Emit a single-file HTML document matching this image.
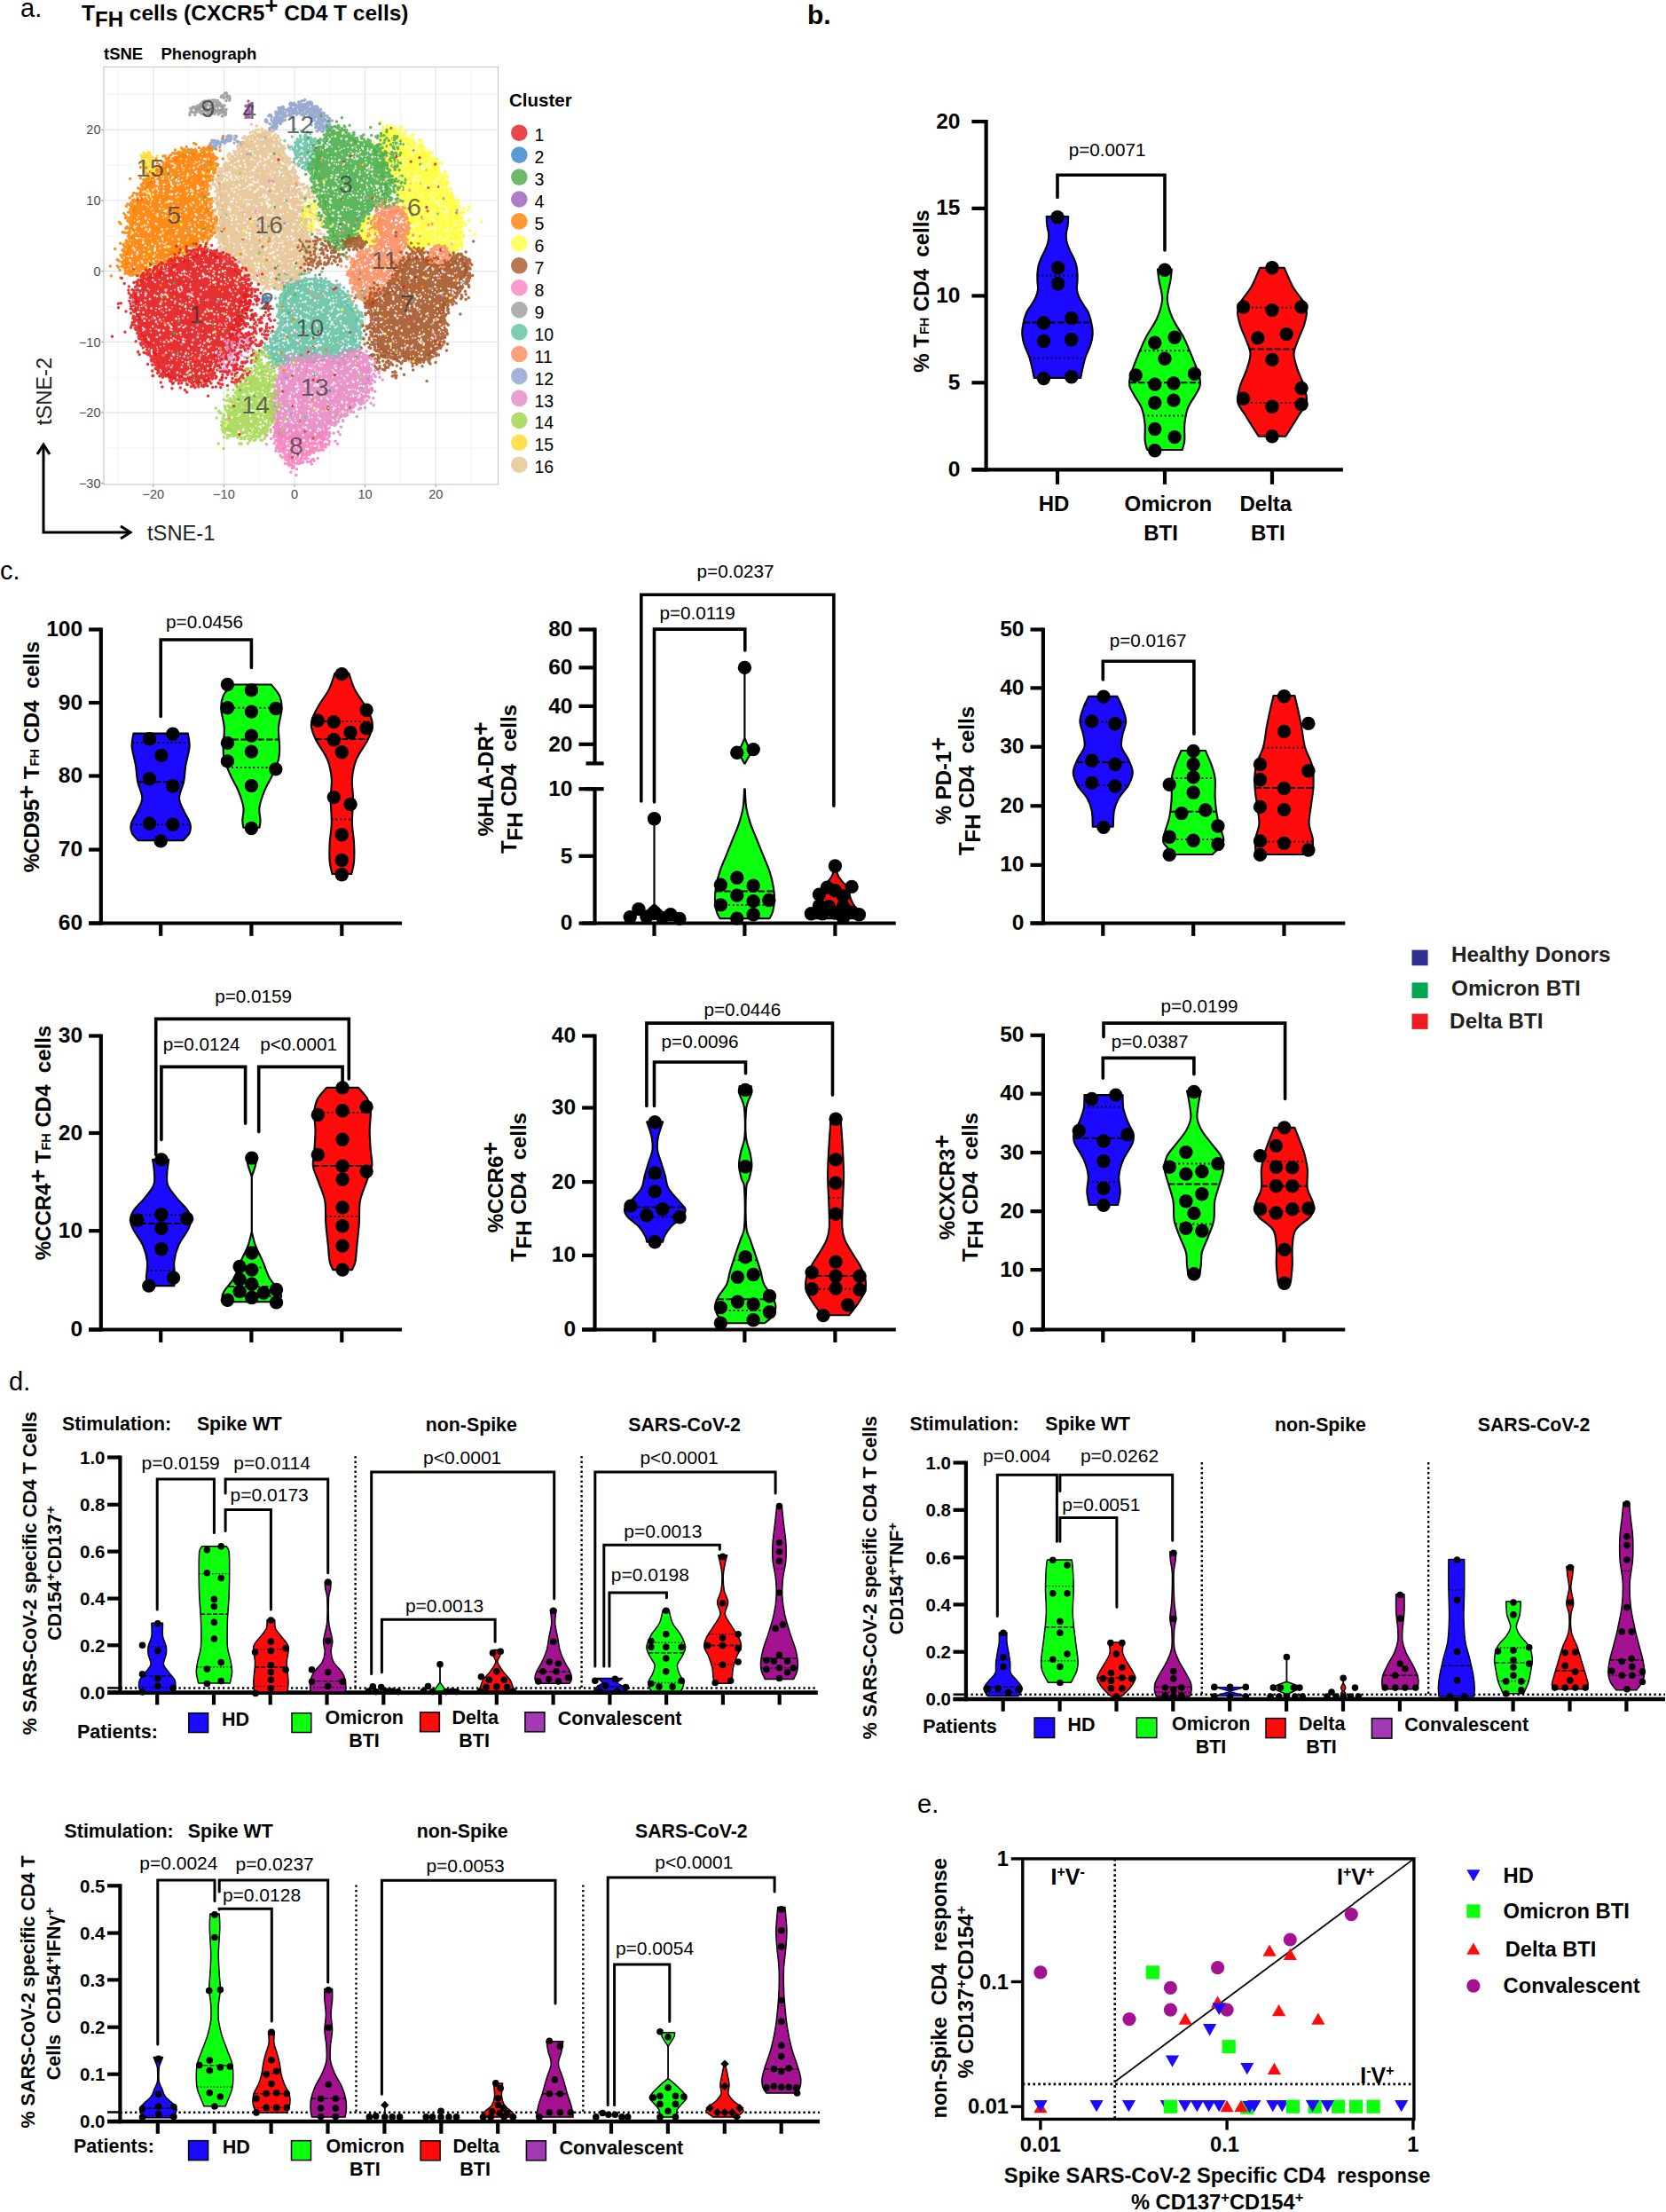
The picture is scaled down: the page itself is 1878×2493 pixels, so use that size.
<!DOCTYPE html>
<html lang="en"><head><meta charset="utf-8"><title>Figure</title>
<style>html,body{margin:0;padding:0;background:#fff}svg{display:block}text{font-family:"Liberation Sans",sans-serif}</style></head>
<body>
<svg width="1878" height="2493" viewBox="0 0 1878 2493">
<rect width="1878" height="2493" fill="#fff"/>
<g id="panel-b">
<text x="910" y="27" font-size="30" font-weight="bold" text-anchor="start" fill="#000">b.</text>
<line x1="1111.6" y1="134.9" x2="1111.6" y2="531.4" stroke="#000" stroke-width="4.2"/>
<line x1="1095.4" y1="529.3" x2="1513.9" y2="529.3" stroke="#000" stroke-width="4.2"/>
<line x1="1095.4" y1="137" x2="1111.6" y2="137" stroke="#000" stroke-width="4.2"/>
<text x="1082.4" y="144.5" font-size="24.5" font-weight="bold" text-anchor="end" fill="#000">20</text>
<line x1="1095.4" y1="234.9" x2="1111.6" y2="234.9" stroke="#000" stroke-width="4.2"/>
<text x="1082.4" y="242.4" font-size="24.5" font-weight="bold" text-anchor="end" fill="#000">15</text>
<line x1="1095.4" y1="333.4" x2="1111.6" y2="333.4" stroke="#000" stroke-width="4.2"/>
<text x="1082.4" y="340.9" font-size="24.5" font-weight="bold" text-anchor="end" fill="#000">10</text>
<line x1="1095.4" y1="431.3" x2="1111.6" y2="431.3" stroke="#000" stroke-width="4.2"/>
<text x="1082.4" y="438.8" font-size="24.5" font-weight="bold" text-anchor="end" fill="#000">5</text>
<line x1="1095.4" y1="529.3" x2="1111.6" y2="529.3" stroke="#000" stroke-width="4.2"/>
<text x="1082.4" y="536.8" font-size="24.5" font-weight="bold" text-anchor="end" fill="#000">0</text>
<line x1="1192" y1="529.3" x2="1192" y2="545.9" stroke="#000" stroke-width="4.2"/>
<line x1="1313" y1="529.3" x2="1313" y2="545.9" stroke="#000" stroke-width="4.2"/>
<line x1="1434" y1="529.3" x2="1434" y2="545.9" stroke="#000" stroke-width="4.2"/>
<text x="1046.5" y="328" font-size="24" font-weight="bold" text-anchor="middle" fill="#000" transform="rotate(-90 1046.5 328)">% T<tspan font-size="14.5">FH</tspan> CD4&#160; cells</text>
<path d="M1192 222.4V197.2H1313V281.9" fill="none" stroke="#000" stroke-width="3.6" stroke-linecap="round" stroke-linejoin="miter"/>
<text x="1248.1" y="175.6" font-size="20.7" font-weight="normal" text-anchor="middle" fill="#000">p=0.0071</text>
<text x="1188" y="575.7" font-size="24" font-weight="bold" text-anchor="middle" fill="#000">HD</text>
<text x="1316.9" y="575.7" font-size="24" font-weight="bold" text-anchor="middle" fill="#000">Omicron</text>
<text x="1308.6" y="608.9" font-size="24" font-weight="bold" text-anchor="middle" fill="#000">BTI</text>
<text x="1426.8" y="575.7" font-size="24" font-weight="bold" text-anchor="middle" fill="#000">Delta</text>
<text x="1429.3" y="608.9" font-size="24" font-weight="bold" text-anchor="middle" fill="#000">BTI</text>
<path d="M1204.2 244.1C1204.1 245.7 1204 251 1203.7 254.1C1203.3 257.3 1202.1 260.1 1201.9 263.1C1201.6 266.1 1201.8 269.1 1202.4 272.1C1203 275.1 1204.2 278.1 1205.5 281.2C1206.7 284.2 1208.7 287.2 1210 290.2C1211.3 293.1 1212.5 295.8 1213.2 298.8C1214 301.8 1214.3 305.2 1214.5 308.2C1214.7 311.2 1214.6 313.8 1214.5 316.8C1214.4 319.8 1213.6 323.2 1213.9 326.2C1214.2 329.2 1215 331.8 1216.3 334.8C1217.6 337.8 1219.9 341.2 1221.7 344.2C1223.5 347.2 1225.5 349.1 1227.1 352.8C1228.6 356.5 1230.1 362.4 1230.8 366.5C1231.6 370.6 1231.8 373.7 1231.6 377.3C1231.3 380.9 1230.7 383.9 1229.4 388.1C1228.1 392.3 1225.2 397.7 1223.6 402.5C1222.1 407.3 1220.9 413 1220 416.9C1219.1 420.8 1218.5 424.4 1218.2 425.9L1165.7 425.9C1165.4 424.4 1164.8 420.8 1163.9 416.9C1163 413 1161.8 407.3 1160.3 402.5C1158.7 397.7 1155.8 392.3 1154.5 388.1C1153.2 383.9 1152.6 380.9 1152.3 377.3C1152.1 373.7 1152.3 370.6 1153.1 366.5C1153.8 362.4 1155.3 356.5 1156.8 352.8C1158.4 349.1 1160.4 347.2 1162.2 344.2C1164 341.2 1166.4 337.8 1167.6 334.8C1168.9 331.8 1169.7 329.2 1170 326.2C1170.3 323.2 1169.5 319.8 1169.4 316.8C1169.4 313.8 1169.2 311.2 1169.4 308.2C1169.7 305.2 1170 301.8 1170.7 298.8C1171.5 295.8 1172.7 293.1 1173.9 290.2C1175.2 287.2 1177.2 284.2 1178.4 281.2C1179.7 278.1 1180.9 275.1 1181.5 272.1C1182.1 269.1 1182.3 266.1 1182.1 263.1C1181.8 260.1 1180.6 257.3 1180.3 254.1C1179.9 251 1179.8 245.7 1179.7 244.1Z" fill="#1b0aff" stroke="#000" stroke-width="2.1" stroke-linejoin="round"/>
<line x1="1153.9" y1="363.6" x2="1230.1" y2="363.6" stroke="#000" stroke-width="2" stroke-dasharray="7.2 2.4"/>
<line x1="1169.4" y1="310.7" x2="1214.5" y2="310.7" stroke="#000" stroke-width="2" stroke-dasharray="1.9 2.9"/>
<line x1="1160.5" y1="403.6" x2="1223.4" y2="403.6" stroke="#000" stroke-width="2" stroke-dasharray="1.9 2.9"/>
<circle cx="1192" cy="244.8" r="7.7"/>
<circle cx="1192.7" cy="301.7" r="7.7"/>
<circle cx="1192.7" cy="319.7" r="7.7"/>
<circle cx="1176.5" cy="364" r="7.7"/>
<circle cx="1207.8" cy="358.6" r="7.7"/>
<circle cx="1176.5" cy="384.5" r="7.7"/>
<circle cx="1207.8" cy="382.7" r="7.7"/>
<circle cx="1176.5" cy="426.6" r="7.7"/>
<circle cx="1207.8" cy="424.8" r="7.7"/>
<path d="M1320.9 303.5C1320.6 305.6 1320.3 310.4 1319.4 316.1C1318.6 321.8 1315.4 330.5 1315.8 337.7C1316.3 344.9 1318.8 352.1 1322 359.3C1325.1 366.5 1330.7 373.1 1334.6 380.9C1338.5 388.7 1342.5 398.9 1345.4 406.1C1348.3 413.3 1350.7 419.3 1351.9 424.1C1353.1 428.9 1353.4 431.3 1352.6 434.9C1351.8 438.5 1349.5 441.5 1347.2 445.7C1344.9 449.9 1340.9 454.7 1338.9 460.1C1336.9 465.5 1335.9 472.1 1335.3 478.1C1334.7 484.1 1335.7 491.4 1335.3 496.2C1334.9 501 1333.2 505.2 1332.8 507L1293.2 507C1292.7 505.2 1291.1 501 1290.6 496.2C1290.2 491.4 1291.2 484.1 1290.6 478.1C1290 472.1 1289 465.5 1287 460.1C1285.1 454.7 1281 449.9 1278.7 445.7C1276.5 441.5 1274.1 438.5 1273.3 434.9C1272.6 431.3 1272.9 428.9 1274.1 424.1C1275.3 419.3 1277.7 413.3 1280.5 406.1C1283.4 398.9 1287.5 388.7 1291.4 380.9C1295.3 373.1 1300.8 366.5 1304 359.3C1307.1 352.1 1309.7 344.9 1310.1 337.7C1310.5 330.5 1307.3 321.8 1306.5 316.1C1305.6 310.4 1305.3 305.6 1305 303.5Z" fill="#0cff0c" stroke="#000" stroke-width="2.1" stroke-linejoin="round"/>
<line x1="1273.6" y1="431.3" x2="1352.3" y2="431.3" stroke="#000" stroke-width="2" stroke-dasharray="7.2 2.4"/>
<line x1="1285.2" y1="395.3" x2="1340.7" y2="395.3" stroke="#000" stroke-width="2" stroke-dasharray="1.9 2.9"/>
<line x1="1288.7" y1="468.4" x2="1337.2" y2="468.4" stroke="#000" stroke-width="2" stroke-dasharray="1.9 2.9"/>
<circle cx="1313" cy="304.2" r="7.7"/>
<circle cx="1324.1" cy="380.2" r="7.7"/>
<circle cx="1301.8" cy="386.3" r="7.7"/>
<circle cx="1313" cy="404.3" r="7.7"/>
<circle cx="1280.2" cy="423" r="7.7"/>
<circle cx="1346.5" cy="421.2" r="7.7"/>
<circle cx="1301.8" cy="433.1" r="7.7"/>
<circle cx="1323" cy="432" r="7.7"/>
<circle cx="1301.8" cy="454" r="7.7"/>
<circle cx="1323" cy="451.1" r="7.7"/>
<circle cx="1301.8" cy="483.5" r="7.7"/>
<circle cx="1324.1" cy="492.6" r="7.7"/>
<circle cx="1301.8" cy="507.7" r="7.7"/>
<path d="M1447.7 301.7C1449.3 305.3 1453.7 316.7 1457.4 323.3C1461.1 329.9 1467.4 336.5 1470 341.3C1472.6 346.1 1472.9 347.9 1472.9 352.1C1472.9 356.3 1471.7 361.1 1470 366.5C1468.3 371.9 1464.7 379.1 1462.8 384.5C1460.9 389.9 1458.5 393.5 1458.5 398.9C1458.5 404.3 1460.9 410.9 1462.8 416.9C1464.7 422.9 1468.3 428.9 1470 434.9C1471.7 440.9 1473.8 447.5 1472.9 452.9C1472 458.3 1467.5 462.5 1464.6 467.3C1461.7 472.1 1458.2 477.7 1455.6 481.7C1453 485.8 1450.2 490.2 1449.1 491.8L1418.8 491.8C1417.8 490.2 1414.9 485.8 1412.4 481.7C1409.8 477.7 1406.2 472.1 1403.4 467.3C1400.5 462.5 1396 458.3 1395.1 452.9C1394.2 447.5 1396.3 440.9 1398 434.9C1399.6 428.9 1403.2 422.9 1405.2 416.9C1407.1 410.9 1409.5 404.3 1409.5 398.9C1409.5 393.5 1407.1 389.9 1405.2 384.5C1403.2 379.1 1399.6 371.9 1398 366.5C1396.3 361.1 1395.1 356.3 1395.1 352.1C1395.1 347.9 1395.4 346.1 1398 341.3C1400.5 336.5 1406.8 329.9 1410.6 323.3C1414.3 316.7 1418.7 305.3 1420.3 301.7Z" fill="#ff0b0b" stroke="#000" stroke-width="2.1" stroke-linejoin="round"/>
<line x1="1407.9" y1="393.5" x2="1460.1" y2="393.5" stroke="#000" stroke-width="2" stroke-dasharray="7.2 2.4"/>
<line x1="1396.5" y1="346.7" x2="1471.4" y2="346.7" stroke="#000" stroke-width="2" stroke-dasharray="1.9 2.9"/>
<line x1="1395.7" y1="454" x2="1472.2" y2="454" stroke="#000" stroke-width="2" stroke-dasharray="1.9 2.9"/>
<circle cx="1434" cy="301.7" r="7.7"/>
<circle cx="1401.6" cy="346" r="7.7"/>
<circle cx="1434" cy="349.6" r="7.7"/>
<circle cx="1467.1" cy="346" r="7.7"/>
<circle cx="1417.8" cy="380.9" r="7.7"/>
<circle cx="1450.2" cy="376.6" r="7.7"/>
<circle cx="1434" cy="405.4" r="7.7"/>
<circle cx="1467.1" cy="437.5" r="7.7"/>
<circle cx="1401.6" cy="449.3" r="7.7"/>
<circle cx="1434" cy="458.3" r="7.7"/>
<circle cx="1467.1" cy="455.8" r="7.7"/>
<circle cx="1434" cy="491.8" r="7.7"/>
</g>
<g id="panel-c">
<text x="0" y="652.5" font-size="29" font-weight="normal" text-anchor="start" fill="#000">c.</text>
<line x1="113.8" y1="707.4" x2="113.8" y2="1042.6" stroke="#000" stroke-width="4.2"/>
<line x1="100.1" y1="1040.5" x2="453.1" y2="1040.5" stroke="#000" stroke-width="4.2"/>
<line x1="100.1" y1="709.5" x2="113.8" y2="709.5" stroke="#000" stroke-width="4.2"/>
<text x="93.1" y="717" font-size="24.5" font-weight="bold" text-anchor="end" fill="#000">100</text>
<line x1="100.1" y1="792" x2="113.8" y2="792" stroke="#000" stroke-width="4.2"/>
<text x="93.1" y="799.5" font-size="24.5" font-weight="bold" text-anchor="end" fill="#000">90</text>
<line x1="100.1" y1="874.5" x2="113.8" y2="874.5" stroke="#000" stroke-width="4.2"/>
<text x="93.1" y="881.9" font-size="24.5" font-weight="bold" text-anchor="end" fill="#000">80</text>
<line x1="100.1" y1="957.6" x2="113.8" y2="957.6" stroke="#000" stroke-width="4.2"/>
<text x="93.1" y="965.1" font-size="24.5" font-weight="bold" text-anchor="end" fill="#000">70</text>
<line x1="100.1" y1="1040.5" x2="113.8" y2="1040.5" stroke="#000" stroke-width="4.2"/>
<text x="93.1" y="1048" font-size="24.5" font-weight="bold" text-anchor="end" fill="#000">60</text>
<line x1="181.2" y1="1040.5" x2="181.2" y2="1054.9" stroke="#000" stroke-width="4.2"/>
<line x1="283.4" y1="1040.5" x2="283.4" y2="1054.9" stroke="#000" stroke-width="4.2"/>
<line x1="385.3" y1="1040.5" x2="385.3" y2="1054.9" stroke="#000" stroke-width="4.2"/>
<text x="43.5" y="853" font-size="24" font-weight="bold" text-anchor="middle" fill="#000" transform="rotate(-90 43.5 853)">%CD95<tspan dy="-5" font-size="27">+</tspan><tspan dy="5" font-size="1">&#8203;</tspan> T<tspan font-size="14.5">FH</tspan> CD4&#160; cells</text>
<path d="M181.2 807.5V721H283.4V752.4" fill="none" stroke="#000" stroke-width="3.6" stroke-linecap="round" stroke-linejoin="miter"/>
<text x="230.5" y="708.4" font-size="20.7" font-weight="normal" text-anchor="middle" fill="#000">p=0.0456</text>
<path d="M211.8 826.6C212.1 829.1 214 835.6 213.6 841.7C213.1 847.8 210.3 856.7 209.2 863.3C208.2 869.9 208.3 875.3 207.1 881.3C205.9 887.3 202 893.9 202 899.3C202 904.7 205 908.9 207.1 913.7C209.1 918.5 213.2 923.9 214.3 928.1C215.4 932.3 214.9 935.7 213.6 938.9C212.2 942.1 207.6 945.8 206.4 947.2L155.9 947.2C154.7 945.8 150.1 942.1 148.7 938.9C147.4 935.7 146.9 932.3 148 928.1C149.1 923.9 153.2 918.5 155.2 913.7C157.3 908.9 160.3 904.7 160.3 899.3C160.3 893.9 156.4 887.3 155.2 881.3C154 875.3 154.1 869.9 153.1 863.3C152 856.7 149.2 847.8 148.7 841.7C148.3 835.6 150.2 829.1 150.5 826.6Z" fill="#1b0aff" stroke="#000" stroke-width="2.1" stroke-linejoin="round"/>
<line x1="155.2" y1="881.3" x2="207.1" y2="881.3" stroke="#000" stroke-width="2" stroke-dasharray="7.2 2.4"/>
<line x1="149.3" y1="837" x2="213" y2="837" stroke="#000" stroke-width="2" stroke-dasharray="1.9 2.9"/>
<line x1="148.1" y1="929.2" x2="214.2" y2="929.2" stroke="#000" stroke-width="2" stroke-dasharray="1.9 2.9"/>
<circle cx="168.5" cy="832.7" r="7.7"/>
<circle cx="194.8" cy="827.3" r="7.7"/>
<circle cx="181.9" cy="851.4" r="7.7"/>
<circle cx="168.5" cy="877.7" r="7.7"/>
<circle cx="194.8" cy="886" r="7.7"/>
<circle cx="168.5" cy="928.1" r="7.7"/>
<circle cx="194.8" cy="929.2" r="7.7"/>
<circle cx="181.2" cy="947.9" r="7.7"/>
<path d="M305.8 771.5C307.3 773.6 313.1 779.6 315.1 784.1C317.1 788.6 317.8 792.5 317.6 798.5C317.5 804.5 314.5 812.9 314 820.1C313.6 827.3 315.1 835.7 315.1 841.7C315.1 847.7 315.4 850.7 314 856.1C312.7 861.5 309.5 868.1 306.8 874.1C304.1 880.1 300.2 886.1 297.8 892.1C295.4 898.1 293.2 904.7 292.4 910.1C291.7 915.5 293.5 920.7 293.5 924.5C293.5 928.3 292.6 931.4 292.4 932.8L274.4 932.8C274.2 931.4 273.3 928.3 273.3 924.5C273.3 920.7 275.1 915.5 274.4 910.1C273.7 904.7 271.4 898.1 269 892.1C266.6 886.1 262.7 880.1 260 874.1C257.3 868.1 254.2 861.5 252.8 856.1C251.4 850.7 251.7 847.7 251.7 841.7C251.7 835.7 253.2 827.3 252.8 820.1C252.4 812.9 249.4 804.5 249.2 798.5C249 792.5 249.8 788.6 251.7 784.1C253.7 779.6 259.5 773.6 261.1 771.5Z" fill="#0cff0c" stroke="#000" stroke-width="2.1" stroke-linejoin="round"/>
<line x1="252.2" y1="833.4" x2="314.7" y2="833.4" stroke="#000" stroke-width="2" stroke-dasharray="7.2 2.4"/>
<line x1="249.3" y1="797.7" x2="317.5" y2="797.7" stroke="#000" stroke-width="2" stroke-dasharray="1.9 2.9"/>
<line x1="256.4" y1="865.1" x2="310.4" y2="865.1" stroke="#000" stroke-width="2" stroke-dasharray="1.9 2.9"/>
<circle cx="256.4" cy="771.5" r="7.7"/>
<circle cx="283.4" cy="777.9" r="7.7"/>
<circle cx="256.4" cy="797.7" r="7.7"/>
<circle cx="283.4" cy="802.1" r="7.7"/>
<circle cx="310.8" cy="798.5" r="7.7"/>
<circle cx="283.4" cy="829.1" r="7.7"/>
<circle cx="256.4" cy="837.4" r="7.7"/>
<circle cx="283.4" cy="847.1" r="7.7"/>
<circle cx="256.4" cy="857.9" r="7.7"/>
<circle cx="310.8" cy="866.9" r="7.7"/>
<circle cx="283.4" cy="885.6" r="7.7"/>
<circle cx="283.4" cy="933.5" r="7.7"/>
<path d="M393.3 758.8C394.4 761.8 396.8 770.9 399.8 776.9C402.8 782.9 408.2 789.5 411.3 794.9C414.4 800.3 417.1 805.1 418.5 809.3C419.9 813.5 420.3 815.9 419.6 820.1C418.8 824.3 417.2 828.5 414.2 834.5C411.2 840.5 404.4 848.9 401.6 856.1C398.7 863.3 397.5 870.5 396.9 877.7C396.3 884.9 398 890.9 398 899.3C398 907.7 396.7 919.7 396.9 928.1C397.1 936.5 398.7 942.5 399 949.7C399.4 956.9 399.5 965.4 399 971.3C398.6 977.2 396.6 982.7 396.2 985L374.5 985C374.1 982.7 372.1 977.2 371.7 971.3C371.2 965.4 371.3 956.9 371.7 949.7C372 942.5 373.6 936.5 373.8 928.1C374 919.7 372.7 907.7 372.7 899.3C372.7 890.9 374.4 884.9 373.8 877.7C373.2 870.5 372 863.3 369.1 856.1C366.3 848.9 359.5 840.5 356.5 834.5C353.5 828.5 351.9 824.3 351.1 820.1C350.4 815.9 350.8 813.5 352.2 809.3C353.6 805.1 356.3 800.3 359.4 794.9C362.5 789.5 367.9 782.9 370.9 776.9C373.9 770.9 376.3 761.8 377.4 758.8Z" fill="#ff0b0b" stroke="#000" stroke-width="2.1" stroke-linejoin="round"/>
<line x1="356" y1="833" x2="414.7" y2="833" stroke="#000" stroke-width="2" stroke-dasharray="7.2 2.4"/>
<line x1="351.9" y1="812.9" x2="418.8" y2="812.9" stroke="#000" stroke-width="2" stroke-dasharray="1.9 2.9"/>
<line x1="373.6" y1="923.4" x2="397" y2="923.4" stroke="#000" stroke-width="2" stroke-dasharray="1.9 2.9"/>
<circle cx="385.3" cy="759.6" r="7.7"/>
<circle cx="413.1" cy="800.3" r="7.7"/>
<circle cx="358.3" cy="812.1" r="7.7"/>
<circle cx="376.3" cy="813.6" r="7.7"/>
<circle cx="395.1" cy="825.5" r="7.7"/>
<circle cx="413.1" cy="820.8" r="7.7"/>
<circle cx="376.3" cy="833.8" r="7.7"/>
<circle cx="385.3" cy="847.8" r="7.7"/>
<circle cx="376.3" cy="898.6" r="7.7"/>
<circle cx="395.1" cy="906.5" r="7.7"/>
<circle cx="385.3" cy="940.7" r="7.7"/>
<circle cx="385.3" cy="969.5" r="7.7"/>
<circle cx="385.3" cy="985.7" r="7.7"/>
<line x1="670.5" y1="707.4" x2="670.5" y2="860.4" stroke="#000" stroke-width="4.2"/>
<line x1="670.5" y1="889.2" x2="670.5" y2="1042.6" stroke="#000" stroke-width="4.2"/>
<line x1="660.5" y1="860.4" x2="680.6" y2="860.4" stroke="#000" stroke-width="4.2"/>
<line x1="660.5" y1="889.2" x2="680.6" y2="889.2" stroke="#000" stroke-width="4.2"/>
<line x1="656.1" y1="1040.5" x2="1009.8" y2="1040.5" stroke="#000" stroke-width="4.2"/>
<line x1="652.5" y1="709.5" x2="670.5" y2="709.5" stroke="#000" stroke-width="4.2"/>
<text x="645.5" y="717.4" font-size="24.5" font-weight="bold" text-anchor="end" fill="#000">80</text>
<line x1="652.5" y1="752.4" x2="670.5" y2="752.4" stroke="#000" stroke-width="4.2"/>
<text x="645.5" y="760.3" font-size="24.5" font-weight="bold" text-anchor="end" fill="#000">60</text>
<line x1="652.5" y1="795.9" x2="670.5" y2="795.9" stroke="#000" stroke-width="4.2"/>
<text x="645.5" y="803.8" font-size="24.5" font-weight="bold" text-anchor="end" fill="#000">40</text>
<line x1="652.5" y1="838.8" x2="670.5" y2="838.8" stroke="#000" stroke-width="4.2"/>
<text x="645.5" y="846.7" font-size="24.5" font-weight="bold" text-anchor="end" fill="#000">20</text>
<line x1="652.5" y1="889.2" x2="670.5" y2="889.2" stroke="#000" stroke-width="4.2"/>
<text x="645.5" y="897.1" font-size="24.5" font-weight="bold" text-anchor="end" fill="#000">10</text>
<line x1="652.5" y1="964.8" x2="670.5" y2="964.8" stroke="#000" stroke-width="4.2"/>
<text x="645.5" y="972.7" font-size="24.5" font-weight="bold" text-anchor="end" fill="#000">5</text>
<line x1="652.5" y1="1040.5" x2="670.5" y2="1040.5" stroke="#000" stroke-width="4.2"/>
<text x="645.5" y="1048.4" font-size="24.5" font-weight="bold" text-anchor="end" fill="#000">0</text>
<line x1="737.5" y1="1040.5" x2="737.5" y2="1054.9" stroke="#000" stroke-width="4.2"/>
<line x1="839.4" y1="1040.5" x2="839.4" y2="1054.9" stroke="#000" stroke-width="4.2"/>
<line x1="941.4" y1="1040.5" x2="941.4" y2="1054.9" stroke="#000" stroke-width="4.2"/>
<text x="556" y="878" font-size="24" font-weight="bold" text-anchor="middle" fill="#000" transform="rotate(-90 556 878)">%HLA-DR<tspan dy="-5" font-size="27">+</tspan><tspan dy="5" font-size="1">&#8203;</tspan></text>
<text x="582" y="878" font-size="24" font-weight="bold" text-anchor="middle" fill="#000" transform="rotate(-90 582 878)">T<tspan dy="6.5" font-size="24">FH</tspan><tspan dy="-6.5" font-size="1">&#8203;</tspan> CD4&#160; cells</text>
<path d="M722.8 902.9V670.3H939.9V908.3" fill="none" stroke="#000" stroke-width="3.6" stroke-linecap="round" stroke-linejoin="miter"/>
<text x="829" y="650.8" font-size="20.7" font-weight="normal" text-anchor="middle" fill="#000">p=0.0237</text>
<path d="M737.5 904V709.1H839.8V732.9" fill="none" stroke="#000" stroke-width="3.6" stroke-linecap="round" stroke-linejoin="miter"/>
<text x="786.1" y="698.3" font-size="20.7" font-weight="normal" text-anchor="middle" fill="#000">p=0.0119</text>
<line x1="737.5" y1="922.7" x2="737.5" y2="1022.5" stroke="#000" stroke-width="2.2"/>
<path d="M738.2 1019.9C739.2 1020.8 742.4 1023.7 744 1025.3C745.6 1027 747.5 1028.4 747.6 1029.7C747.7 1031 746.3 1032.2 744.7 1033.3C743.2 1034.4 739.3 1035.7 738.2 1036.2L736.8 1036.2C735.7 1035.7 731.9 1034.4 730.3 1033.3C728.8 1032.2 727.3 1031 727.4 1029.7C727.6 1028.4 729.5 1027 731 1025.3C732.6 1023.7 735.8 1020.8 736.8 1019.9Z" fill="#1b0aff" stroke="#000" stroke-width="2.1" stroke-linejoin="round"/>
<circle cx="737.5" cy="922.7" r="7.7"/>
<circle cx="710.2" cy="1033.6" r="7.7"/>
<circle cx="719.9" cy="1024.6" r="7.7"/>
<circle cx="728.9" cy="1033.3" r="7.7"/>
<circle cx="737.5" cy="1028.2" r="7.7"/>
<circle cx="746.9" cy="1034.4" r="7.7"/>
<circle cx="755.9" cy="1030.8" r="7.7"/>
<circle cx="766" cy="1035.4" r="7.7"/>
<line x1="839.4" y1="752.4" x2="839.4" y2="836.3" stroke="#000" stroke-width="2.2"/>
<path d="M839.8 832.7C840.5 834.2 842.5 839.3 843.8 841.7C845 844.1 847.4 845.2 847.4 847.1C847.4 849 845 851 843.8 853.2C842.5 855.4 840.5 859.2 839.8 860.4L839.1 860.4C838.4 859.2 836.4 855.4 835.1 853.2C833.9 851 831.5 849 831.5 847.1C831.5 845.2 833.9 844.1 835.1 841.7C836.4 839.3 838.4 834.2 839.1 832.7Z" fill="#0cff0c" stroke="#000" stroke-width="2.1" stroke-linejoin="round"/>
<circle cx="839.4" cy="752.4" r="7.7"/>
<circle cx="830.8" cy="848.2" r="7.7"/>
<circle cx="849.2" cy="844.6" r="7.7"/>
<path d="M839.8 889.2C840 892.7 840.2 903.6 841.2 910.1C842.3 916.6 843.9 922.1 845.9 928.1C847.9 934.1 850.7 940.1 853.1 946.1C855.5 952.1 857.9 958.1 860.3 964.1C862.7 970.1 865.6 976.1 867.5 982.1C869.5 988.1 871 994.7 871.9 1000.1C872.8 1005.5 873.1 1010 872.9 1014.5C872.8 1019 872 1023.7 871.1 1027.2C870.2 1030.6 868.1 1033.8 867.5 1035.1L811.4 1035.1C810.8 1033.8 808.7 1030.6 807.8 1027.2C806.9 1023.7 806.1 1019 806 1014.5C805.8 1010 806.1 1005.5 807 1000.1C807.9 994.7 809.4 988.1 811.4 982.1C813.3 976.1 816.2 970.1 818.6 964.1C821 958.1 823.4 952.1 825.8 946.1C828.2 940.1 831 934.1 833 928.1C834.9 922.1 836.6 916.6 837.6 910.1C838.7 903.6 838.8 892.7 839.1 889.2Z" fill="#0cff0c" stroke="#000" stroke-width="2.1" stroke-linejoin="round"/>
<line x1="806.7" y1="1004.5" x2="872.2" y2="1004.5" stroke="#000" stroke-width="2" stroke-dasharray="7.2 2.4"/>
<line x1="806.7" y1="1019.9" x2="872.2" y2="1019.9" stroke="#000" stroke-width="2" stroke-dasharray="1.9 2.9"/>
<circle cx="812.4" cy="997.3" r="7.7"/>
<circle cx="830.8" cy="989.3" r="7.7"/>
<circle cx="849.2" cy="998.3" r="7.7"/>
<circle cx="830.8" cy="1009.1" r="7.7"/>
<circle cx="866.8" cy="1014.5" r="7.7"/>
<circle cx="812.4" cy="1019.9" r="7.7"/>
<circle cx="849.2" cy="1015.6" r="7.7"/>
<circle cx="849.2" cy="1030.8" r="7.7"/>
<circle cx="830.8" cy="1035.1" r="7.7"/>
<path d="M942.4 974.9C942.7 976.7 942.9 982.4 944.2 985.7C945.6 989 948.3 992.3 950.4 994.7C952.4 997.1 955.2 997.4 956.5 1000.1C957.8 1002.8 957.1 1007.3 958.3 1010.9C959.5 1014.5 961.2 1018.4 963.7 1021.7C966.2 1025 972.6 1028.5 973.1 1030.8C973.5 1033 967.7 1034.4 966.6 1035.1L916.2 1035.1C915.1 1034.4 909.2 1033 909.7 1030.8C910.2 1028.5 916.6 1025 919 1021.7C921.5 1018.4 923.2 1014.5 924.4 1010.9C925.6 1007.3 924.9 1002.8 926.2 1000.1C927.6 997.4 930.3 997.1 932.4 994.7C934.4 992.3 937.2 989 938.5 985.7C939.8 982.4 940 976.7 940.3 974.9Z" fill="#ff0b0b" stroke="#000" stroke-width="2.1" stroke-linejoin="round"/>
<line x1="916" y1="1024.6" x2="966.7" y2="1024.6" stroke="#000" stroke-width="2" stroke-dasharray="7.2 2.4"/>
<circle cx="941.4" cy="976" r="7.7"/>
<circle cx="960.1" cy="999.4" r="7.7"/>
<circle cx="932.4" cy="1000.1" r="7.7"/>
<circle cx="923.4" cy="1008.1" r="7.7"/>
<circle cx="941.4" cy="1003.7" r="7.7"/>
<circle cx="950.4" cy="1009.9" r="7.7"/>
<circle cx="923.4" cy="1021" r="7.7"/>
<circle cx="934.2" cy="1021.7" r="7.7"/>
<circle cx="950.4" cy="1021.7" r="7.7"/>
<circle cx="914.4" cy="1029.7" r="7.7"/>
<circle cx="927" cy="1029.7" r="7.7"/>
<circle cx="941.4" cy="1029" r="7.7"/>
<circle cx="959.4" cy="1028.2" r="7.7"/>
<circle cx="968.4" cy="1030.8" r="7.7"/>
<circle cx="950.4" cy="1034.4" r="7.7"/>
<line x1="1175.9" y1="707.4" x2="1175.9" y2="1042.6" stroke="#000" stroke-width="4.2"/>
<line x1="1161.5" y1="1040.5" x2="1516.3" y2="1040.5" stroke="#000" stroke-width="4.2"/>
<line x1="1161.5" y1="709.5" x2="1175.9" y2="709.5" stroke="#000" stroke-width="4.2"/>
<text x="1154.5" y="717" font-size="24.5" font-weight="bold" text-anchor="end" fill="#000">50</text>
<line x1="1161.5" y1="775.4" x2="1175.9" y2="775.4" stroke="#000" stroke-width="4.2"/>
<text x="1154.5" y="782.9" font-size="24.5" font-weight="bold" text-anchor="end" fill="#000">40</text>
<line x1="1161.5" y1="841.7" x2="1175.9" y2="841.7" stroke="#000" stroke-width="4.2"/>
<text x="1154.5" y="849.2" font-size="24.5" font-weight="bold" text-anchor="end" fill="#000">30</text>
<line x1="1161.5" y1="908.3" x2="1175.9" y2="908.3" stroke="#000" stroke-width="4.2"/>
<text x="1154.5" y="915.8" font-size="24.5" font-weight="bold" text-anchor="end" fill="#000">20</text>
<line x1="1161.5" y1="974.9" x2="1175.9" y2="974.9" stroke="#000" stroke-width="4.2"/>
<text x="1154.5" y="982.4" font-size="24.5" font-weight="bold" text-anchor="end" fill="#000">10</text>
<line x1="1161.5" y1="1040.5" x2="1175.9" y2="1040.5" stroke="#000" stroke-width="4.2"/>
<text x="1154.5" y="1048" font-size="24.5" font-weight="bold" text-anchor="end" fill="#000">0</text>
<line x1="1243.3" y1="1040.5" x2="1243.3" y2="1054.9" stroke="#000" stroke-width="4.2"/>
<line x1="1345.2" y1="1040.5" x2="1345.2" y2="1054.9" stroke="#000" stroke-width="4.2"/>
<line x1="1447.5" y1="1040.5" x2="1447.5" y2="1054.9" stroke="#000" stroke-width="4.2"/>
<text x="1072" y="880" font-size="24" font-weight="bold" text-anchor="middle" fill="#000" transform="rotate(-90 1072 880)">% PD-1<tspan dy="-5" font-size="27">+</tspan><tspan dy="5" font-size="1">&#8203;</tspan></text>
<text x="1098" y="880" font-size="24" font-weight="bold" text-anchor="middle" fill="#000" transform="rotate(-90 1098 880)">T<tspan dy="6.5" font-size="24">FH</tspan><tspan dy="-6.5" font-size="1">&#8203;</tspan> CD4&#160; cells</text>
<path d="M1243.3 766V745.2H1345.9V827.3" fill="none" stroke="#000" stroke-width="3.6" stroke-linecap="round" stroke-linejoin="miter"/>
<text x="1294.1" y="729.3" font-size="20.7" font-weight="normal" text-anchor="middle" fill="#000">p=0.0167</text>
<path d="M1259.5 784.8C1260.5 787.1 1264 793.8 1265.6 798.5C1267.2 803.1 1269.2 808.1 1269.2 812.9C1269.2 817.7 1266.5 822.5 1265.6 827.3C1264.8 832.1 1263.1 836.9 1264.2 841.7C1265.3 846.5 1270 851.3 1272.1 856.1C1274.2 860.9 1276.8 865.7 1276.8 870.5C1276.8 875.3 1274.7 880.1 1272.1 884.9C1269.5 889.7 1264 894.5 1261.3 899.3C1258.6 904.1 1257 908.3 1255.9 913.7C1254.8 919.1 1255 928.7 1254.8 931.7L1231.8 931.7C1231.6 928.7 1231.8 919.1 1230.7 913.7C1229.6 908.3 1228 904.1 1225.3 899.3C1222.6 894.5 1217.1 889.7 1214.5 884.9C1211.9 880.1 1209.8 875.3 1209.8 870.5C1209.8 865.7 1212.4 860.9 1214.5 856.1C1216.6 851.3 1221.3 846.5 1222.4 841.7C1223.5 836.9 1221.8 832.1 1221 827.3C1220.1 822.5 1217.4 817.7 1217.4 812.9C1217.4 808.1 1219.3 803.1 1221 798.5C1222.6 793.8 1226.1 787.1 1227.1 784.8Z" fill="#1b0aff" stroke="#000" stroke-width="2.1" stroke-linejoin="round"/>
<line x1="1213.5" y1="859" x2="1273" y2="859" stroke="#000" stroke-width="2" stroke-dasharray="7.2 2.4"/>
<line x1="1217.5" y1="813.6" x2="1269" y2="813.6" stroke="#000" stroke-width="2" stroke-dasharray="1.9 2.9"/>
<line x1="1214.5" y1="884.9" x2="1272.1" y2="884.9" stroke="#000" stroke-width="2" stroke-dasharray="1.9 2.9"/>
<circle cx="1244" cy="785.1" r="7.7"/>
<circle cx="1230.7" cy="812.9" r="7.7"/>
<circle cx="1257" cy="815.7" r="7.7"/>
<circle cx="1230.7" cy="857.2" r="7.7"/>
<circle cx="1257" cy="861.5" r="7.7"/>
<circle cx="1230.7" cy="882.4" r="7.7"/>
<circle cx="1257" cy="886" r="7.7"/>
<circle cx="1244" cy="932.4" r="7.7"/>
<path d="M1358.9 846C1360.1 848.9 1364.3 858 1366.1 863.3C1367.9 868.6 1369.1 871.7 1369.7 877.7C1370.3 883.7 1369.3 892.1 1369.7 899.3C1370.1 906.5 1370.9 914.3 1372.2 920.9C1373.5 927.5 1376.5 934.1 1377.6 938.9C1378.7 943.7 1380.5 945.7 1378.7 949.7C1376.9 953.7 1368.8 960.8 1366.8 963L1323.6 963C1321.6 960.8 1313.5 953.7 1311.7 949.7C1309.9 945.7 1311.7 943.7 1312.8 938.9C1313.9 934.1 1316.9 927.5 1318.2 920.9C1319.5 914.3 1320.3 906.5 1320.7 899.3C1321.1 892.1 1320.1 883.7 1320.7 877.7C1321.3 871.7 1322.5 868.6 1324.3 863.3C1326.1 858 1330.3 848.9 1331.5 846Z" fill="#0cff0c" stroke="#000" stroke-width="2.1" stroke-linejoin="round"/>
<line x1="1318.9" y1="914.8" x2="1371.5" y2="914.8" stroke="#000" stroke-width="2" stroke-dasharray="7.2 2.4"/>
<line x1="1320.9" y1="877" x2="1369.5" y2="877" stroke="#000" stroke-width="2" stroke-dasharray="1.9 2.9"/>
<line x1="1312.1" y1="946.1" x2="1378.3" y2="946.1" stroke="#000" stroke-width="2" stroke-dasharray="1.9 2.9"/>
<circle cx="1345.2" cy="846.4" r="7.7"/>
<circle cx="1345.2" cy="861.5" r="7.7"/>
<circle cx="1345.2" cy="875.9" r="7.7"/>
<circle cx="1318.2" cy="884.2" r="7.7"/>
<circle cx="1345.2" cy="893.2" r="7.7"/>
<circle cx="1331.9" cy="916.6" r="7.7"/>
<circle cx="1358.9" cy="913" r="7.7"/>
<circle cx="1372.9" cy="931" r="7.7"/>
<circle cx="1318.2" cy="943.2" r="7.7"/>
<circle cx="1345.2" cy="947.2" r="7.7"/>
<circle cx="1372.9" cy="951.5" r="7.7"/>
<circle cx="1318.2" cy="963.4" r="7.7"/>
<path d="M1459.4 784.1C1460.1 787.1 1462.4 796.1 1463.7 802.1C1465 808.1 1466.1 813.5 1467.3 820.1C1468.5 826.7 1468.9 834.5 1470.9 841.7C1472.9 848.9 1477.6 856.1 1479.2 863.3C1480.8 870.5 1480.8 877.7 1480.6 884.9C1480.4 892.1 1478.9 899.3 1478.1 906.5C1477.3 913.7 1475.3 921.5 1475.6 928.1C1475.9 934.7 1479.3 940.3 1479.9 946.1C1480.5 951.9 1479.3 960.2 1479.2 963L1415.8 963C1415.7 960.2 1414.5 951.9 1415.1 946.1C1415.7 940.3 1419.1 934.7 1419.4 928.1C1419.7 921.5 1417.7 913.7 1416.9 906.5C1416 899.3 1414.5 892.1 1414.4 884.9C1414.2 877.7 1414.2 870.5 1415.8 863.3C1417.4 856.1 1422.1 848.9 1424.1 841.7C1426.1 834.5 1426.5 826.7 1427.7 820.1C1428.9 813.5 1430 808.1 1431.3 802.1C1432.6 796.1 1434.9 787.1 1435.6 784.1Z" fill="#ff0b0b" stroke="#000" stroke-width="2.1" stroke-linejoin="round"/>
<line x1="1414.7" y1="888.1" x2="1480.2" y2="888.1" stroke="#000" stroke-width="2" stroke-dasharray="7.2 2.4"/>
<line x1="1423.7" y1="842.8" x2="1471.3" y2="842.8" stroke="#000" stroke-width="2" stroke-dasharray="1.9 2.9"/>
<line x1="1415.2" y1="948.6" x2="1479.8" y2="948.6" stroke="#000" stroke-width="2" stroke-dasharray="1.9 2.9"/>
<circle cx="1447.5" cy="784.8" r="7.7"/>
<circle cx="1474.9" cy="815.4" r="7.7"/>
<circle cx="1447.5" cy="824.4" r="7.7"/>
<circle cx="1420.5" cy="861.5" r="7.7"/>
<circle cx="1474.9" cy="868.7" r="7.7"/>
<circle cx="1420.5" cy="878.8" r="7.7"/>
<circle cx="1447.5" cy="888.5" r="7.7"/>
<circle cx="1420.5" cy="909.4" r="7.7"/>
<circle cx="1447.5" cy="912.6" r="7.7"/>
<circle cx="1420.5" cy="947.9" r="7.7"/>
<circle cx="1447.5" cy="950.4" r="7.7"/>
<circle cx="1474.9" cy="958" r="7.7"/>
<circle cx="1420.5" cy="963.4" r="7.7"/>
<line x1="113.8" y1="1165.4" x2="113.8" y2="1500.6" stroke="#000" stroke-width="4.2"/>
<line x1="100.1" y1="1498.5" x2="453.1" y2="1498.5" stroke="#000" stroke-width="4.2"/>
<line x1="100.1" y1="1167.5" x2="113.8" y2="1167.5" stroke="#000" stroke-width="4.2"/>
<text x="93.1" y="1175" font-size="24.5" font-weight="bold" text-anchor="end" fill="#000">30</text>
<line x1="100.1" y1="1277" x2="113.8" y2="1277" stroke="#000" stroke-width="4.2"/>
<text x="93.1" y="1284.5" font-size="24.5" font-weight="bold" text-anchor="end" fill="#000">20</text>
<line x1="100.1" y1="1387.2" x2="113.8" y2="1387.2" stroke="#000" stroke-width="4.2"/>
<text x="93.1" y="1394.7" font-size="24.5" font-weight="bold" text-anchor="end" fill="#000">10</text>
<line x1="100.1" y1="1498.5" x2="113.8" y2="1498.5" stroke="#000" stroke-width="4.2"/>
<text x="93.1" y="1506" font-size="24.5" font-weight="bold" text-anchor="end" fill="#000">0</text>
<line x1="181.2" y1="1498.5" x2="181.2" y2="1512.9" stroke="#000" stroke-width="4.2"/>
<line x1="283.4" y1="1498.5" x2="283.4" y2="1512.9" stroke="#000" stroke-width="4.2"/>
<line x1="385.3" y1="1498.5" x2="385.3" y2="1512.9" stroke="#000" stroke-width="4.2"/>
<text x="57" y="1288" font-size="24" font-weight="bold" text-anchor="middle" fill="#000" transform="rotate(-90 57 1288)">%CCR4<tspan dy="-5" font-size="27">+</tspan><tspan dy="5" font-size="1">&#8203;</tspan> T<tspan font-size="14.5">FH</tspan> CD4&#160; cells</text>
<path d="M175.7 1301.5V1148.4H393.3V1216.1" fill="none" stroke="#000" stroke-width="3.6" stroke-linecap="round" stroke-linejoin="miter"/>
<text x="285.6" y="1130.4" font-size="20.7" font-weight="normal" text-anchor="middle" fill="#000">p=0.0159</text>
<path d="M181.9 1284.6V1202.4H276.6V1266.2" fill="none" stroke="#000" stroke-width="3.6" stroke-linecap="round" stroke-linejoin="miter"/>
<text x="227.2" y="1183.7" font-size="20.7" font-weight="normal" text-anchor="middle" fill="#000">p=0.0124</text>
<path d="M291.7 1275.6V1202.4H386.1V1220.5" fill="none" stroke="#000" stroke-width="3.6" stroke-linecap="round" stroke-linejoin="miter"/>
<text x="336.7" y="1184.4" font-size="20.7" font-weight="normal" text-anchor="middle" fill="#000">p&lt;0.0001</text>
<path d="M190.2 1306.9C189.9 1309.3 188.5 1316.5 188.4 1321.3C188.2 1326.1 187.3 1330.9 189.1 1335.7C190.9 1340.5 195.4 1345.3 199.2 1350.1C202.9 1354.9 209.1 1360.3 211.8 1364.5C214.5 1368.7 215.4 1371.7 215.4 1375.3C215.4 1378.9 214.2 1381.3 211.8 1386.1C209.4 1390.9 203.5 1398.1 201 1404.1C198.4 1410.1 196.9 1416.1 196.3 1422.1C195.7 1428.1 197.4 1435.6 197.4 1440.1C197.4 1444.6 196.5 1447.6 196.3 1449.1L166 1449.1C165.8 1447.6 164.9 1444.6 164.9 1440.1C164.9 1435.6 166.6 1428.1 166 1422.1C165.4 1416.1 163.9 1410.1 161.3 1404.1C158.8 1398.1 152.9 1390.9 150.5 1386.1C148.1 1381.3 146.9 1378.9 146.9 1375.3C146.9 1371.7 147.8 1368.7 150.5 1364.5C153.2 1360.3 159.4 1354.9 163.1 1350.1C166.9 1345.3 171.4 1340.5 173.2 1335.7C175 1330.9 174.1 1326.1 173.9 1321.3C173.8 1316.5 172.4 1309.3 172.1 1306.9Z" fill="#1b0aff" stroke="#000" stroke-width="2.1" stroke-linejoin="round"/>
<line x1="148.1" y1="1378.9" x2="214.2" y2="1378.9" stroke="#000" stroke-width="2" stroke-dasharray="7.2 2.4"/>
<line x1="149" y1="1369.2" x2="213.3" y2="1369.2" stroke="#000" stroke-width="2" stroke-dasharray="1.9 2.9"/>
<line x1="165.4" y1="1431.9" x2="196.9" y2="1431.9" stroke="#000" stroke-width="2" stroke-dasharray="1.9 2.9"/>
<circle cx="181.9" cy="1306.9" r="7.7"/>
<circle cx="154.9" cy="1375.3" r="7.7"/>
<circle cx="181.9" cy="1368.8" r="7.7"/>
<circle cx="210.7" cy="1373.5" r="7.7"/>
<circle cx="181.9" cy="1384.3" r="7.7"/>
<circle cx="181.9" cy="1407.7" r="7.7"/>
<circle cx="195.6" cy="1440.1" r="7.7"/>
<circle cx="167.8" cy="1449.1" r="7.7"/>
<line x1="283.8" y1="1305.1" x2="283.8" y2="1396.9" stroke="#000" stroke-width="2.2"/>
<path d="M288.8 1308.7C288.7 1309.6 288.5 1311.4 287.8 1314.1C287 1316.8 284.8 1323.1 284.2 1324.9L283.4 1324.9C282.8 1323.1 280.6 1316.8 279.8 1314.1C279 1311.4 278.9 1309.6 278.7 1308.7Z" fill="#0cff0c" stroke="#000" stroke-width="2.1" stroke-linejoin="round"/>
<circle cx="283.8" cy="1305.1" r="7.7"/>
<path d="M284.2 1389.7C284.8 1392.1 286.1 1398.7 288.1 1404.1C290.2 1409.5 293.8 1416.1 296.4 1422.1C299 1428.1 300.6 1434.7 303.6 1440.1C306.6 1445.5 312.2 1450.9 314.4 1454.5C316.6 1458.1 317.8 1459.6 316.9 1461.7C316 1463.8 310.3 1466.3 309 1467.2L258.6 1467.2C257.3 1466.3 251.6 1463.8 250.7 1461.7C249.8 1459.6 251 1458.1 253.2 1454.5C255.4 1450.9 261 1445.5 264 1440.1C267 1434.7 268.6 1428.1 271.2 1422.1C273.8 1416.1 277.4 1409.5 279.5 1404.1C281.5 1398.7 282.8 1392.1 283.4 1389.7Z" fill="#0cff0c" stroke="#000" stroke-width="2.1" stroke-linejoin="round"/>
<line x1="256.7" y1="1449.9" x2="310.9" y2="1449.9" stroke="#000" stroke-width="2" stroke-dasharray="7.2 2.4"/>
<line x1="268.6" y1="1428.6" x2="299" y2="1428.6" stroke="#000" stroke-width="2" stroke-dasharray="1.9 2.9"/>
<line x1="251" y1="1460.7" x2="316.5" y2="1460.7" stroke="#000" stroke-width="2" stroke-dasharray="1.9 2.9"/>
<circle cx="283.8" cy="1412" r="7.7"/>
<circle cx="270.1" cy="1427.5" r="7.7"/>
<circle cx="283.8" cy="1431.1" r="7.7"/>
<circle cx="270.1" cy="1441.9" r="7.7"/>
<circle cx="283.8" cy="1447.3" r="7.7"/>
<circle cx="311.5" cy="1453.5" r="7.7"/>
<circle cx="270.1" cy="1455.6" r="7.7"/>
<circle cx="297.1" cy="1457.1" r="7.7"/>
<circle cx="256.4" cy="1465.3" r="7.7"/>
<circle cx="283.8" cy="1462.5" r="7.7"/>
<circle cx="311.5" cy="1467.9" r="7.7"/>
<path d="M404.1 1225.9C405.8 1228 411.9 1234 414.2 1238.5C416.4 1243 417.3 1246.9 417.8 1252.9C418.2 1258.9 416.7 1267.3 416.7 1274.5C416.7 1281.7 417.3 1289.5 417.8 1296.1C418.2 1302.7 420 1308.1 419.2 1314.1C418.4 1320.1 415.3 1325.5 413.1 1332.1C410.9 1338.7 407.3 1345.9 405.9 1353.7C404.5 1361.5 405.4 1370.5 404.8 1378.9C404.2 1387.3 403 1396.9 402.3 1404.1C401.6 1411.3 401.4 1417.6 400.5 1422.1C399.6 1426.6 397.5 1429.6 396.9 1431.1L375.3 1431.1C374.7 1429.6 372.6 1426.6 371.7 1422.1C370.8 1417.6 370.6 1411.3 369.9 1404.1C369.1 1396.9 367.9 1387.3 367.3 1378.9C366.7 1370.5 367.6 1361.5 366.3 1353.7C364.9 1345.9 361.3 1338.7 359.1 1332.1C356.8 1325.5 353.7 1320.1 352.9 1314.1C352.2 1308.1 354 1302.7 354.4 1296.1C354.8 1289.5 355.5 1281.7 355.5 1274.5C355.5 1267.3 354 1258.9 354.4 1252.9C354.8 1246.9 355.7 1243 358 1238.5C360.3 1234 366.4 1228 368.1 1225.9Z" fill="#ff0b0b" stroke="#000" stroke-width="2.1" stroke-linejoin="round"/>
<line x1="352.9" y1="1314.1" x2="419.2" y2="1314.1" stroke="#000" stroke-width="2" stroke-dasharray="7.2 2.4"/>
<line x1="354.4" y1="1253.9" x2="417.7" y2="1253.9" stroke="#000" stroke-width="2" stroke-dasharray="1.9 2.9"/>
<line x1="367" y1="1371" x2="405.1" y2="1371" stroke="#000" stroke-width="2" stroke-dasharray="1.9 2.9"/>
<circle cx="386.1" cy="1225.9" r="7.7"/>
<circle cx="413.1" cy="1247.5" r="7.7"/>
<circle cx="386.1" cy="1251.8" r="7.7"/>
<circle cx="358.3" cy="1256.5" r="7.7"/>
<circle cx="386.1" cy="1284.2" r="7.7"/>
<circle cx="358.3" cy="1301.5" r="7.7"/>
<circle cx="386.1" cy="1314.1" r="7.7"/>
<circle cx="413.1" cy="1320.2" r="7.7"/>
<circle cx="386.1" cy="1329.2" r="7.7"/>
<circle cx="386.1" cy="1360.9" r="7.7"/>
<circle cx="386.1" cy="1381.8" r="7.7"/>
<circle cx="386.1" cy="1404.1" r="7.7"/>
<circle cx="386.1" cy="1431.1" r="7.7"/>
<line x1="670.5" y1="1165.4" x2="670.5" y2="1500.6" stroke="#000" stroke-width="4.2"/>
<line x1="656.1" y1="1498.5" x2="1009.8" y2="1498.5" stroke="#000" stroke-width="4.2"/>
<line x1="656.1" y1="1167.5" x2="670.5" y2="1167.5" stroke="#000" stroke-width="4.2"/>
<text x="649.1" y="1175" font-size="24.5" font-weight="bold" text-anchor="end" fill="#000">40</text>
<line x1="656.1" y1="1248.5" x2="670.5" y2="1248.5" stroke="#000" stroke-width="4.2"/>
<text x="649.1" y="1256" font-size="24.5" font-weight="bold" text-anchor="end" fill="#000">30</text>
<line x1="656.1" y1="1332.1" x2="670.5" y2="1332.1" stroke="#000" stroke-width="4.2"/>
<text x="649.1" y="1339.6" font-size="24.5" font-weight="bold" text-anchor="end" fill="#000">20</text>
<line x1="656.1" y1="1414.9" x2="670.5" y2="1414.9" stroke="#000" stroke-width="4.2"/>
<text x="649.1" y="1422.4" font-size="24.5" font-weight="bold" text-anchor="end" fill="#000">10</text>
<line x1="656.1" y1="1498.5" x2="670.5" y2="1498.5" stroke="#000" stroke-width="4.2"/>
<text x="649.1" y="1506" font-size="24.5" font-weight="bold" text-anchor="end" fill="#000">0</text>
<line x1="737.5" y1="1498.5" x2="737.5" y2="1512.9" stroke="#000" stroke-width="4.2"/>
<line x1="839.4" y1="1498.5" x2="839.4" y2="1512.9" stroke="#000" stroke-width="4.2"/>
<line x1="941.4" y1="1498.5" x2="941.4" y2="1512.9" stroke="#000" stroke-width="4.2"/>
<text x="566.5" y="1338" font-size="24" font-weight="bold" text-anchor="middle" fill="#000" transform="rotate(-90 566.5 1338)">%CCR6<tspan dy="-5" font-size="27">+</tspan><tspan dy="5" font-size="1">&#8203;</tspan></text>
<text x="592.5" y="1338" font-size="24" font-weight="bold" text-anchor="middle" fill="#000" transform="rotate(-90 592.5 1338)">T<tspan dy="6.5" font-size="24">FH</tspan><tspan dy="-6.5" font-size="1">&#8203;</tspan> CD4&#160; cells</text>
<path d="M728.9 1246.4V1153.1H938.5V1234.1" fill="none" stroke="#000" stroke-width="3.6" stroke-linecap="round" stroke-linejoin="miter"/>
<text x="836.9" y="1144.8" font-size="20.7" font-weight="normal" text-anchor="middle" fill="#000">p=0.0446</text>
<path d="M737.5 1246.4V1197H840.5V1209.7" fill="none" stroke="#000" stroke-width="3.6" stroke-linecap="round" stroke-linejoin="miter"/>
<text x="789" y="1180.8" font-size="20.7" font-weight="normal" text-anchor="middle" fill="#000">p=0.0096</text>
<path d="M747.2 1264.4C746.3 1267.3 742.9 1276.4 741.8 1281.7C740.8 1287 740.5 1291.3 741.1 1296.1C741.7 1300.9 744 1305.7 745.4 1310.5C746.9 1315.3 748.4 1320.1 749.8 1324.9C751.1 1329.7 750.8 1334.5 753.4 1339.3C756 1344.1 762.1 1349.8 765.3 1353.7C768.4 1357.6 771.9 1359.7 772.5 1362.7C773.1 1365.7 771.6 1368.4 768.9 1371.7C766.2 1375 759.6 1378.9 756.3 1382.5C753 1386.1 750.5 1390.4 749 1393.3C747.5 1396.2 747.5 1398.7 747.2 1399.8L729.2 1399.8C728.9 1398.7 728.9 1396.2 727.4 1393.3C725.9 1390.4 723.5 1386.1 720.2 1382.5C716.9 1378.9 710.3 1375 707.6 1371.7C704.9 1368.4 703.4 1365.7 704 1362.7C704.6 1359.7 708.1 1357.6 711.2 1353.7C714.4 1349.8 720.5 1344.1 723.1 1339.3C725.7 1334.5 725.4 1329.7 726.7 1324.9C728 1320.1 729.6 1315.3 731 1310.5C732.5 1305.7 734.8 1300.9 735.4 1296.1C736 1291.3 735.7 1287 734.6 1281.7C733.6 1276.4 730.1 1267.3 729.2 1264.4Z" fill="#1b0aff" stroke="#000" stroke-width="2.1" stroke-linejoin="round"/>
<line x1="705.8" y1="1360.5" x2="770.7" y2="1360.5" stroke="#000" stroke-width="2" stroke-dasharray="7.2 2.4"/>
<line x1="726" y1="1327.8" x2="750.5" y2="1327.8" stroke="#000" stroke-width="2" stroke-dasharray="1.9 2.9"/>
<line x1="707.6" y1="1371.7" x2="768.9" y2="1371.7" stroke="#000" stroke-width="2" stroke-dasharray="1.9 2.9"/>
<circle cx="738.2" cy="1264.8" r="7.7"/>
<circle cx="738.2" cy="1322" r="7.7"/>
<circle cx="738.2" cy="1342.9" r="7.7"/>
<circle cx="710.9" cy="1359.1" r="7.7"/>
<circle cx="746.9" cy="1362.7" r="7.7"/>
<circle cx="728.9" cy="1369.9" r="7.7"/>
<circle cx="766" cy="1371.7" r="7.7"/>
<circle cx="738.2" cy="1399.8" r="7.7"/>
<path d="M846.6 1224.1C846.8 1225.3 848 1228.3 847.4 1231.3C846.8 1234.3 844.1 1238.5 843 1242.1C842 1245.7 841.2 1246.3 840.9 1252.9C840.5 1259.5 840.1 1273.9 840.9 1281.7C841.7 1289.5 844.5 1294.3 845.6 1299.7C846.6 1305.1 847.5 1309.3 847.4 1314.1C847.2 1318.9 845.5 1324.3 844.5 1328.5C843.5 1332.7 841.8 1330.3 841.2 1339.3C840.7 1348.3 840.5 1372.9 841.2 1382.5C842 1392.1 843.8 1391.5 845.6 1396.9C847.3 1402.3 849.7 1408.9 851.7 1414.9C853.7 1420.9 855.9 1427.5 857.5 1432.9C859 1438.3 858.8 1442.5 861.1 1447.3C863.3 1452.1 868.6 1457.5 870.8 1461.7C873 1466 874.4 1469 874.4 1472.6C874.4 1476.2 872.9 1480.2 870.8 1483.4C868.7 1486.5 863.3 1490 861.8 1491.3L818.6 1491.3C817.1 1490 811.7 1486.5 809.6 1483.4C807.5 1480.2 806 1476.2 806 1472.6C806 1469 807.3 1466 809.6 1461.7C811.8 1457.5 817.1 1452.1 819.3 1447.3C821.5 1442.5 821.3 1438.3 822.9 1432.9C824.4 1427.5 826.7 1420.9 828.6 1414.9C830.6 1408.9 833 1402.3 834.8 1396.9C836.5 1391.5 838.4 1392.1 839.1 1382.5C839.8 1372.9 839.6 1348.3 839.1 1339.3C838.5 1330.3 836.9 1332.7 835.8 1328.5C834.8 1324.3 833.1 1318.9 833 1314.1C832.8 1309.3 833.7 1305.1 834.8 1299.7C835.8 1294.3 838.7 1289.5 839.4 1281.7C840.2 1273.9 839.8 1259.5 839.4 1252.9C839.1 1246.3 838.4 1245.7 837.3 1242.1C836.2 1238.5 833.6 1234.3 833 1231.3C832.4 1228.3 833.6 1225.3 833.7 1224.1Z" fill="#0cff0c" stroke="#000" stroke-width="2.1" stroke-linejoin="round"/>
<line x1="808.7" y1="1464.3" x2="871.6" y2="1464.3" stroke="#000" stroke-width="2" stroke-dasharray="7.2 2.4"/>
<line x1="826.9" y1="1420.3" x2="853.4" y2="1420.3" stroke="#000" stroke-width="2" stroke-dasharray="1.9 2.9"/>
<line x1="807.4" y1="1476.9" x2="872.9" y2="1476.9" stroke="#000" stroke-width="2" stroke-dasharray="1.9 2.9"/>
<circle cx="840.2" cy="1228.4" r="7.7"/>
<circle cx="840.2" cy="1314.8" r="7.7"/>
<circle cx="840.2" cy="1416.7" r="7.7"/>
<circle cx="831.5" cy="1439.4" r="7.7"/>
<circle cx="849.2" cy="1436.5" r="7.7"/>
<circle cx="867.5" cy="1460.7" r="7.7"/>
<circle cx="831.5" cy="1467.2" r="7.7"/>
<circle cx="849.2" cy="1470" r="7.7"/>
<circle cx="812.4" cy="1473.6" r="7.7"/>
<circle cx="867.5" cy="1478.7" r="7.7"/>
<circle cx="849.2" cy="1487.7" r="7.7"/>
<circle cx="812.4" cy="1491.3" r="7.7"/>
<path d="M947.5 1258.3C947.7 1261 948.1 1268.2 948.6 1274.5C949 1280.8 949.6 1287.7 950 1296.1C950.4 1304.5 951.1 1315.3 951.1 1324.9C951.1 1334.5 950.3 1344.1 950 1353.7C949.7 1363.3 948.9 1375.3 949.3 1382.5C949.6 1389.7 950.4 1392.1 952.2 1396.9C954 1401.7 957.3 1406.5 960.1 1411.3C962.9 1416.1 966.6 1420.9 969.1 1425.7C971.6 1430.5 974.2 1435.3 975.2 1440.1C976.2 1444.9 976.5 1449.7 975.2 1454.5C973.9 1459.3 970.3 1464.3 967.3 1469C964.3 1473.6 958.9 1480.1 957.2 1482.3L927 1482.3C925.3 1480.1 919.9 1473.6 916.9 1469C913.9 1464.3 910.3 1459.3 909 1454.5C907.6 1449.7 907.9 1444.9 909 1440.1C910 1435.3 912.6 1430.5 915.1 1425.7C917.6 1420.9 921.3 1416.1 924.1 1411.3C926.9 1406.5 930.2 1401.7 932 1396.9C933.8 1392.1 934.5 1389.7 934.9 1382.5C935.2 1375.3 934.5 1363.3 934.2 1353.7C933.9 1344.1 933.1 1334.5 933.1 1324.9C933.1 1315.3 933.7 1304.5 934.2 1296.1C934.6 1287.7 935.2 1280.8 935.6 1274.5C936 1268.2 936.5 1261 936.7 1258.3Z" fill="#ff0b0b" stroke="#000" stroke-width="2.1" stroke-linejoin="round"/>
<line x1="909.9" y1="1438" x2="974.3" y2="1438" stroke="#000" stroke-width="2" stroke-dasharray="7.2 2.4"/>
<line x1="934" y1="1350.1" x2="950.1" y2="1350.1" stroke="#000" stroke-width="2" stroke-dasharray="1.9 2.9"/>
<line x1="909" y1="1452.7" x2="975.2" y2="1452.7" stroke="#000" stroke-width="2" stroke-dasharray="1.9 2.9"/>
<circle cx="942.1" cy="1261.2" r="7.7"/>
<circle cx="942.1" cy="1306.9" r="7.7"/>
<circle cx="942.1" cy="1333.2" r="7.7"/>
<circle cx="942.1" cy="1368.1" r="7.7"/>
<circle cx="942.1" cy="1422.1" r="7.7"/>
<circle cx="915.1" cy="1434" r="7.7"/>
<circle cx="942.1" cy="1438.3" r="7.7"/>
<circle cx="969.1" cy="1438.3" r="7.7"/>
<circle cx="915.1" cy="1452.7" r="7.7"/>
<circle cx="942.1" cy="1452" r="7.7"/>
<circle cx="969.1" cy="1453.5" r="7.7"/>
<circle cx="955.8" cy="1470.8" r="7.7"/>
<circle cx="928" cy="1482.6" r="7.7"/>
<line x1="1175.9" y1="1164.7" x2="1175.9" y2="1500.6" stroke="#000" stroke-width="4.2"/>
<line x1="1161.5" y1="1498.5" x2="1516.3" y2="1498.5" stroke="#000" stroke-width="4.2"/>
<line x1="1161.5" y1="1166.8" x2="1175.9" y2="1166.8" stroke="#000" stroke-width="4.2"/>
<text x="1154.5" y="1174.3" font-size="24.5" font-weight="bold" text-anchor="end" fill="#000">50</text>
<line x1="1161.5" y1="1232.7" x2="1175.9" y2="1232.7" stroke="#000" stroke-width="4.2"/>
<text x="1154.5" y="1240.2" font-size="24.5" font-weight="bold" text-anchor="end" fill="#000">40</text>
<line x1="1161.5" y1="1299" x2="1175.9" y2="1299" stroke="#000" stroke-width="4.2"/>
<text x="1154.5" y="1306.5" font-size="24.5" font-weight="bold" text-anchor="end" fill="#000">30</text>
<line x1="1161.5" y1="1365.2" x2="1175.9" y2="1365.2" stroke="#000" stroke-width="4.2"/>
<text x="1154.5" y="1372.7" font-size="24.5" font-weight="bold" text-anchor="end" fill="#000">20</text>
<line x1="1161.5" y1="1431.1" x2="1175.9" y2="1431.1" stroke="#000" stroke-width="4.2"/>
<text x="1154.5" y="1438.6" font-size="24.5" font-weight="bold" text-anchor="end" fill="#000">10</text>
<line x1="1161.5" y1="1498.5" x2="1175.9" y2="1498.5" stroke="#000" stroke-width="4.2"/>
<text x="1154.5" y="1506" font-size="24.5" font-weight="bold" text-anchor="end" fill="#000">0</text>
<line x1="1243.3" y1="1498.5" x2="1243.3" y2="1512.9" stroke="#000" stroke-width="4.2"/>
<line x1="1345.2" y1="1498.5" x2="1345.2" y2="1512.9" stroke="#000" stroke-width="4.2"/>
<line x1="1447.5" y1="1498.5" x2="1447.5" y2="1512.9" stroke="#000" stroke-width="4.2"/>
<text x="1075.5" y="1338" font-size="24" font-weight="bold" text-anchor="middle" fill="#000" transform="rotate(-90 1075.5 1338)">%CXCR3<tspan dy="-5" font-size="27">+</tspan><tspan dy="5" font-size="1">&#8203;</tspan></text>
<text x="1101.5" y="1338" font-size="24" font-weight="bold" text-anchor="middle" fill="#000" transform="rotate(-90 1101.5 1338)">T<tspan dy="6.5" font-size="24">FH</tspan><tspan dy="-6.5" font-size="1">&#8203;</tspan> CD4&#160; cells</text>
<path d="M1244 1168.6V1153.1H1448.6V1238.5" fill="none" stroke="#000" stroke-width="3.6" stroke-linecap="round" stroke-linejoin="miter"/>
<text x="1352" y="1141.2" font-size="20.7" font-weight="normal" text-anchor="middle" fill="#000">p=0.0199</text>
<path d="M1243.3 1215.1V1192.4H1345.9V1210.7" fill="none" stroke="#000" stroke-width="3.6" stroke-linecap="round" stroke-linejoin="miter"/>
<text x="1296.2" y="1180.8" font-size="20.7" font-weight="normal" text-anchor="middle" fill="#000">p=0.0387</text>
<path d="M1265.6 1234.1C1265.7 1236.7 1265.4 1244.3 1266.3 1249.3C1267.2 1254.2 1269.2 1258.9 1271 1263.7C1272.9 1268.5 1276.6 1273.9 1277.5 1278.1C1278.4 1282.3 1278.3 1284.1 1276.4 1288.9C1274.6 1293.7 1268.9 1300.9 1266.3 1306.9C1263.8 1312.9 1261.9 1318.9 1261.3 1324.9C1260.7 1330.9 1262.9 1337.4 1262.7 1342.9C1262.6 1348.4 1260.6 1355.5 1260.2 1358L1227.8 1358C1227.4 1355.5 1225.5 1348.4 1225.3 1342.9C1225.1 1337.4 1227.3 1330.9 1226.7 1324.9C1226.1 1318.9 1224.2 1312.9 1221.7 1306.9C1219.2 1300.9 1213.5 1293.7 1211.6 1288.9C1209.7 1284.1 1209.6 1282.3 1210.5 1278.1C1211.4 1273.9 1215.1 1268.5 1217 1263.7C1218.9 1258.9 1220.8 1254.2 1221.7 1249.3C1222.6 1244.3 1222.3 1236.7 1222.4 1234.1Z" fill="#1b0aff" stroke="#000" stroke-width="2.1" stroke-linejoin="round"/>
<line x1="1211" y1="1282.8" x2="1277" y2="1282.8" stroke="#000" stroke-width="2" stroke-dasharray="7.2 2.4"/>
<line x1="1221.8" y1="1247.5" x2="1266.3" y2="1247.5" stroke="#000" stroke-width="2" stroke-dasharray="1.9 2.9"/>
<line x1="1226.1" y1="1332.1" x2="1261.9" y2="1332.1" stroke="#000" stroke-width="2" stroke-dasharray="1.9 2.9"/>
<circle cx="1230.7" cy="1238.5" r="7.7"/>
<circle cx="1257.7" cy="1234.1" r="7.7"/>
<circle cx="1216.3" cy="1274.5" r="7.7"/>
<circle cx="1271" cy="1278.8" r="7.7"/>
<circle cx="1244" cy="1286" r="7.7"/>
<circle cx="1244" cy="1308.7" r="7.7"/>
<circle cx="1244" cy="1339.3" r="7.7"/>
<circle cx="1244" cy="1358.4" r="7.7"/>
<path d="M1353.8 1229.5C1353.4 1231.6 1352 1237 1351.3 1242.1C1350.6 1247.2 1348.9 1254.7 1349.5 1260.1C1350.1 1265.5 1352.2 1269.7 1354.9 1274.5C1357.6 1279.3 1362.1 1284.1 1365.7 1288.9C1369.3 1293.7 1374.3 1298.5 1376.5 1303.3C1378.8 1308.1 1379.2 1312.9 1379.1 1317.7C1378.9 1322.5 1377.1 1326.1 1375.5 1332.1C1373.8 1338.1 1370.5 1346.5 1369.3 1353.7C1368.1 1360.9 1369.5 1368.7 1368.3 1375.3C1367.1 1381.9 1364.4 1387.3 1362.1 1393.3C1359.9 1399.3 1356.3 1405.9 1354.9 1411.3C1353.5 1416.7 1354.3 1421.5 1353.8 1425.7C1353.4 1429.9 1352.6 1434.7 1352.4 1436.5L1339.4 1436.5C1339.2 1434.7 1338.4 1429.9 1338 1425.7C1337.6 1421.5 1338.3 1416.7 1336.9 1411.3C1335.5 1405.9 1331.9 1399.3 1329.7 1393.3C1327.5 1387.3 1324.8 1381.9 1323.6 1375.3C1322.4 1368.7 1323.7 1360.9 1322.5 1353.7C1321.3 1346.5 1318 1338.1 1316.4 1332.1C1314.8 1326.1 1313 1322.5 1312.8 1317.7C1312.6 1312.9 1313.1 1308.1 1315.3 1303.3C1317.5 1298.5 1322.5 1293.7 1326.1 1288.9C1329.7 1284.1 1334.2 1279.3 1336.9 1274.5C1339.6 1269.7 1341.7 1265.5 1342.3 1260.1C1342.9 1254.7 1341.2 1247.2 1340.5 1242.1C1339.8 1237 1338.4 1231.6 1338 1229.5Z" fill="#0cff0c" stroke="#000" stroke-width="2.1" stroke-linejoin="round"/>
<line x1="1317.1" y1="1334.6" x2="1374.7" y2="1334.6" stroke="#000" stroke-width="2" stroke-dasharray="7.2 2.4"/>
<line x1="1313.9" y1="1311.6" x2="1378" y2="1311.6" stroke="#000" stroke-width="2" stroke-dasharray="1.9 2.9"/>
<line x1="1325.1" y1="1379.6" x2="1366.8" y2="1379.6" stroke="#000" stroke-width="2" stroke-dasharray="1.9 2.9"/>
<circle cx="1345.9" cy="1230.5" r="7.7"/>
<circle cx="1336.9" cy="1298.6" r="7.7"/>
<circle cx="1318.2" cy="1315.2" r="7.7"/>
<circle cx="1372.9" cy="1311.6" r="7.7"/>
<circle cx="1336.9" cy="1323.1" r="7.7"/>
<circle cx="1354.9" cy="1320.2" r="7.7"/>
<circle cx="1354.9" cy="1345.8" r="7.7"/>
<circle cx="1336.9" cy="1353.7" r="7.7"/>
<circle cx="1345.9" cy="1367.4" r="7.7"/>
<circle cx="1336.9" cy="1384.3" r="7.7"/>
<circle cx="1354.9" cy="1387.2" r="7.7"/>
<circle cx="1345.9" cy="1435.8" r="7.7"/>
<path d="M1459.4 1270.9C1460.3 1273.3 1463.3 1280.5 1465.1 1285.3C1466.9 1290.1 1468.7 1294.3 1470.2 1299.7C1471.6 1305.1 1473.2 1311.1 1473.8 1317.7C1474.4 1324.3 1472.8 1333.3 1473.8 1339.3C1474.7 1345.3 1478.3 1349.8 1479.5 1353.7C1480.8 1357.6 1481.8 1359.7 1481.3 1362.7C1480.9 1365.7 1480.1 1367.8 1476.7 1371.7C1473.2 1375.6 1463.8 1380.7 1460.5 1386.1C1457.1 1391.5 1457.5 1397.5 1456.8 1404.1C1456.2 1410.7 1457.1 1419 1456.8 1425.7C1456.5 1432.5 1455.3 1441.6 1455 1444.8L1440.6 1444.8C1440.3 1441.6 1439.1 1432.5 1438.8 1425.7C1438.5 1419 1439.4 1410.7 1438.8 1404.1C1438.2 1397.5 1438.5 1391.5 1435.2 1386.1C1431.9 1380.7 1422.5 1375.6 1419 1371.7C1415.6 1367.8 1414.8 1365.7 1414.4 1362.7C1413.9 1359.7 1414.9 1357.6 1416.2 1353.7C1417.4 1349.8 1421 1345.3 1421.9 1339.3C1422.9 1333.3 1421.3 1324.3 1421.9 1317.7C1422.5 1311.1 1424.1 1305.1 1425.5 1299.7C1427 1294.3 1428.8 1290.1 1430.6 1285.3C1432.4 1280.5 1435.4 1273.3 1436.3 1270.9Z" fill="#ff0b0b" stroke="#000" stroke-width="2.1" stroke-linejoin="round"/>
<line x1="1421.9" y1="1336.8" x2="1473.8" y2="1336.8" stroke="#000" stroke-width="2" stroke-dasharray="7.2 2.4"/>
<line x1="1423.7" y1="1308.7" x2="1472" y2="1308.7" stroke="#000" stroke-width="2" stroke-dasharray="1.9 2.9"/>
<line x1="1415.7" y1="1365.2" x2="1480" y2="1365.2" stroke="#000" stroke-width="2" stroke-dasharray="1.9 2.9"/>
<circle cx="1447.8" cy="1270.9" r="7.7"/>
<circle cx="1438.5" cy="1291.4" r="7.7"/>
<circle cx="1420.5" cy="1302.6" r="7.7"/>
<circle cx="1438.5" cy="1315.2" r="7.7"/>
<circle cx="1456.8" cy="1315.9" r="7.7"/>
<circle cx="1438.5" cy="1336.8" r="7.7"/>
<circle cx="1456.8" cy="1336.8" r="7.7"/>
<circle cx="1420.5" cy="1362.7" r="7.7"/>
<circle cx="1438.5" cy="1367" r="7.7"/>
<circle cx="1456.8" cy="1362.7" r="7.7"/>
<circle cx="1474.9" cy="1362" r="7.7"/>
<circle cx="1447.8" cy="1408.4" r="7.7"/>
<circle cx="1447.8" cy="1446.3" r="7.7"/>
<rect x="1591.5" y="1070.6" width="18.1" height="17.6" fill="#2e3192"/>
<text x="1636" y="1083.6" font-size="24.3" font-weight="bold" text-anchor="start" fill="#231f20">Healthy Donors</text>
<rect x="1591.5" y="1107.4" width="18.1" height="17.6" fill="#00a651"/>
<text x="1636" y="1122.1" font-size="24.3" font-weight="bold" text-anchor="start" fill="#231f20">Omicron BTI</text>
<rect x="1591.5" y="1142.5" width="18.1" height="17.4" fill="#ed1c24"/>
<text x="1634.1" y="1159" font-size="24.3" font-weight="bold" text-anchor="start" fill="#231f20">Delta BTI</text>
</g>
<g id="panel-d">
<text x="10" y="1567" font-size="29" font-weight="normal" text-anchor="start" fill="#000">d.</text>
<text x="70" y="1612.3" font-size="21.3" font-weight="bold" text-anchor="start" fill="#000">Stimulation:</text>
<text x="221.9" y="1612.3" font-size="21.3" font-weight="bold" text-anchor="start" fill="#000">Spike WT</text>
<text x="531.3" y="1612.5" font-size="21.3" font-weight="bold" text-anchor="middle" fill="#000">non-Spike</text>
<text x="771.6" y="1612.5" font-size="21.3" font-weight="bold" text-anchor="middle" fill="#000">SARS-CoV-2</text>
<text x="41" y="1773" font-size="21.5" font-weight="bold" text-anchor="middle" fill="#000" transform="rotate(-90 41 1773)">% SARS-CoV-2 specific CD4 T Cells</text>
<text x="69" y="1773" font-size="21.5" font-weight="bold" text-anchor="middle" fill="#000" transform="rotate(-90 69 1773)">CD154<tspan dy="-7" font-size="15">+</tspan><tspan dy="7" font-size="1">&#8203;</tspan>CD137<tspan dy="-7" font-size="15">+</tspan><tspan dy="7" font-size="1">&#8203;</tspan></text>
<line x1="135.4" y1="1640.5" x2="135.4" y2="1909.8" stroke="#000" stroke-width="4.2"/>
<line x1="121" y1="1907.6" x2="921.8" y2="1907.6" stroke="#000" stroke-width="4.6"/>
<line x1="121" y1="1642.5" x2="135.4" y2="1642.5" stroke="#000" stroke-width="4.2"/>
<text x="118.5" y="1649.9" font-size="20.5" font-weight="bold" text-anchor="end" fill="#000">1.0</text>
<line x1="121" y1="1695.8" x2="135.4" y2="1695.8" stroke="#000" stroke-width="4.2"/>
<text x="118.5" y="1703.2" font-size="20.5" font-weight="bold" text-anchor="end" fill="#000">0.8</text>
<line x1="121" y1="1748.6" x2="135.4" y2="1748.6" stroke="#000" stroke-width="4.2"/>
<text x="118.5" y="1756" font-size="20.5" font-weight="bold" text-anchor="end" fill="#000">0.6</text>
<line x1="121" y1="1801.6" x2="135.4" y2="1801.6" stroke="#000" stroke-width="4.2"/>
<text x="118.5" y="1809" font-size="20.5" font-weight="bold" text-anchor="end" fill="#000">0.4</text>
<line x1="121" y1="1854.3" x2="135.4" y2="1854.3" stroke="#000" stroke-width="4.2"/>
<text x="118.5" y="1861.7" font-size="20.5" font-weight="bold" text-anchor="end" fill="#000">0.2</text>
<line x1="121" y1="1907.6" x2="135.4" y2="1907.6" stroke="#000" stroke-width="4.2"/>
<text x="118.5" y="1915" font-size="20.5" font-weight="bold" text-anchor="end" fill="#000">0.0</text>
<line x1="121" y1="1902.4" x2="135.4" y2="1902.4" stroke="#000" stroke-width="2.5"/>
<line x1="177.2" y1="1907.6" x2="177.2" y2="1921.4" stroke="#000" stroke-width="4.2"/>
<line x1="241" y1="1907.6" x2="241" y2="1921.4" stroke="#000" stroke-width="4.2"/>
<line x1="304.7" y1="1907.6" x2="304.7" y2="1921.4" stroke="#000" stroke-width="4.2"/>
<line x1="368.5" y1="1907.6" x2="368.5" y2="1921.4" stroke="#000" stroke-width="4.2"/>
<line x1="432.3" y1="1907.6" x2="432.3" y2="1921.4" stroke="#000" stroke-width="4.2"/>
<line x1="496.1" y1="1907.6" x2="496.1" y2="1921.4" stroke="#000" stroke-width="4.2"/>
<line x1="559.8" y1="1907.6" x2="559.8" y2="1921.4" stroke="#000" stroke-width="4.2"/>
<line x1="623.6" y1="1907.6" x2="623.6" y2="1921.4" stroke="#000" stroke-width="4.2"/>
<line x1="687.4" y1="1907.6" x2="687.4" y2="1921.4" stroke="#000" stroke-width="4.2"/>
<line x1="751.1" y1="1907.6" x2="751.1" y2="1921.4" stroke="#000" stroke-width="4.2"/>
<line x1="814.9" y1="1907.6" x2="814.9" y2="1921.4" stroke="#000" stroke-width="4.2"/>
<line x1="878.7" y1="1907.6" x2="878.7" y2="1921.4" stroke="#000" stroke-width="4.2"/>
<line x1="135.4" y1="1902.5" x2="921.8" y2="1902.5" stroke="#000" stroke-width="2.4" stroke-dasharray="2.4 3.1"/>
<line x1="400.6" y1="1641" x2="400.6" y2="1902" stroke="#000" stroke-width="2.4" stroke-dasharray="2.4 3.1"/>
<line x1="655.6" y1="1641" x2="655.6" y2="1902" stroke="#000" stroke-width="2.4" stroke-dasharray="2.4 3.1"/>
<path d="M177.2 1814V1667H241.4V1727.5" fill="none" stroke="#000" stroke-width="3" stroke-linecap="round" stroke-linejoin="miter"/>
<text x="203.7" y="1655.5" font-size="21" font-weight="normal" text-anchor="middle" fill="#000">p=0.0159</text>
<path d="M254.1 1682.9V1667H369.7V1772.8" fill="none" stroke="#000" stroke-width="3" stroke-linecap="round" stroke-linejoin="miter"/>
<text x="306.6" y="1655.5" font-size="21" font-weight="normal" text-anchor="middle" fill="#000">p=0.0114</text>
<path d="M254.1 1725.5V1701.6H305.4V1814" fill="none" stroke="#000" stroke-width="3" stroke-linecap="round" stroke-linejoin="miter"/>
<text x="303.7" y="1691.5" font-size="21" font-weight="normal" text-anchor="middle" fill="#000">p=0.0173</text>
<path d="M418.7 1886.5V1658.9H624.7V1801.8" fill="none" stroke="#000" stroke-width="3" stroke-linecap="round" stroke-linejoin="miter"/>
<text x="521.2" y="1649.5" font-size="21" font-weight="normal" text-anchor="middle" fill="#000">p&lt;0.0001</text>
<path d="M430.4 1884.8V1825.3H558.1V1850.2" fill="none" stroke="#000" stroke-width="3" stroke-linecap="round" stroke-linejoin="miter"/>
<text x="501" y="1816.6" font-size="21" font-weight="normal" text-anchor="middle" fill="#000">p=0.0013</text>
<path d="M670.8 1878.1V1658.9H874.1V1683.1" fill="none" stroke="#000" stroke-width="3" stroke-linecap="round" stroke-linejoin="miter"/>
<text x="765.5" y="1649.5" font-size="21" font-weight="normal" text-anchor="middle" fill="#000">p&lt;0.0001</text>
<path d="M680.8 1878.1V1741.3H811.3V1746.3" fill="none" stroke="#000" stroke-width="3" stroke-linecap="round" stroke-linejoin="miter"/>
<text x="747.4" y="1732.5" font-size="21" font-weight="normal" text-anchor="middle" fill="#000">p=0.0013</text>
<path d="M686.9 1878.1V1795H751.4V1800.8" fill="none" stroke="#000" stroke-width="3" stroke-linecap="round" stroke-linejoin="miter"/>
<text x="732.9" y="1782.3" font-size="21" font-weight="normal" text-anchor="middle" fill="#000">p=0.0198</text>
<path d="M183.5 1829.2C183.5 1831.7 182.9 1839.8 183.5 1844.2C184.2 1848.6 186.7 1852.4 187.3 1855.7C187.9 1859.1 187.8 1861 187.3 1864.4C186.8 1867.7 183.9 1872.6 184.4 1875.9C184.9 1879.3 188.1 1881.7 190.2 1884.6C192.2 1887.4 195.5 1890.6 196.8 1893.2C198.1 1895.8 198.1 1898.1 197.9 1900.4C197.8 1902.7 196.3 1905.9 195.9 1907L158.5 1907C158.1 1905.9 156.6 1902.7 156.4 1900.4C156.3 1898.1 156.3 1895.8 157.6 1893.2C158.9 1890.6 162.2 1887.4 164.2 1884.6C166.3 1881.7 169.5 1879.3 170 1875.9C170.5 1872.6 167.6 1867.7 167.1 1864.4C166.6 1861 166.5 1859.1 167.1 1855.7C167.7 1852.4 170.2 1848.6 170.9 1844.2C171.5 1839.8 170.9 1831.7 170.9 1829.2Z" fill="#1b0aff" stroke="#000" stroke-width="1.5" stroke-linejoin="round"/>
<line x1="160.9" y1="1888.9" x2="193.5" y2="1888.9" stroke="#000" stroke-width="1.4" stroke-dasharray="5.2 1.8"/>
<line x1="167.1" y1="1855.7" x2="187.3" y2="1855.7" stroke="#000" stroke-width="1.4" stroke-dasharray="1.5 2.2"/>
<line x1="156.9" y1="1901.8" x2="197.5" y2="1901.8" stroke="#000" stroke-width="1.4" stroke-dasharray="1.5 2.2"/>
<circle cx="177.8" cy="1829.8" r="3.8"/>
<circle cx="160.5" cy="1854.3" r="3.8"/>
<circle cx="177.8" cy="1860.6" r="3.8"/>
<circle cx="160.5" cy="1886.9" r="3.8"/>
<circle cx="177.8" cy="1891.8" r="3.8"/>
<circle cx="177.8" cy="1900.4" r="3.8"/>
<circle cx="195.1" cy="1902.4" r="3.8"/>
<circle cx="160.5" cy="1907" r="3.8"/>
<path d="M255.3 1742.8C255.8 1743.9 257.6 1744.7 258.2 1749.1C258.7 1753.6 258.7 1761.1 258.7 1769.3C258.7 1777.5 258.5 1788.5 258.2 1798.1C257.8 1807.7 256.7 1817.3 256.4 1826.9C256.1 1836.5 255.8 1848.1 256.4 1855.7C257.1 1863.4 259.3 1868.2 260.2 1873C261 1877.8 261.8 1880.6 261.6 1884.6C261.5 1888.5 259.7 1894.9 259.3 1896.9L223.6 1896.9C223.2 1894.9 221.4 1888.5 221.3 1884.6C221.1 1880.6 221.9 1877.8 222.7 1873C223.6 1868.2 225.8 1863.4 226.5 1855.7C227.1 1848.1 226.8 1836.5 226.5 1826.9C226.2 1817.3 225.1 1807.7 224.7 1798.1C224.3 1788.5 224.2 1777.5 224.2 1769.3C224.2 1761.1 224.2 1753.6 224.7 1749.1C225.3 1744.7 227.1 1743.9 227.6 1742.8Z" fill="#0cff0c" stroke="#000" stroke-width="1.5" stroke-linejoin="round"/>
<line x1="226" y1="1819.2" x2="256.9" y2="1819.2" stroke="#000" stroke-width="1.4" stroke-dasharray="5.2 1.8"/>
<line x1="224.2" y1="1773.6" x2="258.6" y2="1773.6" stroke="#000" stroke-width="1.4" stroke-dasharray="1.5 2.2"/>
<line x1="222" y1="1878.8" x2="260.9" y2="1878.8" stroke="#000" stroke-width="1.4" stroke-dasharray="1.5 2.2"/>
<circle cx="249.2" cy="1742.8" r="3.8"/>
<circle cx="233.4" cy="1746.8" r="3.8"/>
<circle cx="233.4" cy="1772.8" r="3.8"/>
<circle cx="249.2" cy="1778.5" r="3.8"/>
<circle cx="241.4" cy="1802.4" r="3.8"/>
<circle cx="241.4" cy="1810.5" r="3.8"/>
<circle cx="241.4" cy="1828.4" r="3.8"/>
<circle cx="241.4" cy="1847.1" r="3.8"/>
<circle cx="249.2" cy="1873.6" r="3.8"/>
<circle cx="233.4" cy="1881.1" r="3.8"/>
<circle cx="249.2" cy="1894.6" r="3.8"/>
<circle cx="233.4" cy="1897.5" r="3.8"/>
<path d="M309.7 1825.5C309.9 1827.2 309.4 1832.5 310.6 1835.6C311.8 1838.7 314.5 1840.9 316.9 1844.2C319.3 1847.6 323.9 1850.9 325 1855.7C326.1 1860.5 323.4 1868.2 323.3 1873C323.1 1877.8 323.8 1880.7 324.1 1884.6C324.4 1888.4 325 1892.3 325 1896.1C325 1899.8 324.3 1905.2 324.1 1907L286.7 1907C286.5 1905.2 285.8 1899.8 285.8 1896.1C285.8 1892.3 286.4 1888.4 286.7 1884.6C287 1880.7 287.7 1877.8 287.5 1873C287.4 1868.2 284.8 1860.5 285.8 1855.7C286.9 1850.9 291.5 1847.6 293.9 1844.2C296.3 1840.9 299 1838.7 300.2 1835.6C301.4 1832.5 300.9 1827.2 301.1 1825.5Z" fill="#ff0b0b" stroke="#000" stroke-width="1.5" stroke-linejoin="round"/>
<line x1="287.1" y1="1878.8" x2="323.7" y2="1878.8" stroke="#000" stroke-width="1.4" stroke-dasharray="5.2 1.8"/>
<line x1="286.1" y1="1858.6" x2="324.7" y2="1858.6" stroke="#000" stroke-width="1.4" stroke-dasharray="1.5 2.2"/>
<line x1="286.2" y1="1900.4" x2="324.7" y2="1900.4" stroke="#000" stroke-width="1.4" stroke-dasharray="1.5 2.2"/>
<circle cx="305.4" cy="1826.1" r="3.8"/>
<circle cx="305.4" cy="1850" r="3.8"/>
<circle cx="322.1" cy="1857.8" r="3.8"/>
<circle cx="287.5" cy="1862.1" r="3.8"/>
<circle cx="305.4" cy="1860.6" r="3.8"/>
<circle cx="305.4" cy="1876.5" r="3.8"/>
<circle cx="322.1" cy="1881.7" r="3.8"/>
<circle cx="305.4" cy="1884.6" r="3.8"/>
<circle cx="305.4" cy="1893.2" r="3.8"/>
<circle cx="305.4" cy="1902.7" r="3.8"/>
<circle cx="288.1" cy="1908.5" r="3.8"/>
<path d="M373.1 1782.8C373 1784.2 373 1787.9 372.5 1790.9C372.1 1793.9 370.9 1795 370.5 1801C370.2 1807 370.2 1820.7 370.5 1826.9C370.9 1833.2 371.8 1834.6 372.5 1838.5C373.3 1842.3 374.7 1846.1 374.8 1850C374.9 1853.8 372.9 1857.7 373.1 1861.5C373.3 1865.3 373.9 1869.2 376 1873C378.1 1876.9 383.3 1881.2 385.5 1884.6C387.7 1887.9 388.5 1890.3 389.3 1893.2C390 1896.1 389.8 1899.5 389.8 1901.8C389.8 1904.1 389.3 1906.2 389.3 1907L350.1 1907C350 1906.2 349.5 1904.1 349.5 1901.8C349.5 1899.5 349.3 1896.1 350.1 1893.2C350.8 1890.3 351.6 1887.9 353.8 1884.6C356 1881.2 361.3 1876.9 363.3 1873C365.4 1869.2 366 1865.3 366.2 1861.5C366.4 1857.7 364.4 1853.8 364.5 1850C364.6 1846.1 366.1 1842.3 366.8 1838.5C367.5 1834.6 368.5 1833.2 368.8 1826.9C369.1 1820.7 369.1 1807 368.8 1801C368.5 1795 367.2 1793.9 366.8 1790.9C366.3 1787.9 366.3 1784.2 366.2 1782.8Z" fill="#a41292" stroke="#000" stroke-width="1.5" stroke-linejoin="round"/>
<line x1="350" y1="1894.6" x2="389.3" y2="1894.6" stroke="#000" stroke-width="1.4" stroke-dasharray="5.2 1.8"/>
<line x1="349.5" y1="1901.8" x2="389.8" y2="1901.8" stroke="#000" stroke-width="1.4" stroke-dasharray="1.5 2.2"/>
<circle cx="369.7" cy="1783.1" r="3.8"/>
<circle cx="369.7" cy="1849.4" r="3.8"/>
<circle cx="351.5" cy="1881.7" r="3.8"/>
<circle cx="369.7" cy="1884.6" r="3.8"/>
<circle cx="351.5" cy="1895.2" r="3.8"/>
<circle cx="386.1" cy="1895.2" r="3.8"/>
<circle cx="369.7" cy="1900.4" r="3.8"/>
<circle cx="420.3" cy="1900.9" r="3.8"/>
<circle cx="429.7" cy="1901.6" r="3.8"/>
<circle cx="415.3" cy="1906" r="3.8"/>
<circle cx="423.7" cy="1906.6" r="3.8"/>
<circle cx="435.5" cy="1906" r="3.8"/>
<circle cx="442.2" cy="1906" r="3.8"/>
<circle cx="448.9" cy="1906.6" r="3.8"/>
<line x1="496" y1="1875.7" x2="496" y2="1897.2" stroke="#000" stroke-width="1.8"/>
<path d="M496.3 1896.5C496.9 1897.4 498.8 1900 500 1901.6C501.2 1903.2 502.8 1905.2 503.4 1906L488.6 1906C489.1 1905.2 490.8 1903.2 491.9 1901.6C493.1 1900 495 1897.4 495.6 1896.5Z" fill="#0cff0c" stroke="#000" stroke-width="1.5" stroke-linejoin="round"/>
<circle cx="496" cy="1875.7" r="3.8"/>
<circle cx="482.5" cy="1900.6" r="3.8"/>
<circle cx="477.5" cy="1906" r="3.8"/>
<circle cx="487.6" cy="1906.6" r="3.8"/>
<circle cx="502.7" cy="1906.6" r="3.8"/>
<circle cx="509.4" cy="1906" r="3.8"/>
<circle cx="514.5" cy="1906.6" r="3.8"/>
<path d="M563.2 1859.6C563.3 1860.6 564.3 1863.4 563.9 1865.6C563.5 1867.9 560.4 1870.1 560.8 1873C561.3 1875.9 564.2 1879.7 566.6 1883.1C568.9 1886.5 573 1890.1 575 1893.2C576.9 1896.3 577.5 1899.5 578.3 1901.6C579.2 1903.7 579.7 1905.2 580 1906L539.7 1906C539.9 1905.2 540.5 1903.7 541.3 1901.6C542.2 1899.5 542.7 1896.3 544.7 1893.2C546.7 1890.1 550.8 1886.5 553.1 1883.1C555.5 1879.7 558.4 1875.9 558.8 1873C559.3 1870.1 556.2 1867.9 555.8 1865.6C555.4 1863.4 556.4 1860.6 556.5 1859.6Z" fill="#ff0b0b" stroke="#000" stroke-width="1.5" stroke-linejoin="round"/>
<circle cx="555.5" cy="1862.9" r="3.8"/>
<circle cx="564.2" cy="1861.3" r="3.8"/>
<circle cx="542.4" cy="1889.8" r="3.8"/>
<circle cx="559.8" cy="1883.8" r="3.8"/>
<circle cx="551.4" cy="1893.2" r="3.8"/>
<circle cx="568.2" cy="1893.2" r="3.8"/>
<circle cx="559.8" cy="1900.9" r="3.8"/>
<circle cx="548.1" cy="1901.6" r="3.8"/>
<circle cx="571.6" cy="1901.6" r="3.8"/>
<circle cx="541.3" cy="1906" r="3.8"/>
<circle cx="578.3" cy="1906" r="3.8"/>
<path d="M627.1 1814.2C626.8 1816.7 625.4 1824 625.7 1829.3C626 1834.6 627.8 1841.1 628.7 1846.1C629.6 1851.2 629.8 1855.1 631.1 1859.6C632.4 1864.1 634.6 1869.1 636.5 1873C638.3 1876.9 640.8 1880 642.2 1883.1C643.5 1886.2 644.5 1889.2 644.5 1891.5C644.5 1893.9 642.6 1896.3 642.2 1897.2L605.2 1897.2C604.8 1896.3 602.9 1893.9 602.9 1891.5C602.9 1889.2 603.9 1886.2 605.2 1883.1C606.6 1880 609.1 1876.9 610.9 1873C612.8 1869.1 615 1864.1 616.3 1859.6C617.6 1855.1 617.8 1851.2 618.7 1846.1C619.5 1841.1 621.4 1834.6 621.7 1829.3C622 1824 620.6 1816.7 620.3 1814.2Z" fill="#a41292" stroke="#000" stroke-width="1.5" stroke-linejoin="round"/>
<line x1="604.9" y1="1884.1" x2="642.5" y2="1884.1" stroke="#000" stroke-width="1.4" stroke-dasharray="5.2 1.8"/>
<circle cx="623.7" cy="1815.2" r="3.8"/>
<circle cx="623.7" cy="1850.2" r="3.8"/>
<circle cx="619.3" cy="1873" r="3.8"/>
<circle cx="629.4" cy="1874.7" r="3.8"/>
<circle cx="611.9" cy="1883.8" r="3.8"/>
<circle cx="627.1" cy="1883.8" r="3.8"/>
<circle cx="640.5" cy="1890.8" r="3.8"/>
<circle cx="618.7" cy="1892.5" r="3.8"/>
<circle cx="629.4" cy="1894.9" r="3.8"/>
<circle cx="606.9" cy="1894.9" r="3.8"/>
<path d="M701.7 1891.5C700.7 1892.3 696.1 1895.1 696 1896.5C695.9 1898 699.3 1898.3 701 1899.9C702.7 1901.5 705.2 1905 706 1906L669.1 1906C669.9 1905 672.4 1901.5 674.1 1899.9C675.8 1898.3 679.3 1898 679.2 1896.5C679 1895.1 674.4 1892.3 673.4 1891.5Z" fill="#1b0aff" stroke="#000" stroke-width="1.5" stroke-linejoin="round"/>
<line x1="673.3" y1="1900.9" x2="701.8" y2="1900.9" stroke="#000" stroke-width="1.4" stroke-dasharray="5.2 1.8"/>
<circle cx="670.8" cy="1894.2" r="3.8"/>
<circle cx="693.3" cy="1892.2" r="3.8"/>
<circle cx="682.5" cy="1899.9" r="3.8"/>
<circle cx="705.4" cy="1901.6" r="3.8"/>
<circle cx="675.8" cy="1906" r="3.8"/>
<circle cx="696" cy="1906" r="3.8"/>
<path d="M754.1 1814.2C754.8 1816.7 755.9 1824.6 758.1 1829.3C760.4 1834.1 765.1 1838.3 767.6 1842.8C770 1847.3 772.3 1852.3 772.6 1856.2C772.9 1860.1 770.8 1862.9 769.2 1866.3C767.7 1869.7 764.1 1873 763.5 1876.4C763 1879.7 764.6 1883.1 765.9 1886.5C767.1 1889.8 770.6 1893.3 770.9 1896.5C771.2 1899.8 768.1 1904.4 767.6 1906L733.9 1906C733.4 1904.4 730.3 1899.8 730.6 1896.5C730.9 1893.3 734.4 1889.8 735.6 1886.5C736.9 1883.1 738.5 1879.7 738 1876.4C737.4 1873 733.8 1869.7 732.3 1866.3C730.8 1862.9 728.6 1860.1 728.9 1856.2C729.2 1852.3 731.5 1847.3 733.9 1842.8C736.4 1838.3 741.1 1834.1 743.4 1829.3C745.6 1824.6 746.7 1816.7 747.4 1814.2Z" fill="#0cff0c" stroke="#000" stroke-width="1.5" stroke-linejoin="round"/>
<line x1="731.1" y1="1862.9" x2="770.4" y2="1862.9" stroke="#000" stroke-width="1.4" stroke-dasharray="5.2 1.8"/>
<line x1="730.8" y1="1851.2" x2="770.7" y2="1851.2" stroke="#000" stroke-width="1.4" stroke-dasharray="1.5 2.2"/>
<line x1="730.6" y1="1896.5" x2="770.9" y2="1896.5" stroke="#000" stroke-width="1.4" stroke-dasharray="1.5 2.2"/>
<circle cx="750.8" cy="1815.2" r="3.8"/>
<circle cx="750.8" cy="1841.8" r="3.8"/>
<circle cx="733.9" cy="1849.5" r="3.8"/>
<circle cx="733.9" cy="1856.2" r="3.8"/>
<circle cx="750.8" cy="1856.2" r="3.8"/>
<circle cx="768.2" cy="1856.2" r="3.8"/>
<circle cx="750.8" cy="1869" r="3.8"/>
<circle cx="750.8" cy="1883.8" r="3.8"/>
<circle cx="768.2" cy="1894.2" r="3.8"/>
<circle cx="733.9" cy="1897.6" r="3.8"/>
<circle cx="743" cy="1900.9" r="3.8"/>
<circle cx="758.1" cy="1900.9" r="3.8"/>
<path d="M819.7 1752.7C819.3 1754.3 818 1758.3 817.3 1762.1C816.6 1765.9 815.5 1770.5 815.3 1775.5C815.1 1780.6 815.4 1787.3 816.3 1792.3C817.2 1797.4 820.5 1801.3 820.7 1805.8C820.8 1810.3 816.6 1814.8 817.3 1819.2C818 1823.7 822.1 1828.2 824.7 1832.7C827.3 1837.2 831.3 1842.2 833.1 1846.1C834.9 1850.1 835.8 1852.9 835.5 1856.2C835.1 1859.6 832.3 1862.4 830.8 1866.3C829.2 1870.2 827.3 1875.8 826.4 1879.7C825.5 1883.7 825.8 1886.9 825.4 1889.8C825 1892.7 824.3 1896 824 1897.2L805.2 1897.2C805 1896 804.3 1892.7 803.9 1889.8C803.5 1886.9 803.7 1883.7 802.9 1879.7C802 1875.8 800 1870.2 798.5 1866.3C797 1862.4 794.2 1859.6 793.8 1856.2C793.4 1852.9 794.3 1850.1 796.1 1846.1C797.9 1842.2 801.9 1837.2 804.5 1832.7C807.2 1828.2 811.3 1823.7 811.9 1819.2C812.6 1814.8 808.4 1810.3 808.6 1805.8C808.7 1801.3 812 1797.4 812.9 1792.3C813.8 1787.3 814.1 1780.6 813.9 1775.5C813.8 1770.5 812.7 1765.9 811.9 1762.1C811.2 1758.3 810 1754.3 809.6 1752.7Z" fill="#ff0b0b" stroke="#000" stroke-width="1.5" stroke-linejoin="round"/>
<line x1="794.2" y1="1854.5" x2="835.1" y2="1854.5" stroke="#000" stroke-width="1.4" stroke-dasharray="5.2 1.8"/>
<line x1="798.9" y1="1841.8" x2="830.4" y2="1841.8" stroke="#000" stroke-width="1.4" stroke-dasharray="1.5 2.2"/>
<line x1="801.5" y1="1875.7" x2="827.7" y2="1875.7" stroke="#000" stroke-width="1.4" stroke-dasharray="1.5 2.2"/>
<circle cx="814.6" cy="1754.4" r="3.8"/>
<circle cx="814.6" cy="1806.8" r="3.8"/>
<circle cx="832.1" cy="1841.8" r="3.8"/>
<circle cx="814.6" cy="1846.1" r="3.8"/>
<circle cx="797.8" cy="1854.5" r="3.8"/>
<circle cx="814.6" cy="1854.5" r="3.8"/>
<circle cx="832.1" cy="1857.9" r="3.8"/>
<circle cx="832.1" cy="1873" r="3.8"/>
<circle cx="814.6" cy="1876.4" r="3.8"/>
<circle cx="823.7" cy="1894.2" r="3.8"/>
<circle cx="806.2" cy="1896.5" r="3.8"/>
<path d="M881.2 1696.6C881.6 1700.2 882.7 1711.4 883.5 1718.4C884.3 1725.4 885.5 1731.8 885.9 1738.6C886.3 1745.3 886.4 1752 885.9 1758.7C885.3 1765.5 883.2 1772.2 882.5 1778.9C881.8 1785.6 881.5 1792.3 881.8 1799.1C882.2 1805.8 883.1 1812.5 884.5 1819.2C885.9 1826 888.2 1832.7 890.2 1839.4C892.3 1846.1 895.5 1854 897 1859.6C898.5 1865.2 899 1869.1 899.3 1873C899.6 1876.9 899.4 1879.9 898.6 1883.1C897.9 1886.4 895.3 1890.9 894.6 1892.5L862.3 1892.5C861.7 1890.9 859.1 1886.4 858.3 1883.1C857.5 1879.9 857.4 1876.9 857.6 1873C857.9 1869.1 858.5 1865.2 860 1859.6C861.5 1854 864.6 1846.1 866.7 1839.4C868.8 1832.7 871 1826 872.4 1819.2C873.8 1812.5 874.8 1805.8 875.1 1799.1C875.5 1792.3 875.1 1785.6 874.4 1778.9C873.8 1772.2 871.6 1765.5 871.1 1758.7C870.5 1752 870.7 1745.3 871.1 1738.6C871.5 1731.8 872.7 1725.4 873.4 1718.4C874.2 1711.4 875.4 1700.2 875.8 1696.6Z" fill="#a41292" stroke="#000" stroke-width="1.5" stroke-linejoin="round"/>
<line x1="858.3" y1="1869" x2="898.6" y2="1869" stroke="#000" stroke-width="1.4" stroke-dasharray="5.2 1.8"/>
<line x1="872.7" y1="1768.1" x2="884.3" y2="1768.1" stroke="#000" stroke-width="1.4" stroke-dasharray="1.5 2.2"/>
<line x1="858.1" y1="1879.7" x2="898.9" y2="1879.7" stroke="#000" stroke-width="1.4" stroke-dasharray="1.5 2.2"/>
<circle cx="878.5" cy="1697.6" r="3.8"/>
<circle cx="878.5" cy="1738.6" r="3.8"/>
<circle cx="878.5" cy="1748.7" r="3.8"/>
<circle cx="878.5" cy="1759.4" r="3.8"/>
<circle cx="878.5" cy="1795" r="3.8"/>
<circle cx="882.5" cy="1831" r="3.8"/>
<circle cx="874.1" cy="1835.4" r="3.8"/>
<circle cx="878.5" cy="1865.3" r="3.8"/>
<circle cx="864" cy="1871.3" r="3.8"/>
<circle cx="872.4" cy="1872.3" r="3.8"/>
<circle cx="887.6" cy="1872.3" r="3.8"/>
<circle cx="878.5" cy="1879.7" r="3.8"/>
<circle cx="894.3" cy="1879.7" r="3.8"/>
<circle cx="864" cy="1881.4" r="3.8"/>
<circle cx="887.6" cy="1884.8" r="3.8"/>
<circle cx="878.5" cy="1891.5" r="3.8"/>
<text x="87" y="1958.6" font-size="21.5" font-weight="bold" text-anchor="start" fill="#000">Patients:</text>
<rect x="212.8" y="1930.7" width="21.8" height="21.8" fill="#1b0aff" stroke="#000" stroke-width="1.5"/>
<text x="250" y="1944.5" font-size="21.5" font-weight="bold" text-anchor="start" fill="#000">HD</text>
<rect x="329" y="1930.7" width="21.8" height="21.8" fill="#0cff0c" stroke="#000" stroke-width="1.5"/>
<text x="366.5" y="1943" font-size="21.5" font-weight="bold" text-anchor="start" fill="#000">Omicron</text>
<text x="410.5" y="1969" font-size="21.5" font-weight="bold" text-anchor="middle" fill="#000">BTI</text>
<rect x="473.6" y="1929.9" width="21.8" height="21.8" fill="#ff0b0b" stroke="#000" stroke-width="1.5"/>
<text x="509.4" y="1942.6" font-size="21.5" font-weight="bold" text-anchor="start" fill="#000">Delta</text>
<text x="534.6" y="1968.8" font-size="21.5" font-weight="bold" text-anchor="middle" fill="#000">BTI</text>
<rect x="591.9" y="1929.8" width="22" height="22" fill="#a339b5" stroke="#000" stroke-width="1.5"/>
<text x="628.7" y="1944.3" font-size="21.5" font-weight="bold" text-anchor="start" fill="#000">Convalescent</text>
<text x="1025.5" y="1612.4" font-size="21.3" font-weight="bold" text-anchor="start" fill="#000">Stimulation:</text>
<text x="1178.2" y="1612.4" font-size="21.3" font-weight="bold" text-anchor="start" fill="#000">Spike WT</text>
<text x="1488.5" y="1612.6" font-size="21.3" font-weight="bold" text-anchor="middle" fill="#000">non-Spike</text>
<text x="1729" y="1612.6" font-size="21.3" font-weight="bold" text-anchor="middle" fill="#000">SARS-CoV-2</text>
<text x="988" y="1778" font-size="21.5" font-weight="bold" text-anchor="middle" fill="#000" transform="rotate(-90 988 1778)">% SARS-CoV-2 specific CD4 T Cells</text>
<text x="1018" y="1779" font-size="21.5" font-weight="bold" text-anchor="middle" fill="#000" transform="rotate(-90 1018 1779)">CD154<tspan dy="-7" font-size="15">+</tspan><tspan dy="7" font-size="1">&#8203;</tspan>TNF<tspan dy="-7" font-size="15">+</tspan><tspan dy="7" font-size="1">&#8203;</tspan></text>
<line x1="1088.9" y1="1646.5" x2="1088.9" y2="1917.2" stroke="#000" stroke-width="4.2"/>
<line x1="1074.5" y1="1915" x2="1877" y2="1915" stroke="#000" stroke-width="4.6"/>
<line x1="1074.5" y1="1648.5" x2="1088.9" y2="1648.5" stroke="#000" stroke-width="4.2"/>
<text x="1072" y="1655.9" font-size="20.5" font-weight="bold" text-anchor="end" fill="#000">1.0</text>
<line x1="1074.5" y1="1701.8" x2="1088.9" y2="1701.8" stroke="#000" stroke-width="4.2"/>
<text x="1072" y="1709.2" font-size="20.5" font-weight="bold" text-anchor="end" fill="#000">0.8</text>
<line x1="1074.5" y1="1755.3" x2="1088.9" y2="1755.3" stroke="#000" stroke-width="4.2"/>
<text x="1072" y="1762.7" font-size="20.5" font-weight="bold" text-anchor="end" fill="#000">0.6</text>
<line x1="1074.5" y1="1808.4" x2="1088.9" y2="1808.4" stroke="#000" stroke-width="4.2"/>
<text x="1072" y="1815.8" font-size="20.5" font-weight="bold" text-anchor="end" fill="#000">0.4</text>
<line x1="1074.5" y1="1861.7" x2="1088.9" y2="1861.7" stroke="#000" stroke-width="4.2"/>
<text x="1072" y="1869.1" font-size="20.5" font-weight="bold" text-anchor="end" fill="#000">0.2</text>
<line x1="1074.5" y1="1915" x2="1088.9" y2="1915" stroke="#000" stroke-width="4.2"/>
<text x="1072" y="1922.4" font-size="20.5" font-weight="bold" text-anchor="end" fill="#000">0.0</text>
<line x1="1074.5" y1="1909.7" x2="1088.9" y2="1909.7" stroke="#000" stroke-width="2.5"/>
<line x1="1130.7" y1="1915" x2="1130.7" y2="1928.8" stroke="#000" stroke-width="4.2"/>
<line x1="1194.6" y1="1915" x2="1194.6" y2="1928.8" stroke="#000" stroke-width="4.2"/>
<line x1="1258.5" y1="1915" x2="1258.5" y2="1928.8" stroke="#000" stroke-width="4.2"/>
<line x1="1322.3" y1="1915" x2="1322.3" y2="1928.8" stroke="#000" stroke-width="4.2"/>
<line x1="1386.2" y1="1915" x2="1386.2" y2="1928.8" stroke="#000" stroke-width="4.2"/>
<line x1="1450.1" y1="1915" x2="1450.1" y2="1928.8" stroke="#000" stroke-width="4.2"/>
<line x1="1514" y1="1915" x2="1514" y2="1928.8" stroke="#000" stroke-width="4.2"/>
<line x1="1577.9" y1="1915" x2="1577.9" y2="1928.8" stroke="#000" stroke-width="4.2"/>
<line x1="1641.7" y1="1915" x2="1641.7" y2="1928.8" stroke="#000" stroke-width="4.2"/>
<line x1="1705.6" y1="1915" x2="1705.6" y2="1928.8" stroke="#000" stroke-width="4.2"/>
<line x1="1769.5" y1="1915" x2="1769.5" y2="1928.8" stroke="#000" stroke-width="4.2"/>
<line x1="1833.4" y1="1915" x2="1833.4" y2="1928.8" stroke="#000" stroke-width="4.2"/>
<line x1="1088.9" y1="1909.8" x2="1877" y2="1909.8" stroke="#000" stroke-width="2.4" stroke-dasharray="2.4 3.1"/>
<line x1="1354.8" y1="1648" x2="1354.8" y2="1909" stroke="#000" stroke-width="2.4" stroke-dasharray="2.4 3.1"/>
<line x1="1610.2" y1="1648" x2="1610.2" y2="1909" stroke="#000" stroke-width="2.4" stroke-dasharray="2.4 3.1"/>
<path d="M1124.3 1821.6V1662.3H1191.4V1737.2" fill="none" stroke="#000" stroke-width="3" stroke-linecap="round" stroke-linejoin="miter"/>
<text x="1146.2" y="1647.9" font-size="21" font-weight="normal" text-anchor="middle" fill="#000">p=0.004</text>
<path d="M1194.9 1680.4V1662.3H1321.7V1736.3" fill="none" stroke="#000" stroke-width="3" stroke-linecap="round" stroke-linejoin="miter"/>
<text x="1262" y="1647.9" font-size="21" font-weight="normal" text-anchor="middle" fill="#000">p=0.0262</text>
<path d="M1194.9 1737.2V1710.4H1258.9V1811.2" fill="none" stroke="#000" stroke-width="3" stroke-linecap="round" stroke-linejoin="miter"/>
<text x="1241.3" y="1703.2" font-size="21" font-weight="normal" text-anchor="middle" fill="#000">p=0.0051</text>
<path d="M1135 1840.1C1135 1841.9 1134.6 1847.3 1135 1851C1135.3 1854.7 1136.4 1858.7 1137 1862.5C1137.6 1866.4 1138.3 1870.2 1138.7 1874.1C1139.1 1877.9 1138 1882.2 1139.3 1885.6C1140.6 1888.9 1144.3 1891.3 1146.5 1894.2C1148.7 1897.1 1152 1900 1152.3 1902.9C1152.5 1905.7 1148.7 1910.1 1147.9 1911.5L1113.4 1911.5C1112.6 1910.1 1108.8 1905.7 1109 1902.9C1109.3 1900 1112.6 1897.1 1114.8 1894.2C1117 1891.3 1120.7 1888.9 1122 1885.6C1123.3 1882.2 1122.2 1877.9 1122.6 1874.1C1123 1870.2 1123.7 1866.4 1124.3 1862.5C1124.9 1858.7 1126 1854.7 1126.3 1851C1126.7 1847.3 1126.3 1841.9 1126.3 1840.1Z" fill="#1b0aff" stroke="#000" stroke-width="1.5" stroke-linejoin="round"/>
<line x1="1110" y1="1901.4" x2="1151.3" y2="1901.4" stroke="#000" stroke-width="1.4" stroke-dasharray="5.2 1.8"/>
<line x1="1123.1" y1="1870.6" x2="1138.2" y2="1870.6" stroke="#000" stroke-width="1.4" stroke-dasharray="1.5 2.2"/>
<line x1="1111.2" y1="1907.2" x2="1150.1" y2="1907.2" stroke="#000" stroke-width="1.4" stroke-dasharray="1.5 2.2"/>
<circle cx="1130.9" cy="1840.3" r="3.8"/>
<circle cx="1130.9" cy="1867.7" r="3.8"/>
<circle cx="1130.9" cy="1878.4" r="3.8"/>
<circle cx="1113.4" cy="1903.4" r="3.8"/>
<circle cx="1125.2" cy="1902.9" r="3.8"/>
<circle cx="1148.2" cy="1903.4" r="3.8"/>
<circle cx="1136.7" cy="1907.2" r="3.8"/>
<path d="M1208.2 1757.9C1208.3 1759.5 1209 1762 1209.3 1767.4C1209.6 1772.9 1210.2 1781.9 1210.2 1790.5C1210.2 1799.1 1209 1809.7 1209.3 1819.3C1209.6 1828.9 1211.2 1839.5 1212.2 1848.1C1213.1 1856.8 1214.8 1865.4 1215.1 1871.2C1215.4 1876.9 1215.2 1878.5 1213.9 1882.7C1212.6 1886.9 1208.4 1894 1207.3 1896.2L1181.4 1896.2C1180.3 1894 1176 1886.9 1174.7 1882.7C1173.4 1878.5 1173.3 1876.9 1173.6 1871.2C1173.9 1865.4 1175.5 1856.8 1176.5 1848.1C1177.4 1839.5 1179 1828.9 1179.3 1819.3C1179.7 1809.7 1178.5 1799.1 1178.5 1790.5C1178.5 1781.9 1179 1772.9 1179.3 1767.4C1179.7 1762 1180.3 1759.5 1180.5 1757.9Z" fill="#0cff0c" stroke="#000" stroke-width="1.5" stroke-linejoin="round"/>
<line x1="1177.9" y1="1833.7" x2="1210.7" y2="1833.7" stroke="#000" stroke-width="1.4" stroke-dasharray="5.2 1.8"/>
<line x1="1178.6" y1="1787.6" x2="1210.1" y2="1787.6" stroke="#000" stroke-width="1.4" stroke-dasharray="1.5 2.2"/>
<line x1="1173.6" y1="1871.7" x2="1215" y2="1871.7" stroke="#000" stroke-width="1.4" stroke-dasharray="1.5 2.2"/>
<circle cx="1186.8" cy="1758.2" r="3.8"/>
<circle cx="1203" cy="1764" r="3.8"/>
<circle cx="1186.8" cy="1795.7" r="3.8"/>
<circle cx="1203" cy="1795.7" r="3.8"/>
<circle cx="1194.9" cy="1827.4" r="3.8"/>
<circle cx="1194.9" cy="1840.3" r="3.8"/>
<circle cx="1203" cy="1864" r="3.8"/>
<circle cx="1186.8" cy="1870.3" r="3.8"/>
<circle cx="1194.9" cy="1878.4" r="3.8"/>
<circle cx="1194.9" cy="1896.5" r="3.8"/>
<path d="M1266.4 1851C1266.2 1852.9 1265 1859.2 1265.5 1862.5C1266 1865.9 1267.5 1867.8 1269.2 1871.2C1271 1874.5 1274.4 1879.3 1276.2 1882.7C1277.9 1886.1 1280 1888.5 1279.9 1891.3C1279.8 1894.2 1277.4 1897.3 1275.6 1900C1273.8 1902.6 1271.3 1905.2 1269.2 1907.2C1267.2 1909.2 1264.4 1911.3 1263.5 1912.1L1253.1 1912.1C1252.1 1911.3 1249.4 1909.2 1247.3 1907.2C1245.3 1905.2 1242.8 1902.6 1241 1900C1239.2 1897.3 1236.8 1894.2 1236.7 1891.3C1236.6 1888.5 1238.6 1886.1 1240.4 1882.7C1242.2 1879.3 1245.6 1874.5 1247.3 1871.2C1249.1 1867.8 1250.6 1865.9 1251.1 1862.5C1251.6 1859.2 1250.4 1852.9 1250.2 1851Z" fill="#ff0b0b" stroke="#000" stroke-width="1.5" stroke-linejoin="round"/>
<line x1="1236.7" y1="1891.3" x2="1279.9" y2="1891.3" stroke="#000" stroke-width="1.4" stroke-dasharray="5.2 1.8"/>
<circle cx="1251.9" cy="1851.6" r="3.8"/>
<circle cx="1264.9" cy="1851.6" r="3.8"/>
<circle cx="1258.3" cy="1864" r="3.8"/>
<circle cx="1264.9" cy="1879.2" r="3.8"/>
<circle cx="1252.5" cy="1885.6" r="3.8"/>
<circle cx="1243.3" cy="1891.9" r="3.8"/>
<circle cx="1264.9" cy="1890.8" r="3.8"/>
<circle cx="1275.6" cy="1891.9" r="3.8"/>
<circle cx="1252.5" cy="1894.2" r="3.8"/>
<circle cx="1252.5" cy="1902.9" r="3.8"/>
<circle cx="1264.9" cy="1902.9" r="3.8"/>
<circle cx="1258.3" cy="1912.1" r="3.8"/>
<path d="M1325.7 1748.7C1325.6 1750.4 1325.6 1754.7 1325.1 1758.8C1324.7 1762.9 1323.4 1765.5 1323.1 1773.2C1322.9 1780.9 1323.3 1796.5 1323.7 1804.9C1324.1 1813.3 1325.7 1818.3 1325.7 1823.6C1325.7 1828.9 1324 1831.1 1323.7 1836.6C1323.4 1842.1 1322.9 1851 1323.7 1856.8C1324.5 1862.5 1326.4 1866.4 1328.6 1871.2C1330.8 1876 1334.4 1881.3 1336.7 1885.6C1339 1889.9 1341.4 1893.7 1342.4 1897.1C1343.5 1900.5 1343.2 1903.2 1343 1905.7C1342.8 1908.2 1341.3 1911 1341 1912.1L1303.5 1912.1C1303.2 1911 1301.7 1908.2 1301.5 1905.7C1301.3 1903.2 1301 1900.5 1302.1 1897.1C1303.1 1893.7 1305.5 1889.9 1307.8 1885.6C1310.2 1881.3 1313.8 1876 1315.9 1871.2C1318.1 1866.4 1320 1862.5 1320.8 1856.8C1321.6 1851 1321.1 1842.1 1320.8 1836.6C1320.5 1831.1 1318.8 1828.9 1318.8 1823.6C1318.8 1818.3 1320.4 1813.3 1320.8 1804.9C1321.2 1796.5 1321.6 1780.9 1321.4 1773.2C1321.1 1765.5 1319.8 1762.9 1319.4 1758.8C1318.9 1754.7 1318.9 1750.4 1318.8 1748.7Z" fill="#a41292" stroke="#000" stroke-width="1.5" stroke-linejoin="round"/>
<line x1="1301.8" y1="1901.4" x2="1342.7" y2="1901.4" stroke="#000" stroke-width="1.4" stroke-dasharray="5.2 1.8"/>
<line x1="1302" y1="1907.2" x2="1342.5" y2="1907.2" stroke="#000" stroke-width="1.4" stroke-dasharray="1.5 2.2"/>
<circle cx="1322.8" cy="1750.2" r="3.8"/>
<circle cx="1322.8" cy="1824.5" r="3.8"/>
<circle cx="1322.8" cy="1883.6" r="3.8"/>
<circle cx="1322.8" cy="1891.9" r="3.8"/>
<circle cx="1313.6" cy="1902" r="3.8"/>
<circle cx="1331.8" cy="1902" r="3.8"/>
<circle cx="1322.8" cy="1904.3" r="3.8"/>
<circle cx="1313.6" cy="1910.9" r="3.8"/>
<circle cx="1331.8" cy="1910.9" r="3.8"/>
<circle cx="1322.8" cy="1911.5" r="3.8"/>
<path d="M1368.8 1901.4L1404.3 1911.3L1368.8 1911.3L1404.3 1901.4Z" fill="#1b0aff" stroke="#000" stroke-width="1"/>
<circle cx="1368.8" cy="1901.4" r="3.8"/>
<circle cx="1386.6" cy="1901.4" r="3.8"/>
<circle cx="1404.3" cy="1901.4" r="3.8"/>
<circle cx="1368.8" cy="1912" r="3.8"/>
<circle cx="1386.6" cy="1912" r="3.8"/>
<circle cx="1404.3" cy="1912" r="3.8"/>
<line x1="1450.4" y1="1867.5" x2="1450.4" y2="1897.2" stroke="#000" stroke-width="1.8"/>
<path d="M1451 1895.5C1453.4 1896.6 1465.2 1899.8 1465.2 1902.1C1465.2 1904.4 1453.4 1908.1 1451 1909.3L1449.7 1909.3C1447.4 1908.1 1435.6 1904.4 1435.6 1902.1C1435.6 1899.8 1447.4 1896.6 1449.7 1895.5Z" fill="#0cff0c" stroke="#000" stroke-width="1.5" stroke-linejoin="round"/>
<circle cx="1450.4" cy="1867.5" r="3.8"/>
<circle cx="1435.3" cy="1902.1" r="3.8"/>
<circle cx="1443.5" cy="1902.1" r="3.8"/>
<circle cx="1458.3" cy="1902.1" r="3.8"/>
<circle cx="1464.9" cy="1902.1" r="3.8"/>
<circle cx="1432" cy="1912" r="3.8"/>
<circle cx="1441.8" cy="1912" r="3.8"/>
<circle cx="1450.4" cy="1912" r="3.8"/>
<circle cx="1459.9" cy="1912" r="3.8"/>
<circle cx="1468.2" cy="1912" r="3.8"/>
<line x1="1514.2" y1="1891.2" x2="1514.2" y2="1908.7" stroke="#000" stroke-width="1.8"/>
<path d="M1514.5 1897.2C1514.9 1898 1516.7 1900.6 1516.8 1902.1C1516.9 1903.6 1515.2 1904.9 1515.2 1906C1515.2 1907.1 1516.9 1907.7 1516.8 1908.7C1516.7 1909.7 1514.9 1911.4 1514.5 1912L1513.9 1912C1513.5 1911.4 1511.7 1909.7 1511.6 1908.7C1511.5 1907.7 1513.2 1907.1 1513.2 1906C1513.2 1904.9 1511.5 1903.6 1511.6 1902.1C1511.7 1900.6 1513.5 1898 1513.9 1897.2Z" fill="#ff0b0b" stroke="#000" stroke-width="1.5" stroke-linejoin="round"/>
<circle cx="1514.2" cy="1891.2" r="3.8"/>
<circle cx="1501" cy="1907" r="3.8"/>
<circle cx="1527.4" cy="1902.1" r="3.8"/>
<circle cx="1496.1" cy="1912" r="3.8"/>
<circle cx="1506" cy="1912" r="3.8"/>
<circle cx="1514.2" cy="1912" r="3.8"/>
<circle cx="1522.4" cy="1912" r="3.8"/>
<circle cx="1531.3" cy="1912" r="3.8"/>
<path d="M1582.9 1796.8C1582.9 1800.1 1583.3 1810 1582.9 1816.6C1582.6 1823.1 1581.3 1830.8 1581 1836.3C1580.6 1841.8 1580.3 1845.1 1581 1849.5C1581.6 1853.8 1583.1 1858.2 1584.9 1862.6C1586.8 1867 1590 1871.4 1592.2 1875.8C1594.4 1880.2 1597 1885.1 1598.1 1888.9C1599.2 1892.8 1599 1896.3 1598.7 1898.8C1598.5 1901.3 1596.8 1902.9 1596.4 1903.7L1560.3 1903.7C1559.9 1902.9 1558.2 1901.3 1557.9 1898.8C1557.7 1896.3 1557.5 1892.8 1558.6 1888.9C1559.7 1885.1 1562.3 1880.2 1564.5 1875.8C1566.7 1871.4 1569.9 1867 1571.8 1862.6C1573.6 1858.2 1575.1 1853.8 1575.7 1849.5C1576.4 1845.1 1576 1841.8 1575.7 1836.3C1575.4 1830.8 1574.1 1823.1 1573.7 1816.6C1573.4 1810 1573.7 1800.1 1573.7 1796.8Z" fill="#a41292" stroke="#000" stroke-width="1.5" stroke-linejoin="round"/>
<line x1="1558.9" y1="1888.3" x2="1597.8" y2="1888.3" stroke="#000" stroke-width="1.4" stroke-dasharray="5.2 1.8"/>
<circle cx="1578.3" cy="1797.5" r="3.8"/>
<circle cx="1578.3" cy="1824.1" r="3.8"/>
<circle cx="1578.3" cy="1875.1" r="3.8"/>
<circle cx="1583.9" cy="1880.7" r="3.8"/>
<circle cx="1572.8" cy="1888.3" r="3.8"/>
<circle cx="1561.2" cy="1902.1" r="3.8"/>
<circle cx="1572.8" cy="1902.1" r="3.8"/>
<circle cx="1583.9" cy="1902.1" r="3.8"/>
<circle cx="1595.8" cy="1902.1" r="3.8"/>
<path d="M1650.7 1757.4C1650.7 1762.8 1650.8 1779.3 1650.7 1790.3C1650.6 1801.2 1649.9 1813.3 1650 1823.1C1650.2 1833 1650.6 1841.8 1651.7 1849.5C1652.8 1857.1 1655.1 1862.6 1656.6 1869.2C1658.2 1875.8 1660 1883.4 1660.9 1888.9C1661.8 1894.4 1662.1 1898.2 1662.2 1902.1C1662.3 1905.9 1661.7 1910.3 1661.6 1912L1622.1 1912C1622 1910.3 1621.3 1905.9 1621.4 1902.1C1621.5 1898.2 1621.8 1894.4 1622.7 1888.9C1623.7 1883.4 1625.5 1875.8 1627 1869.2C1628.6 1862.6 1630.9 1857.1 1632 1849.5C1633.1 1841.8 1633.4 1833 1633.6 1823.1C1633.8 1813.3 1633.1 1801.2 1632.9 1790.3C1632.8 1779.3 1632.9 1762.8 1632.9 1757.4Z" fill="#1b0aff" stroke="#000" stroke-width="1.5" stroke-linejoin="round"/>
<line x1="1625.2" y1="1877.4" x2="1658.4" y2="1877.4" stroke="#000" stroke-width="1.4" stroke-dasharray="5.2 1.8"/>
<line x1="1633" y1="1791.9" x2="1650.7" y2="1791.9" stroke="#000" stroke-width="1.4" stroke-dasharray="1.5 2.2"/>
<circle cx="1642.5" cy="1758" r="3.8"/>
<circle cx="1642.5" cy="1803.4" r="3.8"/>
<circle cx="1642.5" cy="1861.6" r="3.8"/>
<circle cx="1642.5" cy="1893.9" r="3.8"/>
<circle cx="1634.3" cy="1912" r="3.8"/>
<circle cx="1650.7" cy="1912" r="3.8"/>
<path d="M1714.2 1805.1C1714 1807.5 1714 1815.2 1713.2 1819.9C1712.4 1824.5 1709.3 1829.2 1709.3 1833C1709.3 1836.8 1710.7 1839 1713.2 1842.9C1715.7 1846.7 1721.7 1851.7 1724.1 1856C1726.4 1860.4 1727.1 1864.8 1727.3 1869.2C1727.6 1873.6 1726.4 1878 1725.7 1882.4C1725 1886.7 1724.4 1891.1 1723.1 1895.5C1721.7 1899.9 1718.4 1906.5 1717.5 1908.7L1694.5 1908.7C1693.5 1906.5 1690.2 1899.9 1688.9 1895.5C1687.5 1891.1 1686.9 1886.7 1686.2 1882.4C1685.5 1878 1684.3 1873.6 1684.6 1869.2C1684.9 1864.8 1685.5 1860.4 1687.9 1856C1690.2 1851.7 1696.3 1846.7 1698.7 1842.9C1701.2 1839 1702.7 1836.8 1702.7 1833C1702.7 1829.2 1699.6 1824.5 1698.7 1819.9C1697.9 1815.2 1697.9 1807.5 1697.7 1805.1Z" fill="#0cff0c" stroke="#000" stroke-width="1.5" stroke-linejoin="round"/>
<line x1="1685.2" y1="1874.1" x2="1726.7" y2="1874.1" stroke="#000" stroke-width="1.4" stroke-dasharray="5.2 1.8"/>
<line x1="1687.6" y1="1857" x2="1724.3" y2="1857" stroke="#000" stroke-width="1.4" stroke-dasharray="1.5 2.2"/>
<line x1="1688.7" y1="1894.5" x2="1723.3" y2="1894.5" stroke="#000" stroke-width="1.4" stroke-dasharray="1.5 2.2"/>
<circle cx="1706" cy="1806" r="3.8"/>
<circle cx="1706" cy="1819.9" r="3.8"/>
<circle cx="1723.7" cy="1856.7" r="3.8"/>
<circle cx="1688.5" cy="1861" r="3.8"/>
<circle cx="1706" cy="1860" r="3.8"/>
<circle cx="1706" cy="1870.8" r="3.8"/>
<circle cx="1723.7" cy="1875.1" r="3.8"/>
<circle cx="1706" cy="1879.1" r="3.8"/>
<circle cx="1706" cy="1888.3" r="3.8"/>
<circle cx="1697.7" cy="1894.9" r="3.8"/>
<circle cx="1714.8" cy="1894.9" r="3.8"/>
<circle cx="1714.8" cy="1904.7" r="3.8"/>
<circle cx="1697.7" cy="1908.7" r="3.8"/>
<path d="M1773.7 1765.6C1773.5 1767.5 1772.9 1773 1772.4 1777.1C1771.9 1781.2 1770.5 1785.3 1770.8 1790.3C1771 1795.2 1773.7 1801.8 1773.7 1806.7C1773.7 1811.6 1771.1 1814.4 1770.8 1819.9C1770.4 1825.3 1770.2 1833.6 1771.4 1839.6C1772.6 1845.6 1776.1 1850.6 1778 1856C1779.9 1861.5 1781.3 1867 1782.9 1872.5C1784.6 1878 1786.7 1884.5 1787.9 1888.9C1789.1 1893.3 1790.2 1896.3 1790.2 1898.8C1790.2 1901.3 1788.3 1902.9 1787.9 1903.7L1751.7 1903.7C1751.3 1902.9 1749.4 1901.3 1749.4 1898.8C1749.4 1896.3 1750.5 1893.3 1751.7 1888.9C1752.9 1884.5 1755 1878 1756.6 1872.5C1758.3 1867 1759.6 1861.5 1761.6 1856C1763.5 1850.6 1766.9 1845.6 1768.1 1839.6C1769.3 1833.6 1769.2 1825.3 1768.8 1819.9C1768.4 1814.4 1765.8 1811.6 1765.8 1806.7C1765.8 1801.8 1768.6 1795.2 1768.8 1790.3C1769 1785.3 1767.6 1781.2 1767.1 1777.1C1766.7 1773 1766.1 1767.5 1765.8 1765.6Z" fill="#ff0b0b" stroke="#000" stroke-width="1.5" stroke-linejoin="round"/>
<line x1="1753.5" y1="1883" x2="1786.1" y2="1883" stroke="#000" stroke-width="1.4" stroke-dasharray="5.2 1.8"/>
<circle cx="1770.1" cy="1766.6" r="3.8"/>
<circle cx="1770.1" cy="1806" r="3.8"/>
<circle cx="1764.2" cy="1862.6" r="3.8"/>
<circle cx="1775.7" cy="1862" r="3.8"/>
<circle cx="1764.2" cy="1877.4" r="3.8"/>
<circle cx="1775.7" cy="1884" r="3.8"/>
<circle cx="1769.8" cy="1893.9" r="3.8"/>
<circle cx="1752.7" cy="1902.1" r="3.8"/>
<circle cx="1764.2" cy="1902.1" r="3.8"/>
<circle cx="1775.7" cy="1902.1" r="3.8"/>
<circle cx="1787.2" cy="1902.1" r="3.8"/>
<path d="M1836.6 1693.2C1836.8 1696.2 1837.5 1705 1838.2 1711.3C1838.9 1717.6 1840.1 1723.4 1840.5 1731C1840.9 1738.7 1841 1748.6 1840.5 1757.4C1840 1766.1 1837.6 1774.9 1837.2 1783.7C1836.8 1792.4 1837.2 1801.2 1838.2 1810C1839.2 1818.8 1841.5 1828.6 1843.1 1836.3C1844.8 1844 1846.5 1850 1848.1 1856C1849.6 1862.1 1851.4 1867.5 1852.3 1872.5C1853.3 1877.4 1853.8 1881.8 1853.7 1885.6C1853.5 1889.5 1852.8 1892.3 1851.4 1895.5C1849.9 1898.7 1845.9 1903.2 1844.8 1904.7L1821.8 1904.7C1820.7 1903.2 1816.7 1898.7 1815.2 1895.5C1813.7 1892.3 1813 1889.5 1812.9 1885.6C1812.7 1881.8 1813.3 1877.4 1814.2 1872.5C1815.1 1867.5 1816.9 1862.1 1818.5 1856C1820 1850 1821.8 1844 1823.4 1836.3C1825 1828.6 1827.3 1818.8 1828.3 1810C1829.3 1801.2 1829.7 1792.4 1829.3 1783.7C1828.9 1774.9 1826.6 1766.1 1826 1757.4C1825.5 1748.6 1825.6 1738.7 1826 1731C1826.4 1723.4 1827.7 1717.6 1828.3 1711.3C1829 1705 1829.7 1696.2 1830 1693.2Z" fill="#a41292" stroke="#000" stroke-width="1.5" stroke-linejoin="round"/>
<line x1="1814.6" y1="1870.8" x2="1851.9" y2="1870.8" stroke="#000" stroke-width="1.4" stroke-dasharray="5.2 1.8"/>
<line x1="1827.7" y1="1770.5" x2="1838.9" y2="1770.5" stroke="#000" stroke-width="1.4" stroke-dasharray="1.5 2.2"/>
<line x1="1813.5" y1="1888.3" x2="1853" y2="1888.3" stroke="#000" stroke-width="1.4" stroke-dasharray="1.5 2.2"/>
<circle cx="1833.9" cy="1694.9" r="3.8"/>
<circle cx="1833.9" cy="1731.7" r="3.8"/>
<circle cx="1833.9" cy="1741.6" r="3.8"/>
<circle cx="1833.9" cy="1758" r="3.8"/>
<circle cx="1833.9" cy="1811.6" r="3.8"/>
<circle cx="1828.3" cy="1838.9" r="3.8"/>
<circle cx="1839.2" cy="1838.9" r="3.8"/>
<circle cx="1839.2" cy="1869.2" r="3.8"/>
<circle cx="1828.3" cy="1872.5" r="3.8"/>
<circle cx="1816.8" cy="1883.3" r="3.8"/>
<circle cx="1828.3" cy="1888.3" r="3.8"/>
<circle cx="1839.8" cy="1878.4" r="3.8"/>
<circle cx="1839.8" cy="1888.3" r="3.8"/>
<circle cx="1851.4" cy="1884" r="3.8"/>
<circle cx="1851.4" cy="1895.5" r="3.8"/>
<circle cx="1833.9" cy="1903.7" r="3.8"/>
<text x="1040.2" y="1953.3" font-size="21.5" font-weight="bold" text-anchor="start" fill="#000">Patients</text>
<rect x="1166.1" y="1936" width="22.5" height="22.5" fill="#1b0aff" stroke="#000" stroke-width="1.5"/>
<text x="1203.5" y="1951.3" font-size="21.5" font-weight="bold" text-anchor="start" fill="#000">HD</text>
<rect x="1281.3" y="1936" width="22.5" height="22.5" fill="#0cff0c" stroke="#000" stroke-width="1.5"/>
<text x="1321.1" y="1949.5" font-size="21.5" font-weight="bold" text-anchor="start" fill="#000">Omicron</text>
<text x="1365" y="1975.8" font-size="21.5" font-weight="bold" text-anchor="middle" fill="#000">BTI</text>
<rect x="1427" y="1936.6" width="22" height="22" fill="#ff0b0b" stroke="#000" stroke-width="1.5"/>
<text x="1463.9" y="1949.8" font-size="21.5" font-weight="bold" text-anchor="start" fill="#000">Delta</text>
<text x="1489.5" y="1976.1" font-size="21.5" font-weight="bold" text-anchor="middle" fill="#000">BTI</text>
<rect x="1546.4" y="1936.6" width="22.5" height="22.5" fill="#a339b5" stroke="#000" stroke-width="1.5"/>
<text x="1583.3" y="1951.4" font-size="21.5" font-weight="bold" text-anchor="start" fill="#000">Convalescent</text>
<text x="72.6" y="2070.6" font-size="21.3" font-weight="bold" text-anchor="start" fill="#000">Stimulation:</text>
<text x="211.8" y="2070.6" font-size="21.3" font-weight="bold" text-anchor="start" fill="#000">Spike WT</text>
<text x="521.2" y="2071.3" font-size="21.3" font-weight="bold" text-anchor="middle" fill="#000">non-Spike</text>
<text x="779.3" y="2071.3" font-size="21.3" font-weight="bold" text-anchor="middle" fill="#000">SARS-CoV-2</text>
<text x="38.5" y="2245" font-size="21.5" font-weight="bold" text-anchor="middle" fill="#000" transform="rotate(-90 38.5 2245)">% SARS-CoV-2 specific CD4 T</text>
<text x="68" y="2247" font-size="21.5" font-weight="bold" text-anchor="middle" fill="#000" transform="rotate(-90 68 2247)">Cells&#160; CD154<tspan dy="-7" font-size="15">+</tspan><tspan dy="7" font-size="1">&#8203;</tspan>IFN&#947;<tspan dy="-7" font-size="15">+</tspan><tspan dy="7" font-size="1">&#8203;</tspan></text>
<line x1="135.4" y1="2123.3" x2="135.4" y2="2393.2" stroke="#000" stroke-width="4.2"/>
<line x1="121" y1="2391" x2="923.9" y2="2391" stroke="#000" stroke-width="4.6"/>
<line x1="121" y1="2125.3" x2="135.4" y2="2125.3" stroke="#000" stroke-width="4.2"/>
<text x="118.5" y="2132.7" font-size="20.5" font-weight="bold" text-anchor="end" fill="#000">0.5</text>
<line x1="121" y1="2178.6" x2="135.4" y2="2178.6" stroke="#000" stroke-width="4.2"/>
<text x="118.5" y="2186" font-size="20.5" font-weight="bold" text-anchor="end" fill="#000">0.4</text>
<line x1="121" y1="2231.4" x2="135.4" y2="2231.4" stroke="#000" stroke-width="4.2"/>
<text x="118.5" y="2238.8" font-size="20.5" font-weight="bold" text-anchor="end" fill="#000">0.3</text>
<line x1="121" y1="2284.7" x2="135.4" y2="2284.7" stroke="#000" stroke-width="4.2"/>
<text x="118.5" y="2292.1" font-size="20.5" font-weight="bold" text-anchor="end" fill="#000">0.2</text>
<line x1="121" y1="2337.7" x2="135.4" y2="2337.7" stroke="#000" stroke-width="4.2"/>
<text x="118.5" y="2345.1" font-size="20.5" font-weight="bold" text-anchor="end" fill="#000">0.1</text>
<line x1="121" y1="2391" x2="135.4" y2="2391" stroke="#000" stroke-width="4.2"/>
<text x="118.5" y="2398.4" font-size="20.5" font-weight="bold" text-anchor="end" fill="#000">0.0</text>
<line x1="121" y1="2380.5" x2="135.4" y2="2380.5" stroke="#000" stroke-width="2.5"/>
<line x1="177.8" y1="2391" x2="177.8" y2="2404.8" stroke="#000" stroke-width="4.2"/>
<line x1="241.7" y1="2391" x2="241.7" y2="2404.8" stroke="#000" stroke-width="4.2"/>
<line x1="305.6" y1="2391" x2="305.6" y2="2404.8" stroke="#000" stroke-width="4.2"/>
<line x1="369.5" y1="2391" x2="369.5" y2="2404.8" stroke="#000" stroke-width="4.2"/>
<line x1="433.4" y1="2391" x2="433.4" y2="2404.8" stroke="#000" stroke-width="4.2"/>
<line x1="497.3" y1="2391" x2="497.3" y2="2404.8" stroke="#000" stroke-width="4.2"/>
<line x1="561.2" y1="2391" x2="561.2" y2="2404.8" stroke="#000" stroke-width="4.2"/>
<line x1="625.1" y1="2391" x2="625.1" y2="2404.8" stroke="#000" stroke-width="4.2"/>
<line x1="689" y1="2391" x2="689" y2="2404.8" stroke="#000" stroke-width="4.2"/>
<line x1="752.9" y1="2391" x2="752.9" y2="2404.8" stroke="#000" stroke-width="4.2"/>
<line x1="816.8" y1="2391" x2="816.8" y2="2404.8" stroke="#000" stroke-width="4.2"/>
<line x1="880.7" y1="2391" x2="880.7" y2="2404.8" stroke="#000" stroke-width="4.2"/>
<line x1="135.4" y1="2380.8" x2="923.9" y2="2380.8" stroke="#000" stroke-width="2.4" stroke-dasharray="2.4 3.1"/>
<line x1="401.5" y1="2124.4" x2="401.5" y2="2380" stroke="#000" stroke-width="2.4" stroke-dasharray="2.4 3.1"/>
<line x1="657.3" y1="2124.4" x2="657.3" y2="2380" stroke="#000" stroke-width="2.4" stroke-dasharray="2.4 3.1"/>
<path d="M177.8 2304V2119H242V2142.6" fill="none" stroke="#000" stroke-width="3" stroke-linecap="round" stroke-linejoin="miter"/>
<text x="201.4" y="2107.2" font-size="21" font-weight="normal" text-anchor="middle" fill="#000">p=0.0024</text>
<path d="M247.2 2132V2119H369.7V2234" fill="none" stroke="#000" stroke-width="3" stroke-linecap="round" stroke-linejoin="miter"/>
<text x="309.7" y="2108" font-size="21" font-weight="normal" text-anchor="middle" fill="#000">p=0.0237</text>
<path d="M247.2 2152.1V2151.3H306.3V2278" fill="none" stroke="#000" stroke-width="3" stroke-linecap="round" stroke-linejoin="miter"/>
<text x="295" y="2142.6" font-size="21" font-weight="normal" text-anchor="middle" fill="#000">p=0.0128</text>
<path d="M430.4 2360.3V2119.3H626V2258.1" fill="none" stroke="#000" stroke-width="3" stroke-linecap="round" stroke-linejoin="miter"/>
<text x="524.5" y="2110.3" font-size="21" font-weight="normal" text-anchor="middle" fill="#000">p=0.0053</text>
<path d="M685.2 2372.4V2116H873.1V2132.1" fill="none" stroke="#000" stroke-width="3" stroke-linecap="round" stroke-linejoin="miter"/>
<text x="782.3" y="2105.9" font-size="21" font-weight="normal" text-anchor="middle" fill="#000">p&lt;0.0001</text>
<path d="M692.6 2372.4V2214.1H754.8V2278.3" fill="none" stroke="#000" stroke-width="3" stroke-linecap="round" stroke-linejoin="miter"/>
<text x="738" y="2202.7" font-size="21" font-weight="normal" text-anchor="middle" fill="#000">p=0.0054</text>
<path d="M183.5 2318.4C183.1 2319.6 181.4 2323.4 180.7 2325.6C179.9 2327.7 179.5 2328 179.2 2331.3C179 2334.7 178.6 2341.9 179.2 2345.7C179.8 2349.6 181.5 2351.5 182.7 2354.4C183.9 2357.3 184.3 2360.2 186.4 2363C188.6 2365.9 193.5 2369.3 195.6 2371.7C197.7 2374.1 199.1 2374.9 199.1 2377.4C199.1 2379.9 196.2 2385.1 195.6 2386.7L161.1 2386.7C160.5 2385.1 157.6 2379.9 157.6 2377.4C157.6 2374.9 158.9 2374.1 161.1 2371.7C163.2 2369.3 168.1 2365.9 170.3 2363C172.4 2360.2 172.8 2357.3 174 2354.4C175.2 2351.5 176.9 2349.6 177.5 2345.7C178.1 2341.9 177.7 2334.7 177.5 2331.3C177.2 2328 176.8 2327.7 176 2325.6C175.3 2323.4 173.6 2319.6 173.2 2318.4Z" fill="#1b0aff" stroke="#000" stroke-width="1.5" stroke-linejoin="round"/>
<line x1="158.5" y1="2376" x2="198.2" y2="2376" stroke="#000" stroke-width="1.4" stroke-dasharray="5.2 1.8"/>
<line x1="160.3" y1="2384.6" x2="196.4" y2="2384.6" stroke="#000" stroke-width="1.4" stroke-dasharray="1.5 2.2"/>
<circle cx="178.6" cy="2320.4" r="3.8"/>
<circle cx="178.6" cy="2360.2" r="3.8"/>
<circle cx="160.5" cy="2376.9" r="3.8"/>
<circle cx="178.6" cy="2374" r="3.8"/>
<circle cx="195.9" cy="2374.6" r="3.8"/>
<circle cx="178.6" cy="2382.6" r="3.8"/>
<circle cx="195.9" cy="2385.5" r="3.8"/>
<circle cx="160.5" cy="2386.1" r="3.8"/>
<path d="M247.2 2157C247.3 2159.7 247.9 2165.4 247.8 2172.9C247.6 2180.3 246.4 2193 246.3 2201.7C246.2 2210.3 246.9 2218 247.2 2224.7C247.5 2231.5 248.5 2236.3 248.4 2242C248.2 2247.8 246.7 2253.5 246.3 2259.3C246 2265.1 245.7 2270.8 246.3 2276.6C247 2282.4 248.4 2288.1 250.1 2293.9C251.8 2299.6 254.5 2305.9 256.4 2311.2C258.3 2316.5 260.6 2320.8 261.6 2325.6C262.7 2330.4 262.8 2335.2 262.8 2340C262.8 2344.8 263.1 2348.8 261.6 2354.4C260.2 2360 255.4 2370.5 254.1 2373.7L229.9 2373.7C228.7 2370.5 223.9 2360 222.4 2354.4C221 2348.8 221.3 2344.8 221.3 2340C221.3 2335.2 221.4 2330.4 222.4 2325.6C223.5 2320.8 225.7 2316.5 227.6 2311.2C229.5 2305.9 232.3 2299.6 234 2293.9C235.6 2288.1 237.1 2282.4 237.7 2276.6C238.3 2270.8 238 2265.1 237.7 2259.3C237.4 2253.5 235.8 2247.8 235.7 2242C235.5 2236.3 236.5 2231.5 236.8 2224.7C237.2 2218 237.8 2210.3 237.7 2201.7C237.6 2193 236.4 2180.3 236.3 2172.9C236.1 2165.4 236.7 2159.7 236.8 2157Z" fill="#0cff0c" stroke="#000" stroke-width="1.5" stroke-linejoin="round"/>
<line x1="222.2" y1="2327.9" x2="261.8" y2="2327.9" stroke="#000" stroke-width="1.4" stroke-dasharray="5.2 1.8"/>
<line x1="222.2" y1="2352.1" x2="261.8" y2="2352.1" stroke="#000" stroke-width="1.4" stroke-dasharray="1.5 2.2"/>
<circle cx="242" cy="2157.9" r="3.8"/>
<circle cx="242" cy="2183.5" r="3.8"/>
<circle cx="235.7" cy="2243.5" r="3.8"/>
<circle cx="248.4" cy="2242.6" r="3.8"/>
<circle cx="224.7" cy="2327.6" r="3.8"/>
<circle cx="236.3" cy="2322.1" r="3.8"/>
<circle cx="236.3" cy="2333.6" r="3.8"/>
<circle cx="248.4" cy="2329.9" r="3.8"/>
<circle cx="259.3" cy="2329" r="3.8"/>
<circle cx="236.3" cy="2358.7" r="3.8"/>
<circle cx="248.4" cy="2363" r="3.8"/>
<circle cx="242" cy="2374" r="3.8"/>
<path d="M309.4 2289.6C309.3 2291.7 308.4 2298.4 308.9 2302.5C309.3 2306.6 311.3 2310.2 312.3 2314.1C313.4 2317.9 314.4 2321.7 315.2 2325.6C316 2329.4 316.1 2333.3 316.9 2337.1C317.8 2340.9 318.9 2344.8 320.4 2348.6C321.9 2352.5 325.1 2356.3 326.2 2360.2C327.2 2364 327.2 2368.2 326.7 2371.7C326.2 2375.1 323.8 2379.4 323.3 2380.9L288.7 2380.9C288.1 2379.4 285.7 2375.1 285.2 2371.7C284.8 2368.2 284.8 2364 285.8 2360.2C286.9 2356.3 290 2352.5 291.6 2348.6C293.1 2344.8 294.2 2340.9 295 2337.1C295.9 2333.3 296 2329.4 296.8 2325.6C297.5 2321.7 298.6 2317.9 299.6 2314.1C300.7 2310.2 302.6 2306.6 303.1 2302.5C303.6 2298.4 302.6 2291.7 302.5 2289.6Z" fill="#ff0b0b" stroke="#000" stroke-width="1.5" stroke-linejoin="round"/>
<line x1="286.1" y1="2359.6" x2="325.9" y2="2359.6" stroke="#000" stroke-width="1.4" stroke-dasharray="5.2 1.8"/>
<line x1="295.1" y1="2336.5" x2="316.8" y2="2336.5" stroke="#000" stroke-width="1.4" stroke-dasharray="1.5 2.2"/>
<line x1="286.6" y1="2375.4" x2="325.3" y2="2375.4" stroke="#000" stroke-width="1.4" stroke-dasharray="1.5 2.2"/>
<circle cx="306" cy="2290.4" r="3.8"/>
<circle cx="306" cy="2321.8" r="3.8"/>
<circle cx="300.2" cy="2337.7" r="3.8"/>
<circle cx="311.7" cy="2334.2" r="3.8"/>
<circle cx="306" cy="2348.6" r="3.8"/>
<circle cx="289" cy="2365.3" r="3.8"/>
<circle cx="300.2" cy="2359.6" r="3.8"/>
<circle cx="311.7" cy="2358.7" r="3.8"/>
<circle cx="323.3" cy="2359.6" r="3.8"/>
<circle cx="300.2" cy="2375.4" r="3.8"/>
<circle cx="311.7" cy="2375.4" r="3.8"/>
<circle cx="323.3" cy="2375.4" r="3.8"/>
<circle cx="289" cy="2380.9" r="3.8"/>
<path d="M374.6 2241.4C374.6 2243.5 374.8 2248.6 374.6 2253.5C374.3 2258.4 373.1 2265.1 373.1 2270.8C373.1 2276.6 374.7 2282.4 374.6 2288.1C374.5 2293.9 372.9 2299.6 372.5 2305.4C372.2 2311.2 371.7 2317.4 372.5 2322.7C373.4 2328 375.3 2332.3 377.4 2337.1C379.6 2341.9 383.2 2346.7 385.2 2351.5C387.3 2356.3 389 2361.6 389.8 2365.9C390.7 2370.2 390.5 2374.1 390.4 2377.4C390.3 2380.8 389.2 2384.6 389 2386.1L351.5 2386.1C351.3 2384.6 350.2 2380.8 350.1 2377.4C349.9 2374.1 349.8 2370.2 350.6 2365.9C351.5 2361.6 353.2 2356.3 355.3 2351.5C357.3 2346.7 360.9 2341.9 363 2337.1C365.1 2332.3 367.1 2328 367.9 2322.7C368.7 2317.4 368.3 2311.2 367.9 2305.4C367.6 2299.6 366 2293.9 365.9 2288.1C365.8 2282.4 367.4 2276.6 367.4 2270.8C367.4 2265.1 366.2 2258.4 365.9 2253.5C365.7 2248.6 365.9 2243.5 365.9 2241.4Z" fill="#a41292" stroke="#000" stroke-width="1.5" stroke-linejoin="round"/>
<line x1="350.8" y1="2365.3" x2="389.6" y2="2365.3" stroke="#000" stroke-width="1.4" stroke-dasharray="5.2 1.8"/>
<circle cx="370.2" cy="2242.9" r="3.8"/>
<circle cx="370.2" cy="2285.2" r="3.8"/>
<circle cx="370.2" cy="2349.2" r="3.8"/>
<circle cx="361.6" cy="2365.3" r="3.8"/>
<circle cx="378.3" cy="2365.3" r="3.8"/>
<circle cx="361.6" cy="2376" r="3.8"/>
<circle cx="378.3" cy="2376" r="3.8"/>
<circle cx="361.6" cy="2385.5" r="3.8"/>
<circle cx="378.3" cy="2385.5" r="3.8"/>
<line x1="433.8" y1="2372.4" x2="433.8" y2="2384.9" stroke="#000" stroke-width="1.8"/>
<path d="M433.8 2367.7L438.5 2372.4L433.8 2377.1L429.1 2372.4Z"/>
<circle cx="416.3" cy="2385.9" r="3.8"/>
<circle cx="423.7" cy="2384.9" r="3.8"/>
<circle cx="433.8" cy="2385.9" r="3.8"/>
<circle cx="442.2" cy="2385.9" r="3.8"/>
<circle cx="450.6" cy="2385.9" r="3.8"/>
<circle cx="497" cy="2379.2" r="3.8"/>
<circle cx="480.2" cy="2385.9" r="3.8"/>
<circle cx="487.6" cy="2385.9" r="3.8"/>
<circle cx="497" cy="2385.9" r="3.8"/>
<circle cx="506" cy="2385.9" r="3.8"/>
<circle cx="514.5" cy="2385.9" r="3.8"/>
<path d="M566.6 2347.9C566.4 2350.4 565.2 2358.8 565.5 2363C565.9 2367.2 567.1 2370.3 568.9 2373.1C570.8 2375.9 574.5 2377.7 576.6 2379.8C578.8 2382 580.8 2384.9 581.7 2385.9L541.3 2385.9C542.2 2384.9 544.3 2382 546.4 2379.8C548.5 2377.7 552.3 2375.9 554.1 2373.1C556 2370.3 557.1 2367.2 557.5 2363C557.9 2358.8 556.6 2350.4 556.5 2347.9Z" fill="#ff0b0b" stroke="#000" stroke-width="1.5" stroke-linejoin="round"/>
<circle cx="558.8" cy="2347.9" r="3.8"/>
<circle cx="564.2" cy="2353.6" r="3.8"/>
<circle cx="561.5" cy="2364.7" r="3.8"/>
<circle cx="561.5" cy="2372.4" r="3.8"/>
<circle cx="567.6" cy="2375.8" r="3.8"/>
<circle cx="554.8" cy="2379.8" r="3.8"/>
<circle cx="563.2" cy="2381.5" r="3.8"/>
<circle cx="571.6" cy="2381.5" r="3.8"/>
<circle cx="544.7" cy="2385.9" r="3.8"/>
<circle cx="553.1" cy="2385.9" r="3.8"/>
<circle cx="568.2" cy="2385.9" r="3.8"/>
<circle cx="578.3" cy="2385.9" r="3.8"/>
<path d="M634.8 2300.8C634.5 2302.8 633.7 2308.4 632.8 2312.6C631.9 2316.8 629.1 2321 629.4 2326C629.7 2331.1 633.1 2337.3 634.8 2342.9C636.5 2348.5 638 2354.6 639.5 2359.7C641 2364.7 642.7 2368.7 643.9 2373.1C645 2377.5 645.8 2383.7 646.2 2385.9L604.5 2385.9C604.9 2383.7 605.8 2377.5 606.9 2373.1C608 2368.7 609.7 2364.7 611.3 2359.7C612.8 2354.6 614.3 2348.5 616 2342.9C617.6 2337.3 621 2331.1 621.3 2326C621.7 2321 618.9 2316.8 618 2312.6C617.1 2308.4 616.3 2302.8 616 2300.8Z" fill="#a41292" stroke="#000" stroke-width="1.5" stroke-linejoin="round"/>
<line x1="611.3" y1="2359.7" x2="639.5" y2="2359.7" stroke="#000" stroke-width="1.4" stroke-dasharray="5.2 1.8"/>
<circle cx="619.3" cy="2300.2" r="3.8"/>
<circle cx="631.4" cy="2305.9" r="3.8"/>
<circle cx="625.4" cy="2343.9" r="3.8"/>
<circle cx="619.3" cy="2359.7" r="3.8"/>
<circle cx="631.4" cy="2359.7" r="3.8"/>
<circle cx="619.3" cy="2380.8" r="3.8"/>
<circle cx="631.4" cy="2380.8" r="3.8"/>
<circle cx="643.2" cy="2380.8" r="3.8"/>
<circle cx="607.9" cy="2385.9" r="3.8"/>
<circle cx="671.8" cy="2385.9" r="3.8"/>
<circle cx="679.2" cy="2381.5" r="3.8"/>
<circle cx="685.9" cy="2383.2" r="3.8"/>
<circle cx="693.3" cy="2383.2" r="3.8"/>
<circle cx="701" cy="2385.9" r="3.8"/>
<circle cx="707.7" cy="2385.9" r="3.8"/>
<line x1="753.1" y1="2302.5" x2="753.1" y2="2346.2" stroke="#000" stroke-width="1.8"/>
<path d="M760.5 2290.8C760.4 2291.6 761 2293.3 759.8 2295.8C758.7 2298.3 754.5 2304.2 753.4 2305.9L752.8 2305.9C751.7 2304.2 747.6 2298.3 746.4 2295.8C745.2 2293.3 745.8 2291.6 745.7 2290.8Z" fill="#0cff0c" stroke="#000" stroke-width="1.5" stroke-linejoin="round"/>
<circle cx="744" cy="2289.7" r="3.8"/>
<circle cx="753.1" cy="2295.8" r="3.8"/>
<path d="M753.4 2342.9C754.8 2344 758.5 2346.8 761.5 2349.6C764.5 2352.4 769.5 2357.1 771.6 2359.7C773.7 2362.2 774.2 2363 773.9 2364.7C773.7 2366.4 771.7 2367.5 769.9 2369.7C768.1 2372 764.4 2375.5 763.2 2378.1C762 2380.8 762.6 2384.6 762.5 2385.9L743.7 2385.9C743.6 2384.6 744.3 2380.8 743 2378.1C741.8 2375.5 738.1 2372 736.3 2369.7C734.5 2367.5 732.5 2366.4 732.3 2364.7C732 2363 732.5 2362.2 734.6 2359.7C736.7 2357.1 741.7 2352.4 744.7 2349.6C747.7 2346.8 751.4 2344 752.8 2342.9Z" fill="#0cff0c" stroke="#000" stroke-width="1.5" stroke-linejoin="round"/>
<circle cx="753.1" cy="2352.9" r="3.8"/>
<circle cx="744" cy="2362.3" r="3.8"/>
<circle cx="761.5" cy="2362.3" r="3.8"/>
<circle cx="736.3" cy="2364" r="3.8"/>
<circle cx="770.9" cy="2363" r="3.8"/>
<circle cx="744" cy="2371.4" r="3.8"/>
<circle cx="761.5" cy="2371.4" r="3.8"/>
<circle cx="753.1" cy="2379.2" r="3.8"/>
<circle cx="744" cy="2385.9" r="3.8"/>
<circle cx="761.5" cy="2385.9" r="3.8"/>
<path d="M817.3 2325.4C817.7 2327.2 818.9 2332.1 819.7 2336.1C820.4 2340.2 821.8 2345.7 822 2349.6C822.2 2353.5 820.2 2356.6 821 2359.7C821.8 2362.7 824.6 2365.5 827.1 2368.1C829.5 2370.6 833.7 2372.8 835.5 2374.8C837.2 2376.7 838.6 2378 837.8 2379.8C837 2381.7 831.6 2384.9 830.4 2385.9L803.5 2385.9C802.3 2384.9 797 2381.7 796.1 2379.8C795.3 2378 796.7 2376.7 798.5 2374.8C800.3 2372.8 804.5 2370.6 806.9 2368.1C809.3 2365.5 812.1 2362.7 812.9 2359.7C813.8 2356.6 811.7 2353.5 811.9 2349.6C812.2 2345.7 813.5 2340.2 814.3 2336.1C815.1 2332.1 816.2 2327.2 816.6 2325.4Z" fill="#ff0b0b" stroke="#000" stroke-width="1.5" stroke-linejoin="round"/>
<path d="M817 2321.4L821.7 2326L817 2330.7L812.3 2326Z"/>
<path d="M817 2346.6L821.7 2351.3L817 2355.9L812.3 2351.3Z"/>
<path d="M800.2 2371.1L804.8 2375.8L800.2 2380.5L795.5 2375.8Z"/>
<path d="M833.8 2371.1L838.5 2375.8L833.8 2380.5L829.1 2375.8Z"/>
<path d="M808.6 2376.1L813.3 2380.8L808.6 2385.5L803.9 2380.8Z"/>
<path d="M817 2376.1L821.7 2380.8L817 2385.5L812.3 2380.8Z"/>
<path d="M825.4 2376.1L830.1 2380.8L825.4 2385.5L820.7 2380.8Z"/>
<path d="M830.4 2381.2L835.1 2385.9L830.4 2390.6L825.7 2385.9Z"/>
<path d="M884.9 2149.6C885.2 2153.8 886.7 2167.2 886.9 2174.8C887.1 2182.4 886.4 2187.7 885.9 2195C885.3 2202.2 883.9 2210.6 883.5 2218.5C883.1 2226.3 883.3 2234.7 883.5 2242C883.7 2249.3 884.2 2254.9 884.9 2262.2C885.5 2269.5 886.3 2277.9 887.6 2285.7C888.8 2293.6 890.6 2302 892.6 2309.2C894.6 2316.5 897.6 2323.8 899.3 2329.4C901 2335 902.3 2338.9 902.7 2342.9C903.1 2346.8 902.5 2350.2 901.7 2352.9C900.8 2355.6 898.3 2358 897.6 2359L864 2359C863.4 2358 860.8 2355.6 860 2352.9C859.2 2350.2 858.6 2346.8 859 2342.9C859.4 2338.9 860.7 2335 862.3 2329.4C864 2323.8 867.1 2316.5 869.1 2309.2C871 2302 872.8 2293.6 874.1 2285.7C875.4 2277.9 876.1 2269.5 876.8 2262.2C877.5 2254.9 877.9 2249.3 878.1 2242C878.4 2234.7 878.5 2226.3 878.1 2218.5C877.8 2210.6 876.4 2202.2 875.8 2195C875.2 2187.7 874.6 2182.4 874.8 2174.8C875 2167.2 876.5 2153.8 876.8 2149.6Z" fill="#a41292" stroke="#000" stroke-width="1.5" stroke-linejoin="round"/>
<line x1="861.8" y1="2331.8" x2="899.9" y2="2331.8" stroke="#000" stroke-width="1.4" stroke-dasharray="5.2 1.8"/>
<line x1="876.9" y1="2260.5" x2="884.8" y2="2260.5" stroke="#000" stroke-width="1.4" stroke-dasharray="1.5 2.2"/>
<circle cx="880.8" cy="2151.9" r="3.8"/>
<circle cx="880.8" cy="2175.8" r="3.8"/>
<circle cx="880.8" cy="2193.9" r="3.8"/>
<circle cx="880.8" cy="2254.5" r="3.8"/>
<circle cx="880.8" cy="2278.3" r="3.8"/>
<circle cx="880.8" cy="2305.2" r="3.8"/>
<circle cx="880.8" cy="2317.6" r="3.8"/>
<circle cx="872.4" cy="2331.8" r="3.8"/>
<circle cx="880.8" cy="2334.4" r="3.8"/>
<circle cx="889.2" cy="2331.1" r="3.8"/>
<circle cx="864" cy="2352.9" r="3.8"/>
<circle cx="872.4" cy="2351.3" r="3.8"/>
<circle cx="880.8" cy="2352.3" r="3.8"/>
<circle cx="889.2" cy="2352.3" r="3.8"/>
<circle cx="897.6" cy="2352.9" r="3.8"/>
<circle cx="898.6" cy="2359" r="3.8"/>
<text x="83" y="2426.4" font-size="21.5" font-weight="bold" text-anchor="start" fill="#000">Patients:</text>
<rect x="212.6" y="2412.6" width="22" height="22" fill="#1b0aff" stroke="#000" stroke-width="1.5"/>
<text x="250.7" y="2427.3" font-size="21.5" font-weight="bold" text-anchor="start" fill="#000">HD</text>
<rect x="328.5" y="2412.6" width="22" height="22" fill="#0cff0c" stroke="#000" stroke-width="1.5"/>
<text x="367.4" y="2425.6" font-size="21.5" font-weight="bold" text-anchor="start" fill="#000">Omicron</text>
<text x="411.4" y="2451.5" font-size="21.5" font-weight="bold" text-anchor="middle" fill="#000">BTI</text>
<rect x="474.1" y="2412.8" width="22" height="22" fill="#ff0b0b" stroke="#000" stroke-width="1.5"/>
<text x="510.4" y="2426.2" font-size="21.5" font-weight="bold" text-anchor="start" fill="#000">Delta</text>
<text x="535.6" y="2452.1" font-size="21.5" font-weight="bold" text-anchor="middle" fill="#000">BTI</text>
<rect x="593.4" y="2412.8" width="22" height="22" fill="#a339b5" stroke="#000" stroke-width="1.5"/>
<text x="630.4" y="2427.6" font-size="21.5" font-weight="bold" text-anchor="start" fill="#000">Convalescent</text>
</g>
<g id="panel-e">
<text x="1034" y="2043.2" font-size="29" font-weight="normal" text-anchor="start" fill="#000">e.</text>
<line x1="1256.7" y1="2094.9" x2="1256.7" y2="2388.4" stroke="#000" stroke-width="2.6" stroke-dasharray="2.6 3.2"/>
<line x1="1152.8" y1="2348.9" x2="1593.9" y2="2348.9" stroke="#000" stroke-width="2.6" stroke-dasharray="2.6 3.2"/>
<line x1="1256.7" y1="2346.2" x2="1593.9" y2="2094.9" stroke="#000" stroke-width="1.8"/>
<rect x="1152.8" y="2094.9" width="441.1" height="293.5" fill="none" stroke="#000" stroke-width="3.4"/>
<line x1="1139.7" y1="2094.9" x2="1152.8" y2="2094.9" stroke="#000" stroke-width="3.4"/>
<text x="1137" y="2103.1" font-size="23.7" font-weight="bold" text-anchor="end" fill="#000">1</text>
<line x1="1139.7" y1="2233.5" x2="1152.8" y2="2233.5" stroke="#000" stroke-width="3.4"/>
<text x="1137" y="2241.7" font-size="23.7" font-weight="bold" text-anchor="end" fill="#000">0.1</text>
<line x1="1139.7" y1="2374.2" x2="1152.8" y2="2374.2" stroke="#000" stroke-width="3.4"/>
<text x="1137" y="2382.4" font-size="23.7" font-weight="bold" text-anchor="end" fill="#000">0.01</text>
<line x1="1172.9" y1="2388.4" x2="1172.9" y2="2400.5" stroke="#000" stroke-width="3.4"/>
<text x="1172.9" y="2424.8" font-size="23.7" font-weight="bold" text-anchor="middle" fill="#000">0.01</text>
<line x1="1383.1" y1="2388.4" x2="1383.1" y2="2400.5" stroke="#000" stroke-width="3.4"/>
<text x="1380.5" y="2424.8" font-size="23.7" font-weight="bold" text-anchor="middle" fill="#000">0.1</text>
<line x1="1592.9" y1="2388.4" x2="1592.9" y2="2400.5" stroke="#000" stroke-width="3.4"/>
<text x="1592.9" y="2424.8" font-size="23.7" font-weight="bold" text-anchor="middle" fill="#000">1</text>
<text x="1184.5" y="2123.8" font-size="25" font-weight="bold" text-anchor="start" fill="#000">I<tspan dy="-8.5" font-size="16">+</tspan><tspan dy="8.5" font-size="1">&#8203;</tspan>V<tspan dy="-8.5" font-size="16">-</tspan><tspan dy="8.5" font-size="1">&#8203;</tspan></text>
<text x="1507" y="2123.8" font-size="25" font-weight="bold" text-anchor="start" fill="#000">I<tspan dy="-8.5" font-size="16">+</tspan><tspan dy="8.5" font-size="1">&#8203;</tspan>V<tspan dy="-8.5" font-size="16">+</tspan><tspan dy="8.5" font-size="1">&#8203;</tspan></text>
<text x="1533.3" y="2347.8" font-size="25" font-weight="bold" text-anchor="start" fill="#000">I<tspan dy="-8.5" font-size="16">-</tspan><tspan dy="8.5" font-size="1">&#8203;</tspan>V<tspan dy="-8.5" font-size="16">+</tspan><tspan dy="8.5" font-size="1">&#8203;</tspan></text>
<text x="1067.5" y="2240.8" font-size="23.7" font-weight="bold" text-anchor="middle" fill="#000" transform="rotate(-90 1067.5 2240.8)">non-Spike&#160; CD4&#160; response</text>
<text x="1097.5" y="2245.1" font-size="23.7" font-weight="bold" text-anchor="middle" fill="#000" transform="rotate(-90 1097.5 2245.1)">% CD137<tspan dy="-8" font-size="16.5">+</tspan><tspan dy="8" font-size="1">&#8203;</tspan>CD154<tspan dy="-8" font-size="16.5">+</tspan><tspan dy="8" font-size="1">&#8203;</tspan></text>
<text x="1372.1" y="2460.1" font-size="23.7" font-weight="bold" text-anchor="middle" fill="#000">Spike SARS-CoV-2 Specific CD4&#160; response</text>
<text x="1372.1" y="2490.1" font-size="23.7" font-weight="bold" text-anchor="middle" fill="#000">% CD137<tspan dy="-8" font-size="16.5">+</tspan><tspan dy="8" font-size="1">&#8203;</tspan>CD154<tspan dy="-8" font-size="16.5">+</tspan><tspan dy="8" font-size="1">&#8203;</tspan></text>
<clipPath id="ce"><rect x="1150.8" y="2092.9" width="445.1" height="297.5"/></clipPath>
<path d="M1165.3 2367L1180.5 2367L1172.9 2380.3Z" fill="#1b0aff"/>
<path d="M1228.5 2367L1243.7 2367L1236.1 2380.3Z" fill="#1b0aff"/>
<path d="M1264.9 2367L1280.1 2367L1272.5 2380.3Z" fill="#1b0aff"/>
<path d="M1307.6 2367L1322.8 2367L1315.2 2380.3Z" fill="#1b0aff"/>
<path d="M1328.1 2367L1343.3 2367L1335.7 2380.3Z" fill="#1b0aff"/>
<path d="M1341.8 2367L1357 2367L1349.4 2380.3Z" fill="#1b0aff"/>
<path d="M1355 2367L1370.2 2367L1362.6 2380.3Z" fill="#1b0aff"/>
<path d="M1366.6 2367L1381.8 2367L1374.2 2380.3Z" fill="#1b0aff"/>
<path d="M1400.8 2368.1L1416 2368.1L1408.4 2381.4Z" fill="#1b0aff"/>
<path d="M1406.1 2367L1421.3 2367L1413.7 2380.3Z" fill="#1b0aff"/>
<path d="M1427.2 2367L1442.4 2367L1434.8 2380.3Z" fill="#1b0aff"/>
<path d="M1437.7 2367L1452.9 2367L1445.3 2380.3Z" fill="#1b0aff"/>
<path d="M1472 2367L1487.2 2367L1479.6 2380.3Z" fill="#1b0aff"/>
<path d="M1488.8 2367L1504 2367L1496.4 2380.3Z" fill="#1b0aff"/>
<path d="M1572.1 2367L1587.3 2367L1579.7 2380.3Z" fill="#1b0aff"/>
<path d="M1313.9 2316.5L1329.1 2316.5L1321.5 2329.8Z" fill="#1b0aff"/>
<path d="M1356 2281.1L1371.2 2281.1L1363.6 2294.4Z" fill="#1b0aff"/>
<path d="M1366.6 2257.4L1381.8 2257.4L1374.2 2270.7Z" fill="#1b0aff"/>
<path d="M1398.2 2324.9L1413.4 2324.9L1405.8 2338.2Z" fill="#1b0aff"/>
<rect x="1291.7" y="2215.3" width="15.2" height="15.2" fill="#0cff0c"/>
<rect x="1377.6" y="2299.1" width="15.2" height="15.2" fill="#0cff0c"/>
<rect x="1311.8" y="2366.6" width="15.2" height="15.2" fill="#0cff0c"/>
<rect x="1398.2" y="2367.6" width="15.2" height="15.2" fill="#0cff0c"/>
<rect x="1449.8" y="2366.6" width="15.2" height="15.2" fill="#0cff0c"/>
<rect x="1474.6" y="2366.6" width="15.2" height="15.2" fill="#0cff0c"/>
<rect x="1501" y="2366.6" width="15.2" height="15.2" fill="#0cff0c"/>
<rect x="1521" y="2366.6" width="15.2" height="15.2" fill="#0cff0c"/>
<rect x="1540.5" y="2366.6" width="15.2" height="15.2" fill="#0cff0c"/>
<path d="M1165.3 2381.3L1180.5 2381.3L1172.9 2368Z" fill="#ff0b0b"/>
<path d="M1328.6 2281.7L1343.8 2281.7L1336.2 2268.4Z" fill="#ff0b0b"/>
<path d="M1365 2262.7L1380.2 2262.7L1372.6 2249.4Z" fill="#ff0b0b"/>
<path d="M1423.5 2204.8L1438.7 2204.8L1431.1 2191.5Z" fill="#ff0b0b"/>
<path d="M1446.7 2209L1461.9 2209L1454.3 2195.7Z" fill="#ff0b0b"/>
<path d="M1434 2272.2L1449.2 2272.2L1441.6 2258.9Z" fill="#ff0b0b"/>
<path d="M1478.3 2281.7L1493.5 2281.7L1485.9 2268.4Z" fill="#ff0b0b"/>
<path d="M1428.8 2338.1L1444 2338.1L1436.4 2324.8Z" fill="#ff0b0b"/>
<path d="M1375.5 2380.3L1390.7 2380.3L1383.1 2367Z" fill="#ff0b0b"/>
<path d="M1391.3 2380.3L1406.5 2380.3L1398.9 2367Z" fill="#ff0b0b"/>
<circle cx="1172.9" cy="2222.9" r="7.6" fill="#a41292"/>
<circle cx="1273" cy="2275.6" r="7.6" fill="#a41292"/>
<circle cx="1319.4" cy="2240.3" r="7.6" fill="#a41292"/>
<circle cx="1319.4" cy="2265.1" r="7.6" fill="#a41292"/>
<circle cx="1372.6" cy="2217.7" r="7.6" fill="#a41292"/>
<circle cx="1383.1" cy="2265.1" r="7.6" fill="#a41292"/>
<circle cx="1454.3" cy="2186" r="7.6" fill="#a41292"/>
<circle cx="1523.3" cy="2157.6" r="7.6" fill="#a41292"/>
<path d="M1165.3 2367L1180.5 2367L1172.9 2380.3Z" fill="#1b0aff"/>
<path d="M1366.6 2257.4L1381.8 2257.4L1374.2 2270.7Z" fill="#1b0aff"/>
<path d="M1400.8 2368.1L1416 2368.1L1408.4 2381.4Z" fill="#1b0aff"/>
<path d="M1406.1 2367L1421.3 2367L1413.7 2380.3Z" fill="#1b0aff"/>
<path d="M1472 2367L1487.2 2367L1479.6 2380.3Z" fill="#1b0aff"/>
<path d="M1488.8 2367L1504 2367L1496.4 2380.3Z" fill="#1b0aff"/>
<path d="M1653.3 2107.2L1668.5 2107.2L1660.9 2120.5Z" fill="#1b0aff"/>
<rect x="1653.3" y="2146.3" width="15.2" height="15.2" fill="#0cff0c"/>
<path d="M1653.3 2202.7L1668.5 2202.7L1660.9 2189.4Z" fill="#ff0b0b"/>
<circle cx="1660.9" cy="2238.2" r="7.6" fill="#a41292"/>
<text x="1694.6" y="2122.3" font-size="23.7" font-weight="bold" text-anchor="start" fill="#000">HD</text>
<text x="1694.6" y="2162.3" font-size="23.7" font-weight="bold" text-anchor="start" fill="#000">Omicron BTI</text>
<text x="1696.7" y="2204.5" font-size="23.7" font-weight="bold" text-anchor="start" fill="#000">Delta BTI</text>
<text x="1694.6" y="2246.1" font-size="23.7" font-weight="bold" text-anchor="start" fill="#000">Convalescent</text>
</g>
<g id="panel-a">
<text x="23" y="19" font-size="29" font-weight="normal" text-anchor="start" fill="#000">a.</text>
<text x="92" y="23" font-size="24.5" font-weight="bold" text-anchor="start" fill="#000">T<tspan dy="7" font-size="24">FH</tspan><tspan dy="-7" font-size="1">&#8203;</tspan> cells (CXCR5<tspan dy="-8" font-size="26">+</tspan><tspan dy="8" font-size="1">&#8203;</tspan> CD4 T cells)</text>
<text x="117" y="66.5" font-size="18.5" font-weight="bold" text-anchor="start" fill="#000">tSNE</text>
<text x="181.5" y="66.5" font-size="18.5" font-weight="bold" text-anchor="start" fill="#000">Phenograph</text>
<rect x="117" y="75.5" width="444.5" height="470.5" fill="#fff" stroke="#c8c8c8" stroke-width="1.2"/>
<path d="M133 75.5V546M117 504.9H561.5M212.6 75.5V546M117 425.2H561.5M292.2 75.5V546M117 345.6H561.5M371.8 75.5V546M117 265.8H561.5M451.4 75.5V546M117 186.1H561.5M531 75.5V546M117 106.4H561.5" stroke="#f0f0f0" stroke-width="0.8" fill="none"/>
<path d="M172.8 75.5V546M117 465.1H561.5M252.4 75.5V546M117 385.4H561.5M332 75.5V546M117 305.7H561.5M411.6 75.5V546M117 226H561.5M491.2 75.5V546M117 146.3H561.5" stroke="#e4e4e4" stroke-width="1.2" fill="none"/>
<text x="172.8" y="562" font-size="14.5" font-weight="normal" text-anchor="middle" fill="#4d4d4d">&#8722;20</text>
<line x1="172.8" y1="546" x2="172.8" y2="549" stroke="#999" stroke-width="1"/>
<text x="252.4" y="562" font-size="14.5" font-weight="normal" text-anchor="middle" fill="#4d4d4d">&#8722;10</text>
<line x1="252.4" y1="546" x2="252.4" y2="549" stroke="#999" stroke-width="1"/>
<text x="332" y="562" font-size="14.5" font-weight="normal" text-anchor="middle" fill="#4d4d4d">0</text>
<line x1="332" y1="546" x2="332" y2="549" stroke="#999" stroke-width="1"/>
<text x="411.6" y="562" font-size="14.5" font-weight="normal" text-anchor="middle" fill="#4d4d4d">10</text>
<line x1="411.6" y1="546" x2="411.6" y2="549" stroke="#999" stroke-width="1"/>
<text x="491.2" y="562" font-size="14.5" font-weight="normal" text-anchor="middle" fill="#4d4d4d">20</text>
<line x1="491.2" y1="546" x2="491.2" y2="549" stroke="#999" stroke-width="1"/>
<text x="113.5" y="151.4" font-size="14.5" font-weight="normal" text-anchor="end" fill="#4d4d4d">20</text>
<line x1="114" y1="146.3" x2="117" y2="146.3" stroke="#999" stroke-width="1"/>
<text x="113.5" y="231.1" font-size="14.5" font-weight="normal" text-anchor="end" fill="#4d4d4d">10</text>
<line x1="114" y1="226" x2="117" y2="226" stroke="#999" stroke-width="1"/>
<text x="113.5" y="310.8" font-size="14.5" font-weight="normal" text-anchor="end" fill="#4d4d4d">0</text>
<line x1="114" y1="305.7" x2="117" y2="305.7" stroke="#999" stroke-width="1"/>
<text x="113.5" y="390.5" font-size="14.5" font-weight="normal" text-anchor="end" fill="#4d4d4d">&#8722;10</text>
<line x1="114" y1="385.4" x2="117" y2="385.4" stroke="#999" stroke-width="1"/>
<text x="113.5" y="470.2" font-size="14.5" font-weight="normal" text-anchor="end" fill="#4d4d4d">&#8722;20</text>
<line x1="114" y1="465.1" x2="117" y2="465.1" stroke="#999" stroke-width="1"/>
<text x="113.5" y="549.9" font-size="14.5" font-weight="normal" text-anchor="end" fill="#4d4d4d">&#8722;30</text>
<line x1="114" y1="544.8" x2="117" y2="544.8" stroke="#999" stroke-width="1"/>
<clipPath id="ca"><rect x="117" y="75.5" width="444.5" height="470.5"/></clipPath>
<g clip-path="url(#ca)">
<path d="M311.9 130.2h0M306.8 141.9h0M339.6 118.1h0M339.2 124.3h0M361.7 140h0M357.6 127.2h0M371.9 143.6h0M368.9 130.7h0M305.9 135h0M372.2 141.4h0M311.2 137.9h0M318.8 123.6h0M317.2 126.5h0M316.2 122.3h0M307 136.8h0M367.2 143.7h0M364.6 135.7h0M345.4 127.2h0M346.5 123.9h0M333.8 118.4h0M340.2 122h0M299.3 136.8h0M305.5 130h0M357.2 147.9h0M364.2 145.8h0M362.8 133.2h0M309.5 136.5h0M353.7 126h0M308.6 140.7h0M335.1 121h0M363.8 138.5h0M316.1 126.2h0M363.9 127.3h0M311.9 129.1h0M319.4 121.1h0M314.7 127.7h0M351.4 136.9h0M361.7 123.4h0M345 128.4h0M359.3 146.4h0M337.1 121.2h0M352.7 122.5h0M349.6 130.8h0M370.2 140.7h0M366.7 141.3h0M347.7 119h0M364.8 127.6h0M336.4 115.4h0M363.9 137.7h0M315.9 135.3h0M361.8 135.4h0M363.3 148.4h0M340.6 121.4h0M346.7 115.6h0M349.6 116.8h0M370.5 148h0M311 126.5h0M336.2 127.8h0M314 121.4h0M309.4 141h0M317 121.3h0M327 128.8h0M314.1 134.8h0M363.7 134.7h0M361.8 128.4h0M342.6 120.9h0M362.8 148.1h0M322.7 130.6h0M343.6 112.5h0M313.5 128.7h0M340.3 113.7h0M345.1 127.5h0M372.5 145.7h0M355.7 139.8h0M365.4 142.1h0M356.5 128.1h0M348.2 124.7h0M341.8 128.2h0M320.2 128.9h0M327.9 121.8h0M313 132.6h0M346.9 116.4h0M326 123h0M309.2 142.7h0M304 146.4h0M356.4 130.4h0M343.5 117.6h0M336.9 120h0M332.4 123h0M361.5 132.9h0M356.9 125.3h0M357.2 137.1h0M355.8 125.9h0M368.3 144.8h0M319.7 128.8h0M342.2 118.7h0M315.7 123.6h0M360 135h0M332.1 122.3h0M334.4 129.3h0M350.8 124.5h0M319.5 121.8h0M326.7 117h0M369.4 145.9h0M358.7 126.8h0M369.1 146.7h0M325.9 128.2h0M315.2 132.1h0M363.1 136.4h0M371.6 136.4h0M308.2 138.5h0M348.6 126h0M331.7 125.9h0M362.9 135.2h0M363.9 144.4h0M358.6 129.7h0M328.4 122.3h0M308.9 135.9h0M344.6 123.8h0M312.2 142.5h0M360.2 134.5h0M339.5 123.7h0M357.4 127.7h0M350.5 123.1h0M325.3 122.3h0M321.5 135.3h0M363.7 143.4h0M351.3 118.5h0M371.5 133.8h0M359 128.7h0M311.4 144.4h0M304 129.3h0M362.9 137.2h0M350.9 122.3h0M358.2 121.1h0M320.4 127.9h0M319 120.3h0M369.6 132.6h0M314.6 126.8h0M331.7 116.6h0M355.7 143.7h0M371.4 139.8h0M362.5 137.9h0M365.6 135h0M312.6 138.9h0M347.5 122.3h0M345.7 121.2h0M362.6 137.4h0M318.5 133.5h0M341.6 117.8h0M347.5 123.1h0M316 132h0M341 120.7h0M341.8 125.9h0M351.8 119.3h0M333.1 127.2h0M350.9 140.9h0M360.6 144.8h0M354.2 133.8h0M345.2 118.6h0M339.6 129.2h0M338.5 124.6h0M309 143.2h0M318 125.6h0M365 143.4h0M346.8 117.2h0M334.1 125.4h0M361 127.1h0M316.3 139.4h0M356.3 123.7h0M351.5 116h0M333.3 119h0M353.1 122.7h0M365.6 136.3h0M368.1 139.8h0M338.3 115.8h0M355.6 125.3h0M334.9 120.3h0M354.8 132.3h0M351.6 132.3h0M356.8 119.8h0M358.4 143.6h0M316.1 134.6h0M303.8 144.8h0M359.4 124.1h0M307.4 143.8h0M313.4 135.9h0M327.6 122.2h0M328.6 125.4h0M356.6 141h0M337.3 124h0M329.3 126.1h0M346.8 119h0M365.3 133.8h0M317 128.6h0M315.4 132.4h0M327.9 116h0M310.8 126.1h0M352.4 124.8h0M356.9 139.3h0M326.9 129.6h0M337.6 117.6h0M343.5 117.6h0M340 118.4h0M330.9 127.2h0M321.9 127.1h0M299.4 135.1h0M345.4 118.7h0M319.4 121.4h0M312.6 138.2h0M326.7 131h0M351.8 133.4h0M330.6 127.9h0M302.8 130.8h0M325.7 123.8h0M365.8 136.5h0M311 128.2h0M368.1 139.5h0M330 132h0M365.4 127.7h0M309.7 133.5h0M352.4 122.9h0M327 123.2h0M372.5 144.7h0M327.5 122.7h0M317.3 124.3h0M338.7 119.5h0M309.1 139.9h0M358.8 134h0M319.4 130.6h0M352.7 122.1h0M360.8 142.3h0M362.6 143.2h0M349.7 123h0M349.8 128h0M304.2 139.4h0M328.7 122.5h0M319.2 126.4h0M351.7 132.6h0M336.1 119.3h0M341 118.9h0M316.2 132.2h0M361.6 129.1h0M354.6 121.1h0M356.3 141.5h0M362 140.9h0M352.5 123.3h0M341.6 123.7h0M327.5 123.6h0M354.8 120.1h0M351.1 121.5h0M328 129.7h0M326.1 124.9h0M316.2 127.8h0M314.7 127h0M346.3 126.9h0M361.3 136.2h0M308 141.7h0M348.4 129.9h0M337 114.8h0M354.2 120.8h0M337.7 121h0M369.9 141.2h0M364.3 141.9h0M306.1 131.9h0M359.9 140h0M328.7 118.7h0M364.7 143.8h0M317.3 134.4h0M314.5 137.7h0M324.4 124.7h0M351.9 131.3h0M368.9 136.4h0M353.9 128.7h0M308.4 137.7h0M316.9 137.7h0M351.6 129.7h0M354.5 135.5h0M327.4 125.9h0M349 123.7h0M332.6 123.7h0M308.9 146.1h0M352.7 124.3h0M300.5 136.7h0M333.5 123.8h0M359.6 131.7h0M316.7 128.7h0M310.7 135.1h0M312.2 131.1h0M371.3 145.5h0M307.9 143.5h0M309.9 134.7h0M338.2 123.7h0M331.1 118.5h0M363.7 147.7h0M311.4 140.1h0M312.6 133.1h0M307.6 147.7h0M366.5 134.2h0M329.2 123.9h0M325.9 129.7h0M305.7 144h0M340.7 129.2h0M326.5 125.7h0M357.1 131.6h0M325.8 123.8h0M319.3 122.5h0M363.1 130.9h0M360.3 128.8h0M360.9 137.6h0M300.3 134.9h0M349.8 114.7h0M342.8 113.5h0M357.8 128.3h0M307.8 141.4h0M312.8 128.3h0M309 144.6h0M330.4 124.5h0M309.1 141.9h0M315.9 128h0M360.7 126.2h0M351.5 125.5h0M345.4 124.9h0M366.1 130.5h0M301 137.8h0M327.4 119.3h0M358.6 124.3h0M345.4 117h0M365.9 144.8h0M369.5 142.3h0M353.8 124.3h0M339.5 124.7h0M309.8 132.7h0M321.4 131.5h0M362 142.6h0M352.4 130h0M360.9 125h0M315.7 132.2h0M342.4 130.7h0M349.3 117h0M343.3 118.9h0M351.4 117.7h0M374.4 135.9h0M337.7 117.4h0M338 127h0M351.6 129.1h0M372.6 143.4h0M364.7 147.4h0M359.3 138h0M356.7 142.3h0M359.6 146.5h0M327.7 127h0M338.2 124.8h0M319.2 129.8h0M319.3 135.9h0M322.1 123.8h0M360.9 134.5h0M314.1 124.8h0M331.7 124.4h0M329.5 116.9h0M326 123.2h0M329.1 116.7h0" stroke="#8da0cb" stroke-width="3.5" stroke-linecap="round" stroke-opacity="0.88" fill="none"/>
<path d="M242.9 164h0M243.6 162h0M273.3 160.5h0M239.1 160.6h0M273.6 162h0M259.9 153h0M271.1 163.7h0M267.3 159.3h0M243.2 165.1h0M242.6 165.9h0M256 155.3h0M258.5 158.8h0M250.4 156.8h0M255.5 157.2h0M260.6 154.4h0M238.9 165.6h0M258.5 158.6h0M245.7 160.7h0M237.6 160.9h0M252.6 158.1h0M256.5 159h0M268.6 160.9h0M242.3 166.5h0M243.9 159.4h0M252.4 158.3h0M242.2 159.7h0M235.9 166.6h0M244.2 163.5h0M252.5 160.4h0M252.8 160.9h0M257.2 154.8h0M241.9 164.1h0M265.3 155.3h0M239 158.2h0M238.5 164.7h0M257.8 153h0M253.7 161.1h0M249.4 160h0M255.6 159h0M264.9 153.3h0M240.9 164.3h0M256.5 158.9h0M240 159.4h0M244.4 163.5h0M266.6 153.8h0M245.3 161.5h0M244.7 161.4h0M251.5 153.5h0M268.8 160.1h0M255.9 154.1h0M246.6 160.1h0M244.2 162.8h0M252.3 158.5h0M247.5 166.1h0M247.1 160.9h0M245.6 160.9h0M241 165.2h0M237.7 165.2h0M248.5 162.1h0M250.4 159.6h0M248.5 163.1h0M268.4 160.1h0M250.8 158.7h0M264.1 161.1h0M273.3 161.3h0M271 160.9h0M241.7 158.2h0M245.1 158.7h0M243.5 159.4h0M264.7 157h0M257.6 152.9h0M238.3 166.7h0M259.1 157.6h0M260.7 156.8h0M237.1 161.9h0M240.7 160.7h0M259.6 158.6h0M240.4 167.2h0M238.9 167.1h0" stroke="#8da0cb" stroke-width="3.5" stroke-linecap="round" stroke-opacity="0.88" fill="none"/>
<path d="M215.4 125.2L215.6 125.5L216.9 124.5L218.9 123.1L221.1 121.7L223 120.5L224.5 119.6L226 118.7L227.5 117.9L229.1 117.3L230.7 116.7L232.4 116.2L234.2 115.8L236 115.5L237.8 115.4L239.5 115.4L241.2 115.6L242.7 115.9L244.3 116.4L245.7 117L246.9 117.8L248.1 118.9L249.2 120.4L250.2 121.9L251.2 123.5L252 124.9L252.8 126L253.5 127.1L254 127.9L254.1 128.1L254.7 127.6L254.1 127.4L252.6 126.8L250.7 125.9L248.5 125.1L246.2 124.7L244 124.9L241.8 125.6L239.7 126.3L237.6 126.9L235.7 127.1L233.8 126.7L231.8 126.1L229.7 125.2L227.5 124.4L225.2 123.9L222.6 123.9L219.8 124.2L217.3 124.7L215.4 124.9Z" fill="#999999" fill-opacity="0.9"/>
<path d="M214.3 126.9h0M216.7 124.2h0M216.3 124.9h0M216.3 125h0M217.1 122.9h0M214.8 122h0M217.4 121.8h0M217.5 121.5h0M217.6 120.5h0M221.8 122.3h0M220 121.6h0M220.6 120.6h0M223.5 121.6h0M220.3 121h0M223.1 122.2h0M224 118.9h0M223.5 120.2h0M222.7 119.2h0M223.1 119.8h0M224.3 120.2h0M225.7 118.6h0M225.6 118.4h0M225.4 118.7h0M226.3 117h0M229 116.6h0M228.2 117.7h0M226.7 117.9h0M228.7 114.7h0M230.7 113.9h0M228.9 118.3h0M232 114.2h0M231.5 117.8h0M231.3 114.3h0M233.7 114.9h0M234.1 113.8h0M232.1 117.3h0M233.9 115h0M235.1 113.4h0M235.3 113.3h0M235.6 113.8h0M237.9 113.6h0M236.7 114.4h0M239 113h0M238.8 116.3h0M242.2 114.4h0M240.4 115.3h0M240.8 115.7h0M241.6 115.5h0M241.7 112.8h0M240.8 115h0M244 115.2h0M244.5 113.6h0M245.4 113.5h0M246.2 115.4h0M243 117.3h0M246.3 116.5h0M246.2 117.1h0M247 116.9h0M247.7 116h0M247.2 117.9h0M249.7 118.9h0M249.6 118.3h0M249.7 120.1h0M249.7 120.4h0M249.8 120.4h0M252.9 119h0M251.1 120.5h0M251.7 121.6h0M252 124.6h0M250.8 123h0M253.1 123.6h0M252.5 123.9h0M253.7 124.1h0M255.1 123.5h0M254.2 127.2h0M253.4 128.5h0M254.2 127.1h0M254.4 129h0M254.5 126.7h0M253.1 129.2h0M252.9 128.4h0M253.9 129.6h0M253.6 126.8h0M250.3 126.7h0M250.3 131.1h0M248.6 124.9h0M248.6 127.2h0M248.7 127.3h0M246.1 129h0M246.8 125.9h0M248.1 124.4h0M244 125.3h0M246.3 125.3h0M245.8 125h0M244.1 125.9h0M241.9 125.5h0M241.4 125.8h0M241.3 127.2h0M239 126.4h0M242 128.2h0M241.4 124.6h0M240.7 127.4h0M237.9 128.5h0M238.2 127.9h0M236.6 129.2h0M236.8 129h0M236.3 130.3h0M234.6 126h0M235 128.7h0M234.6 128.6h0M232.2 129.3h0M232.2 125.1h0M232.7 125.5h0M229.5 128.6h0M227.4 128.3h0M232.5 124.5h0M229.9 125.2h0M227.7 124.5h0M227 126.4h0M226.1 123.9h0M227.8 125.2h0M225.3 126.6h0M223.1 123.9h0M222.7 123.2h0M221.6 126.1h0M223.1 121.8h0M221.2 124.4h0M221.9 126.2h0M221.5 124.9h0M219.8 126.7h0M220 124.4h0M219.9 129.5h0M220.9 124.3h0M217.6 126.4h0M215.7 124.7h0M216.7 125.6h0M215.4 125h0M213.9 129.4h0" stroke="#999999" stroke-width="3.5" stroke-linecap="round" stroke-opacity="0.88" fill="none"/>
<path d="M255.2 104.8h0M259.1 111.1h0M259 110.7h0M250.7 107.7h0M252.1 108.8h0M251.3 107.8h0M249.8 108.2h0M253.4 105.2h0M256.9 109.3h0M252.4 110.4h0M255 109.3h0M255 113.6h0M256.7 110.3h0M255.8 106.7h0M249.3 109.4h0M258.7 109.4h0M258.6 108.6h0M258.7 113.1h0" stroke="#999999" stroke-width="3.5" stroke-linecap="round" stroke-opacity="0.88" fill="none"/>
<path d="M163.9 174.8L164.5 174.1L165.6 174.1L167.2 174.8L168.9 176.1L170.1 177.6L171.1 180L172 183.3L172.7 187L172.9 190.4L172.6 192.7L171.6 194.3L169.8 195.9L167.7 196.9L166.1 197.1L165.2 196.5L164.4 193.6L163.8 188.6L163.5 182.9L163.5 177.9Z" fill="#ffd92f" fill-opacity="0.9"/>
<path d="M162.1 172h0M162.6 174.9h0M165.7 174h0M164.6 174.5h0M164.5 174.4h0M166.1 176.2h0M166.5 174.3h0M167.6 171.8h0M166.2 174.9h0M168.8 172.7h0M168.6 175.4h0M167.3 176.4h0M170.4 177.8h0M169.3 176.6h0M169.7 175.7h0M171.9 177.5h0M177.3 175.7h0M169.8 178.1h0M171.3 179.4h0M171.5 182.5h0M171 181.9h0M173.9 180.7h0M171.9 181.9h0M171.7 181.1h0M171.5 184.6h0M171.3 185.9h0M170 183.5h0M172 186.8h0M175.6 186.8h0M173.5 189.2h0M171.6 187.8h0M172.8 188.6h0M171.8 187h0M173.5 188.5h0M176 187.8h0M177.9 190.9h0M172.1 193h0M175.9 192.4h0M172.6 190.7h0M174.4 194h0M172.9 194.1h0M173.3 195.1h0M172.8 195.2h0M170.4 195.5h0M173.7 194.9h0M170.2 195.6h0M172.7 197.9h0M170 197.6h0M168.4 198.1h0M168.8 197h0M168.7 197.3h0M166.3 199.1h0M166 197.4h0M167.1 199.3h0M163.3 201.6h0M165.4 197.5h0M166.1 197.2h0M164.5 196.7h0M163.2 195.5h0M165.1 194.9h0M166.7 194.8h0M163.4 193.1h0M162.2 192.8h0M162.8 191.9h0M163.8 191.3h0M161.8 193.1h0M162.3 191.1h0M161.9 192.4h0M163.7 193.1h0M162.1 189.3h0M162.6 185h0M160.3 184.3h0M163.1 185.6h0M161.5 184.5h0M161.7 186.7h0M163.9 182.9h0M162.8 186.5h0M163.6 185.8h0M162.6 183.9h0M163.1 177.9h0M164.2 177.4h0M160.9 180.7h0M164.8 184h0M159.7 178.1h0M165.2 177.8h0M163.7 178.7h0M162 180.8h0M162.2 177.1h0M161.3 176.7h0M161.7 175.8h0M162.2 175.9h0M159.4 175.2h0" stroke="#ffd92f" stroke-width="3.5" stroke-linecap="round" stroke-opacity="0.88" fill="none"/>
<path d="M276.9 132.4h0M280.5 118h0M280.7 117.9h0M279 130.2h0M279.1 124.4h0M277.6 119.6h0M282.3 119.4h0M280.5 127.8h0M284.5 120.1h0M281.2 119.3h0M283.9 123.1h0M281.5 132h0M284.4 120.2h0M279.7 128.2h0M276.7 128.4h0M277.3 130h0M282.1 126.9h0M279.6 132.1h0M279.9 118.5h0M279 129.7h0M277.4 125.6h0M277 119.5h0M282.1 125.1h0M280.2 122.6h0M278.2 119.8h0M280 114h0" stroke="#984ea3" stroke-width="3.5" stroke-linecap="round" stroke-opacity="0.88" fill="none"/>
<path d="M204.8 173.2L208.8 172.4L213.7 172.1L218.9 172.1L223.9 172.2L228.1 172L231.4 171.1L233.7 169.7L234.8 168.8L234.1 168.7L233.7 168.6L234.8 170.1L236.3 172.9L237.7 176.4L238.8 179.9L239.5 182.8L239.6 185.1L239.3 187.4L238.7 189.7L237.9 192.1L237 194.6L235.9 197L234.5 199.5L232.9 202.2L231.4 205.1L230.3 208.1L229.7 211.1L229.5 214L229.5 216.9L229.8 219.8L230.3 222.7L231.1 225.6L232.2 228.4L233.5 231.1L234.7 233.7L235.7 236.2L236.5 238.8L237.4 241.5L238.2 244.1L238.9 246.6L239.5 249.2L240.4 251.9L241.4 254.2L242 255.9L242.1 257.1L241.3 258.7L238.9 261L235 263.8L230.3 266.8L225.4 269.8L221 272.5L217.2 274.8L213.6 277L210 279L206.4 280.9L202.6 283L198.6 285.1L194.4 287.1L190.1 289.3L185.8 291.4L181.5 293.5L177.4 295.8L173.4 298.2L169.5 300.5L165.8 302.4L162.1 303.9L158 305.2L153.8 306.3L149.8 307.1L146.5 307.2L144.5 306.7L143.3 305.6L142.2 303.2L141.4 300L140.9 296.5L140.7 293.3L140.9 290.6L141.5 287.8L142.5 284.7L143.6 281.5L144.6 278.3L145.4 275.3L146.3 272.5L147.2 269.5L148 266L148.6 262L149 256.9L149 251.2L149 245.4L149.2 240.1L149.9 236L151 233.1L152.6 230.9L154.6 228.8L156.8 226.4L158.8 223.4L160.4 220L161.7 216.6L162.8 213.3L164 210.2L165.4 207.7L167 205.6L168.7 203.7L170.7 201.9L173 199.9L175.5 197.7L178.1 195.2L180.9 192.5L183.9 189.8L186.9 187.1L189.9 184.5L192.9 181.9L195.8 179.2L198.7 176.7L201.6 174.7Z" fill="#ff7f00" fill-opacity="0.9"/>
<path d="M206.8 172.6h0M204.7 166.8h0M206.7 168.9h0M205.1 171.9h0M204 173h0M205.2 167.9h0M207.8 171h0M210 175.2h0M212 168.7h0M209.4 170.7h0M208.3 168.4h0M212.8 172.3h0M214.5 168.7h0M210.3 165.4h0M210.3 171.3h0M217.8 173.7h0M217.6 170.2h0M214.6 172.2h0M217.4 171.5h0M215.9 168.5h0M217.8 170.9h0M218.7 161.5h0M215.6 170.6h0M218.3 169.5h0M219.2 172.1h0M220.3 168.6h0M221.6 170.8h0M220.9 162.6h0M224.3 166.6h0M219.3 170.5h0M227.7 171.6h0M229.5 170.1h0M226.2 176.2h0M227 168.8h0M226.6 170h0M228.8 175.6h0M230.1 170.9h0M229.2 169.2h0M230.1 166.4h0M228.5 167.6h0M231.1 168h0M232.3 168.4h0M230.6 167.5h0M233.4 167.4h0M233.9 166.5h0M235 168.2h0M235.2 165.6h0M235.5 168.2h0M236 164.2h0M237.9 167.5h0M234.2 169.3h0M251.3 155h0M235.5 168.1h0M238.9 169.6h0M243.5 168h0M236.3 173h0M237.4 169.8h0M235.1 171.8h0M237.2 174.1h0M236.7 173.6h0M240.2 173.6h0M238.6 175.9h0M236.7 175.7h0M248 169.7h0M243 177.4h0M244.8 178.3h0M236.1 180.5h0M239.2 178.6h0M241.7 176.3h0M241.2 177.7h0M241.5 179.5h0M241.8 179h0M251.2 179.1h0M240.7 181.6h0M243.9 179.1h0M237.7 182.2h0M243.2 184.2h0M239.8 183.1h0M236.7 181.9h0M238.5 185.5h0M244.6 186.9h0M241.3 185.9h0M245.6 185.3h0M240.2 189.2h0M241.2 187.8h0M239.4 190.3h0M241.4 188.3h0M240.9 192.5h0M242.3 191.8h0M241.5 191.5h0M243.1 190.6h0M234.3 191.8h0M240.9 195.2h0M242.4 194.5h0M242.4 194.5h0M246.1 198.1h0M252.9 202.8h0M240.5 194.8h0M240.1 199h0M236.6 199.9h0M235.5 199.5h0M236.2 201.9h0M237.3 198.1h0M236.9 201h0M236.8 203h0M235 200.3h0M234.2 203.9h0M239.7 202.7h0M232.6 205.3h0M237.1 203.4h0M233.5 204.8h0M233.4 206.2h0M231.6 203.1h0M232.7 208.9h0M236.6 210h0M228.9 206.8h0M233.6 207.7h0M234.3 209.5h0M229.9 207.9h0M233.5 210.2h0M231.3 210.2h0M233.9 214.2h0M233.2 211.4h0M228.8 212.2h0M230 212.3h0M230.4 215.6h0M228.8 217.5h0M230.9 216.2h0M228.8 214.8h0M232.1 216.7h0M230.5 218.8h0M235.3 218.3h0M233.2 218.6h0M230.1 222.2h0M232.7 217.6h0M231.6 221.1h0M231.3 221.3h0M233.4 223.6h0M238.4 223.7h0M234.6 219.6h0M238.1 225.2h0M238.2 224.4h0M235.2 224.3h0M236 225.9h0M233.1 226.4h0M232.7 228.2h0M240 226.9h0M237.6 224.8h0M233.3 229h0M236.8 229.4h0M236.8 232h0M237.7 233.2h0M238.3 229.2h0M233.5 234.1h0M236.4 232.6h0M236.4 235.1h0M245.7 229.9h0M238.3 233h0M237.5 233.2h0M242 236.9h0M234.6 236.9h0M239.6 237.7h0M255.8 231.6h0M239.2 240.2h0M237.6 239.4h0M238.2 241.1h0M250.9 236.2h0M238.6 242.7h0M234.5 243.1h0M238.2 241.4h0M237.5 243.5h0M238.7 241.7h0M239.5 245.7h0M238.8 246.5h0M253.2 241h0M243.5 244.3h0M238.6 245.4h0M244.5 245.7h0M241.2 246.3h0M249.4 244.7h0M243.3 247.7h0M244.2 249h0M244.4 248.1h0M242.9 251h0M242.9 249.2h0M243.7 251.5h0M241.3 252.5h0M239.4 254.8h0M242 251.1h0M242.2 253.9h0M251.5 252.9h0M244.1 256.4h0M238.8 256.1h0M246.2 257.6h0M245.8 257.5h0M244.8 257.4h0M248.5 257.3h0M242.6 257.8h0M242.5 256.6h0M242.4 258.9h0M242.9 259h0M242.2 260.7h0M239.1 259.8h0M239.5 256.6h0M240.3 261.7h0M242.7 262.3h0M241 261.3h0M238.7 261.4h0M238.5 260.5h0M238.4 266h0M236.8 261.2h0M240 263.1h0M238.6 261.8h0M240.1 263.6h0M237.3 265.4h0M234.6 269.3h0M234.1 268.1h0M234.4 267.6h0M230.7 266.5h0M233 268h0M234.8 268.5h0M229.9 266.1h0M236.4 268.5h0M233.8 266.4h0M233.3 273.4h0M228.9 272.3h0M230.2 269h0M228.7 270.2h0M230.7 267.9h0M234.1 271.3h0M229.9 267.7h0M231.7 277.5h0M234.3 280.1h0M220.2 272.9h0M222.7 272.1h0M223.7 272.4h0M223.6 273h0M224.5 276.9h0M222.7 272.6h0M227 269.8h0M224.9 277.6h0M221.3 279.1h0M222.1 276.6h0M223.2 281.9h0M217.4 275.5h0M224 278.2h0M220.1 277.2h0M221.9 274h0M214.4 276.1h0M214.1 276.8h0M219.1 277.1h0M227.6 291.6h0M215.6 276.3h0M216.3 277.9h0M214.4 275.1h0M214.9 285.8h0M211.2 277.1h0M220.3 288.8h0M214.5 282.5h0M209.7 278.7h0M210.9 277.1h0M213.2 286.2h0M208.7 280.2h0M207.9 283.1h0M210 285.4h0M209.9 282.5h0M209.4 278.5h0M210.4 283.4h0M206.3 287.4h0M213 299.1h0M210.4 287.1h0M205.4 283.9h0M205.7 284.7h0M208.9 292.5h0M202.1 284.8h0M200.3 285.4h0M201.1 287.9h0M200.3 288.5h0M201.4 284.9h0M203 292.5h0M200.7 284h0M194.7 285.5h0M196 292.1h0M197.9 288.7h0M200.6 289.9h0M196.8 287.2h0M199.2 297.4h0M196 285.9h0M193.6 294.7h0M194.9 290.9h0M193.3 293.1h0M194.6 289.6h0M190.2 287.8h0M196.9 290.3h0M192.8 286.5h0M193.3 304.5h0M189.4 293.5h0M187.5 294.4h0M192.3 292.3h0M189 295h0M189.8 291.1h0M187.2 294.3h0M189.7 294.1h0M186.5 293.7h0M186.1 292.9h0M185.5 294.1h0M188.1 296.4h0M185.3 295.1h0M185.8 293h0M187.1 293.3h0M182 299.9h0M181.9 302h0M183 295.2h0M178.1 296.6h0M177 293.4h0M182.5 297.6h0M177.8 296.6h0M180.2 309.9h0M177.2 298.2h0M177.1 297.9h0M176.9 299.6h0M177.4 298.1h0M176.9 296.2h0M180.8 310.6h0M175.2 302.4h0M176.4 307.1h0M173.5 302.8h0M175 300.6h0M174 300.4h0M175.4 301.2h0M178.1 308.4h0M169.5 304.4h0M171.9 305.3h0M167 298.2h0M170.1 304.1h0M171.2 304.8h0M168.3 303.7h0M164 301.4h0M164.6 305h0M164.6 303.3h0M165.2 308.4h0M171 314.5h0M167.5 313h0M163.5 304.1h0M158 305.6h0M162.4 309.7h0M160 308.2h0M160.4 299.8h0M163.5 307.7h0M155.4 310.4h0M154.1 308.7h0M160.7 314.3h0M155.9 308.9h0M159.1 316.1h0M156.2 309.9h0M155.9 306.7h0M154.4 307.9h0M154.4 310.8h0M156.2 309.7h0M153.1 308h0M153.9 317.4h0M153.9 309.4h0M149.3 310.2h0M148.4 307.8h0M147.9 307.2h0M148.5 310.1h0M149.2 308.3h0M150.9 309.1h0M146.2 307.8h0M146.7 310.2h0M145.1 307.6h0M144.6 308.8h0M135.8 312.9h0M141.5 307.4h0M141.1 308.3h0M144.8 304.6h0M142.3 304.4h0M142.9 305.7h0M143.5 304.4h0M141.1 304.2h0M125.4 311.1h0M135.1 304.5h0M133.6 301.3h0M141.4 301h0M139.8 301.6h0M140.3 300.5h0M140.4 297.4h0M138.9 299.2h0M138 299.5h0M137.1 300.3h0M132.3 299.8h0M124.3 300h0M138.7 296.5h0M134.1 293.9h0M140.5 292.5h0M137.1 295.6h0M143.7 297h0M137.7 290.3h0M141 293.8h0M139.3 293.7h0M141.2 292.6h0M132.2 292.7h0M137.9 289.6h0M140.5 286.4h0M139.8 287h0M141.8 288.7h0M136.2 287.6h0M141.1 283.3h0M129.7 280.4h0M140.4 284.4h0M139.7 286.7h0M143 287.7h0M139.9 284.4h0M143.3 283.8h0M142.9 284.6h0M137.9 282.1h0M144.1 281h0M141.9 279h0M140 277.2h0M140.8 277.9h0M139.6 280.9h0M144.6 279.4h0M135.6 274.3h0M144 276.5h0M139 275.5h0M143.3 276.4h0M144.3 275.4h0M142 273.8h0M146.7 272.9h0M143.6 273.1h0M147.6 270.8h0M146.6 268.8h0M142.3 271h0M146 270.2h0M149.4 267.9h0M146.7 266.8h0M145.2 268.1h0M144.6 266.4h0M146.9 267.1h0M145.3 263.9h0M143.8 262.6h0M139.6 262h0M146.3 262.3h0M141 262.3h0M138.2 261.7h0M145.7 257.1h0M147.4 257.8h0M142 256.8h0M142 257.5h0M145.4 261.5h0M146.1 260h0M150.2 261.1h0M146.6 251.3h0M149.1 257.3h0M144.1 256.8h0M149.6 255h0M150.6 252.2h0M136.1 252.2h0M143.1 255.7h0M146.3 250.9h0M147.1 254.1h0M147.3 244.4h0M146 250.8h0M147.2 248.7h0M149.2 248.3h0M141.5 245.7h0M143.7 248.7h0M146.4 246.2h0M148.5 251.5h0M134.7 250.4h0M141.8 243.1h0M139.9 240.7h0M147.5 244.6h0M147.9 244.2h0M146.7 246.3h0M144.6 245.6h0M147.9 241.5h0M142 244.6h0M149.1 238h0M146.7 236.3h0M151.1 239.2h0M151.1 237.2h0M150.2 235.4h0M144.6 239.2h0M147 239.7h0M146.7 231.3h0M148.4 232.9h0M148.8 234h0M142.5 232.4h0M143.8 230h0M147.9 234.3h0M150.4 230.7h0M147.6 228.8h0M153.6 234.3h0M151.6 230.1h0M152 233.4h0M150.3 227.8h0M149.6 225.7h0M152.8 229h0M151.9 229.1h0M146.2 223h0M149.2 220.7h0M157.4 227.1h0M151.3 224.9h0M152.6 226.5h0M154.5 228.5h0M155 222.9h0M156.9 225.9h0M159.3 226.3h0M159.2 225.5h0M160.2 224.6h0M150.7 217.4h0M154.5 219.6h0M153.7 218.3h0M159.8 222.7h0M158.4 221h0M159.4 218.1h0M160 219.3h0M158.2 217.8h0M157 218.3h0M158.6 216.1h0M161.9 213.9h0M158 213h0M161 213.6h0M159 213.6h0M159.2 214.3h0M155.7 212.1h0M160.3 210.4h0M163.4 210.9h0M159.1 207.9h0M161.6 213.4h0M163.4 213.3h0M160.8 210.6h0M146.7 201.6h0M162.3 207h0M164.8 207.7h0M167.5 209.6h0M162.9 206.7h0M158.4 200.8h0M163.2 204.3h0M161.8 202.6h0M161.5 206h0M164.9 206.9h0M165.3 201.5h0M167.3 205.3h0M167.7 202h0M165.5 203.5h0M170.1 201.3h0M166.6 202.8h0M158.4 188.6h0M170.9 204.2h0M172.1 200.6h0M166.4 195.1h0M168 199h0M173.6 201.2h0M168.6 193.5h0M164.7 189.1h0M174.8 197.6h0M174.4 198.2h0M173.8 200h0M179.4 196.3h0M173.2 196.8h0M175.9 197.2h0M173.4 196.1h0M177.1 196.3h0M180 191.2h0M176.7 192.7h0M176.7 190.8h0M178.7 192.1h0M178 194.4h0M181.5 192h0M182.2 190.6h0M179.5 185.7h0M181.5 189.8h0M177.3 183.5h0M181.7 188.4h0M180.4 188.5h0M184.2 186.4h0M176 179.1h0M187.3 189h0M184.3 183.4h0M183 182.6h0M184.7 185.7h0M184.4 189.6h0M187.7 186.7h0M186.2 184.2h0M188.7 183.8h0M191.2 188.2h0M186.9 183.7h0M187.6 185.3h0M186.9 178.4h0M190.3 180.8h0M190.5 181.8h0M183.7 175.9h0M186.1 175.7h0M188 181h0M194.9 178.4h0M190.9 177.5h0M193 181.3h0M189.9 177.9h0M190.6 176.5h0M192.5 174.7h0M196.8 177.8h0M196.5 178.9h0M194.8 172.8h0M197.9 181.2h0M199.2 177.3h0M197.7 177.8h0M197.4 173.3h0M202.3 175h0M200.4 172h0M196.9 172.6h0M200.2 173.6h0M197.4 169h0M204.6 172.5h0M201.1 171.5h0M201.1 172.8h0M202.1 174.5h0M202.1 171.3h0M201.5 173.3h0" stroke="#ff7f00" stroke-width="3.5" stroke-linecap="round" stroke-opacity="0.88" fill="none"/>
<path d="M295.3 150.9L297 150.9L298.6 151.2L300.2 151.8L301.9 152.8L303.8 154.2L306 156.2L308.4 158.8L310.8 161.7L313.1 164.8L315.1 168L316.8 171.3L318.4 174.8L319.8 178.5L321.3 182.3L322.9 186.2L324.5 189.9L326.2 193.6L327.8 197.3L329.3 200.9L330.7 204.5L331.9 208.1L333 211.7L334 215.3L335 219L335.9 222.7L336.8 226.5L337.6 230.4L338.4 234.4L339.2 238.4L339.8 242.3L340.5 246.2L341 250.2L341.6 254.1L342 258L342.5 262L342.9 265.9L343.3 269.8L343.6 273.7L343.8 277.6L343.8 281.4L343.6 285.4L343.3 289.4L342.8 293.4L342.1 297.1L341.3 300.4L340.2 303.3L338.8 305.9L337.3 308.3L335.6 310.6L333.9 312.6L332.1 314.5L330.3 316.1L328.4 317.6L326.4 318.8L324.3 319.9L322 320.8L319.6 321.5L317.2 322.1L314.8 322.3L312.5 322.3L310.3 321.8L308 321L305.5 319.9L302.9 318.6L300.3 317.3L297.7 315.9L295.1 314.5L292.6 313L290 311.3L287.4 309.6L284.9 307.7L282.3 305.6L279.7 303.5L277 301.3L274.4 299.1L271.6 297L268.9 294.9L266.2 292.9L263.7 290.9L261.4 288.7L259 286.3L256.7 283.9L254.6 281.4L252.8 278.9L251.4 276.3L250.4 273.8L249.8 271L249.4 268.1L249.1 265L249 261.6L249.1 258.1L249.4 254.3L249.9 250.2L250.2 246L250.3 241.8L250 237.5L249.4 233.2L248.7 229L248.1 225.2L247.7 221.8L247.4 218.8L247.2 216.4L247.1 214.2L247.2 212L247.6 209.4L248.4 206.1L249.5 202.4L250.9 198.6L252.4 194.9L253.9 191.7L255.6 189L257.6 186.5L259.7 184L262 181.6L264.2 178.9L266.4 176.2L268.5 173.5L270.6 170.8L272.7 168.2L274.7 165.8L276.8 163.4L278.8 161.2L280.8 159.1L282.8 157.2L284.8 155.6L287 154.2L289.2 152.9L291.4 151.9L293.4 151.2Z" fill="#e5c494" fill-opacity="0.9"/>
<path d="M295.6 149.1h0M295.1 144.9h0M297.4 149.7h0M298.9 147.4h0M299.5 148.8h0M298.1 152.9h0M300.7 149h0M299.9 148.5h0M300.4 150.5h0M302.9 148.9h0M301.4 151h0M299.1 154.5h0M306.2 148.9h0M304.1 151.8h0M307.5 147.3h0M306.5 146.7h0M302.8 154.6h0M305.2 154.4h0M303.1 158.8h0M310.3 151.4h0M308.6 153.3h0M304.2 154h0M313.4 153h0M306.5 156.3h0M310.8 156.7h0M309.1 155.3h0M309.1 159.9h0M313.9 154.9h0M311.3 157.5h0M307.3 159.4h0M316.1 158h0M312.1 155.1h0M312.5 159.3h0M313.8 161h0M311.7 162h0M313.6 161.9h0M315.9 162h0M314.8 161.2h0M312 162.3h0M316.3 163.5h0M318.4 166.5h0M316.6 166.5h0M319.8 164.4h0M316.7 164h0M319.4 164.9h0M317.2 168.8h0M320.5 167.8h0M315.8 170h0M324.9 163.6h0M321.3 167.3h0M316.6 168.2h0M319.3 171h0M319.3 170.3h0M320.8 173.8h0M314.6 174.6h0M326.9 168.2h0M318.6 172.6h0M319.7 176.8h0M321.4 177.5h0M320.8 178.3h0M321.6 177.1h0M318.6 177.4h0M323.2 177.1h0M323.5 179.2h0M322.4 176.6h0M325.5 178.9h0M322.9 176.4h0M322.6 181.9h0M326.8 178.8h0M322.5 183.4h0M318.2 185.9h0M324.9 181.8h0M327.5 182.6h0M327.9 183.1h0M323 183.6h0M333.1 185.4h0M326.6 183.9h0M322.6 188.5h0M321.4 190.3h0M325.6 186h0M331 183.2h0M329.7 191.3h0M330 192.1h0M329.1 193.9h0M330.3 188.5h0M327 193.4h0M328.6 193.7h0M330.1 195h0M331.1 195.9h0M333.2 194.1h0M333.3 193.3h0M328.7 194.4h0M331.8 191.3h0M334.3 198.2h0M332.6 197.8h0M333.1 199.2h0M327.4 198.6h0M329.5 199.5h0M330.5 195.6h0M333.5 200.2h0M330.8 201.5h0M331 201.9h0M330.8 201.6h0M336.5 200.4h0M325.9 203.4h0M335.6 204.6h0M332.9 205.1h0M333.7 206.7h0M334.2 206.1h0M334.7 202.8h0M335.8 206.6h0M340.4 208.6h0M338.2 207.1h0M337.7 208.2h0M332.3 210.6h0M342.3 207.5h0M336.9 213h0M335.9 215.3h0M336 213.9h0M333.9 214.5h0M346.6 210.2h0M336.7 217.1h0M335.2 216.6h0M338.6 213.1h0M338 216.8h0M335.7 215.5h0M340.2 217.2h0M337.4 218.4h0M338.9 221.4h0M338.1 218.5h0M338 217.7h0M339.4 218.8h0M340.3 219h0M338.6 221.3h0M342.2 223h0M341.1 223.3h0M338.8 221.6h0M342.5 223.6h0M338.1 223.6h0M341.3 228.5h0M339.3 228.9h0M337.7 228.4h0M339.7 228.5h0M337.2 226.7h0M338.3 229h0M337.6 232.3h0M337.5 235.3h0M341.9 232.8h0M339.9 233.5h0M337.9 233.4h0M340.9 233.9h0M339.4 234.9h0M340.4 236h0M342 234.6h0M344.9 238.8h0M341 235.7h0M345.7 235.4h0M346.3 235.9h0M342 240.3h0M342.2 242h0M340.6 241h0M340.6 241.6h0M343.3 241.9h0M343.1 245.5h0M350.7 240.3h0M343.3 242.2h0M351.8 243.7h0M344.3 245.6h0M342 243.2h0M343.9 248.8h0M356.7 245.8h0M341 249.8h0M339.9 246.1h0M342.8 247.4h0M344 247.9h0M339.3 249.4h0M341.3 250.6h0M343.6 251.4h0M345.6 253.5h0M343.1 251.5h0M344.5 252.1h0M348.2 257.9h0M342.5 254.8h0M342.4 255.6h0M342.6 255.2h0M338.3 255.6h0M343.8 254.6h0M346.3 261.7h0M343.6 260.1h0M348.6 260.9h0M352.2 257.4h0M344.5 260.9h0M344.5 259.1h0M344.6 260.9h0M346.2 262.4h0M344 263.1h0M346.8 261.7h0M346.1 265h0M343 261.1h0M342.3 266.1h0M344.5 267.7h0M345 267.6h0M343 269h0M344.9 269.5h0M343.5 267.8h0M348.5 272.8h0M373.9 268.8h0M342.8 271.5h0M347.5 274.3h0M344.7 272.1h0M347.3 270.3h0M348.8 273.1h0M341.6 275.7h0M351.7 275.3h0M345.9 274.8h0M345.6 275.4h0M343.6 277.8h0M350.8 279.4h0M348.8 278.4h0M348.1 278.6h0M348.4 280.2h0M347.5 279.4h0M345.2 280.5h0M346.7 286.1h0M351.4 282.5h0M345.2 283.3h0M351.1 282.5h0M344.1 285h0M345.5 281.8h0M344.2 283.7h0M349.8 289.9h0M343.8 286.4h0M344.3 289.2h0M344.3 289.3h0M347.8 286.2h0M344.6 288.3h0M343.9 289h0M348.1 291.9h0M356.5 291.1h0M347 292.7h0M351.5 291.3h0M340.9 291.9h0M354.8 291.7h0M342.7 296.5h0M345.4 294.3h0M350.9 297.3h0M340.4 297.3h0M343.3 295.9h0M344.5 297h0M341.2 298.9h0M343.3 298.9h0M341.4 298.8h0M341.5 297.4h0M346.1 297.9h0M344.4 299h0M341.9 302.4h0M344 306.5h0M340.5 300.3h0M341.9 303.6h0M340.4 299.5h0M346.2 306.8h0M340.3 306.1h0M346.2 308.2h0M340.6 306.4h0M340.1 306.3h0M338.1 307.3h0M339.7 307.8h0M339.8 309.1h0M340.3 308.8h0M335.5 307.6h0M335.3 310.5h0M336 312.1h0M336.3 311.4h0M340.9 316.1h0M337.8 313.8h0M335.8 310.9h0M336.4 314.7h0M340.8 317.3h0M337.7 316.2h0M334.7 313.3h0M331.1 313.3h0M335.2 312.5h0M329.8 313h0M332.7 314.8h0M333.7 315h0M331.2 314.7h0M332.2 318.6h0M329 316.2h0M333.1 319.2h0M334.4 325.7h0M326 316.4h0M328.2 320.2h0M329.5 319.1h0M326.9 322.7h0M327.1 320.8h0M326.8 319.8h0M324.9 322.2h0M322.8 322.3h0M324.5 323.6h0M324.8 324h0M326.2 324.7h0M321.3 320.9h0M320.6 322.9h0M320.2 321.5h0M321.7 323.1h0M317.4 323.8h0M319.5 325.5h0M319.1 320.4h0M318.6 330.6h0M317 324.8h0M316.7 322.2h0M316.3 325.1h0M314.2 326.1h0M318.3 326.6h0M312.9 323.5h0M313.4 326.4h0M313.4 324.7h0M313.4 321.3h0M311.4 325.5h0M311.4 324.1h0M312.2 322.5h0M312.8 324.9h0M311 321.6h0M308.1 322.3h0M308.4 324.3h0M309.7 320.9h0M305.7 322.6h0M307.5 319.2h0M308 322.8h0M303.6 326h0M299.5 323.8h0M303.3 317h0M302.5 323.1h0M300.3 324.2h0M301.4 321.5h0M300.3 320.2h0M300.9 322.5h0M296.9 327.2h0M301.4 319.7h0M298 324.9h0M298.6 317.4h0M295.7 320.6h0M299.6 320.5h0M298.2 318.5h0M298.2 319h0M294.6 319.4h0M294.3 316.7h0M296.6 312.8h0M293.8 314.9h0M296.1 318.3h0M293.8 313.7h0M290.6 316.6h0M291.6 319.3h0M290.7 318.3h0M291.6 309.6h0M288.2 312.8h0M289.4 315.7h0M288 314.3h0M288.2 315.5h0M287.5 309.7h0M288.1 309.3h0M286.4 310.5h0M282.4 320.3h0M286.7 315.2h0M285.7 307.8h0M285.7 313h0M283.8 311.4h0M283.5 313.9h0M282 313.4h0M284.1 307.1h0M285 305.1h0M282.4 307.9h0M281.8 307.1h0M280.8 309.9h0M281.2 302.7h0M281.4 305.8h0M275.8 311h0M281 303.3h0M281.9 301.8h0M276.8 304.1h0M274.9 308.2h0M278.3 305.3h0M276 303.9h0M275.3 305.5h0M275.1 301.9h0M274 305h0M277.1 301.4h0M277.4 300.6h0M274.1 302h0M274.3 299.9h0M267.7 302.5h0M273.5 298.5h0M270.1 301.9h0M271.3 302.9h0M267.4 297.3h0M267.7 302.2h0M268 300.6h0M254.1 315h0M267.8 302.1h0M268.8 293.3h0M264.5 297.3h0M268.7 294h0M266.1 296h0M264.4 300.3h0M264.5 293.8h0M261.2 293.3h0M264.7 292h0M261.9 294.8h0M264.7 292.3h0M254.6 296.5h0M261.4 293.2h0M260.5 289.1h0M258.8 293.1h0M260.7 292.7h0M259.2 289.3h0M259.4 290.4h0M256.6 292.1h0M258.5 290.5h0M250.2 301.6h0M257.2 287h0M255.4 284.1h0M261.9 284.5h0M255.5 285.5h0M247.5 293.5h0M254.4 282.2h0M256.5 285.1h0M252.3 285.2h0M250.3 283.8h0M253.7 284h0M249.3 281.3h0M253.9 280.5h0M252.8 281.4h0M249.5 282.3h0M237.8 291.7h0M249 277.5h0M246.8 278.9h0M246.7 279.2h0M244.6 282.4h0M252.3 279.3h0M253.1 275.5h0M251.9 274.6h0M248.5 278.1h0M251.7 274.5h0M248 272.8h0M246.8 274h0M249.3 271h0M249.2 273.1h0M249.3 269.8h0M246.8 268.7h0M249.7 269.1h0M247.1 271.8h0M250 265.9h0M244.8 266.9h0M243.4 266.7h0M246.7 263.5h0M247.3 266.8h0M246.1 265.1h0M247.2 265.2h0M246.7 263.1h0M246.9 264.6h0M248.4 264.8h0M247.2 260.2h0M249.8 258.5h0M244.1 259.5h0M240.9 259.4h0M245.3 259.9h0M243.2 255.8h0M248.2 257.2h0M244.1 256.8h0M243 254.7h0M247.8 256.5h0M247.2 257.3h0M245.1 252.6h0M249.3 253.8h0M250.2 252.8h0M251.7 254.2h0M248.5 250.2h0M248.1 251.9h0M250.1 245.6h0M249.2 246.4h0M235.5 245.5h0M252.3 249.1h0M248 248h0M249.1 250.7h0M249.7 241.5h0M248.8 242.6h0M240.1 244.4h0M241 243.2h0M246.9 241.6h0M252.2 241.4h0M248.8 240.1h0M247.3 238.1h0M240.9 241.5h0M242.1 238.2h0M232.7 242.5h0M251.8 241.1h0M245.9 233.6h0M248.7 236.4h0M250.4 232.6h0M251.4 235h0M245.6 235.3h0M247.8 236h0M244.9 235h0M245.8 232.4h0M247.4 232.3h0M249.9 229.8h0M244.3 229.8h0M245 229.1h0M248.4 231.1h0M235.1 232.7h0M249 227.9h0M245.1 227h0M246.1 227.9h0M245.1 229.8h0M244.3 228.2h0M239.3 227.3h0M244 225.1h0M244.9 222.9h0M244.3 224.3h0M242.9 223.7h0M241.7 223h0M248.2 224.9h0M245 220h0M245.3 219.2h0M249.7 221.6h0M249 219.9h0M247.9 218.7h0M245.2 216.1h0M247 220h0M245.4 216.1h0M246.2 215.2h0M242.6 215.8h0M247.2 215.4h0M247.6 212.5h0M236.7 210.9h0M237.8 212.6h0M244.9 213.4h0M243.8 210.9h0M242.4 208.1h0M243.8 210.8h0M247.3 210.2h0M245.2 205.2h0M248 207.3h0M239.9 207.9h0M244.7 203.6h0M240.1 205.5h0M243.5 201.8h0M246.2 202h0M246.5 204h0M246.4 201.7h0M247.4 205.2h0M248.2 203.7h0M249.3 200.1h0M249.3 199.8h0M249.5 202.5h0M249.1 200h0M246.5 200.1h0M247.3 200.3h0M245.1 194h0M249.3 195.9h0M248.9 198h0M249.6 197.7h0M246.9 193.7h0M249.4 193.9h0M250.9 192.7h0M254.6 192.2h0M248 193.4h0M255.5 192.8h0M247.1 189.9h0M254 189.8h0M249.7 190h0M252.7 188.8h0M252.9 188h0M254.9 192.3h0M253 187.4h0M254.1 184.2h0M255.7 187.8h0M255.4 185.5h0M252.4 186.3h0M255.4 187.6h0M257.1 184.2h0M255 183.6h0M259.9 183.3h0M260.8 185.5h0M258.4 188h0M261.2 183.9h0M260 184.3h0M260.6 182.1h0M258 178.8h0M258.6 179.3h0M256.8 175.5h0M260.9 176.4h0M261.7 180.3h0M263.6 180h0M263.3 178.7h0M263 176.4h0M259.9 174h0M265.9 179h0M258.1 173h0M270.9 181.7h0M264.8 172.1h0M265.8 174.4h0M263.7 170.6h0M264.5 172.4h0M265.5 171.2h0M269.7 173.5h0M269.4 167.3h0M272.5 171.7h0M268.6 171.7h0M269.6 170.3h0M269.8 167.7h0M267.6 164.6h0M273.4 168.3h0M268.2 168.2h0M271.5 173.4h0M262.7 156.2h0M272.1 165.2h0M272 165.7h0M273.6 165.5h0M269.5 162.2h0M263.3 153.8h0M274.1 163.1h0M269.4 162.1h0M273.3 160.7h0M276.3 163h0M275.2 160.5h0M274.6 162.1h0M277.9 161.8h0M281.8 164.7h0M277 157h0M273.7 155.8h0M277.7 159h0M278 161.5h0M278.5 157.6h0M279.8 158.1h0M279.9 154.7h0M275.7 153.8h0M278.4 155.7h0M280.9 154h0M282.5 153.6h0M282 154.2h0M283.6 157h0M285.9 153h0M285.5 156.2h0M282.2 149.4h0M285 152.6h0M287.7 155.5h0M288.5 154.3h0M286.4 148.4h0M285.2 148.6h0M288.6 150.5h0M283.3 140.2h0M288.7 146.5h0M290.2 152.5h0M288.3 150.3h0M291.2 146.2h0M291.6 151.3h0M283.7 123.5h0M289.4 141.8h0M292.8 151h0M294.6 153.4h0M295.4 146.4h0" stroke="#e5c494" stroke-width="3.5" stroke-linecap="round" stroke-opacity="0.88" fill="none"/>
<path d="M346.8 218h0M365.1 256h0M340.1 266.2h0M359.4 249h0M351.2 255h0M347.9 214.4h0M365.2 244.4h0M354.5 281.3h0M349.2 258.8h0M351.7 275.8h0M345.8 250.2h0M350.2 247.4h0M355.8 242.7h0M362.7 251.2h0M351.7 212.3h0M365.5 235.3h0M350.8 288.5h0M345.9 219.7h0M345.6 233.1h0M344.8 281.3h0M347.4 266.4h0M352.5 263.7h0M362.9 219.9h0M349.7 237.5h0M349.4 272.7h0M361.5 253.9h0M343.5 221h0M365.2 264.8h0M366.3 247.2h0M367.6 246.7h0M359.8 243.3h0M350.7 230.1h0M354.6 226h0M346.1 235.6h0M346.7 255.8h0M366.7 235.7h0M352.4 217.7h0M359.8 259.7h0M350.3 259.1h0M350 285.6h0M348 247h0M348.1 218.7h0M355.1 212.9h0M356 226h0M354.3 213.8h0M348.9 276.5h0M352.4 241.2h0M358.8 286.3h0M345.5 247.5h0M351.6 263.8h0M348.2 215.8h0M352.2 236.3h0M350.2 222.5h0M346.2 210.1h0M361.3 243.2h0M364.6 267.6h0M348.5 219.1h0M356.4 287.7h0M362.8 224.3h0M358.8 247.8h0M350.3 278.5h0M350.1 269.4h0M342.9 213h0M357.9 239.9h0M360.5 228.9h0M348.8 217.9h0M342.5 211.6h0M349.2 235.3h0M357 259.1h0M352.4 272.2h0M355.4 247h0M354.5 275.4h0M349 241.6h0M349.1 283.1h0M362.2 270.8h0M340.8 258.8h0M357 235h0M362.2 275.1h0M352.2 281.2h0M344.1 226.4h0M348.5 267.4h0M361.7 232.2h0M344.9 211.6h0M341.7 245.8h0M360.6 223.6h0M356.8 243.3h0M340.3 238.5h0M346.8 266.1h0M361.2 214.9h0M366.4 256.9h0M349.4 232.2h0M350.7 249.8h0M368.9 237.6h0M358.6 272.8h0M341.1 222.7h0M346.9 221.5h0M344.4 257.5h0M362.7 274.8h0M348.9 222.4h0M368.9 267.5h0M349.3 232.5h0M357.1 278.6h0M367.4 225.1h0M352.7 281.3h0M361.7 262.9h0M354.7 274h0M367 241.2h0M344.5 272.8h0M364.8 269.9h0M361.3 263.6h0M347 261h0M347.9 212.8h0M348.8 239h0M340.1 221.3h0M347.1 257.2h0M353.4 222h0M368.8 228.5h0M362.8 255.1h0M367.4 248h0M349.2 253.2h0M357.8 262.9h0M350.9 260.4h0M346.3 234.5h0" stroke="#e5c494" stroke-width="3.5" stroke-linecap="round" stroke-opacity="0.88" fill="none"/>
<path d="M335.4 164.4L336.2 162.4L337.8 160.3L340 158.3L342.2 156.8L343.9 156.1L345.1 156L346.6 156.4L348.3 157.4L350 158.7L351.6 160.4L353.1 162.7L354.7 165.7L356.1 169L357.1 172.2L357.6 174.8L357.6 176.8L357.2 178.6L356.5 180.3L355.5 181.8L354.5 183.1L353.1 184.1L351.4 185.1L349.4 185.8L347.6 186.2L346.2 186.3L345 186L343.9 185.4L342.7 184.5L341.6 183.1L340.4 181.1L339 178.2L337.5 174.5L336.2 170.6L335.4 167Z" fill="#66c2a5" fill-opacity="0.9"/>
<path d="M320.9 158.7h0M335.6 163.9h0M334.4 162.3h0M332.8 160.7h0M335.4 160.5h0M336.2 161.9h0M339.9 161.3h0M334.8 159.4h0M335.6 162.3h0M335.3 156.7h0M338.3 158.3h0M329.2 154.1h0M337.8 159.1h0M337.8 158.6h0M339 156.2h0M339.5 157.1h0M332.3 145.6h0M338.3 153.2h0M343.5 156.3h0M343.4 154.3h0M339.5 147.5h0M343.5 156.3h0M343 154.1h0M344.4 151.7h0M344.1 157.6h0M349.7 150.4h0M346.9 154.2h0M344.2 155h0M348.6 156.8h0M348.6 157.5h0M348.7 155.3h0M347.2 156.1h0M350.5 158.3h0M350.3 155h0M349.3 158.6h0M352.3 157.5h0M354.1 156.9h0M351.4 161h0M350.4 158h0M355.2 156.2h0M354.8 158.9h0M351.4 162.4h0M355.2 158.9h0M357.6 159.3h0M352.3 159.7h0M355.6 160.9h0M356.4 162.3h0M353.8 163.8h0M358.5 160.5h0M355.2 162.4h0M359.6 166.4h0M356.5 166.4h0M356.7 166.8h0M353.5 168.3h0M358 166.7h0M355 168.3h0M358 171.4h0M359.8 167.5h0M368.1 168.6h0M356.4 171.3h0M372.5 164.7h0M358 167h0M360.5 173.6h0M360.4 174h0M357.4 174.8h0M358.2 173.1h0M358.1 174.2h0M359.7 177.2h0M372.7 175.4h0M359.4 178.2h0M358.6 176.7h0M363.4 179.3h0M355.2 177.9h0M358.9 178.8h0M357.5 180.5h0M362.6 181.6h0M359.9 179.6h0M357.6 179.7h0M360.2 182.7h0M361.7 183h0M362.3 185.4h0M361 188.5h0M353.4 181h0M358.3 187.9h0M354.4 182.4h0M353.1 184h0M357.3 184.7h0M355.3 187.4h0M350.9 185.1h0M358.3 192h0M355.8 189.5h0M351 189.3h0M349.6 186.5h0M349.7 184.3h0M349.1 189.5h0M348.2 186.9h0M349.2 184.6h0M346.2 190.5h0M347.7 189.7h0M347.7 189.7h0M344.8 187.1h0M344.3 191h0M346.6 186.8h0M342.5 187.6h0M346.1 183h0M344.4 186.6h0M340.4 189h0M341.7 189.3h0M341.4 188.4h0M341.2 183.1h0M336.6 187h0M340.8 183.8h0M342.6 181.7h0M337.5 185.4h0M339.7 182.5h0M340.9 182.6h0M335.8 184.6h0M339.1 180.8h0M337.6 181.6h0M339.2 181.4h0M339.3 178.6h0M334.5 177.9h0M335.2 175.4h0M333.5 175.1h0M336.1 176.9h0M331.8 179h0M331.2 182.6h0M336.8 174.2h0M337.4 172.2h0M334 175.2h0M332.9 172.9h0M334.2 171.8h0M337.5 174.1h0M336.2 174.6h0M338.5 173.8h0M332.3 171.1h0M332.5 169.6h0M337.2 166.5h0M330.3 168.3h0M332 169.6h0M335.4 169.7h0M332.4 166.5h0M325.5 166h0M333 164.5h0M332.7 165.9h0M328.3 165.5h0" stroke="#66c2a5" stroke-width="3.5" stroke-linecap="round" stroke-opacity="0.88" fill="none"/>
<path d="M433.9 149.8L434.9 148.9L436.4 147.9L438.2 147.1L440 146.8L441.6 146.9L443.4 147.6L445.7 149.1L448.3 151.1L451 153.4L453.7 155.6L456.3 157.6L458.9 159.8L461.6 162L464.3 164.2L467.1 166.3L469.9 168L472.8 169.5L475.4 170.9L477.8 172.3L480 174L482.2 176.1L484.3 178.4L486.4 180.9L488.3 183.6L490 186.4L491.4 189.3L492.6 192.5L493.7 195.9L495 199.5L496.4 203.3L498.1 207.3L500 211.4L501.9 215.7L503.9 219.7L505.8 223.5L507.9 226.7L510.1 229.5L512.1 232L513.7 234.2L515 236.5L515.9 238.8L516.6 241.2L517 243.6L517.3 246L517.4 248.4L517.1 250.7L516.5 253.2L515.7 255.8L515 258.7L514.7 261.7L515.1 264.6L515.9 267.1L516.8 269.2L517.3 270.8L517.4 272L517 273.7L516.4 275.6L515.6 277.3L514.7 278.4L514.2 278.8L513.1 278.7L511.1 278.1L508.4 277L505.4 275.8L502.5 274.8L499.7 274.1L497.1 273.4L494.3 272.7L491.4 272.3L488.4 272.1L485.5 272.3L482.6 272.8L479.8 273.5L477.2 274.2L474.6 274.8L471.7 275.5L468.8 276.4L466.1 277.1L464 277.5L462.7 277.4L461.9 277L461 276.2L460.2 275L459.7 273.7L459.6 272.4L459.9 270.9L461 268.6L462.5 265.8L464 262.7L464.8 259.4L464.8 256.1L464.3 253.1L463.5 250.3L462.8 247.7L462.1 245.2L461.7 242.7L461.2 240.1L460.8 237.4L460.2 234.6L459.5 231.8L458.5 229L457.4 226.2L456.3 223.4L455.1 220.8L454 218.2L452.9 215.9L451.9 213.8L450.8 211.8L449.8 209.8L448.8 207.7L447.7 205.3L446.7 202.7L445.6 200L444.6 197.3L443.5 194.6L442.4 191.9L441.3 189.3L440.3 186.7L439.2 184.1L438.3 181.5L437.4 178.9L436.5 176.2L435.7 173.5L435 171L434.4 168.6L434 166.4L433.6 164.4L433.4 162.5L433.2 160.6L433.2 158.6L433.1 156.4L433.1 154.2L433.1 152.2L433.4 150.7Z" fill="#ffff33" fill-opacity="0.9"/>
<path d="M431.6 146.5h0M434.2 147.9h0M434 150h0M428.7 136.9h0M436 150.3h0M434.8 146.3h0M431.8 143.2h0M436.9 146h0M435.7 145.9h0M435.8 144h0M437.4 146.4h0M439.3 146.1h0M436.3 141.4h0M435.9 143h0M441 142.3h0M440.7 145.1h0M441.9 142.6h0M443.1 143.9h0M442.8 146.1h0M443.7 142.9h0M441.7 144.7h0M446.6 149.1h0M445.2 145.5h0M444.5 147h0M446.2 147.5h0M445.4 145h0M452.3 142.4h0M450.7 146.1h0M451.1 147.9h0M451.4 147.2h0M451.5 145.6h0M450.1 150h0M454.4 150.4h0M449.2 150h0M451.7 149.6h0M450.6 148.9h0M455.9 150.7h0M457 148.5h0M454.1 151.4h0M453.9 152h0M452.6 155h0M454.6 159.4h0M453 159.2h0M454.4 155.7h0M457 157.2h0M457.7 155.3h0M457.2 160.5h0M457 158.2h0M459.4 157.8h0M464 153.1h0M457.4 154.7h0M461.1 155.9h0M460.4 162h0M460.6 159.8h0M462.6 157.9h0M465.8 152h0M462.1 159.9h0M462.9 164.6h0M466.4 160.7h0M465 162.6h0M467.3 159.7h0M465.8 158.5h0M467.2 159.8h0M467 161.6h0M466.9 165.2h0M467.5 161.1h0M466.8 164.8h0M468.1 164.4h0M469.5 166h0M472 163.9h0M472.5 158h0M474.9 158.6h0M472.1 168h0M474 163.3h0M476 162.7h0M471 169.2h0M472.5 169.3h0M471.3 168.8h0M474.4 168.1h0M474.6 164.8h0M473 170.3h0M476.5 167.4h0M475.9 171.1h0M477.4 171.2h0M477 172.2h0M477.9 165.7h0M476.9 167.7h0M480 173.4h0M481.7 171.6h0M479.4 172.6h0M480.7 171.3h0M479.5 175.5h0M481.2 176.8h0M482.8 175.4h0M483.8 170.9h0M484.8 172.1h0M483.7 177.9h0M483.4 175.5h0M484.4 178.9h0M487 172.2h0M483.7 172.8h0M488.5 178h0M486.2 178.6h0M487.2 180h0M487.7 178.3h0M488.3 177.9h0M485.7 180.7h0M488.2 180.6h0M487.4 182.6h0M488.8 182.4h0M488.8 182.7h0M492.2 179.3h0M490.5 183.1h0M493.2 179.4h0M493.7 183.6h0M488.9 186.6h0M493 184.8h0M498.2 184.3h0M491.4 187h0M493.7 188.9h0M493.4 185.4h0M492.5 188.6h0M494.4 191.1h0M491.5 192.2h0M494.2 189.8h0M494.2 188.7h0M494.8 191.8h0M493.8 189.6h0M492.4 195.2h0M493.4 195h0M494.2 191.8h0M492.8 197.4h0M494.5 192.4h0M494.5 191.9h0M502.2 193.6h0M496.8 196.7h0M500.6 196.1h0M496.9 197.5h0M496.2 196.3h0M502.7 197.9h0M495.4 201.7h0M496.4 203.5h0M499.4 200.3h0M496.6 203.1h0M497.2 198.7h0M500 204.3h0M499.6 205.1h0M498.8 202.8h0M500.4 200.4h0M504.8 199.5h0M496.9 205.5h0M503.6 203.9h0M502.8 209.3h0M501.6 206.5h0M501.1 206.8h0M499.1 207.2h0M499.3 210.6h0M505.9 206.1h0M503.7 207h0M505.5 213.5h0M501.1 215.9h0M504.8 214.2h0M499.9 211.9h0M503.3 212.7h0M499.7 214h0M503 209.3h0M500.5 219.3h0M500.3 215.2h0M504.4 218.6h0M503.4 217.6h0M508.1 212.4h0M504 215.7h0M505.2 217.7h0M507.9 219.6h0M508.9 216.9h0M505.1 220.6h0M504.8 223.8h0M508.3 221.3h0M506.5 222.6h0M509.8 226h0M510.9 220.8h0M510.6 223.4h0M508.2 224.8h0M509.6 220.4h0M509.2 229.2h0M509.8 229.3h0M515.2 224.4h0M510.7 226.3h0M508.2 228.9h0M513.3 227.1h0M513.2 228.7h0M516.9 228.6h0M509.2 233.2h0M511.8 231h0M511.6 233.8h0M513.8 233.1h0M514 231.3h0M517.1 231.9h0M512.6 232.8h0M508.3 236.7h0M517.7 232.7h0M512.3 234.2h0M513.1 233.5h0M514.9 233.8h0M523 234.9h0M515.4 236.5h0M522.3 234.4h0M528.3 232.9h0M520.4 239h0M528 236.7h0M521.7 239.2h0M516.7 239.5h0M516.4 238.9h0M523.4 239.6h0M518.5 241.3h0M516.6 243.6h0M518 243.8h0M520.4 245.6h0M516.8 244.9h0M519.2 246.5h0M517.8 244.7h0M520.8 246.9h0M515.2 245.9h0M520.7 249.3h0M528.8 248.3h0M542.6 250.1h0M520.3 248.8h0M519.7 250.7h0M516.1 250.2h0M520.5 249.4h0M524.8 254.1h0M516.4 253.4h0M521.5 251.8h0M522.5 250.9h0M518.9 254.6h0M518.5 256h0M521.2 255.7h0M518.9 255.5h0M514.6 257.4h0M517 256.3h0M529.7 259.9h0M519.6 259.4h0M520.6 262.2h0M521.1 261.4h0M513.4 260.1h0M513.4 259.5h0M518.7 261.3h0M515.7 264.6h0M517.1 261.5h0M515.7 261.6h0M517.9 262.5h0M515 265.1h0M522.3 264.9h0M518.6 266.6h0M522.8 266.9h0M517.5 269.1h0M515.5 267.4h0M517.4 267.5h0M535.7 264.1h0M519.6 269.8h0M518.9 269.3h0M519.9 272.1h0M520.5 272.5h0M515.8 271.9h0M518.8 273.3h0M518.1 272.5h0M517.4 274.6h0M520.5 277.4h0M520.8 275.6h0M518.8 275.8h0M516.4 277.5h0M518.7 275.2h0M520.8 279.1h0M516.3 277.6h0M515.2 277.7h0M516 282.1h0M514.7 279.2h0M513.6 279.6h0M514.7 282.4h0M514.8 279.5h0M513.9 282.1h0M514.8 277.5h0M513.1 279.4h0M510.6 286.4h0M510.1 283.2h0M511.5 280.7h0M508.5 277.3h0M510.3 277.6h0M509.7 278.8h0M507.9 279.6h0M509 282.1h0M507.7 277h0M507.2 277.2h0M503.8 278.3h0M505.1 278.9h0M504.3 279.9h0M501.4 280h0M503.5 278.4h0M505 274h0M503.2 278.8h0M499.3 277.2h0M500.6 274.8h0M501.8 277.5h0M499.3 275.5h0M496.6 274.7h0M498.3 278.4h0M498.1 274.2h0M498.2 273.4h0M497.6 274.8h0M490.8 283.4h0M492.7 277.9h0M494.9 269.8h0M494.6 272.5h0M492.1 275.4h0M492.1 277.7h0M492.4 271.3h0M489.6 274.1h0M490 271.1h0M491.9 269.7h0M488.5 272.1h0M486.3 272.7h0M484.7 269.6h0M486.4 286.5h0M487.6 276h0M483.3 276.8h0M485.1 273.1h0M482.1 272.7h0M482.7 275.5h0M485 270h0M479.7 275.5h0M481.1 272.7h0M481.3 277.6h0M480.4 273.1h0M478.1 278.9h0M479.1 276.3h0M479.7 275.1h0M479.5 276.5h0M475.9 275.9h0M475.9 278.3h0M473.6 275.4h0M477.5 282.9h0M476.2 278.9h0M472.2 275h0M475.9 277.6h0M474.1 278.6h0M471.6 282.3h0M472 276.7h0M472 278.8h0M469.3 272.5h0M469.5 279.1h0M466.6 277.1h0M473.4 291.4h0M469.1 281.1h0M468.5 280.7h0M464.8 280.9h0M466 281.8h0M467.9 291.1h0M463.7 279.5h0M464 279.4h0M463.5 278h0M465.3 283.4h0M453.6 294.4h0M462.2 279.4h0M463.1 276.2h0M461.8 277.4h0M461.2 276.5h0M460.3 278.9h0M461.2 275.8h0M459.9 275.5h0M461.2 277h0M458.2 275.5h0M462.3 273.8h0M451.9 277.1h0M458.2 273.1h0M456.7 275.4h0M455.3 273.1h0M455.6 271.1h0M457.3 269.7h0M455.3 272h0M457.9 270.7h0M460.1 269.1h0M461.1 268.9h0M453.5 268.2h0M456.7 263.6h0M460.8 267.9h0M458.6 266.4h0M461.3 268.3h0M456.1 263.5h0M459.3 260.4h0M461.7 263h0M460.9 265.8h0M459.7 263h0M460.7 262.2h0M461.5 262.2h0M459.3 261.1h0M462.9 263.4h0M461.1 260.7h0M462.2 258h0M465 258.3h0M461.4 257.2h0M465.4 259.8h0M461.9 252.8h0M437.8 259.3h0M460.7 253.2h0M460.9 255.4h0M460.8 251.2h0M463 251.4h0M458.9 254.7h0M460 253h0M462.4 247.1h0M457.6 249.4h0M465.2 249.1h0M459.3 250.6h0M460.4 249.6h0M463.7 248.1h0M459.7 245.8h0M459.9 246.8h0M462.1 244.9h0M461.4 244.8h0M463.1 244.8h0M459.5 243.5h0M457.3 244.7h0M456.9 240.4h0M456.9 240.3h0M455.9 244h0M465.5 240.4h0M459.9 239h0M456.2 240.1h0M457.4 239.1h0M453.4 241.3h0M459.5 237.6h0M457.2 238.1h0M454.5 234.9h0M456.2 237.6h0M460.3 237.6h0M455.6 232.8h0M456.7 233.2h0M455 232.9h0M452.4 235.6h0M448.7 235.9h0M455.7 233.9h0M454.4 230.2h0M455.3 231.3h0M457.6 232.3h0M451.6 233.7h0M455.1 229.1h0M448.6 229.4h0M456.4 228.2h0M456.4 228.9h0M455.7 225.2h0M452.1 227.2h0M448.4 227.5h0M455.5 224.9h0M452.5 224h0M433.6 230.7h0M456.6 222.1h0M452.4 222.1h0M440.2 225.9h0M449.7 220.8h0M453.4 220.4h0M448 221.8h0M455.1 218.3h0M455.2 216.9h0M450 219h0M451.5 217.4h0M448.9 216.3h0M452.9 213.8h0M447.7 216.6h0M451.6 214.9h0M446.1 215.5h0M450.5 211.9h0M448.5 209.2h0M444.7 215h0M441.3 215.5h0M437.4 217.8h0M443.9 212h0M446.2 208.9h0M450.1 210h0M445.3 208.3h0M446.7 208.6h0M449.5 204.9h0M446.2 207.6h0M448.1 203.3h0M445.6 205.7h0M442.8 204.8h0M445.1 205.1h0M444.3 204.8h0M447.2 200.2h0M432.1 207.2h0M445.4 203.8h0M439.7 203.6h0M443.6 197.5h0M442.5 198.9h0M441 198.8h0M444.9 198.3h0M440 198.8h0M446.5 195.5h0M442.2 198.9h0M441.1 198.4h0M440.3 198.2h0M431.3 197.2h0M440.9 195.2h0M440.1 195.5h0M438 197h0M437.8 191.4h0M434.3 194.7h0M437.8 190.3h0M438.9 191.3h0M432.8 190.4h0M435.2 190.3h0M439.1 189.1h0M437.1 188.8h0M439 185.6h0M435.9 186h0M434.1 185.3h0M440 186.2h0M433.7 185.1h0M438.6 183.6h0M437.8 184.2h0M434.7 184.9h0M437.3 182.8h0M433.8 179.4h0M431.2 182.2h0M434.4 180.9h0M436.8 181.1h0M431.6 180.7h0M432.5 178h0M426.2 182h0M435.1 178.4h0M433.3 177.7h0M438 174h0M432.7 176h0M434 174.7h0M436.2 174.1h0M436.3 174.1h0M430.6 173.3h0M435 172h0M431.1 173.3h0M436.9 173.5h0M433.1 169.6h0M431.3 172.3h0M427 173.8h0M436.8 169.8h0M433.9 167.1h0M432.2 169.5h0M432.6 166.8h0M428.4 167.5h0M433.6 166.4h0M430.9 167.8h0M430.8 164.3h0M429 163.1h0M433.3 162.5h0M433.6 160.2h0M429.1 161.4h0M429.9 161.7h0M422.1 160.5h0M431.8 160.7h0M431.7 160.1h0M430 157.2h0M429.1 156.1h0M429.1 157.3h0M432.4 155.4h0M431.4 154.5h0M429.1 154.5h0M436.5 151.7h0M429.4 152.9h0M429.7 154.5h0M430.9 153.2h0M429.7 151.1h0M429.9 150.1h0M430.6 150.1h0M430.8 151.4h0M433.1 149.1h0M431.3 150.5h0M432.3 150.5h0" stroke="#ffff33" stroke-width="3.5" stroke-linecap="round" stroke-opacity="0.88" fill="none"/>
<path d="M411 253.3L412.4 252.5L414.7 251.7L417.4 251.2L420 251.1L421.9 251.2L423.5 251.7L425 252.5L426.2 253.5L427.1 254.6L427.6 255.7L427.8 257.4L427.6 259.7L427 262.4L426.1 265L425.3 266.9L424.3 268.4L423 269.8L421.6 270.9L420.2 271.7L419.1 272.2L418.2 272.3L417.1 272.1L416 271.7L414.9 271.1L413.9 270.3L412.8 269L411.6 267.2L410.6 265.1L409.8 263.1L409.4 261.3L409.2 259.4L409.3 257.4L409.7 255.6L410.3 254.1Z" fill="#ffff33" fill-opacity="0.9"/>
<path d="M411 254.5h0M409.5 251h0M410.9 251.8h0M410.9 247.7h0M412.6 253h0M412.3 252.2h0M412.7 252h0M413.7 248.3h0M415.9 245.6h0M415 251.4h0M414.4 250.6h0M413.2 245.6h0M416.6 250h0M417.2 242.8h0M420.2 251.9h0M418.2 252.3h0M417.6 250h0M417.8 248.3h0M419.7 250.7h0M419.8 245h0M422.5 243.3h0M420.9 251.3h0M424.1 248.7h0M424.7 247.3h0M421.5 251.4h0M425 247h0M424 250.6h0M426 247.9h0M428 246.6h0M425.4 249.1h0M426 252.8h0M424.5 251.1h0M429.2 250.2h0M431.2 249h0M428.8 255.3h0M431.1 253h0M429 252.8h0M430.2 255.8h0M426.9 256.4h0M430.2 256.7h0M428.9 255.7h0M438.8 254.1h0M430.1 260h0M430.9 257.5h0M430.1 256.4h0M425.1 257.2h0M430.5 261.6h0M435.9 264.3h0M429.5 261.3h0M429.5 259.3h0M426.4 259.8h0M426.9 262.1h0M432.6 263.1h0M436.4 265h0M431.8 263.6h0M423.6 264.6h0M426.6 265.9h0M426 267h0M423.9 265.8h0M430.3 268.3h0M425.3 270.6h0M425.4 267.2h0M423.3 267.1h0M426.1 267.3h0M424.6 270.1h0M424.8 271.2h0M426.2 271.4h0M427.1 278.4h0M423.5 272h0M423.1 269.9h0M425 275.6h0M422.2 270.9h0M424.3 274.4h0M421 274.2h0M421 271.2h0M421.2 274.1h0M420.5 273.3h0M420.1 280.7h0M417.6 273.1h0M418.1 272.8h0M416.5 275.9h0M417.2 271h0M411.7 273.8h0M415.6 268.7h0M415.1 275.6h0M412.2 270.5h0M413.1 272.6h0M410.2 275.1h0M412 269.5h0M410.2 272.5h0M413.3 270.6h0M411.9 270.4h0M413.5 268.5h0M409.9 270.4h0M410.5 266.6h0M408.6 268.2h0M409.6 268.3h0M404.7 268h0M407.5 265h0M407.9 265.6h0M407.9 265.8h0M404.3 263.2h0M407.3 263.3h0M395.2 265.7h0M406.7 261.6h0M397.9 260.6h0M402.7 260h0M404.8 262h0M409.5 256.9h0M405.5 260.2h0M408.9 259.9h0M411.5 255.1h0M405.9 256.1h0M404.8 258.2h0M404.7 252.4h0M410.5 254.7h0M407.4 253.3h0M408.3 251.3h0M408.6 251.5h0M409.4 251.8h0" stroke="#ffff33" stroke-width="3.5" stroke-linecap="round" stroke-opacity="0.88" fill="none"/>
<path d="M355.4 233.8h0M352.1 228.7h0M341.5 239.3h0M353.5 233.5h0M353.5 253.1h0M353.2 233.7h0M343.3 244.8h0M340.9 239.3h0M349.9 251.5h0M340.1 251.1h0M355.2 232.3h0M353.5 251.4h0M362.5 235.5h0M348.5 228.2h0M346.6 236.9h0M362.7 248h0M344.3 243.4h0M351.8 236.3h0M364.1 254.4h0M353.1 251.6h0M354.9 235.3h0M352.5 256.8h0M359.5 231.2h0M348.1 258.8h0M355.7 239h0M348.7 229h0M344.3 240.5h0M356.7 248.8h0M346.5 254.9h0M343.7 236.6h0M339.9 242.9h0M355.2 245.3h0M348.8 253.6h0M348.2 241.5h0M345.8 241.8h0M341.2 238.7h0M353.3 234.6h0M359.2 242h0M360.5 253.6h0M351.1 242.1h0M347.4 236.2h0M345 235.8h0M342.1 237.4h0M351 244.2h0M348.7 259.4h0M353.1 243.9h0M362.1 247.8h0M354.9 230.2h0M342.4 230.8h0M353.5 259h0M344.7 243.7h0" stroke="#ffff33" stroke-width="3.5" stroke-linecap="round" stroke-opacity="0.88" fill="none"/>
<path d="M371 150.5L372.8 149.7L375.1 148.9L377.6 148.4L380.1 148.1L382.4 148.2L384.5 148.8L386.8 149.9L389.3 151.4L392 153L394.7 154.5L397.4 155.9L400 157.3L402.7 158.6L405.4 160L408.1 161.2L411 162.4L413.8 163.4L416.6 164.3L419 165.3L421 166.4L422.8 167.6L424.4 168.9L425.7 170.3L426.9 171.7L427.9 173.2L428.6 174.7L429.1 176.4L429.4 178.4L429.8 180.6L430.3 183L430.8 185.4L431.2 188L431.7 190.8L432.3 193.5L432.9 196.3L433.8 199.2L434.7 202L435.7 204.6L436.4 207L436.8 209.2L437 211.3L437 213.2L436.8 214.9L436.4 216.6L435.8 218.2L434.8 219.8L433.5 221.5L431.8 223.3L430.1 225L428.4 226.6L426.9 228.1L425.5 229.4L424 230.6L422.5 231.7L420.9 232.9L419.1 234L417 235.1L414.6 236.3L412.2 237.9L409.8 239.9L407.8 242.4L406 245.2L404.3 248.1L402.8 251L401.4 253.9L400.2 256.8L399.2 259.7L398.4 262.3L397.5 264.7L396.4 266.7L394.8 268.6L392.9 270.5L390.8 272.3L388.7 273.8L386.7 275.1L384.7 276.2L382.6 277.1L380.8 277.7L379.5 277.9L379 277.8L378.4 277.1L377.5 275.4L376.6 272.9L375.7 270.2L374.9 267.5L374.3 265.2L373.9 262.9L373.5 260.4L373 257.6L372.3 254.4L371.5 250.9L370.5 246.9L369.5 242.8L368.3 238.5L367 234.4L365.5 230.2L363.8 226.1L362.1 222.1L360.5 218.2L359 214.5L357.7 210.8L356.4 207.4L355.2 204.1L354.4 201L353.9 198.1L353.9 195.1L354.3 192.2L354.9 189.2L355.6 186.1L356.5 183.2L357.3 180.6L358.3 178L359.4 175.5L360.5 172.9L361.6 170.3L362.7 167.5L363.8 164.7L364.8 162L365.8 159.4L366.9 157.2L367.8 155.2L368.6 153.5L369.3 152.2L370 151.3Z" fill="#4daf4a" fill-opacity="0.9"/>
<path d="M369 142.5h0M371.3 145.2h0M362.1 130.3h0M370.2 136.6h0M373.9 148.4h0M372.2 147.2h0M374.9 147.7h0M376.1 147.1h0M374.9 149.1h0M376.9 142.7h0M376.2 147.7h0M374.2 143.7h0M377.2 142.5h0M379.5 137.1h0M380.6 144.3h0M376.9 147.7h0M382.3 143.2h0M381.5 141.5h0M379.6 143.1h0M379.8 144.1h0M385.4 132.7h0M382.8 146.6h0M384.3 147.7h0M385.5 144.7h0M388.2 142.1h0M388.6 142.7h0M387.5 146.8h0M385.7 151.1h0M389.9 147.8h0M389.2 146.3h0M390.2 148.4h0M394.1 141.3h0M389.8 148.3h0M391.6 151.9h0M393.1 150.4h0M389.7 149.3h0M390.7 146.8h0M390.7 148.8h0M394.9 152.8h0M393.9 154.9h0M394 151.8h0M394 155h0M397.6 153.6h0M398.2 150.3h0M396.3 154.9h0M398.6 151.6h0M399 149.2h0M399 151.5h0M398.3 156h0M399.8 155.8h0M398.8 155.4h0M400.4 158.6h0M402.6 155.5h0M400.9 160.4h0M400.7 159.2h0M399.9 158.2h0M403.2 158.6h0M408 154.7h0M407 153.7h0M407.7 156.3h0M405.9 160.7h0M407.5 160.7h0M410.3 157.3h0M409.8 151.9h0M410.4 160h0M412.3 159.8h0M417.7 143.4h0M410.7 160.1h0M414.2 160h0M413 162.4h0M415 157.3h0M410.3 164.9h0M415.6 161.4h0M417.3 158.7h0M413.4 164h0M418.8 152.4h0M417 159.9h0M418.2 165h0M427.9 139.5h0M416.6 163.4h0M418.1 162.6h0M419.1 163h0M419.5 164.6h0M419.6 163.5h0M429.5 150.4h0M423.2 164.5h0M422.3 166h0M424.7 164.4h0M428.7 157.9h0M421.6 168.7h0M425.3 165.2h0M424.5 169.9h0M423.8 167.2h0M429.1 162.9h0M426.1 167.1h0M424.7 170h0M424 170.5h0M428.5 168.1h0M427.2 166.9h0M426.9 168.4h0M424.4 170.7h0M426.9 171.5h0M428.7 170h0M426.9 172.6h0M423.8 173.3h0M430.4 171.9h0M430.6 173.6h0M434.7 172.4h0M431.6 173.8h0M433.5 172.7h0M433.4 174h0M432.8 176h0M430.4 178h0M430.2 175.8h0M432.7 178.4h0M431.2 179.2h0M431.4 179.6h0M431.1 182.1h0M427.6 183.1h0M433.7 183.8h0M436.5 183.9h0M431.6 185.3h0M430.3 183.4h0M434.9 183.4h0M434.4 183.5h0M431.7 186.7h0M433.8 186.8h0M429.7 187.4h0M432.2 189.1h0M435.2 187.6h0M431.3 188.9h0M435.6 189.2h0M432.5 192.6h0M437.4 190.3h0M432.9 190.2h0M438.5 192.9h0M434.1 193.9h0M433.4 193.8h0M439.8 191.9h0M433.6 195.4h0M438 194.5h0M433.2 198.9h0M435 198.8h0M430.7 197.8h0M435.2 196.1h0M440.6 198.2h0M434.4 199.2h0M437.6 198.9h0M437.3 199.4h0M437.6 203.4h0M437.9 203.9h0M442.3 198.8h0M440.9 203.1h0M441 205.2h0M438.3 206.2h0M445.4 204h0M437.6 206.2h0M443.1 206.3h0M436.6 208.4h0M452.8 205.6h0M451.4 205.2h0M440.2 208.8h0M452 210.4h0M437 210.2h0M443.7 210.6h0M436 212.6h0M438.8 212.5h0M438 212.2h0M441 216h0M440.2 214.6h0M439.9 214.2h0M438.4 215.7h0M439.6 217.2h0M439.4 217.5h0M439.4 218h0M437.4 217.1h0M438.8 216.2h0M439.7 218h0M435.5 218.5h0M437.8 221h0M432.5 217.2h0M433.3 218.7h0M435 223.1h0M435.4 223h0M432.7 223.6h0M434.6 224.3h0M438.3 225.4h0M431 220.1h0M431.8 226.7h0M447.5 239.4h0M431.1 224.4h0M433.6 229.8h0M433.3 226.6h0M431.7 227.7h0M428.1 227.3h0M430.7 230.4h0M434.8 234h0M426.8 230.5h0M427.1 231.2h0M428.7 232.8h0M435.8 241.6h0M427.6 231.3h0M428.1 231.6h0M421.4 231.9h0M424.6 232.9h0M424.5 233.5h0M425.3 236.3h0M424.5 236.3h0M424.1 233.1h0M419.1 235.8h0M419.5 233.8h0M420 232.1h0M418.5 236h0M418.5 236.3h0M418.5 236.6h0M415.7 237h0M415.1 236.4h0M417.3 237.4h0M414.9 239.6h0M414.6 241h0M415.8 241.2h0M414.1 239.3h0M413.4 237.4h0M412.4 239.1h0M409.5 240.2h0M415.5 246.2h0M411.2 240h0M408.5 241.6h0M411.2 242.8h0M409.8 243.4h0M411 243.5h0M408.3 244.7h0M407.4 245.2h0M409.8 245.5h0M408.9 244h0M417.9 252h0M409.8 249.1h0M408 248.5h0M408 248.7h0M404.8 247h0M402.4 248.2h0M404.7 250.8h0M405.4 250.6h0M404.9 248.1h0M405.8 253.7h0M402.9 253.4h0M405.2 254.1h0M403.7 250.9h0M404.9 253.6h0M404.5 257.2h0M401.7 254.9h0M400.1 254.1h0M403.1 256.3h0M400.5 255.3h0M407.9 259.9h0M399.7 258.8h0M403.5 257.7h0M400.1 259.3h0M402.3 257.9h0M399.9 260.3h0M397 259.9h0M403.1 263.3h0M403.3 263.2h0M398.3 264.5h0M398.3 265.5h0M400.6 264.1h0M399.8 264.7h0M397.1 267.6h0M401.4 268.4h0M398 264.3h0M413.6 273.2h0M397.8 267.6h0M397.6 268.1h0M400.4 269.4h0M399.1 268.2h0M398.4 268.6h0M396.9 268.4h0M393.8 269.4h0M396.3 272.5h0M397 272.1h0M395.5 269.5h0M394.2 271.9h0M394.9 273.8h0M393 272.5h0M392.6 273.4h0M390.2 269.1h0M391.7 276.6h0M390.6 276.5h0M389.7 276.1h0M390.4 276.5h0M390.4 276.3h0M389.4 275.6h0M389.7 274.1h0M391.2 277.9h0M390.8 276.6h0M386.4 276.3h0M386.8 279.8h0M390.5 284.8h0M385.2 278.8h0M388.1 287.9h0M390.6 289.9h0M386.6 281.3h0M384.4 276.4h0M384.4 286.8h0M381.7 286.4h0M382.2 280.6h0M382.6 279.5h0M381.1 281.3h0M379.8 280h0M376 282.1h0M378.3 281.6h0M376.4 280.6h0M376.2 280h0M377.8 278.6h0M379.3 276.5h0M378.6 276.7h0M374.9 277.8h0M371 275.2h0M371.8 275.5h0M376.3 273.9h0M376.6 274.1h0M362 275h0M376.2 272.7h0M370.7 272.6h0M372.8 272.6h0M374.7 271.3h0M372.6 268.3h0M373.8 267.4h0M369.5 271.3h0M373.2 268.3h0M370.3 271h0M366.7 267.9h0M373.7 267.5h0M369.9 267.7h0M376.2 265.2h0M372.7 264.7h0M372.6 265.2h0M365.1 267.8h0M372.1 261.4h0M375.3 261.3h0M373 260.9h0M371 262.1h0M351.5 264.2h0M371.8 260.2h0M373 258.7h0M369.6 261.3h0M368.5 256.2h0M370.5 255.8h0M370.8 256.9h0M370.9 256.1h0M372 255.1h0M364.5 255.5h0M366.7 255h0M367.3 251.8h0M369 252.3h0M371.8 251.7h0M369 253.2h0M365.4 249.5h0M371.4 248.3h0M369.1 250.2h0M370.2 247.9h0M368.1 246.4h0M368.8 249.7h0M369.8 243.8h0M361.3 247.8h0M367.8 246.2h0M369.3 247.3h0M373.6 246.8h0M371 245h0M362 244.4h0M367.9 241.6h0M362.6 242.8h0M368.7 240.4h0M369.2 242.2h0M367 239.8h0M359.3 243h0M367 235.7h0M359.8 239.8h0M367.1 233.8h0M364.2 236.4h0M365.2 239.4h0M368.6 234.1h0M364.4 232.8h0M360.8 232.8h0M364.8 235.6h0M364 235h0M363.8 233.4h0M366.2 231.1h0M366.2 228.6h0M365 225.5h0M363.1 227.4h0M360.8 230.6h0M359 230.3h0M364.1 230.8h0M359.3 229.7h0M347.9 232.6h0M361.9 222.1h0M360.5 225.5h0M359.6 223.4h0M354.6 227h0M360.3 224.6h0M361.2 227.3h0M362.2 220.9h0M357.5 221.6h0M362.6 221.7h0M358.9 219.3h0M360.9 221.6h0M357.9 220.7h0M359.2 219.3h0M357.5 215.3h0M356.9 216h0M357.9 216.9h0M344.2 223.4h0M354.7 216.9h0M354.1 211.5h0M354.8 215.7h0M358.5 213.5h0M356.4 213.8h0M358.8 212.9h0M352.2 215.3h0M354.9 210.1h0M351.3 211.2h0M355.4 209.8h0M353.8 209.9h0M353.9 207.2h0M356 206.8h0M354.2 205.9h0M354.4 209.5h0M356.8 207.1h0M355.1 203.9h0M359.9 200.5h0M351.3 204.6h0M354 205.5h0M351.9 201.5h0M350.2 202.3h0M353.4 201.3h0M351.5 199.5h0M353.2 200.8h0M350.8 200.8h0M353.6 199.6h0M344.7 196.5h0M353.5 197.9h0M352.4 198h0M350.3 195.6h0M351.9 196h0M352 192.6h0M355.7 195.7h0M348.2 192.7h0M351.7 192.2h0M351.8 194.9h0M347.5 189.4h0M357.1 190.4h0M352.4 189.9h0M350.5 189.9h0M349.3 191.1h0M352.3 188h0M348.5 185.2h0M352.6 187h0M354 189.1h0M348.7 185.9h0M351.6 184.1h0M355.1 185.6h0M356.8 183.2h0M353 182.4h0M360.3 182.1h0M354.3 179.9h0M356.5 179.8h0M355 182.2h0M354.3 179.6h0M356.1 177.9h0M357.2 178h0M353.1 179.3h0M350.9 177.5h0M352.8 174.2h0M347.1 171.6h0M359.2 177.8h0M358.2 175.4h0M360.5 175.3h0M358.7 173.2h0M357.6 175.1h0M356.6 173.3h0M360.4 170.1h0M357.4 171.1h0M354.6 169.4h0M358.2 172.3h0M364.1 168.5h0M359.1 167.5h0M358.7 168.2h0M361.6 171.6h0M353.4 163.9h0M361.5 165.4h0M365.2 166.3h0M359.1 165.4h0M362.5 165.8h0M360.3 161.6h0M364.8 163.5h0M364.7 163.7h0M364 164.4h0M359.7 161.7h0M366 160.2h0M358.6 158.4h0M360.6 159.9h0M347.2 155.6h0M364.1 158.2h0M346.6 148.9h0M364.8 158h0M361.1 156.8h0M366.6 155.3h0M365.4 156.7h0M369.9 158.3h0M367.8 154.2h0M368.5 153.6h0M367.2 153h0M369 152.8h0M365.3 152.1h0M368.6 151.1h0M368 150.7h0M368.9 147.4h0M368.9 149.5h0M369.8 150.2h0" stroke="#4daf4a" stroke-width="3.5" stroke-linecap="round" stroke-opacity="0.88" fill="none"/>
<path d="M444.6 188.3h0M423.6 154h0M449.1 204.3h0M443.3 165.3h0M447.8 162.2h0M431.2 166.6h0M448 165.4h0M444.9 203.8h0M435.9 155.8h0M455.7 201.5h0M433 152.8h0M435.5 171.7h0M436.1 146.5h0M426.1 153.2h0M454.5 162.3h0M441 205.5h0M443.8 157.2h0M443.4 166.5h0M431.6 173.7h0M434.7 227.5h0M450.2 191.6h0M451.5 161.9h0M451.3 199.3h0M436.4 213.2h0M447 155.6h0M448.7 183h0M447.4 188.1h0M448.3 223.8h0M448.1 186.8h0M443.9 161.3h0M452.5 206.3h0M447.9 163.6h0M443 202.6h0M446 183.1h0M432.6 186.7h0M444.8 157.3h0M446.2 224.5h0M436.6 220.1h0M443.1 174.4h0M453.9 213.5h0M425.6 163.3h0M433.6 158h0M435.2 232.5h0M446.3 160.2h0M425.8 153h0M429.5 167h0M451.5 159h0M435.4 175.4h0M436.8 186.5h0M446.4 163.1h0M454 211.2h0M441.2 173.9h0M441.2 202.5h0M435.5 164.5h0M435 210.2h0M431.5 215.1h0M436.7 194.8h0M445.3 209.6h0M451.6 172.6h0M453.1 198.2h0M450.6 175h0M445 178.7h0M432.9 180.3h0M454 226.7h0M439.7 197.7h0M429.8 153.2h0M440.7 225.5h0M440.5 204h0M432.7 177.1h0M427 162.7h0M433.2 184.5h0M446.3 172.4h0M435.3 207.4h0M447.9 153.8h0M444.1 167.6h0M440.4 223.1h0M443.3 165.5h0M423 173.6h0M440.3 198.3h0M444.9 180.3h0M448.2 219.8h0M447.1 164.2h0M453.6 211.6h0M435.8 148.7h0M435.4 175.8h0M440.7 181.6h0M445.1 186.9h0M445 155.4h0M439.7 202h0M425.4 155.5h0M449.5 212.1h0M448.3 211.2h0M438.8 231.3h0M432.1 184.8h0M438.3 158.5h0M426.1 164.5h0M443.2 229.6h0M441.5 171.5h0M447.5 181h0M448.8 213.6h0M438.9 233.3h0M451.2 226.1h0M438.7 195.9h0M439.6 222.6h0M442.6 186.9h0M433.5 208.5h0M447.4 227.7h0M438.2 232.2h0M447.5 174.8h0M442.9 156.4h0M444.8 153.6h0M445.6 209h0M439.4 232.2h0M439.1 180.1h0M443.7 171.5h0M444 213.7h0M432.8 160.9h0M445.2 191.2h0M434.1 170.4h0M448.6 204.5h0M435.5 189.6h0M441.9 223.8h0M456.9 202.7h0M443.4 177.4h0M446.4 201.5h0M444.2 168.3h0M434.2 175.3h0M444.9 229.3h0M425 186.6h0M448.7 167.4h0M444.1 216.2h0M443.5 230.9h0M424.3 172h0M445 216.4h0M434.9 174.5h0M451.6 183.7h0M447.4 181.6h0M444.1 215.4h0M440.4 163.1h0M440.5 177.8h0M429 175.3h0M456.5 206.3h0M433.2 222h0" stroke="#4daf4a" stroke-width="3.5" stroke-linecap="round" stroke-opacity="0.88" fill="none"/>
<path d="M427.4 243.4L428.6 242.1L430.2 240.8L432.1 239.7L434.3 238.7L436.5 237.9L438.9 237.2L441.5 236.7L444 236.3L446.3 236.3L448 236.6L449.4 237.3L450.8 238.3L452.1 239.6L453.2 241.3L454.2 243.1L455.1 245.1L455.7 247.4L456.2 249.9L456.5 252.6L456.6 255L456.4 257.3L456 259.8L455.4 262.3L454.7 265L454 267.7L453.5 270.4L453 273L452.5 275.7L452 278.2L451.4 280.8L450.7 283.4L450 285.9L449.1 288.6L448.3 291.2L447.5 293.9L446.7 296.6L445.8 299.5L445 302.3L444.2 304.8L443.5 307.1L443 308.8L442.7 310L442.5 310.8L442.2 311.5L441.3 312.9L439.8 314.8L437.8 317.2L435.5 319.8L433.2 322.2L431.1 324.3L429.1 326.1L427.1 327.7L425 329.2L423 330.6L420.9 331.9L418.8 333.3L416.6 334.7L414.7 335.8L413 336.6L411.8 336.8L410.8 336.6L409.7 336.2L408.6 335.4L407.4 334.3L406.3 332.8L405.3 330.8L404.3 328.1L403.3 325L402.3 321.8L401.3 318.7L400 316L398.6 313.5L397.4 311.4L396.6 309.4L396.2 307.5L396 305.3L396.1 302.8L396.5 300.4L397.3 298.2L398.3 296.3L399.9 294.5L402.2 292.7L404.9 291L407.8 289.3L410.3 288L412.8 287.2L415.5 286.7L418.5 286.2L421.6 285.3L424.4 283.4L426.3 280.6L427.2 277.5L427.7 274.3L427.9 271.1L427.9 268.1L427.6 265.1L426.8 262.3L426.1 259.6L425.5 257.2L425.2 255L425.3 252.5L425.5 249.8L425.9 247.3L426.6 245.1Z" fill="#fc8d62" fill-opacity="0.9"/>
<path d="M425.3 239.5h0M424 238.5h0M423.8 237.7h0M426.2 240.9h0M430 242h0M426 236.5h0M429 239.8h0M432.6 242.6h0M430.2 237.2h0M421.8 222.6h0M423.7 228.9h0M427.2 232.2h0M431.3 234.2h0M430.2 231h0M432 239.6h0M432.3 233.9h0M431.5 226.1h0M433.6 235.9h0M434.3 239.3h0M436.9 234.5h0M439.1 237.9h0M437.3 234.7h0M436.9 235.2h0M440.7 239.3h0M438.4 234.2h0M438.7 227.4h0M440.7 233h0M441.5 238.6h0M442.7 233.3h0M441.4 235.3h0M446 237.7h0M445.6 232.6h0M446.1 235.9h0M443.8 235.7h0M444.8 235.9h0M448.9 236.5h0M447.9 234.7h0M448.3 233h0M448.3 227.7h0M449.3 233.4h0M449.4 234.4h0M449.7 234h0M451.2 239.3h0M450 238.8h0M451.5 239.1h0M450.3 236.5h0M454.2 233.8h0M452.5 236.7h0M456.3 234.6h0M461.7 235.5h0M454.4 238.2h0M453.9 240.6h0M454.8 240.1h0M455.3 240.7h0M453.8 242.1h0M454.5 241.3h0M453.2 242.6h0M457.4 241.8h0M454.4 243.8h0M455.6 245h0M453.3 242.1h0M456.3 245.9h0M464.9 242.2h0M459.1 246.4h0M458.5 244.9h0M475.4 244.9h0M457.5 246.9h0M455.2 249.1h0M452.7 246.9h0M456.4 252.6h0M460.2 250.4h0M460.3 251.5h0M461.7 251.8h0M459.7 254.4h0M457.9 254.1h0M460.2 251.9h0M456.9 254.4h0M457.4 255.7h0M461.5 257h0M459 256.1h0M457.8 256.3h0M454.2 257.1h0M459.8 260.9h0M459.9 259.2h0M458.4 258h0M460.5 262.3h0M454.9 260.2h0M457.4 262h0M456.5 260h0M456.3 266.2h0M456.5 263.7h0M465.6 265.1h0M459.6 263.7h0M454.5 266h0M457 267.9h0M457.2 268.4h0M454.9 266.2h0M450 268.7h0M453.7 269.8h0M455.9 270.7h0M459.6 270.4h0M455 272.5h0M452.7 273.2h0M455.6 271.9h0M457.6 273.6h0M454.6 272.9h0M457.1 277.4h0M456.8 274.5h0M456.8 275.2h0M452.4 276h0M455.5 278.6h0M459.4 276.1h0M455.1 278.7h0M465 282.4h0M454.5 279.3h0M455.4 279.9h0M450.9 278.7h0M449.7 282.5h0M453.3 283.3h0M458.1 284.5h0M452.6 282.3h0M448.1 284.1h0M448.7 285.6h0M453.1 286.5h0M451.6 285.3h0M458.2 290.7h0M455.7 288.9h0M459.7 289.7h0M453.8 290.6h0M447.5 290.2h0M450.5 289.7h0M449.4 289.2h0M452.1 291h0M449.3 291.8h0M449.7 292.7h0M451.5 294.9h0M453 293.3h0M448.4 295.2h0M443.9 294.5h0M451 297.4h0M448.1 295.1h0M450.8 298.1h0M450.6 299.6h0M448.8 300h0M448.5 297.5h0M447.3 296.8h0M449.4 300.8h0M444.7 302h0M445.9 301.9h0M450.4 301.6h0M446.6 301.2h0M449.7 305.5h0M443.2 303.6h0M443.2 303h0M449.2 305h0M441.4 304.3h0M448.7 308h0M449.9 305.8h0M441.2 306.3h0M445.5 307.8h0M441.2 307.1h0M445.1 309.9h0M448.6 311.5h0M448.1 311.8h0M443.3 311.8h0M452.2 315h0M444.9 313h0M453.6 319.7h0M446 319.4h0M441.3 314.7h0M441.1 314.2h0M440.2 312.5h0M438.5 315.2h0M441.5 319.2h0M442.8 320.9h0M440 318.6h0M445.6 320.6h0M438 319.1h0M437.7 319.3h0M439 322.2h0M437.7 317.5h0M436.2 318.7h0M433.9 324.1h0M442.3 327.3h0M446.8 330.2h0M433.1 324h0M437.3 323.3h0M428.8 321.6h0M434.5 327.4h0M431.1 324.2h0M439.2 331.1h0M436.5 325.8h0M437.1 330.7h0M436.1 330.5h0M433.2 330.7h0M430.7 326h0M429.4 329.6h0M432 330.6h0M429.5 328.1h0M427.8 328.3h0M425.2 327.2h0M428.6 330.6h0M426.8 330.1h0M426 331h0M426.2 332.3h0M425.9 330.2h0M423 329.2h0M425.1 331.8h0M420.6 329.1h0M421.1 330.2h0M424 338.5h0M423.1 333.9h0M421.5 335.7h0M419.5 333.1h0M420 336.2h0M418.1 335.2h0M415.7 333.7h0M417.2 335.3h0M417.6 334h0M419.8 339.1h0M418.1 341.2h0M419.6 343.5h0M417.3 336.6h0M415.7 337.6h0M417.1 336.8h0M414.8 339.8h0M411.9 337.1h0M414.7 337.4h0M411.9 337.6h0M410.6 336.9h0M412.5 338.4h0M410.2 338.6h0M409.4 338.5h0M409.3 335.7h0M409 338.4h0M409.1 333.5h0M405.9 336.5h0M407.3 337.1h0M407.9 333h0M398.6 339.6h0M403.5 334.9h0M404.6 332.5h0M404.3 333.7h0M402.4 332.4h0M401.4 334.9h0M403 327.9h0M396.2 333.4h0M406.6 330.3h0M389.8 334.3h0M403.3 329.2h0M401.8 326.8h0M402 327.1h0M397.7 329h0M401.9 326.1h0M406.1 327.5h0M399.7 324.6h0M397.1 324.4h0M399.7 325.6h0M401.4 325.3h0M397.7 325.8h0M403 320.3h0M399.6 321.5h0M400.4 320.9h0M399.8 323.2h0M400.2 322.3h0M399.1 314.8h0M394.6 319.2h0M400 318.1h0M399.5 318.2h0M397.9 319.1h0M399 314.7h0M395.7 318.5h0M398.4 315.3h0M394.5 316h0M397.7 311.3h0M398 314.3h0M395.8 315.1h0M397.3 312.1h0M398 311.4h0M395.9 312h0M398.6 309.9h0M395.8 311.3h0M394 308.2h0M394 311h0M391.2 309.7h0M396.7 309.7h0M395.5 306.4h0M391.9 306.8h0M395.6 307.1h0M394 304.9h0M396.3 303.2h0M395.2 305.6h0M394.7 304.4h0M393 306.1h0M397.1 304.4h0M390.3 300.8h0M384.7 299.9h0M395.4 302.8h0M398.3 301.3h0M400.2 300h0M396.7 299.3h0M396.5 299.2h0M395.9 295.1h0M391.4 291.9h0M395.5 295.8h0M399.1 297.8h0M399.9 294.6h0M396.4 291.4h0M393.7 288.9h0M388.7 287.1h0M382 282h0M399 295.5h0M403.5 293.8h0M396.9 292.1h0M398.3 292h0M399.2 293.8h0M402 288.1h0M403.5 289h0M402.7 289.3h0M405.3 288.3h0M403 293.9h0M403 287.6h0M406.1 285.2h0M403.8 284.4h0M405.7 287.4h0M406.1 290.1h0M410.7 286.8h0M409.1 287h0M409.5 288.6h0M406 283.3h0M406.9 289.3h0M407.1 278.8h0M408.4 283.9h0M409.2 285.8h0M408.8 282.8h0M407.9 281.7h0M412.4 283.4h0M412.7 281.5h0M415.6 282.5h0M413 288.7h0M413.6 285.3h0M416.8 282.3h0M415.2 283.1h0M416 280.4h0M417.6 291.2h0M416.4 287h0M415.2 262.2h0M419.6 286.7h0M421.1 285.7h0M414.6 265.9h0M422.9 282.5h0M423.7 284.2h0M417.5 277.4h0M422 279.8h0M425.9 281.7h0M426.8 284.6h0M422 277.2h0M419 277.5h0M424.6 278.5h0M424.5 279.6h0M427.7 276.3h0M429.2 277.9h0M424.7 276.8h0M425.4 276.2h0M422.3 272.6h0M420.1 271.6h0M425.1 271.2h0M426.8 273.4h0M426.3 273.3h0M425 268.6h0M429.2 268.7h0M423.4 271.8h0M428 270.8h0M424.9 267.3h0M424.3 268h0M424.3 264.8h0M424.8 265.8h0M424 265.3h0M429.4 263.8h0M423.2 264.3h0M423.4 264.5h0M423.3 262.5h0M423.7 261.4h0M417.2 265.2h0M426.1 258.4h0M423.9 260.5h0M415.7 259.1h0M427 257.8h0M423.9 260.1h0M424.4 256h0M420.6 255.9h0M422.6 257.6h0M423.7 255.3h0M424.5 253h0M423.9 253.6h0M421.4 253.4h0M428 252.8h0M424.8 256h0M414.7 251.8h0M425.5 252.1h0M422.5 251.2h0M425.4 250.7h0M422.7 246.8h0M418.3 249.4h0M420.5 248.1h0M426.8 249.8h0M422 244.7h0M425.9 243.7h0M427.7 246.8h0M422.4 245.4h0M424.7 243.2h0M423.1 244h0M425.5 243.5h0M423.1 242.7h0" stroke="#fc8d62" stroke-width="3.5" stroke-linecap="round" stroke-opacity="0.88" fill="none"/>
<path d="M488.2 284.2L489.3 283.2L491.5 281.9L494.3 280.8L496.8 280.2L498.3 280.2L499.1 280.7L500.4 282.2L501.5 284.3L502.4 286.5L502.8 288.4L502.9 290.2L502.5 292.3L501.9 294.2L501.1 295.6L500.5 296.1L499.2 296.3L496.9 296.3L494.2 295.7L491.8 294.9L490.4 294L489.5 292.6L488.6 290.3L488 287.7L487.9 285.4Z" fill="#fc8d62" fill-opacity="0.9"/>
<path d="M487.5 285.2h0M485.8 281.3h0M490.3 285.3h0M487.2 282.4h0M487 280.6h0M489.2 280.5h0M491.2 284.3h0M488.6 283.3h0M489 282.3h0M491.1 280.5h0M491.4 280.7h0M492.7 283.2h0M489.7 278h0M491.1 277.3h0M494.8 279h0M494.3 276.3h0M495 278.9h0M494.9 276.9h0M496.1 281.8h0M497.4 281.7h0M496.1 277.5h0M497.8 280.2h0M498.4 278h0M501.4 277h0M499.4 283.4h0M509 274.3h0M498.2 280.3h0M501.7 279.1h0M500.7 280.3h0M502.6 281.8h0M503.7 280.4h0M502.1 282.8h0M502.9 285.1h0M504.6 285.1h0M506.1 284.1h0M503.8 282.1h0M503 283.3h0M506.4 286.9h0M511.3 284.2h0M503.8 287.9h0M506.1 289.3h0M507 288h0M505.7 289.2h0M509.3 289.9h0M508.6 292.7h0M502.5 291.7h0M503 292.8h0M505.2 290.8h0M509.4 294.9h0M503.4 294.2h0M502 292h0M504.3 292.7h0M504.3 295.4h0M506.1 296.1h0M505.1 295.3h0M502.5 298.4h0M499.6 298.4h0M503.2 296.5h0M497.6 294.9h0M499.9 301.2h0M501.2 295.4h0M495.6 294.9h0M497.2 303h0M498.6 299.2h0M497.9 301.7h0M495.6 303.6h0M495.9 299.1h0M493.7 300.2h0M494.5 297.7h0M496 295.3h0M491 299.8h0M490.2 295.8h0M491.4 297.4h0M490 301.2h0M491.7 293.5h0M488.8 296.1h0M487.5 301.2h0M492.2 290.5h0M489.5 293h0M486.3 298.2h0M486.7 296.2h0M486.8 296.6h0M478.8 294.7h0M486.3 291.8h0M487.4 292.1h0M489.8 290.2h0M488.5 292.1h0M487.5 289.3h0M483.6 288.9h0M484.3 289.1h0M492.7 287.5h0M485.1 289.3h0M489 286.2h0M487.8 286h0M484.8 284.6h0M489.6 283.6h0M483.6 287.3h0M480.1 283.5h0M475.7 281.2h0M489.9 284.8h0M483.1 284.9h0" stroke="#fc8d62" stroke-width="3.5" stroke-linecap="round" stroke-opacity="0.88" fill="none"/>
<path d="M153.6 327.6L155.2 324.7L157.2 321.5L159.5 318.3L162 315.3L164.7 312.8L167.7 310.8L171.1 309.1L174.9 307.6L179.2 305.9L184 303.9L189.4 301.4L195.4 298.6L201.7 295.8L207.7 293L213 290.7L217.5 288.5L221.4 286.4L224.8 284.7L227.8 283.5L230.6 283L233.4 283.1L236.2 283.8L239 284.9L242 286.4L244.8 287.9L247.4 289.5L249.9 291.5L252.4 293.7L255 296L257.7 298.2L260.5 300.4L263.4 302.4L266.1 304.4L268.5 306.4L270.5 308.4L272.1 310.6L273.4 313L274.6 315.5L275.6 318.1L276.6 320.8L277.5 323.3L278.3 325.6L278.9 327.8L279.2 330L279.1 332.7L278.4 336L277.2 339.9L275.7 344.1L274.1 348.1L272.7 351.7L271.4 354.6L270.2 356.9L268.8 359.2L267.5 361.8L266 365L264.8 368.9L263.6 373.1L262.5 377.3L261.2 381.1L259.7 384.4L257.6 387L255.1 389.5L252.2 391.9L249.2 394.5L246.6 397.3L244.6 400.3L243 403.3L241.7 406.1L240.6 408.8L239.6 411.2L238.8 413.5L238.3 415.5L237.8 417.2L237.4 418.9L236.9 420.7L236.3 423L235.8 425.4L235.3 427.4L234.7 428.9L233.9 429.9L232.5 430.6L230.3 431.3L227.8 431.8L225.2 432L222.8 431.9L220.8 431.4L218.6 430.4L216.2 429.1L213.2 427.7L209.8 426.7L205.9 426.3L201.9 426.3L198.1 426.4L194.6 426.2L191.7 425.5L189.2 424.1L186.6 422.2L184.2 419.9L181.9 417.3L179.8 414.6L178.2 411.9L176.8 408.8L175.5 405.3L174 401.6L172 397.6L169.5 393.7L166.6 389.7L163.7 385.7L161 381.8L158.9 378L157.4 374.3L156.3 370.6L155.4 366.8L154.6 362.8L153.9 358.9L153.1 354.9L152.4 350.7L151.8 346.7L151.4 342.9L151.3 339.6L151.3 336.7L151.5 334.3L151.9 332.2L152.5 330.1Z" fill="#e41a1c" fill-opacity="0.9"/>
<path d="M154.5 326.8h0M145.4 323h0M140.2 319.6h0M154 326.9h0M149.1 326.4h0M154.8 320.5h0M152.6 323.5h0M155.7 322.4h0M150.9 318.4h0M137.2 313.5h0M157.1 321.9h0M154.4 321.1h0M155 318.3h0M155.7 320.6h0M156.1 315.6h0M159 318h0M154.1 317.9h0M160.5 316.4h0M162.6 313.8h0M158.8 317.8h0M154.7 310.3h0M158.7 317.5h0M159.2 315.5h0M158.8 311.9h0M162.7 312.6h0M162.2 312.3h0M161.5 311.5h0M159.6 310.4h0M161.9 313.1h0M161.4 308.6h0M161.8 311.6h0M164.8 309.9h0M166 309.9h0M161.4 307.7h0M165.4 309h0M166.6 306h0M167.8 308.7h0M170.8 310.4h0M169.5 311.2h0M164.9 304.2h0M168.9 308.1h0M173.6 302.8h0M173.1 304.9h0M169.2 298.1h0M171 309.3h0M172.5 306.5h0M168.7 303.7h0M174.9 303h0M177.2 302.9h0M174.9 300.4h0M177.4 305h0M179.6 304.9h0M176.2 301.6h0M178 304.4h0M182.1 301.7h0M179.7 297.9h0M181.3 307h0M182 300.9h0M181.2 302.4h0M182.8 304.9h0M178.2 299.7h0M186.1 298.5h0M185.8 304h0M183.3 297h0M181.3 295.8h0M186.1 303.9h0M184.4 304.1h0M182.3 296.3h0M186.6 301h0M186.3 299.8h0M190.6 299.6h0M191.8 297.2h0M190.2 293.9h0M188.6 298.1h0M194.1 298.6h0M193.3 297.5h0M196.1 300.3h0M193.5 294h0M190 295.1h0M194.7 300.1h0M192.6 291.8h0M196.9 297.1h0M198.3 298.1h0M196.4 293.2h0M196 296.2h0M197.3 286.8h0M197.7 293.7h0M195.1 294h0M196.7 292.9h0M196.9 290.9h0M205 291h0M200.2 290.4h0M202 284.9h0M207.9 294h0M200.9 291.4h0M198.9 277.5h0M202.1 294.1h0M203.8 290.7h0M207 294.5h0M203.5 294h0M203.4 281.5h0M212.9 292.4h0M213 286.8h0M208.7 288.9h0M211.7 288.1h0M211.4 289.3h0M211 290.3h0M207.1 291.5h0M207.7 292.1h0M218 290.1h0M212.3 282.4h0M210.1 278.1h0M210.1 281.3h0M210.8 283.8h0M217.2 287.8h0M215 286.9h0M214.7 291.1h0M215.3 283.4h0M219.2 284.4h0M219.2 284.9h0M216.6 282.6h0M219.3 281.5h0M216.7 283.8h0M222.8 286.4h0M218 281.6h0M221.1 281.7h0M221.2 275.1h0M220 285.4h0M223 284.8h0M222.7 281.8h0M228.7 286.4h0M224.4 280.6h0M225.1 280.4h0M227 282.9h0M224.8 278.4h0M230 281.9h0M226.2 276.5h0M228.1 280.4h0M227.8 281.8h0M230.9 284h0M227.7 280.3h0M230.2 283.2h0M230.4 281.1h0M229.9 281.4h0M231.5 278.3h0M232.2 274.7h0M237.5 283h0M234.4 284.7h0M235.5 285.4h0M234.2 285.2h0M233.4 281.7h0M235.5 285.8h0M238.7 276.6h0M238.2 282.9h0M238.3 284.5h0M237.5 282.4h0M244.3 282.1h0M240.8 284.9h0M241.6 283.9h0M242.5 282.9h0M241 283.1h0M243.1 286.7h0M243.7 290h0M244.2 284.9h0M240.6 289.3h0M243.3 285.2h0M249.4 286.1h0M250.6 285.1h0M247.3 285.7h0M246.9 286h0M246.1 288.7h0M250.1 288.5h0M251.6 284.7h0M248.7 289.6h0M249.2 288.3h0M251.1 288.9h0M254.8 288.4h0M252.5 290.7h0M255.7 286.4h0M252.5 291h0M250.3 290.2h0M252.8 288.9h0M259.1 290.7h0M258.3 287.6h0M252.2 294.8h0M254.5 293.7h0M255.7 290.8h0M259.5 293.9h0M258.5 295.2h0M256.8 295.6h0M258 293.6h0M262.7 290.7h0M257.9 296.6h0M260 298.1h0M265.1 292.8h0M262 295h0M262.1 296.3h0M260.5 297.5h0M265.7 297.9h0M261.7 298.7h0M264.5 299.1h0M263 297.9h0M263.1 298.2h0M265 304.4h0M267.3 300h0M266.9 302.2h0M265.1 301.8h0M266.6 303.9h0M266.2 304.6h0M267.3 303.5h0M266.9 303.4h0M268.3 305.9h0M269.1 304.3h0M276.9 302.6h0M270.6 307.4h0M268.9 304.6h0M273.4 302h0M271.6 305.3h0M277.7 304.3h0M270.4 307.2h0M269.1 309.9h0M270.3 310.5h0M273.4 314.1h0M277 310.8h0M276.2 311h0M278.3 310.2h0M280.4 310.3h0M275.9 312.2h0M278.1 310.9h0M273.7 313.3h0M279.6 314.2h0M276.1 315.6h0M290.9 310.4h0M280.8 314.7h0M278.4 315.5h0M277.5 316.9h0M276.1 319.2h0M280.8 315.6h0M277.9 319.8h0M283.4 319.1h0M279.8 321.8h0M282 321.5h0M280.4 320.8h0M281.9 321.9h0M279.7 325.7h0M280.1 326h0M279.4 324.8h0M278.9 327.1h0M284.2 325.4h0M284.2 326h0M288.1 326.2h0M290.7 326.6h0M285.4 325.9h0M279.7 327.7h0M278.9 328.1h0M283.7 331.2h0M282.7 332.8h0M283.7 334.6h0M280.5 332.7h0M279.8 334h0M281.5 333.4h0M277.9 334.3h0M290.5 336.5h0M279 331.8h0M278.9 331.7h0M282.5 339.6h0M274.5 338.9h0M289.1 339.4h0M276 339h0M280.5 341.9h0M280.8 339.6h0M277.8 341.8h0M281.2 344.3h0M282.3 342.5h0M276.5 343.7h0M281.8 342.9h0M278.9 341.1h0M277.8 340.9h0M278.2 348.8h0M277.1 347.4h0M280 346.6h0M277.9 349.3h0M279.8 346.9h0M278.7 349.5h0M282.4 350h0M274.1 348.7h0M275.9 352.4h0M277.3 353.4h0M285.5 357.3h0M283.6 355.6h0M273 350.5h0M272.7 352h0M279.1 358.6h0M278.6 355.9h0M282.6 358.9h0M274.2 352.5h0M274.5 357.2h0M270.8 355.3h0M269.2 357.1h0M272.8 355.2h0M293.5 373.1h0M273.6 361.2h0M272.2 358.1h0M270.5 360h0M270.9 362.8h0M272.2 360.1h0M274.7 365.1h0M272.6 358.9h0M272 365.5h0M275.7 366.2h0M269 364.7h0M266.4 364.5h0M268.3 363.9h0M270 367.2h0M267.7 367.2h0M273.9 370h0M265.3 368.8h0M265.1 364.9h0M268.4 370.4h0M266.4 373h0M265.6 372.9h0M266.8 373.1h0M270.9 371.6h0M267.2 374.2h0M264.7 378h0M271.4 375.2h0M263.5 376.6h0M259.1 376.1h0M265.4 373.6h0M265.4 373.7h0M265.1 374.7h0M258.8 379.6h0M265.6 381.3h0M271 379.9h0M261.9 378.7h0M263 380.9h0M261.9 382.1h0M261.5 378.9h0M263.7 385.5h0M265.9 384h0M264.7 386.6h0M260.6 382.8h0M264.1 386.1h0M267.8 384.6h0M254.8 386.9h0M257.8 387.1h0M261 387.6h0M260.7 385.4h0M260.2 388.5h0M258.8 389.7h0M259.4 391.6h0M256.5 390.2h0M260.6 393.4h0M258.6 392.1h0M256.3 392.1h0M256.7 392.4h0M259.1 399.4h0M257.3 397.5h0M259.7 398.1h0M257.9 395.1h0M254.3 395.9h0M252.3 393.6h0M249.3 394.3h0M253.3 394.9h0M251.6 395.3h0M251.8 394.7h0M253.1 394.5h0M252.7 401.7h0M255 403.3h0M250.4 399h0M251.9 398.4h0M247.3 396.3h0M248.2 401.7h0M250.7 401.7h0M245.9 399.8h0M246.6 398.5h0M245.9 397.9h0M244.8 405.2h0M248.8 404.6h0M244.8 401.7h0M247.7 402.2h0M248.9 405.9h0M244.6 406.7h0M242.5 405.9h0M241.9 401h0M247.9 406.9h0M244.8 407h0M241.6 407.2h0M243.7 410.3h0M246.8 411.7h0M243.3 409.2h0M244.9 412.6h0M246.4 412.1h0M243.2 411.4h0M243.5 410.3h0M250.8 417.7h0M241.7 413.9h0M242.5 411.4h0M244.9 417h0M240.5 416.4h0M240 416.9h0M240.1 417.1h0M237.7 416.4h0M238.3 417.4h0M238.2 417.5h0M239.1 418.6h0M237 416.8h0M242 422.5h0M240.9 420.6h0M242.1 420.3h0M241 422.9h0M238.3 421.6h0M232.5 420.9h0M237.7 423.6h0M238.1 424.2h0M239.4 425.2h0M243 426.2h0M250.6 425.5h0M239.5 426.4h0M239.4 426.9h0M235.5 426.8h0M238.8 426.3h0M236.3 429.7h0M234.5 428.4h0M235.9 426.9h0M231.7 429.1h0M234.3 428.4h0M237.9 432h0M239.6 436.4h0M234.1 429.4h0M232.2 433.6h0M233.9 435h0M232 432h0M232.7 433.8h0M234.6 446.3h0M231.1 432.7h0M228.4 429.4h0M230.9 434.6h0M229.9 434.2h0M229.6 435.7h0M227.7 434.9h0M227.2 434h0M228.8 435.3h0M226.6 430.7h0M223.6 432.9h0M223.3 430.7h0M223.9 435.9h0M223.1 434.5h0M220 436.7h0M221.9 431.9h0M222.8 432.6h0M218.8 434h0M217.8 434.5h0M218.8 435.8h0M215.3 435.8h0M217.5 431.1h0M216.1 432.1h0M217.6 430h0M210.7 442h0M216.9 432.3h0M213.6 428.2h0M211.3 433.4h0M214.8 430.5h0M213.5 429.7h0M208.4 439.5h0M208.5 426.8h0M212.3 427.2h0M210.5 432.7h0M209.4 429.1h0M208.2 428.5h0M207 428.1h0M208.9 426.8h0M206.7 426h0M209 425.3h0M201.9 425.3h0M204.7 431.8h0M201.3 428.1h0M203.7 425h0M203.3 437.1h0M205.2 428.9h0M198.7 427.8h0M201.4 432.3h0M201.1 426.7h0M201.8 429.4h0M198.3 428.8h0M202.4 427.9h0M198.1 427.5h0M197.5 426.5h0M195.5 431.4h0M194.6 432.5h0M194.8 426.7h0M193.9 437.8h0M193.2 430h0M192.7 428.2h0M194.2 425.6h0M191.6 429.2h0M192.5 428.1h0M190.9 425.8h0M182.9 436h0M189.3 422.7h0M190.5 424.2h0M191.6 426.1h0M191.8 425.8h0M188.3 421.9h0M187.3 424.1h0M186.3 423h0M188 422.6h0M186.5 423.7h0M181.3 430.9h0M183.6 423.1h0M183.4 425.2h0M183.3 423.8h0M184 420.6h0M184 421.9h0M181.2 422.9h0M184 419.2h0M181.5 422.2h0M179.9 424h0M179 419.8h0M182.5 420.9h0M178.5 417.9h0M177.6 420.5h0M179.2 418.5h0M177.1 416.6h0M172 423.5h0M172.6 423.5h0M176.8 414.3h0M178.9 413.8h0M171.7 418.1h0M179.1 415.3h0M175.1 415.6h0M178.7 413.7h0M177.1 408.9h0M176.7 410.9h0M174.8 411h0M176 411.4h0M171.7 411.2h0M166.6 410.5h0M170.8 407.1h0M175.6 408.6h0M173 407.5h0M174.3 408.1h0M172.5 402.4h0M172.7 404.5h0M170.3 405.2h0M172.9 402.8h0M175 405h0M173.5 404.4h0M172.2 402.3h0M176 397.8h0M170.6 402.1h0M173.3 400.9h0M173.6 397.7h0M169.8 401.5h0M168.2 396.2h0M166.6 399.7h0M166 398h0M168.7 398.8h0M164.4 398.1h0M168.2 399h0M167.2 399.6h0M165.5 394.3h0M166.6 390.9h0M162 397.2h0M162.5 397.3h0M157.2 399.6h0M155.6 396.6h0M166.5 391.4h0M167.8 387.8h0M165.5 384.9h0M161.2 392.1h0M162.9 387.4h0M164.5 390.5h0M164.4 389.3h0M164 389.8h0M159.4 389h0M160.1 383.1h0M160.1 386.2h0M163.7 385.4h0M160.4 387.5h0M161.8 383.7h0M158.2 386.9h0M163.8 382.6h0M162.7 378.6h0M158.6 379.2h0M160.6 382.7h0M156.6 381.4h0M158.6 379.9h0M158.5 381.9h0M153.1 384.7h0M158 377.5h0M157.8 376.7h0M156.2 375.9h0M154.8 375.4h0M158.7 376.8h0M156.3 379h0M126.5 379.2h0M155.9 372.8h0M156.3 372h0M140.9 374.3h0M155.8 373.4h0M155.3 371.7h0M152.2 369.8h0M156.1 371h0M147.5 369.3h0M153.1 371.4h0M156.1 368.3h0M153.3 369.3h0M151.4 366.1h0M151.3 362.5h0M149.6 365.9h0M153.6 367.4h0M148.4 366.8h0M152.5 361.7h0M155.3 358.6h0M151.4 360.8h0M151.5 361.2h0M156.9 359.5h0M154 360.3h0M149.1 363.4h0M152.3 358.3h0M155.3 356.8h0M150.3 356h0M149.8 358.8h0M152 358.7h0M151.8 357.2h0M147.6 353h0M153.4 350.9h0M150.4 350.5h0M154.4 353.5h0M154.4 351.7h0M151 351.5h0M148.6 348h0M142 350.9h0M150.9 350.8h0M147.3 347.9h0M150.6 350.3h0M152.2 348.2h0M152 342.8h0M133.4 346.8h0M151.9 343.6h0M150.6 344.4h0M150.7 343.9h0M147.7 345.3h0M150 340.2h0M133.4 342.3h0M154.4 339.9h0M151 340.3h0M136.3 341.8h0M147.1 342.3h0M152.3 339.7h0M151.8 337.8h0M145.9 339.3h0M149.9 338.7h0M147 335.4h0M150.5 336h0M151.5 335.8h0M152.1 336.7h0M148.5 333.4h0M147.3 332.8h0M150.6 333.5h0M147.6 332.6h0M150.8 331.8h0M151.5 330.7h0M153.4 331.1h0M145.2 330.2h0M151.1 326.9h0M151 327.9h0M150.6 330.2h0M144.9 326.9h0" stroke="#e41a1c" stroke-width="3.5" stroke-linecap="round" stroke-opacity="0.88" fill="none"/>
<path d="M270 387.3h0M265.5 385.1h0M254 410.7h0M261 402h0M275.7 387.7h0M261.1 386.3h0M258.7 419.9h0M275.7 402.5h0M263.1 399.5h0M281 384.4h0M268.6 391.5h0M264.5 374.5h0M261.9 419.4h0M267.8 377.7h0M263.4 383.9h0M283.3 392.4h0M246.7 400.1h0M266.6 400.2h0M272.2 383.7h0M252.4 415.4h0M263 397.4h0M260.8 396.4h0M262.9 411.3h0M274.1 385.6h0M267.5 391.3h0M278.1 384.1h0M255.4 387.2h0M275.4 381.6h0M277.6 378.2h0M277.1 376h0M257.4 405.1h0M278.9 381.8h0M265.3 403.8h0M279.3 396.8h0M252.5 400.7h0M278.7 384.8h0M261.3 419.6h0M248.6 396.5h0M277.8 392.9h0M280.5 376.9h0M256.1 416.2h0M251 418h0M257.4 401.7h0M265.4 397.9h0M255.9 378.3h0M259.9 405.4h0M251.9 406.1h0M247.3 392.6h0M265.5 411.3h0M252.6 416.3h0M265 393.8h0M278.7 391.4h0M266.1 382.3h0M265.1 417h0M274.7 387.8h0M243.7 397.7h0M267 404.4h0M248.7 392.8h0M247.1 409.2h0M257.6 410.7h0M282 382.3h0M261.7 388.3h0M282.2 392.5h0M251 409.2h0M261.2 385.6h0M252.7 402.1h0M282.9 388.2h0M269.6 404.1h0M246.9 417.3h0M272.8 407.6h0M257 392.9h0M259 399.2h0M263.1 384.3h0M256.9 405.4h0M254.1 419.1h0M261.9 390.8h0M250.1 402.7h0M257.5 383.6h0M262.3 394.4h0M269.6 398.5h0M265 375.4h0M262.8 408.4h0M252.7 402.5h0M272.4 400.3h0M256.2 415h0M254.3 384.8h0M271.6 399.8h0M269 377.5h0M247.7 414.7h0M267.2 397.2h0M278.9 379.6h0M266.8 407.5h0M256.3 390.9h0" stroke="#e78ac3" stroke-width="3.5" stroke-linecap="round" stroke-opacity="0.88" fill="none"/>
<path d="M285.6 343h0M250 410.4h0M261.5 395.2h0M287.7 400.3h0M280.4 374.4h0M265.1 423.4h0M265.8 428.1h0M293.4 387.9h0M304.8 345.2h0M273.7 413.1h0M299.7 340.2h0M289.5 333.9h0M283.8 406.2h0M272.1 360.7h0M264.1 395.1h0M265.1 421.6h0M290.9 337.9h0M270.1 427h0M265.1 415.6h0M248.8 436.7h0M298.8 380.9h0M274.3 362.2h0M287.9 407h0M301.9 342.6h0M248.7 436.4h0M283.6 400.6h0M271.7 396.4h0M272.4 416.4h0M289.7 343.2h0M298.9 346.8h0M269.4 361.1h0M266.3 362.7h0M257.9 419.1h0M269.2 351.2h0M267.1 384.2h0M248.6 418.7h0M263.8 395.1h0M272.9 384.2h0M286.8 370.6h0M302.1 373.3h0M298.5 373.4h0M274.5 377.7h0M267.9 401.9h0M281.9 418.7h0M274.2 426.1h0M266 382.5h0M294.1 370.8h0M286.8 371.1h0M277.5 368h0M279.2 423.1h0M284.5 354.3h0M284.3 369.1h0M246 431.6h0M269.3 415.7h0M274.7 347.5h0M265.4 423.5h0M292.2 360.1h0M290.8 338.8h0M288.9 375.7h0M268.6 402.8h0M263.6 383.1h0M295.1 371.1h0M266.8 415.8h0M265.1 391.6h0M303.5 359.3h0M298.9 347.1h0M286.9 373.9h0M277.6 388.9h0M287.1 333.4h0M274.8 347.1h0M267.1 388.7h0M267.7 383.2h0M295.1 358.5h0M288.2 363.2h0M283.1 384.1h0M281.8 388h0M293.9 330.4h0M267.4 420.1h0M299.9 371.7h0M282.3 381.2h0M278.1 388.9h0M281.8 383h0M250.4 404.7h0M264.5 412.2h0M275.2 392.4h0M307.6 368.6h0M268.5 427.9h0M261.2 422h0M300.7 382.1h0M278.8 346.6h0M266.6 410.5h0M287.8 337.6h0M278.9 378.1h0M297.6 355.5h0M271.9 349.8h0M282.1 326.2h0M275 418.1h0M294.5 384.5h0M301.5 344.7h0M271.3 355.8h0M255.8 413.1h0M270.4 358.2h0M288.1 388.1h0M285.6 369.1h0M291.1 360.5h0M286.3 360.4h0M267.1 430.3h0M300.4 369.8h0M268.3 366.2h0M271.4 340.2h0M288.8 355.4h0M302.7 349.9h0M250.7 433.2h0M287.6 369.9h0M286 397.8h0M278.8 349.3h0M289.7 366.8h0M300.4 367.8h0M264.6 417.2h0M273.6 379.4h0M283.8 328.9h0M293.1 370.9h0M266.6 376.3h0M270.7 396.1h0M280 333.6h0M270.3 366.7h0M268.6 398.2h0M250.1 433.2h0M268.8 382.3h0M302.2 355.7h0M273.4 422.4h0M269.4 416.3h0M252 419.1h0M286.6 364.9h0M281.4 389.8h0M267.3 385.4h0M289.8 404.4h0M277.5 376h0M254.8 425.9h0M275.8 408h0M301 365.1h0M271.2 349h0M256.5 434.4h0M278.7 342.7h0M275.8 332h0M282.8 360.2h0M281.5 338.3h0M270.7 372.3h0M298.3 377.3h0M271.8 424.5h0M285.4 385.7h0M278.9 415.7h0M243.3 435.9h0M276.3 395.1h0M274.2 409h0M281.4 420.1h0M255.3 419.8h0M294 395.8h0M286.4 374.1h0M264.8 411.6h0M267.1 380h0M292.8 363.8h0M282.6 376.8h0M272.9 376.2h0M288.2 383.3h0M291.9 389.6h0M294 362.1h0M248.4 414.4h0M272.7 348.6h0M275.3 363.4h0M302.1 377.6h0M274.4 390.4h0M276.3 358.3h0M266.1 400h0M276.4 418.1h0M254.9 398.4h0M309.7 360.9h0M294.5 357.6h0M281.1 377.5h0M304.3 354.3h0M295.2 341.5h0M261.2 430.2h0M271.7 389.4h0M304 369.4h0M291.4 320.6h0M256.9 410.9h0M246.8 412.3h0M300.5 377.8h0M276.6 409h0M264.6 415.2h0M287.6 328.8h0M254.4 402.8h0M276.1 349.2h0M268.7 362.9h0M275.5 348.9h0M266.2 414.5h0M297 338h0M281.3 340.5h0M287.8 353.4h0M254.7 401.3h0M271.4 391.7h0M262 377.2h0M284 349.5h0M281.8 368.8h0M273 409h0M285 368.6h0M250 428h0M267.2 411.2h0M276.3 380.5h0M271.3 413h0M247.3 432.4h0M274 361.2h0M283.3 408.8h0M256.7 422.3h0M295.6 386h0M250.1 425.6h0M267.7 405.6h0M270.8 430.6h0M275 334.5h0M268 402.5h0M281.5 340.8h0M244 424.5h0M285.8 399.7h0M255.2 404.8h0M284.5 376.2h0M294.1 389h0M278.4 421h0M272.8 408.5h0M284.9 358h0M294.3 385.3h0M279.8 393h0M300.5 345.3h0M279.6 365.3h0M277.1 338.5h0M265.5 399.6h0M272.8 384.7h0M283.8 386.6h0M250.8 422.4h0M289 403.6h0M272.5 408.8h0M286.3 355.1h0M264.1 371.6h0M282.8 381h0M292.6 395.3h0M295.7 376.8h0M269.6 345h0M289.4 389.5h0M295.2 363.8h0M292.1 388.3h0M286 380h0M277.8 353.2h0M258.5 417.7h0M254.8 418.8h0M261 411.3h0M305.1 361.4h0M291.8 337.6h0M268.7 374h0M272.7 350.3h0M265.5 359.6h0M263.4 416.8h0M261.2 368.9h0M266 433.6h0M258.3 408.1h0M277.3 428.8h0M307.1 373.3h0M288 373.3h0M299.4 352.1h0M291.6 400.5h0M276.3 364.4h0M267.3 435.9h0M248.1 428.3h0M263.1 414.1h0M273.9 422.3h0M285.4 394.9h0M296.2 338.2h0M278.7 403.4h0M278.6 407.6h0M262.1 426.5h0M254.4 404.4h0M263.5 405.5h0M263.9 430.9h0M274.7 385.8h0M273.8 380.1h0M302.4 345.8h0M278.6 364.7h0" stroke="#e41a1c" stroke-width="3.5" stroke-linecap="round" stroke-opacity="0.88" fill="none"/>
<path d="M322.5 327.8L323.8 326L324.9 324.9L326.3 324.2L328.3 323.4L330.9 322.5L334.1 321.4L337.9 320.4L341.9 319.6L346 319L349.9 318.6L353.8 318.7L357.8 319L361.7 319.5L365.4 320.2L368.8 321.2L371.6 322.2L374.1 323.5L376.5 324.9L378.7 326.6L380.9 328.5L383 330.6L385 333L387 335.7L389.1 338.6L391.2 341.4L393.5 344.1L395.9 346.7L398.1 349.1L400 351.6L401.4 354L402.4 356.6L403.1 359.5L403.5 362.5L403.7 365.6L403.8 368.6L403.7 371.7L403.3 374.8L402.7 378L402 381L401.3 383.7L400.5 386.1L399.8 388.2L399 390L398 391.5L396.7 393.1L394.8 394.9L392.5 396.7L389.9 398.3L387.4 399.5L385 400.2L382.8 400.3L380.2 399.7L377.1 398.8L373.6 398L369.7 397.6L365.7 397.8L361.6 398.3L357.5 398.9L353.4 399.6L349.4 400.2L345.4 400.7L341.2 401.1L337 401.6L333 402.2L329.3 402.9L325.9 404.1L323 405.4L320.6 406.8L318.6 407.7L317 408.2L315.3 408.3L313.8 408.2L312.5 407.9L311.4 407.3L310.2 406.3L308.7 404.6L307.1 402.3L305.7 399.7L304.7 397.2L304.4 395.1L304.7 393.3L305.7 391.2L307.1 388.8L308.9 386.2L310.6 383.3L312.4 380.5L314.6 377.5L316.9 374.3L318.9 370.6L320.2 366.5L320.4 362.1L319.6 357.8L318.6 353.7L317.8 349.9L317.6 346.3L318.1 342.5L318.9 338.3L319.9 334.2L321.2 330.6Z" fill="#66c2a5" fill-opacity="0.9"/>
<path d="M320.6 322.8h0M320.3 325.8h0M321.3 324.5h0M324.9 325h0M314.8 315.1h0M326.4 328.3h0M320.7 321.2h0M325.7 324.4h0M324.3 320.3h0M324.5 323.3h0M327.8 320.9h0M323.8 319.6h0M321.7 308.6h0M323.9 318.9h0M324.8 316.6h0M322.8 309h0M328.8 323.8h0M330.2 321.2h0M329 323.1h0M333.1 320.1h0M327.8 315.1h0M331.1 321.7h0M328.3 314.7h0M331 320.6h0M335.6 317.3h0M334.2 321.9h0M335.3 323.9h0M334.2 317.1h0M336.3 319.6h0M338.5 322h0M340.5 318.4h0M335.5 317.5h0M337.9 309.5h0M338.8 317.8h0M339.7 316.8h0M341.6 316.8h0M338.8 316.7h0M342.2 315.4h0M340.6 318.7h0M344.7 314.5h0M343.1 316.9h0M344 313.7h0M343.1 308.9h0M348.1 314.4h0M344.6 313.7h0M345.7 316.5h0M345.9 315.8h0M348.6 306.9h0M344.8 317.5h0M355 316.2h0M350.2 318.9h0M352.6 314.5h0M354.8 317.6h0M351.9 314.4h0M350.3 314.7h0M355.5 315h0M355.4 313.6h0M354.3 317.1h0M355.4 310.3h0M356 316.8h0M355.6 317.4h0M360.7 316.5h0M357.5 318.1h0M361.5 313.6h0M357.8 315.5h0M362.6 306.3h0M362 317.6h0M362.9 316.3h0M367.1 314h0M362 320.7h0M365.9 319.1h0M365.2 319.1h0M362.3 314.6h0M368.7 317.7h0M369.8 317.4h0M367.6 317.9h0M370.4 321.1h0M365.6 316.7h0M371.5 320.6h0M372.2 320.4h0M371.3 317.8h0M369.9 321.9h0M370.8 318.6h0M372.1 321.9h0M371 319h0M372.4 321.3h0M374.5 321.5h0M374 320.4h0M376.5 322h0M376.5 321.4h0M374 322.3h0M379.3 316.4h0M380.2 321.1h0M378.2 324.6h0M378.6 324.5h0M378.1 324.4h0M379.2 323.6h0M383.3 320.7h0M380.5 327.9h0M381.7 325.3h0M382.2 323.9h0M381.2 325.2h0M381.1 329.3h0M385.3 328.3h0M382.7 326.3h0M381 330.1h0M387.7 324.3h0M383.7 330.7h0M387.1 331.2h0M384.9 328h0M386.8 329.2h0M387.3 330.1h0M393 332.9h0M390 332.3h0M392 328.6h0M388.5 330.9h0M392.1 332.8h0M391.6 337.7h0M391.5 333.8h0M391.9 332.8h0M394 336.5h0M387.8 334.8h0M401.1 332.5h0M390.7 339.3h0M392.1 339.5h0M392.8 337.5h0M394.2 338.1h0M395.1 339.7h0M392.6 343.5h0M411.4 327.6h0M389.6 343.7h0M393.1 339.8h0M395.4 343h0M408 334.9h0M395.8 345.6h0M396.9 342.2h0M396.7 344.1h0M397.3 348.3h0M396.3 349.8h0M395.1 348.4h0M401.5 344.3h0M396 348.1h0M398.6 350.8h0M401.6 346.6h0M400.4 347.3h0M403.2 350h0M412.2 342.2h0M402.4 351.2h0M403.1 351.1h0M403.9 351.4h0M401.2 353h0M399.7 352.3h0M404.8 355h0M405.4 352.5h0M407.2 352.3h0M407.4 354.2h0M404.2 356.3h0M402.7 358.7h0M402.2 360.3h0M408.9 356.4h0M407.4 356.4h0M405.3 356.5h0M405.5 362.2h0M401.6 362.3h0M404 358.8h0M405.3 361.5h0M404.3 359.9h0M406.9 363.2h0M407.9 361.5h0M407.2 365h0M406.5 367h0M408.3 363.7h0M408.5 365.1h0M407.2 367.8h0M408.2 367.9h0M406.5 367.9h0M406.1 367.9h0M406.3 368.9h0M405.4 368.3h0M405.7 368.8h0M415 369.8h0M403.8 372.9h0M404.7 375.7h0M406.2 374.1h0M405.2 371.5h0M404.6 373.3h0M404.9 375.3h0M407.1 375.5h0M406.2 378.4h0M404.1 377.6h0M406.5 375.1h0M405.6 380.6h0M409 380.6h0M405.9 380.3h0M406.9 381.9h0M405 381.2h0M401.2 381.6h0M399.7 381.8h0M414.2 386.6h0M400.6 382.7h0M401.1 384.6h0M400.3 385.2h0M400.3 383.3h0M399.4 383.3h0M405.6 386.3h0M405.7 389.9h0M401.5 388.9h0M402.5 388.7h0M405.2 390.3h0M403.7 391.1h0M403.7 389.1h0M400.9 392.5h0M401.6 392.8h0M400.9 389.6h0M397.6 394.3h0M398 392.9h0M401 395h0M399 395.7h0M395.1 394.5h0M396.2 392.7h0M397.5 396.7h0M393.7 394.6h0M392.2 396.2h0M394.9 396.4h0M393.7 397.7h0M390.4 394.4h0M395.7 404.5h0M393.4 400.5h0M391.6 401.5h0M394.6 404.8h0M391.9 401.9h0M388.7 400.7h0M395.1 411.5h0M387.9 401.5h0M389.8 399.6h0M388.2 400.5h0M388.2 408h0M387.9 405.5h0M384.4 399.2h0M386.8 405.8h0M388.4 410.8h0M382.3 409.3h0M383 400.1h0M384.2 403.9h0M385 404.3h0M383.7 411.2h0M380.6 402.5h0M381.6 398.5h0M380.7 402.1h0M382.5 401.4h0M376.8 405.2h0M376.9 400.3h0M378.9 401.6h0M367.4 440.3h0M377.3 402.7h0M376.6 402.8h0M374.1 399.6h0M372.8 400.1h0M372.8 403.5h0M375.6 404.7h0M369.5 399.7h0M371.5 401.4h0M372.3 399.1h0M370.7 401.3h0M371.5 399.8h0M368.5 398.6h0M368.2 395.6h0M369 397.1h0M369.2 395.9h0M366.9 401.3h0M369.8 396.8h0M365 398.1h0M365.6 399.1h0M363.8 400.6h0M365.3 402.6h0M364.2 400.9h0M365.6 406h0M359 402.5h0M357.9 400.8h0M358.6 402h0M357.7 400.8h0M360.7 401.9h0M361.9 408.2h0M356.4 401.6h0M355.2 399.1h0M353.6 398h0M355.7 404.4h0M354.7 402.4h0M358.3 402.9h0M355.9 399.6h0M353.9 402.9h0M353.1 407.3h0M351 404h0M350.3 401.1h0M350.9 407.6h0M352.3 399.2h0M352 407.1h0M349.9 404.2h0M346.2 399.9h0M345.6 398.8h0M348.3 405.6h0M348.7 401.2h0M348.9 404.4h0M344.9 405.4h0M342.5 402.2h0M345.1 418.2h0M344.8 402.9h0M342.8 401.9h0M341.4 406.2h0M338.3 405.1h0M340.8 407.8h0M341.1 400.9h0M337.4 405.3h0M340.8 408h0M338.7 402.4h0M337.4 410.6h0M335.4 405.5h0M334.1 402.9h0M335.5 416.1h0M335.7 403h0M334.8 404.3h0M332 403.5h0M330.4 407.4h0M329.9 408.4h0M337.8 427.2h0M331.8 406.4h0M328.3 404.9h0M328.1 406.1h0M326.9 405.1h0M332.3 412.8h0M328.6 405.2h0M322.1 403.2h0M324.3 406.2h0M325.7 404.5h0M325.2 407.3h0M320.9 405.4h0M324.9 408.6h0M322.3 405.7h0M327.2 413.5h0M319.1 408.5h0M321.1 406.4h0M319.8 409h0M317.9 405.3h0M316.6 405.7h0M319.6 420.8h0M316 407.6h0M315.8 412.8h0M316.9 412.6h0M312.6 408.6h0M312.1 408.9h0M314.9 410.7h0M311.3 407.5h0M311.2 409.6h0M313.2 411.4h0M308.7 415.1h0M311.6 406.4h0M311 409.9h0M310.4 408.8h0M308.9 411h0M310.4 408.8h0M307.5 411.6h0M306.5 407.8h0M306.9 407.8h0M307.8 405.6h0M310.3 404.1h0M303.7 408.8h0M308.7 404.7h0M308.9 404.5h0M308 403.8h0M305.9 403.5h0M303.1 403.5h0M309.3 398.9h0M304.1 400.6h0M287 412.3h0M306.1 402.8h0M305.4 398.4h0M299.4 400.9h0M302.8 398.8h0M304.9 399.1h0M305.7 399.2h0M295.8 396.9h0M302.9 398h0M303.6 397h0M297 397.3h0M301.2 394.8h0M299.2 393.9h0M301.9 392.6h0M297.3 391.7h0M304.9 391.8h0M302.1 390.5h0M301.9 390.8h0M299.5 390.6h0M310 391.5h0M298.5 387.4h0M305 390.3h0M306.2 387.7h0M305.3 386.1h0M308.4 386.6h0M305.4 388.9h0M304.6 384.8h0M308.4 386.5h0M304.3 381.8h0M307.3 382.2h0M307.4 382.3h0M311 385.5h0M311.3 380.5h0M309.9 382.9h0M308.3 380.7h0M309.1 378.7h0M314.8 385.2h0M312.3 376.9h0M308.1 378.5h0M305.5 374.8h0M311 378.8h0M311.4 376.8h0M312.4 374.8h0M316.2 374.5h0M312.9 371.9h0M311.2 373.9h0M313.7 374.2h0M310.2 374.6h0M315.1 369.5h0M315.5 368.2h0M317.4 371.8h0M314.3 371.3h0M313.8 370.5h0M314.3 369.4h0M316.3 369h0M315.1 367.9h0M317.7 366.1h0M317.2 367.6h0M316.8 369.6h0M318.5 365.8h0M313.3 364.2h0M319.4 365.1h0M318.2 364.1h0M315.3 364.6h0M320.9 363.1h0M321.4 359h0M318.1 363.4h0M318.5 360.5h0M318.5 359.3h0M316 361.9h0M318.8 359.8h0M318.9 356.8h0M317.3 357.5h0M314.6 358h0M314.7 354.6h0M312.8 355.4h0M317.5 359.5h0M312.5 356.5h0M316.7 349.7h0M316.2 351.9h0M314.2 352.4h0M317.3 349.8h0M316.8 352.8h0M315.5 354.6h0M314.7 348.9h0M317.7 350.8h0M315.6 349.8h0M316.3 346.2h0M307.9 348.1h0M294.1 347.5h0M315.7 345h0M312.4 345.3h0M316.5 343h0M314.5 345.6h0M317.7 343.8h0M312.2 343.4h0M316.9 343.6h0M315.7 341.6h0M315.8 341.2h0M318.1 340.4h0M310.7 336.2h0M315.9 337.1h0M315.9 339h0M316.9 339.1h0M315.1 335.8h0M316.4 335.2h0M319.2 338.7h0M322.2 335.6h0M321.3 336h0M318.8 335h0M319.6 335.4h0M316.6 332.4h0M318.2 331.8h0M319.9 330.7h0M321.3 333.7h0M321.1 331.2h0M319.4 333h0M321.2 328.6h0M321.8 327.7h0M321.8 328.7h0M309.6 324.4h0M320.6 328.5h0" stroke="#66c2a5" stroke-width="3.5" stroke-linecap="round" stroke-opacity="0.88" fill="none"/>
<path d="M451.4 306.4L452.5 303.8L453.8 300.8L455.2 297.8L456.9 295L458.8 292.7L461.3 290.4L464.4 288L467.7 286L470.6 284.7L472.4 284.3L473.2 284.7L474.3 286L475.8 288.5L477.6 291.4L479.8 294L482.3 296.3L485 298.8L488 301.2L491.2 303.2L495 304.1L498.7 303.4L501.9 301.6L504.7 299.4L507.3 297.4L509.7 295.8L512.4 294.3L515.2 292.7L517.7 291.4L519.5 290.7L520.5 290.7L521.5 291.6L523.1 293.7L524.6 296.6L525.9 299.6L526.7 302.1L527 303.6L527 304.7L526.7 305.8L526.2 307.5L525.4 309.7L524.5 312.5L523.5 315.6L522.3 318.9L520.8 322L519.2 324.8L517.1 327.3L514.5 329.8L511.5 332.4L508.6 335L506.1 337.9L504.1 340.6L502.5 343.2L501.2 345.9L500 348.8L499 352.1L498.1 355.9L497.5 360.1L497.1 364.3L496.7 368.4L496.2 372.3L495.8 376L495.6 379.6L495.2 383L494.7 386L493.8 388.7L492.4 391.4L490.8 394.1L488.8 396.5L486.6 398.8L484.2 400.7L481.4 402.5L478.1 404.1L474.7 405.4L471.3 406.3L468.5 406.8L466.2 406.7L464 406.1L461.7 405.1L459 403.9L456.2 402.9L453.3 402.3L450.6 401.9L448 401.4L445.5 400.9L443 400.3L440.3 399.5L437.6 398.7L435.1 397.8L432.8 396.8L430.7 395.5L428.7 393.8L426.8 391.8L425.1 389.7L423.6 387.3L422.4 384.8L421.5 382L420.8 378.8L420.3 375.4L420 372L420 368.8L420.3 365.8L421 362.7L422 359.4L422.6 355.9L422.5 352.2L420.9 348.7L418.5 346.1L416.2 344L414.8 342.6L414.7 342.5L414.9 342.3L416.3 341.2L418.5 339.8L421.3 338.3L423.9 336.7L426.3 335.3L429 333.9L431.8 332.4L434.7 330.6L437.5 328.5L440.1 325.9L442.6 323L444.9 320L447 317.2L448.6 314.6L449.7 312.5L450.3 310.6L450.5 309.2L450.8 308Z" fill="#a65628" fill-opacity="0.9"/>
<path d="M446.9 305.5h0M449.6 305.3h0M448.4 301.3h0M450.6 304.9h0M453.3 304.1h0M446.4 298.7h0M448 300.1h0M451.1 301.9h0M450 301.4h0M451.7 297.6h0M450.5 296.3h0M451.7 300.2h0M443.2 296.1h0M453.5 298.8h0M454.6 293.8h0M457.2 298h0M456.3 298.2h0M452 293.8h0M453.6 298.6h0M458.8 293.9h0M455.5 292.2h0M454.7 290.3h0M460.1 293h0M456.7 296.2h0M460.5 288.5h0M460.5 291.9h0M458.3 285.5h0M460.7 291.1h0M451.9 284.2h0M460.3 290.1h0M463 286.3h0M460.6 288.7h0M462.8 286.6h0M462.1 290h0M446.3 262.1h0M460.9 286.7h0M462.5 280.6h0M467.6 285.3h0M464.7 285.6h0M469.2 286.9h0M460.6 278.4h0M463.4 281.1h0M465.1 283.8h0M466.8 278.9h0M466.6 284h0M469.4 280.9h0M463.5 274.1h0M471.1 287.5h0M472 279.6h0M472.8 284.5h0M471.4 282.8h0M470.1 284.5h0M473.5 282.6h0M472.1 283.3h0M475.2 282.2h0M473.9 282.6h0M474.4 284.8h0M473.8 285.8h0M477.3 279.9h0M472.7 283h0M475.6 289h0M475.7 287.5h0M477.2 284.4h0M478.2 285.1h0M474.9 286.8h0M476.2 290.3h0M482.3 284.7h0M476.2 289.6h0M476 289.3h0M476.6 289h0M478.1 292.1h0M480.2 292.8h0M479.8 292.7h0M480.8 290.6h0M482.5 290.1h0M479.6 294.5h0M482.6 294.1h0M483.9 293.5h0M482.4 298.2h0M485.4 292.6h0M483.4 298.3h0M487 294.2h0M484 297.9h0M489.2 291h0M483.1 297.9h0M482.1 296.7h0M484.9 301.5h0M484.9 299.5h0M489.8 299.5h0M486.1 298.9h0M487 298.9h0M489.3 298h0M490.2 299.2h0M490.4 300.1h0M488.9 299.3h0M491.7 299h0M492.7 302.3h0M492.2 301.4h0M492.9 302.6h0M494.3 299.5h0M495.5 304h0M496.7 307.1h0M494.2 291.5h0M496.9 303h0M493.3 291.2h0M491.7 290.2h0M497.9 298.5h0M499 303.6h0M502.9 297h0M502.9 300.8h0M501 298.2h0M502.4 296.6h0M502.7 298.7h0M504.4 299.2h0M501.3 294h0M503.7 296.4h0M509.1 298.4h0M505.3 299.1h0M497 281h0M508.1 293h0M505.7 294.9h0M505.1 295.5h0M506.4 297h0M507.3 287.4h0M510.2 294.4h0M510.2 292.1h0M511.2 288.6h0M510 290.9h0M514 291.6h0M512.9 293.7h0M513.7 290.2h0M511.6 291.8h0M514.4 287.7h0M515.6 291h0M515.6 290.6h0M511.2 285.5h0M516.5 286.3h0M518.2 287.1h0M518.1 286.5h0M516.6 287.3h0M519.9 291.4h0M519.2 287.2h0M519.7 286.2h0M520.3 286.5h0M522.9 289.8h0M525.1 284h0M533.7 271.9h0M521.2 288.8h0M525.2 292.8h0M525.4 292.8h0M525 290.5h0M521.8 291.6h0M525 293.2h0M528.5 292.1h0M524.1 297.1h0M529.6 293.5h0M526.8 294.4h0M525.3 294.5h0M526.8 296.9h0M529.9 296.3h0M527.6 298.9h0M526.8 297.5h0M527.5 298.9h0M524.1 297.1h0M525.5 300.5h0M524.1 300.3h0M531.8 298.5h0M528.2 300.9h0M527.2 301.8h0M529.8 302.2h0M530 303.1h0M526.2 304.3h0M527 303.3h0M526.7 304.5h0M525.2 303h0M525.1 306.8h0M526.6 307.5h0M529.3 309.4h0M532.6 310.4h0M529.4 308.1h0M528.7 312.3h0M524.1 310h0M527.4 311.5h0M530.1 311h0M527.6 310.8h0M526.1 316.3h0M526 314.5h0M529.5 313.8h0M526.1 317.1h0M528.3 316.7h0M519.7 313.8h0M524.8 319.4h0M525.7 317.9h0M527.9 320.7h0M522.8 318h0M526.4 319.5h0M528.5 322.5h0M521.1 321.6h0M520.8 321.4h0M528.6 323.4h0M521.5 318.4h0M520.4 323.1h0M524.3 328.3h0M521.7 323.7h0M519.7 321.4h0M518.4 321h0M520.1 324.6h0M514.7 325.1h0M518.2 328.4h0M528.2 335.4h0M525.1 331.8h0M518.6 328.6h0M520.1 325.8h0M520.4 334.3h0M515.4 330.1h0M525.1 337.5h0M520.1 332.6h0M516.9 330.4h0M521 334.9h0M514.6 330.8h0M519.7 336.7h0M515.1 333.6h0M511.8 328.5h0M514.3 334.3h0M513.6 334.6h0M513.4 334.9h0M511.5 335.1h0M510.6 337.5h0M513.8 335.5h0M511.6 339.6h0M514.1 341.8h0M508.2 340.5h0M507.5 338h0M508.9 338h0M508.1 340.1h0M507.8 338.6h0M510 343.2h0M510.4 342.8h0M505.2 344h0M504.9 339.8h0M500.8 343.1h0M505.1 342.4h0M503.1 343.4h0M505.4 348.4h0M504.5 347h0M504.7 345.1h0M505.1 349.2h0M500.3 347.7h0M499.5 344.7h0M500.3 346.7h0M504.6 350.1h0M505.5 352.8h0M518.9 354.1h0M500.1 350.2h0M505.7 352.2h0M501.6 354.4h0M498.3 352.6h0M500.4 353.2h0M496.3 351.8h0M502.7 354.6h0M501.9 356h0M498.4 357.4h0M500.8 361.1h0M500.5 359.5h0M498.5 357.8h0M499.2 356.6h0M500.7 358.3h0M500.1 362.1h0M499.9 361h0M501.4 360.8h0M498.2 360.2h0M498.9 361.8h0M502 362.4h0M495.8 362.4h0M497.6 366.7h0M501.1 369.1h0M501.2 364.2h0M504.1 365h0M497.9 364.5h0M500.7 365.2h0M505.3 366.3h0M498.1 372.2h0M502.4 371.4h0M495.9 370.8h0M500.9 371.9h0M503.3 372h0M496.7 371.4h0M498.3 375.5h0M504.4 376.1h0M502 373.2h0M503.4 374.3h0M495.1 370.8h0M504.2 376.8h0M501.5 378.5h0M499.4 379.8h0M497.5 376.5h0M499.9 376.1h0M500.2 379.8h0M496.5 380h0M496.8 381.9h0M499.1 379.6h0M499.4 381.3h0M500.6 384.8h0M501.7 380.6h0M501 386.2h0M504.6 387.7h0M499.6 385.5h0M496.3 384.9h0M491.1 384.8h0M495.3 386.7h0M492.8 386.1h0M494 386.8h0M496.8 391h0M498.9 388.9h0M496.6 392.6h0M496.9 391.4h0M503.4 394.9h0M495.3 390h0M494.2 392h0M492 391.8h0M494.3 392.2h0M491.7 391.6h0M494.4 392.3h0M492.6 393.7h0M489 394.7h0M489.8 395.3h0M488.5 391.6h0M490.1 396.1h0M494.6 399.9h0M491.8 398.4h0M485.3 397.2h0M488.2 397.3h0M491.5 400.9h0M489.3 398.2h0M491 408.6h0M485.4 402h0M487 402h0M484.8 400.8h0M488 402.1h0M484 401h0M484.4 403.4h0M483.4 403.2h0M484 405.9h0M484.9 402.3h0M485.1 403.6h0M482.9 399.8h0M479.1 404.2h0M485 409.9h0M482.2 404.5h0M482.5 406h0M483.9 408.7h0M483.7 408.5h0M473.3 405.4h0M477.7 405.8h0M476.9 406h0M478.9 405.6h0M477.6 407.9h0M481.1 429.6h0M476 412.8h0M472.4 406.6h0M471.2 408.1h0M473.9 408.5h0M475 406.1h0M471.5 407.2h0M470.7 407.5h0M469.7 410.8h0M470.1 409.8h0M469.9 406.3h0M469.1 409.3h0M465.6 417.1h0M467.2 407.2h0M466.6 408.5h0M464.5 405.9h0M465.6 409.1h0M465.5 408h0M465.1 412.4h0M464.8 409.4h0M455.5 422.3h0M463.7 404.9h0M463.2 404.1h0M462.4 407.3h0M463 404.7h0M460.5 404.3h0M461.2 405.7h0M461.5 403.7h0M460.8 403.6h0M455.8 405.9h0M456.6 403.9h0M457.3 406.6h0M456.7 406.5h0M459.9 404.2h0M452.5 409.8h0M454.4 407.1h0M456.2 405.9h0M455.2 402h0M451 403h0M451.9 408.7h0M449.5 402.4h0M450.8 402.6h0M450 402h0M450.2 401.8h0M447.6 405h0M449.7 407.2h0M443.8 404.7h0M445.3 402h0M446.2 403.2h0M446.6 401.4h0M442.9 402.9h0M443 404.6h0M445.6 398.7h0M445.3 399.7h0M441.2 402h0M440.3 403.3h0M442 397.1h0M442.4 402.1h0M438 406.7h0M438.2 399.4h0M436.9 402.9h0M438.1 398.2h0M439.4 401.4h0M434.7 415.1h0M434.4 403h0M436.9 397.3h0M435 399.6h0M436.8 399.7h0M430.1 401.3h0M434.7 397.1h0M431.1 400.2h0M433.6 398h0M433.6 400.9h0M427.3 403.9h0M429.4 400.3h0M425.6 405.1h0M432.3 396.9h0M427.7 394.2h0M425.7 399.9h0M429.4 397.9h0M427.3 396.3h0M429.6 393.8h0M424.3 395.8h0M416.6 401.3h0M419.7 399.6h0M422.3 394.1h0M425.7 393.9h0M422.4 390.4h0M422.2 394.1h0M426.3 390.5h0M422.7 391.4h0M423.1 387.4h0M406 397.8h0M417.9 392.6h0M415.9 391.6h0M420.8 387.8h0M417.3 388.7h0M419.9 385.9h0M420.1 388.3h0M407.3 392.3h0M419.2 385.6h0M424.1 380.7h0M421.2 385.2h0M411 388h0M414.4 386.6h0M409.9 382h0M421.4 382.1h0M420.4 378.2h0M423 378.2h0M416.3 382.8h0M412.8 377h0M419.5 379.1h0M418.8 376.7h0M418.5 376.3h0M416.3 380.7h0M418.3 377.7h0M417.5 373.8h0M419.2 370.2h0M419.7 375.2h0M418 377.3h0M410.5 372.8h0M413.8 370.7h0M416.2 369h0M413.1 367.8h0M416.1 369.6h0M420.3 371.1h0M409 367h0M416.1 366.7h0M417.8 365.1h0M419.8 365.4h0M417.7 368.5h0M417.7 365.6h0M422 362.9h0M421.6 362.7h0M420.5 364.5h0M418.5 364.3h0M422.5 363.9h0M421.6 361.1h0M418.2 361.3h0M418.9 360.4h0M419.9 361h0M423.3 356.4h0M418.2 357.8h0M419.6 356.9h0M420.1 358.7h0M417.7 354.7h0M412.2 354.4h0M423.1 354.2h0M421.5 352.7h0M420.5 354.2h0M417.5 352.1h0M425.7 348.6h0M418.7 350.2h0M419.6 353.9h0M416.4 351.3h0M414.7 352.5h0M415.8 350.8h0M412 353.2h0M417.6 347.6h0M418.3 345.8h0M414.6 345h0M415.8 347.1h0M417.8 344.8h0M412 344.8h0M413.4 346.5h0M411.8 346.2h0M415.1 343.3h0M414.9 341.1h0M412.3 341.4h0M411.1 341.6h0M413.7 342.6h0M400.2 335.7h0M414.4 339.9h0M415.7 340.9h0M414.1 339.2h0M411.4 336h0M416.3 340.5h0M416.9 336.1h0M416.9 339.9h0M416.2 338.7h0M417.2 336.1h0M417.7 332.1h0M421 339.2h0M416.9 334.8h0M418 339.6h0M417.6 331h0M418.2 330h0M422.2 330.4h0M420.4 336.8h0M423.9 333.7h0M426.7 339.1h0M421.9 333.6h0M417.6 325.1h0M421.3 324.8h0M426.8 333h0M424.6 330.6h0M421.2 325.7h0M429.4 331.3h0M432.3 333.8h0M422 318.7h0M425.2 327.1h0M428.7 329.5h0M433.4 331.8h0M433.2 332.8h0M425.2 321.7h0M431.9 327.1h0M427.4 325.2h0M437.8 327.9h0M437 330.3h0M435.1 328.8h0M432.5 327.5h0M434 328.2h0M436.3 325.6h0M440 326.8h0M438.6 325.3h0M433 324.4h0M441.4 328.2h0M440 323.2h0M437.4 319.6h0M437.8 322.1h0M441.4 325.4h0M439.9 320.4h0M445.2 320.3h0M441.2 319.8h0M443.7 318.9h0M443 318.5h0M440.9 319h0M439.5 317.7h0M442.3 316.3h0M446.3 318.6h0M443.8 316.2h0M439.2 316.6h0M447.1 320.6h0M445.7 316.3h0M447.3 314.3h0M445.2 314.5h0M442.7 313.8h0M447 311.4h0M446.7 310.9h0M448.2 315.3h0M446.4 310.9h0M442.2 310.1h0M447 309.3h0M445.3 309.3h0M449.2 309.6h0M447.7 308.4h0M449 307.2h0M450 304.6h0M444 304.2h0" stroke="#a65628" stroke-width="3.5" stroke-linecap="round" stroke-opacity="0.88" fill="none"/>
<path d="M398.8 269.5h0M406.7 279.1h0M403.3 266.7h0M405.8 279.3h0M400.1 275.9h0M407.9 273.2h0M411 275.7h0M389.5 278.2h0M407.7 272.5h0M393.1 281.3h0M392.7 271.9h0M406.7 270.3h0M407.6 272.5h0M394.2 274.1h0M402.5 273.7h0M402.3 281.4h0M406.4 269.8h0M402.6 271h0M399.7 279.3h0M399.3 274.9h0M409.3 277.6h0M386.5 271.1h0M403.6 269.4h0M405.9 276.4h0M399.4 278.7h0M399.9 278.4h0M401.1 272.4h0M395.8 269.1h0M404.4 271.4h0M408.5 279h0M395.4 273.1h0M396.2 269.2h0M403.6 270.5h0M399.2 268.8h0M407.6 277.4h0M398.5 281.3h0M392.2 272.4h0M398.1 268.4h0M389.4 273h0M399.8 269.2h0M393.2 278h0M398 270.1h0M406 271.5h0M405 277h0M395 277.8h0M407.6 278.5h0M396.1 277.5h0M412.5 272.4h0M407.6 276.9h0M406.8 279.6h0M401.2 269.1h0M398.7 274.5h0M388.6 274.6h0M387.5 279.8h0M408.9 271.8h0M406.4 268.4h0M389.6 273.4h0M390.4 272.2h0M393.9 270.2h0M408.6 275.6h0M393.4 270.2h0M393.7 281.8h0M391.4 274.4h0M398.2 271.5h0M402.9 275.2h0M410.4 273.9h0M393.3 265.8h0M395.2 275.4h0M405.7 268.7h0M400.5 278.9h0M394.3 268.8h0M407.5 271.7h0M402.2 271.8h0M391.6 272.6h0M402.8 277.8h0M398.5 275.3h0M391 272h0M391.8 269.9h0M404.3 275.1h0M403.3 273.2h0M400.7 277.1h0M401.9 269.3h0M388.9 276.3h0M394.7 273.8h0M405.1 266h0M404 275.4h0M395.4 270.4h0M407 274.5h0" stroke="#a65628" stroke-width="3.5" stroke-linecap="round" stroke-opacity="0.88" fill="none"/>
<path d="M382.2 287.8h0M374.1 296.9h0M369.4 290.5h0M383.7 292h0M364.9 286.7h0M386.8 286.8h0M378.2 295h0M378.9 272.4h0M373.9 282.8h0M383.8 292.8h0M367.7 277.6h0M384.5 294h0M377.1 289.4h0M377.6 278.8h0M378.4 284.1h0M373.6 285h0M376.4 280.8h0M370.5 294.3h0M381.1 289.8h0M378.7 290.9h0M383 294.3h0M381.4 287h0M374.4 284.2h0M371.5 292h0M368.7 287.9h0M380.7 298.6h0M376.5 293.5h0M374.9 289.1h0M373.3 289.2h0" stroke="#a65628" stroke-width="3.5" stroke-linecap="round" stroke-opacity="0.88" fill="none"/>
<path d="M360.8 269.8h0M345.9 284.5h0M369.2 282.4h0M360.7 295.8h0M367.4 279.9h0M362.7 279.8h0M343.5 304.9h0M344.8 292.9h0M348 278.4h0M359.1 298.2h0M349.7 284.6h0M367.5 298.2h0M369.1 297h0M338 270.4h0M339 301.7h0M355.4 267h0M372 278.1h0M361.8 297.3h0M352.5 296.2h0M350.6 304h0M372 277.3h0M341.6 277.9h0M347.3 296.8h0M364.6 276.2h0M354.7 283.6h0M341 280.5h0M358.9 298.8h0M344.7 292.8h0M347.7 278.3h0M357.5 268.1h0M366.3 297.3h0M350.2 295h0M354.1 278.7h0M349.2 291.5h0M371 276h0M354.3 286.5h0M360.4 309.5h0M364.2 284.6h0M355.3 275.4h0M369.9 273.6h0M367.7 279.6h0M369.9 297.1h0M347.2 291h0M357.7 271.1h0M349 272.2h0M352.6 299.7h0M353.9 286.6h0M352.1 292.2h0M345.2 282.6h0M347.9 278h0M358.7 295h0M355.9 289.8h0M356.1 280.6h0M366.6 271.5h0M340.7 274.9h0M347.2 303.3h0M358.2 299.9h0M355.5 271.6h0M360.7 281.6h0M339.2 271.8h0M354.2 283.4h0M340.2 282h0M338.1 282.4h0M343.3 297.8h0M364 283.3h0M344.9 283h0M363.9 302.6h0M362.3 285.7h0M347.3 303.1h0M342.4 278.2h0M348.5 278h0M335.8 278.8h0M354.7 293.2h0M349.2 298.6h0M345.2 293.7h0M353.2 295.4h0M365.9 295.8h0M365.3 276.3h0M345.7 272.1h0M363.6 281.9h0M356.5 274.8h0M366.9 280.8h0M341.5 276.8h0M333.5 296.3h0M350.3 287.7h0M360.9 293.7h0M376.8 284.6h0M369.9 296.3h0M363.1 274.3h0M366.1 290.6h0M372.5 279.3h0M343 289.8h0M356.1 301.9h0M353.7 271.8h0M352.2 294.4h0M357.1 297.3h0M349 283.9h0M365.7 298h0M360.1 290.3h0M347.5 298.5h0" stroke="#a65628" stroke-width="3.5" stroke-linecap="round" stroke-opacity="0.88" fill="none"/>
<path d="M440.7 409.5h0M444.8 404.3h0M430.1 401.5h0M422.5 412.7h0M424.1 414.4h0M422.8 404.5h0M445.8 424.5h0M437.5 407h0M433.3 411.5h0M442.6 411.2h0M433.6 411.2h0M418.2 400.5h0M431.7 406.9h0M428 412.7h0M427.5 408.6h0M436.2 408.7h0M451.8 415.2h0M435 413.5h0M431.8 402.3h0M436.5 408.2h0M426.6 402.5h0M442.2 424h0M435.5 408h0M428 415h0M431.3 416.3h0M426.3 407.4h0M424.4 408.4h0M439 410.4h0M442.7 419.6h0M447 423.4h0M444.7 423.1h0M446.3 426h0M447.7 406.4h0M445.1 418.7h0M425.7 416.2h0M423 404.5h0M447.2 412.2h0M433.6 417.3h0M446 419.8h0M422.1 400h0M438.8 411.6h0M446.4 424.7h0M446.7 405.6h0M437.5 414.2h0M433.6 400.9h0M440.8 408.8h0M420 401.6h0" stroke="#a65628" stroke-width="3.5" stroke-linecap="round" stroke-opacity="0.88" fill="none"/>
<path d="M322.5 415L324 412.9L325.2 411.3L326.4 410.2L328 409.3L330.7 408.3L334.7 407.5L339.6 406.8L345.1 406.3L350.8 406L356.4 405.8L362.2 405.9L368.4 406.4L374.7 407L380.6 407.3L385.8 407.1L390.1 406L393.4 404.1L395.8 402.3L397.6 401.1L399.2 400.5L401.5 400.3L404 400.4L406.4 400.9L408.6 401.6L410.1 402.5L411.2 403.7L412.1 405.5L412.9 407.8L413.7 410.4L414.5 413.1L415.3 415.6L416.1 418.2L416.7 420.6L417 423L417 425.1L416.5 427.2L415.6 429.6L414.3 432.1L413 434.9L411.8 437.9L411.2 441.1L411.1 444.1L411 446.7L410.6 448.6L409.9 449.9L408.2 451L405.2 452.1L401.6 453.2L397.8 454.4L394.4 456.2L391.9 458.6L390.1 461.2L388.8 463.6L387.6 465.5L386.3 466.8L384.7 467.8L382.5 468.6L379.9 469.4L377.1 470.5L374.4 472.2L372.3 474.5L370.8 477L369.5 479.4L368.4 481.5L367.3 483.3L366.2 484.9L365.3 486.3L364.6 487.2L363.7 488L361.9 488.9L359.1 489.9L355.4 490.9L351.3 491.8L347.1 492.4L343.2 492.6L339.4 492.4L335.4 491.8L331.4 490.9L327.6 489.9L324.3 488.8L321.4 487.9L319 487.1L317.2 486.2L315.8 485.1L314.6 483.5L313.5 480.9L312.7 477.4L312 473.2L311.5 468.9L311 464.7L310.5 460.6L310 456.5L309.6 452.5L309.5 448.8L309.7 445.6L310.2 443L311 440.8L312.1 438.7L313.4 436.2L314.8 433.1L316.2 429.5L317.7 425.5L319.2 421.5L320.8 417.9Z" fill="#e78ac3" fill-opacity="0.9"/>
<path d="M320.6 413.1h0M321.8 412.6h0M323.7 410.9h0M319 410.3h0M325.6 412.6h0M323.7 409.6h0M321 410.9h0M324.2 409.5h0M319.6 402.5h0M323.3 409.8h0M324.6 402.6h0M323.3 400.4h0M324.8 410.7h0M328.7 403.9h0M330.7 404.1h0M330.7 410.2h0M325.4 404.2h0M328.9 409.2h0M333.2 405.8h0M332.1 404.7h0M335.3 404.2h0M333.4 405.2h0M333.3 404.6h0M330.8 397.9h0M332.2 404.5h0M336.1 404.3h0M336.1 402h0M337 401.7h0M334.4 405.2h0M334.7 407.4h0M336.1 406.3h0M336.9 407.5h0M334 406.4h0M340.5 399.3h0M344 397.1h0M342.5 403.9h0M343.5 402.9h0M341 404.2h0M336.6 384.6h0M339.1 405.3h0M345.6 407.4h0M342.9 402.6h0M347.6 394h0M348.6 404.8h0M348.4 402.2h0M349.4 396.7h0M346.5 403.5h0M348.7 406.5h0M346.7 402.8h0M348.2 403.9h0M350.6 403.2h0M355.1 406.1h0M352.4 405.2h0M353.6 408.3h0M355.8 407.1h0M351.9 405.2h0M353.6 404.5h0M353.2 400.3h0M356.3 399.9h0M362.1 407h0M357.6 403.7h0M359.1 401.8h0M360.2 390.6h0M358.5 402h0M360.3 399.7h0M361.1 405.9h0M360.4 401.1h0M356.6 404h0M364 404.6h0M369 400.8h0M368.7 407.8h0M368.1 407.3h0M365.2 405.3h0M362.9 403.6h0M364.7 401.5h0M367.8 405.4h0M367.4 408.9h0M371.9 403h0M375.3 405.9h0M372 402.6h0M370.5 403h0M371.6 406.8h0M373.4 407.6h0M371.1 396h0M369.7 406h0M370.7 403.5h0M380.9 404h0M376.8 404.3h0M378.1 406.3h0M380 408.2h0M377.3 405.4h0M379.2 402.8h0M377.1 402.9h0M377.1 405.8h0M374.6 402.8h0M383.6 405.5h0M382.8 406.8h0M383.1 399.4h0M382 407.3h0M383.9 398.9h0M380.8 402.1h0M385.4 403.2h0M386.5 406.5h0M388.4 406.6h0M386.2 397h0M388 408h0M388.5 400.2h0M387.3 403.1h0M390.3 401.9h0M391.4 404.1h0M389.9 398.3h0M391.2 405.7h0M391.5 403.4h0M391.6 399.7h0M394.8 401.8h0M392.1 402.1h0M392.2 400.9h0M391.7 393.5h0M393.8 396.2h0M394 398.6h0M398.9 402.3h0M396.6 397h0M397.1 399.4h0M397.8 401.2h0M399.4 398.1h0M398.9 398.3h0M399.7 399.6h0M400.3 400.1h0M399.1 395.2h0M403.2 396.3h0M404.7 394.8h0M401.3 396.1h0M402.8 400.7h0M404.8 396.1h0M404.8 400.4h0M407 397.5h0M405.3 396.3h0M406.1 393.8h0M409.3 398.5h0M407.8 401.7h0M409.6 399.4h0M409.4 400.1h0M408.2 403h0M413.4 396h0M411.1 400.4h0M409.5 401.4h0M412.6 400.5h0M412.9 402.3h0M412.4 403.9h0M411.3 401.1h0M415.8 403.3h0M415.9 403h0M414.3 401.3h0M415.6 402.5h0M415.5 404h0M413.6 405.4h0M418 403.3h0M418.6 404.8h0M416.1 409.7h0M415.8 409.6h0M414.1 407.9h0M423 406.2h0M415.5 411.9h0M414.8 413.2h0M416.4 410.4h0M419.6 410.9h0M422.6 409.2h0M416.2 414.4h0M415.5 413.7h0M417.8 415.4h0M414.5 412.1h0M418.2 417.4h0M414.3 416.3h0M417.1 416.2h0M414.5 417h0M415.1 419.6h0M416.2 419.9h0M422.8 417.8h0M416 418.7h0M427.3 418.5h0M421.2 421.5h0M418.6 424h0M427.2 420.2h0M423.1 424.1h0M416.9 425h0M428 425.2h0M423.3 424.6h0M416.1 428.2h0M419.1 424.9h0M419.6 428.2h0M431.4 428h0M420.1 428.7h0M417 428.9h0M418.5 428.6h0M416.8 430.2h0M422.6 430.4h0M418 432.5h0M416.5 432.6h0M418.6 432.4h0M414.7 431.8h0M413.4 435.4h0M412.3 434h0M418.1 437.4h0M416.8 433.1h0M419.6 439.7h0M413.3 437.6h0M419.6 437.7h0M410 432.8h0M414.2 438.8h0M416 439.7h0M422.9 441.2h0M415.7 441.9h0M414.3 442.3h0M412 442.3h0M413.7 442.5h0M413.1 440.9h0M414.9 446.5h0M411.8 447.1h0M411.6 446.7h0M410.9 446.1h0M411.9 445.6h0M416.1 447.9h0M420.7 448.7h0M411.9 447.4h0M411.5 447h0M418.1 454.2h0M413.8 451.2h0M409.3 451.5h0M421.3 456.7h0M411 453.8h0M408.8 451.9h0M407.8 452h0M410.6 454h0M409.2 453.1h0M411.4 459.5h0M407.8 453.5h0M406.3 455.4h0M407.4 455.3h0M409.1 453.9h0M405.1 454.3h0M404.6 453.9h0M404.6 461.2h0M405.1 452.5h0M406.6 459.9h0M399.5 457.1h0M400.2 457.3h0M399.9 450.4h0M400.2 455.6h0M398.4 451.1h0M399.7 455h0M402.2 469.6h0M398.9 458.5h0M397.4 457h0M397.1 459.3h0M394.5 457.3h0M393 461h0M395 461.7h0M396 460.8h0M396.2 460.9h0M391.8 461.8h0M395.3 464.2h0M395.5 461.4h0M398.4 464.6h0M389.5 461.7h0M391.5 463.3h0M389.5 460.8h0M391.7 463.9h0M389.9 466.8h0M386.8 465.3h0M391.3 468h0M391.7 467.7h0M389.8 468.7h0M386.4 467.1h0M388.3 468.8h0M386 467.8h0M387.4 466.6h0M384.9 468.8h0M385 469.2h0M386.7 474.6h0M383 470.1h0M386.6 473.7h0M383.8 467.1h0M382.1 471.5h0M381.7 474.9h0M382.7 471.1h0M379.4 466.2h0M379.8 465.9h0M384.4 481.3h0M381.2 475h0M379 469.8h0M376.9 471.5h0M378 475.5h0M378 472.6h0M379.9 476.2h0M379.9 475.5h0M376.8 476.8h0M373.1 474.4h0M378.2 479.1h0M370.3 475.2h0M376.8 479.3h0M374.7 476.4h0M372 476.9h0M371.3 476.9h0M373.5 478.7h0M372.6 477.8h0M370.9 477.6h0M371.2 482.3h0M381.2 486.8h0M367.5 480.9h0M383.2 489.7h0M369 483.2h0M367.2 482.2h0M376.2 488.3h0M368 485.3h0M370.2 487.3h0M370.2 489.3h0M368.2 486.8h0M365.7 487.8h0M371.9 488.3h0M371 490.8h0M367.7 489.5h0M361.3 486.3h0M363.6 488h0M363.5 486.6h0M363.9 488.8h0M365.3 494.3h0M362.4 487.2h0M359.7 489.8h0M360 492.7h0M360.6 488h0M363.2 491h0M361 492.3h0M359 495.9h0M360 493.7h0M359 491.2h0M358.4 492.7h0M360.2 496.8h0M364.5 507.3h0M355.9 495.6h0M351.9 494.4h0M355.2 492.8h0M353.3 492.8h0M356.2 498.4h0M353.4 493.8h0M350.8 492.7h0M348.2 496h0M350.2 492.7h0M348.4 496.8h0M346.4 493.8h0M348.8 494.9h0M350.6 498.6h0M347.2 492.1h0M343.6 494.4h0M345.1 490.8h0M347.6 493.5h0M346.5 496.8h0M344.9 493.3h0M346.6 494.1h0M342.6 491.7h0M342.4 492.9h0M342.6 497.5h0M343 495.9h0M340.3 495.5h0M342.1 495.1h0M336.5 493.9h0M336.1 496.5h0M339.1 496.3h0M336.4 497.3h0M336.9 494h0M333.4 493.9h0M332 492.9h0M334.3 492.4h0M332.2 492.7h0M333.7 494.2h0M332.9 496.3h0M332.4 491.3h0M329.1 490.5h0M329.5 492.7h0M327.4 492h0M326.9 498.9h0M329.9 491.3h0M328.3 487.9h0M323.7 492.5h0M325.6 491.2h0M326.1 492.1h0M324.7 493.8h0M325.7 492.1h0M326.1 487.3h0M319.2 505.1h0M323 487.1h0M319.4 492h0M319.8 487.5h0M318.3 488.2h0M319.2 488.6h0M321.1 491.2h0M317 491.5h0M315.5 490.7h0M319.5 485.8h0M316.6 485.7h0M316.3 485.3h0M314.6 488.7h0M316.8 485.3h0M316.3 486.1h0M314.7 484h0M316 483.9h0M310.2 488h0M311.3 487.4h0M314 482.7h0M311.7 483.6h0M313.2 483.2h0M313.8 482.9h0M312.7 483h0M310.4 477.9h0M310.2 479.8h0M308.6 481.4h0M310.4 479.2h0M310.6 477.5h0M306.7 475.5h0M311.8 477.3h0M301.3 473.6h0M312.8 475.7h0M311.6 473.3h0M311.1 478.7h0M311.6 475.3h0M306.5 473.5h0M307.8 472.8h0M309.9 470.8h0M308 473.6h0M304.6 471.6h0M307.8 470.6h0M309.5 469.4h0M307.6 467.5h0M309.2 466h0M308.4 467.8h0M306.5 465.5h0M314.1 465.3h0M309.4 461.7h0M311.5 460.7h0M312 463.3h0M307 463.1h0M304.5 465.2h0M311.6 464.5h0M307.2 461.8h0M309 458.5h0M308.2 459.1h0M305.7 458.1h0M307.6 459.4h0M307.2 457.6h0M308.3 456.8h0M306.6 456.3h0M309.5 453.5h0M310.2 455.7h0M305 455.6h0M306.9 455.1h0M309.1 454.3h0M308.1 457.3h0M307.5 453.5h0M306 451.8h0M306.8 449.5h0M304 452.9h0M301.7 453h0M308.6 448.8h0M307.6 446.6h0M307.9 446.9h0M309.4 447.9h0M307.5 449h0M306.2 446.9h0M308.5 448.8h0M305.2 443.8h0M306.6 444.5h0M299.3 444.2h0M307.6 443.8h0M304.9 443.7h0M309.5 443.9h0M308.6 442.9h0M311.4 441.1h0M310.6 442.6h0M303.5 434.3h0M309.7 440.4h0M310.5 443.6h0M302.6 436.6h0M307.3 433.8h0M313.2 436.3h0M310 434.2h0M309.1 436.1h0M313.2 433.4h0M313.2 435h0M312.1 433.4h0M312.3 435.4h0M312.9 432.8h0M312.9 429.2h0M308 425.5h0M310.7 428h0M313.1 429.3h0M313 429.2h0M312.4 430.6h0M312.5 428.1h0M313.5 427.6h0M313.7 428.3h0M316.7 427.2h0M313.3 423.2h0M314.9 425.5h0M315.5 425.3h0M316.1 420.3h0M316.3 423.4h0M317.4 421.7h0M318.4 424.4h0M317.4 424.3h0M319.8 423.5h0M317.5 418.6h0M316.6 415.2h0M317.5 417.9h0M306 412.9h0M316.1 418.1h0M315.3 420.1h0M320.1 417.3h0M318.7 415.7h0M315.9 414.1h0M312.3 412.3h0M320.2 416.1h0M317.1 413.7h0" stroke="#e78ac3" stroke-width="3.5" stroke-linecap="round" stroke-opacity="0.88" fill="none"/>
<path d="M311.5 484.7L311.2 484.9L313 485.7L315.7 487.2L319 488.8L322.5 490.2L326.2 491.2L330.2 492.2L334.4 493.2L338.8 493.9L343.2 494.3L347.7 494L352.4 493.2L356.7 492.3L360.3 491.7L362.7 491.6L363.8 492L364.5 492.6L365 493.4L365.3 494.6L365.5 495.7L365.5 496.6L365.3 497.7L364.7 498.9L363.9 500.2L363 501.4L361.7 502.6L360 503.7L358 505L355.8 506.3L353.6 507.6L351.5 508.9L349.4 510.2L347.2 511.5L345.1 512.9L343 514.2L340.9 515.6L338.9 517.1L336.9 518.5L335.2 519.8L333.6 520.9L332.2 522.1L331.2 523.1L330.5 523.7L330.6 523.7L331 523.7L331.2 523.7L330.8 523.4L330.1 522.6L329.3 521.5L328.4 520.3L327.5 518.9L326.5 517.1L325.5 515.2L324.3 513.1L323.1 511.1L321.7 509.1L320.3 507.2L318.9 505.4L317.6 503.6L316.6 501.9L315.6 500.2L314.7 498.5L314 496.9L313.4 495.3L312.9 493.5L312.5 491.2L312.1 488.4L311.9 485.9L312 484.4Z" fill="#f781bf" fill-opacity="0.9"/>
<path d="M311.7 485h0M310.2 481.5h0M312.2 477.6h0M316.5 472.5h0M312.8 479.2h0M313.2 483.5h0M313.5 483.6h0M315.1 481.6h0M315 483.3h0M315.3 484.9h0M320.5 472.5h0M316.3 484.1h0M319.6 486.8h0M318.8 484.7h0M320.8 485.1h0M318.8 483.7h0M316.9 490.1h0M317.3 488.2h0M322.4 489.7h0M322.4 486.3h0M324.4 480.2h0M322.2 489.8h0M322.5 487.7h0M325 486.7h0M326.5 485.1h0M325.3 491.4h0M321 491.5h0M324.5 485.5h0M329.5 492.2h0M325.9 491.1h0M329.4 487.7h0M329.3 486.9h0M329.9 487.1h0M329.9 487.1h0M334.3 487.1h0M335.5 484.6h0M333.7 490.3h0M335.4 490.6h0M333.3 480.3h0M332.8 491h0M334.4 492.5h0M335.2 491h0M337.4 493.7h0M338.4 490.4h0M337.5 491.3h0M337.3 490.7h0M337.8 489.5h0M340.2 481.5h0M343.4 474.7h0M343.2 487.2h0M339.7 495h0M340.2 496.1h0M342.8 482.7h0M340.3 492.1h0M344.6 491h0M344.3 490.9h0M344.7 493.5h0M345.4 492.6h0M345.9 495.1h0M345.7 493.2h0M348.7 475h0M351.2 491.8h0M347.9 492.7h0M349.8 489.4h0M350.7 495.9h0M349.3 489.5h0M353.1 489.5h0M353.1 485.8h0M355.8 491.7h0M355.4 490h0M349.9 491.4h0M355 492.5h0M356.8 490.1h0M357.9 491.9h0M356.9 487.8h0M359.3 490.7h0M358 489.1h0M357.8 488.4h0M363.3 488.6h0M360.3 491.3h0M362.3 489h0M360.9 490.6h0M360.3 487.6h0M363.1 488.3h0M363.8 493.2h0M366.6 483.5h0M363.2 492.1h0M365.6 490h0M366.7 491.6h0M366.9 487.4h0M366.1 491.2h0M363.7 493.3h0M363.9 494.5h0M370.9 492.6h0M368.8 495h0M365.9 495h0M369 495.4h0M364.2 495.3h0M378 497.2h0M371.4 497.5h0M380.5 500.2h0M368.2 501h0M362.8 497.3h0M370.6 500.8h0M366 501.2h0M362.9 499.5h0M366.7 500.5h0M364.6 503.5h0M367.2 504.1h0M365.6 502h0M364.3 503.2h0M361 500.9h0M365.3 502.1h0M362.4 506.5h0M362.5 503.7h0M361.7 502.3h0M357.8 503.5h0M357.9 503.3h0M361.4 505.8h0M361.5 507.1h0M360.2 507.1h0M357 506.3h0M354.8 503.8h0M358.9 508h0M354.9 506.9h0M355.3 507.9h0M354 507h0M356.4 507.1h0M350.2 508.7h0M353 508.5h0M353.6 510.2h0M358.2 516.5h0M349.5 510.3h0M351.3 509.4h0M354.1 519.3h0M353 517.4h0M348.8 512.4h0M349.8 510.9h0M351.7 518.1h0M345.8 513h0M345.1 510.8h0M350.5 519.6h0M351.4 523h0M345.1 514.9h0M349.8 520.5h0M346.8 516.8h0M344 517.2h0M341.3 511.9h0M346.4 520.8h0M343.4 517h0M341.3 521.5h0M338.9 515.9h0M340.4 516.4h0M341.5 521.2h0M339.5 519.4h0M341.7 520.5h0M337.7 519.7h0M337.5 518.8h0M336.1 519h0M340.4 521.6h0M337.7 522.4h0M333.4 518.5h0M333.5 520.4h0M335 520.7h0M333.4 521.9h0M335.3 522.3h0M330.1 520.3h0M329.5 520.9h0M330.7 525.2h0M334.5 528.7h0M330.3 523h0M333.9 535.5h0M331.2 527h0M327.9 532.2h0M329.3 527.2h0M329.7 525h0M328.5 524.2h0M328.7 522.9h0M332.1 522.4h0M327.2 523.5h0M326.6 524h0M326 524.8h0M327 522h0M326.4 523.4h0M326.4 523.1h0M321.3 522.6h0M324.5 522.8h0M323.8 518.3h0M325.3 519.7h0M327.2 516.7h0M324.5 518.1h0M326.9 517.1h0M325 516.6h0M322 518h0M321.9 516.5h0M323.2 514.6h0M320.5 515.2h0M322.8 518h0M326.6 512.5h0M317.6 515.3h0M321.6 512.6h0M324.1 512.9h0M321.6 512.5h0M320.9 511.4h0M316 513.3h0M317.7 508.9h0M318.9 508.7h0M320 509.9h0M319.3 508.5h0M317.4 508.1h0M319.1 506.4h0M318 507.9h0M315.6 506.3h0M314.6 503.9h0M316.2 505.9h0M314.4 508.9h0M315.6 503.8h0M310.9 508.2h0M311.6 505.3h0M315.3 501.7h0M311.7 504.4h0M316 500.5h0M313.8 505.6h0M313.8 498.4h0M312.9 501h0M312.3 502.3h0M314.4 496.4h0M314.9 500h0M309.2 499.4h0M316.1 495.2h0M312.9 497.4h0M300.3 500.5h0M310.7 496.3h0M312.8 495.9h0M305.5 494.6h0M308.9 492.8h0M311.8 492.1h0M313 492.8h0M312.6 492h0M309.5 490.4h0M313.5 489.6h0M312.2 489.5h0M310.4 489.8h0M308.9 490.5h0M311.4 487h0M300.8 490.5h0M299.2 490h0M310 487.4h0M310.1 484.5h0M312.1 483.9h0M305.1 484.3h0M313 485.1h0M312.3 485.8h0" stroke="#f781bf" stroke-width="3.5" stroke-linecap="round" stroke-opacity="0.88" fill="none"/>
<path d="M277.5 433.8L279.6 430.9L281.6 427.9L283.6 425.2L285.6 422.8L287.5 421.1L289.7 419.7L292.1 418.6L294.6 417.9L296.8 417.6L298.5 417.6L299.9 418.1L301.3 419L302.5 420.3L303.6 421.8L304.2 423.5L304.4 425.4L304.2 428L303.6 431.2L303.1 434.8L302.8 438.6L303 442.6L303.4 446.7L303.8 450.9L304.1 454.8L304.1 458.4L303.9 461.7L303.5 464.8L303 467.8L302.3 470.7L301.6 473.6L300.8 476.5L300 479.4L299.1 482L298 484.1L296.9 485.7L295.8 486.7L294.5 487.4L292.9 487.9L290.8 488.3L288.1 488.7L284.8 489L281 489.1L276.8 489.1L272.7 489L268.9 488.7L265.3 488.3L261.7 487.8L258.5 487.1L256.1 486.3L254.8 485.6L254.5 485L254.5 483.8L255 481.8L255.6 479.1L256.2 476.1L256.7 472.8L257.1 469.4L257.7 465.8L258.5 462.4L259.4 459.4L260.5 456.8L261.9 454.3L263.4 451.9L265.2 449.4L267 446.9L268.9 444.3L270.9 441.7L273.1 439.1L275.3 436.5Z" fill="#a6d854" fill-opacity="0.9"/>
<path d="M276.1 428.7h0M279.9 434.2h0M266.7 423.9h0M272.3 427.7h0M276.3 431.4h0M277.9 433.1h0M282.3 431.6h0M278.1 427.2h0M278.1 425.8h0M278.2 427.8h0M283.7 428h0M281.4 428.5h0M281 426.1h0M275.5 420h0M279.3 425.4h0M284 424.7h0M283.6 423.8h0M285.1 424.3h0M285.4 424.3h0M278.6 418.1h0M283.8 419.1h0M277.1 415.8h0M283.5 420.2h0M280.1 415.5h0M287 417.4h0M283.6 415h0M287.3 417.1h0M289 421.1h0M288.3 419.2h0M288.1 414.6h0M293.2 421.4h0M289.5 417.5h0M290.4 421.2h0M293.4 414.9h0M290.2 416h0M293.3 413.1h0M290.4 414.2h0M293.6 413h0M296.8 414.4h0M295.3 419.4h0M295.6 417.2h0M299.6 418.3h0M298.9 414h0M298.6 412.4h0M299.4 414.2h0M298.9 417.6h0M301.6 411.2h0M302.7 412h0M303.3 419.1h0M301.9 414.7h0M298.3 418.5h0M302.4 416.6h0M305.7 416.2h0M302.7 418h0M316.6 411.3h0M307 419.1h0M309.4 418.6h0M314.4 415.9h0M304.4 423.4h0M305 420.9h0M304.6 421.3h0M310.4 422.6h0M307.2 426.3h0M302.4 426.4h0M307.7 424.8h0M306.9 425.9h0M307 426.4h0M307.2 428.4h0M310.7 425.7h0M308.7 428.5h0M310.4 426.9h0M304.7 429.2h0M305.1 428.6h0M306.2 428.5h0M302.6 429.9h0M306.5 429.4h0M303.8 431.5h0M307.9 435.9h0M306.4 435.5h0M306.6 433.4h0M308.2 433.2h0M304.2 435.3h0M304.3 437.4h0M302.4 436h0M305.4 436.7h0M305.6 436.5h0M302.8 437.8h0M303.6 439.6h0M311.9 442.6h0M310.3 439.4h0M302.8 440.8h0M304 439.6h0M305.9 443.7h0M300.9 445.3h0M306.9 444.2h0M303.6 445.2h0M307.9 444.5h0M305.8 444.1h0M311.9 447.1h0M305.7 447.3h0M306.5 449.8h0M305.4 450.2h0M306.6 446.9h0M302.4 446.9h0M306.1 455.2h0M313.6 453.3h0M303.8 453.6h0M304.1 454h0M305.3 453.1h0M306 452h0M316.2 457.8h0M304.6 455.1h0M312.1 454.4h0M306.4 458h0M302.4 458.2h0M306.9 456.5h0M311.5 460.8h0M305.5 458.3h0M305.7 463.8h0M305.7 460.1h0M311.1 458.7h0M306.9 458.7h0M308.9 462.5h0M302.9 462.3h0M304.2 465.9h0M305 462.2h0M306.9 463.6h0M303.3 467.6h0M309 467.2h0M310.6 465.9h0M305.2 468.5h0M306.6 467h0M307 469.1h0M307 469h0M304 468.9h0M321.2 472.4h0M304.7 473.7h0M307.4 472.9h0M310.8 473.8h0M302.6 471.6h0M302.3 477.4h0M303 475.3h0M301.2 476.6h0M301.1 474.7h0M307.8 475.9h0M301.4 479.2h0M304.9 478.8h0M299.7 477.2h0M304.1 478.7h0M299.8 478.1h0M297.3 482h0M301.8 481.7h0M302.5 480.3h0M300.5 482.2h0M298.5 480.4h0M305.2 487h0M301.5 485.1h0M299.2 483.9h0M299.6 483.4h0M298.6 486.6h0M298.4 484.9h0M301.4 485.9h0M296.9 486.7h0M297.9 488h0M297.7 488h0M299.8 487.7h0M299.1 492.4h0M298.2 494.3h0M295 488.7h0M293.5 489.3h0M295.4 496.2h0M293 492.1h0M292 489.5h0M294.3 495.9h0M294.9 496.6h0M292 492.7h0M288.6 491.3h0M290.6 487.4h0M289.7 492h0M289.2 492.2h0M286.5 496.5h0M288 495.5h0M287.8 492h0M286.2 490.1h0M286.8 488.1h0M284.9 490.7h0M282.2 491.5h0M283.2 494.9h0M285.7 492.3h0M283.5 494h0M281.5 496.9h0M279.6 491h0M279.7 489.1h0M280 494.6h0M279.2 499.7h0M278.9 490.8h0M281.1 486.7h0M271.7 494.7h0M272.9 488.8h0M273.8 493.8h0M276.3 492.2h0M276 493.3h0M275.8 494.7h0M270 500.1h0M268.7 491.5h0M271.8 492.4h0M272.2 500.5h0M270 491.5h0M271.8 499.8h0M266.3 490.2h0M268.6 489.1h0M268.2 490.1h0M268.3 491.6h0M268.1 493h0M265.5 490.8h0M263.1 488.7h0M261.6 488.9h0M264.6 487.3h0M262.8 489.4h0M263 491.6h0M261.7 487h0M256.1 493.8h0M258.2 490.6h0M259.4 490.7h0M259 491.6h0M257.8 484.5h0M257.1 484.3h0M256.1 490.2h0M252 505.4h0M256.8 483.9h0M252.4 492.5h0M246.2 499.9h0M253.7 485.7h0M251.5 486.7h0M253.4 487.7h0M254.3 485.3h0M253.3 484.1h0M252.1 485.3h0M255.4 483.9h0M253.8 482.6h0M257.7 482.9h0M256.2 484h0M250.1 483.7h0M251.8 480.6h0M252.6 477.8h0M250.6 480.2h0M249.7 479.2h0M249.9 475.3h0M252.9 477.4h0M251.6 476.3h0M253.9 476.9h0M253.7 472.9h0M256.7 472.5h0M251.3 471.5h0M255.3 473h0M257.3 468.9h0M252.4 469.1h0M244.2 471.1h0M257 472.4h0M251.1 471.2h0M252.7 468.3h0M252.1 467.3h0M248.8 465.7h0M257.6 467h0M246.8 463.3h0M247.5 464.4h0M257.8 465.6h0M256.9 462.9h0M256.4 463.9h0M260.5 463.3h0M243.3 460h0M260.3 463.1h0M254.8 462h0M259.3 461.5h0M253.4 457.7h0M253.5 459.6h0M257.8 456.9h0M258.8 459.1h0M256.7 458h0M258.3 458.3h0M262.5 458.3h0M256.7 451.4h0M261.9 454.5h0M255.6 451.4h0M252.4 450.4h0M255.9 446.6h0M262.6 453.1h0M258.4 452h0M261 453.6h0M264.1 448.7h0M259.3 448.9h0M261.2 451.8h0M257 445.3h0M261.6 451h0M264 448.9h0M263.5 446.7h0M264 446.9h0M263 446.6h0M267.2 445h0M267.3 444.9h0M265.2 442.7h0M256.9 439.3h0M266.8 442.7h0M266.6 440.8h0M268.9 441.9h0M262.9 439.2h0M268.9 440h0M269.4 441.5h0M270.3 442.2h0M269.7 436.2h0M270.7 440.9h0M271.5 440.3h0M266.9 436.8h0M270.4 436h0M265.8 433.9h0M270.7 432.6h0M272.4 439.6h0M271.8 434.5h0M272.4 437.1h0M273.7 435.3h0M271.4 433.5h0M275 432.7h0M273.5 433.1h0M274.9 433.2h0M275.5 433.2h0" stroke="#a6d854" stroke-width="3.5" stroke-linecap="round" stroke-opacity="0.88" fill="none"/>
<path d="M294.6 396.1h0M289.1 399.4h0M296.9 413.2h0M310.9 413.1h0M290.8 402.7h0M300.2 402h0M291.9 404.7h0M294.6 411h0M291.9 398.5h0M286.3 406.1h0M287.2 400.7h0M291.9 401.6h0M308.4 406.9h0M291.8 407.5h0M293.3 406.2h0M288.9 396.8h0M280.6 402.4h0M285.1 408.6h0M303.5 401.1h0M299.1 400h0M293 397.8h0M295 409.2h0M286.7 396h0M295.6 399.7h0M286.4 396h0M290.9 399.8h0M301.6 409.2h0M290 409.5h0M288.6 406h0M299.2 394.3h0M295.1 409.4h0M300 394.2h0M303.7 401h0M308.3 410.4h0M300.5 402h0M303.1 409h0M291.4 410.8h0M294.7 405.4h0" stroke="#a6d854" stroke-width="3.5" stroke-linecap="round" stroke-opacity="0.88" fill="none"/>
<path d="M299.1 336.6h0M300.5 339.9h0M302.7 335.5h0M298.4 336.5h0M300.6 336.1h0M297 340.3h0M300.6 335.8h0M303.3 335.8h0M301.3 337.7h0M296.1 336.5h0M299.7 340.9h0M300.1 334h0M299.9 335.5h0M296.7 336.2h0" stroke="#377eb8" stroke-width="3.5" stroke-linecap="round" stroke-opacity="0.88" fill="none"/>
<path d="M174.2 296.2h0M230.9 222h0M198.4 201h0M230 257.9h0M189.9 195.7h0M302.4 254.9h0M320.4 322.9h0M314.6 309.6h0M322.6 226.3h0M309.2 173.1h0M344.6 279.7h0M309.5 233.5h0M339.9 308.7h0M514.6 239.8h0M473.7 185.2h0M408.5 327.6h0M405.2 307.7h0M200.7 397.4h0M271 353.5h0M196.6 375.2h0M239.8 365.6h0M208.1 345.1h0M218.7 426.7h0M201.5 362.2h0M196.2 319.2h0M238.2 349.9h0M325.6 352.6h0M340.5 368h0M332.4 331.9h0M339.3 400.2h0M468.6 335.2h0M371.8 440.3h0M354.1 422.5h0M401.3 403h0M287.1 446.2h0M270.5 439.3h0M268.8 450.6h0" stroke="#4daf4a" stroke-width="3.3" stroke-linecap="round" stroke-opacity="0.85" fill="none"/>
<path d="M207.5 236.5h0M213.3 169.7h0M231.5 186.7h0M213.2 259.4h0M201 207.1h0M171.7 281.5h0M292.5 284.6h0M254.8 242.6h0M312.9 299.8h0M298.4 155.5h0M303 268.2h0M281.9 173.9h0M341 237.5h0M316.8 195.7h0M465 242.5h0M493.6 241h0M382.7 250h0M434.2 189.3h0M395.8 199.5h0M446.9 253.9h0M207.5 401.9h0M222.5 380h0M246.7 337.4h0M181.3 332.4h0M470.3 309.5h0M324.8 461h0M310.5 457.6h0M408 436.4h0M344.2 469.9h0M362.5 406.1h0M314.5 487.5h0" stroke="#66c2a5" stroke-width="3.3" stroke-linecap="round" stroke-opacity="0.85" fill="none"/>
<path d="M155 307.9h0M241.3 187.1h0M180 235.1h0M221.6 220.7h0M235.6 189h0M270.5 195.2h0M291.3 287.1h0M332.6 301h0M480.3 191.6h0M473.5 266.2h0M477 246.7h0M422.4 268.3h0M400.4 165.3h0M371.9 238.3h0M418.9 299.8h0M158.1 324.4h0M253 354.2h0M212.8 422.8h0M182.1 340h0M212.3 410.9h0M227.1 428.7h0M331.7 363.2h0M400.1 352.4h0M383.6 361.3h0M446.9 397.5h0M406.6 425.5h0M392.7 438.8h0M318.8 484h0M346 505.2h0" stroke="#a6d854" stroke-width="3.3" stroke-linecap="round" stroke-opacity="0.85" fill="none"/>
<path d="M155 225.3h0M218.3 274.7h0M311.4 314.1h0M249.9 260.5h0M295.9 277.9h0M310.3 302.2h0M356.2 166.8h0M482.1 237.8h0M440.8 144.3h0M494.3 210.2h0M466.4 168.9h0M385.6 225h0M383.5 252.9h0M420.2 223.3h0M405 313.9h0M446.3 265.9h0M184.1 314.4h0M168.9 394.5h0M231.5 304h0M198.5 376.8h0M229 338.8h0M353.2 380.9h0M394.5 374.4h0M329.5 423.6h0M369.8 458.8h0M394.1 459.1h0M343.8 486.1h0M318.8 441.2h0M337.2 474.4h0M369.6 460.8h0M352.9 493.9h0M329.5 515.6h0M277.6 459.9h0" stroke="#a65628" stroke-width="3.3" stroke-linecap="round" stroke-opacity="0.85" fill="none"/>
<path d="M172.4 219.2h0M229.9 195.2h0M206.1 282.2h0M166.9 299h0M189 278h0M204.1 252.9h0M168 216.9h0M168.4 283.7h0M275 260h0M283.7 249.9h0M365 204.2h0M373 255.2h0M423.4 260.3h0M188 332.8h0M242.5 373.8h0M267.5 315.2h0M385.7 348.9h0M343.2 377.3h0M434.3 376.4h0M480 313.9h0M507.4 335.8h0M439.9 387.5h0M466 407.2h0M331 408.8h0M354.7 460.2h0M298.9 465.7h0M254 479.4h0" stroke="#ffff33" stroke-width="3.3" stroke-linecap="round" stroke-opacity="0.85" fill="none"/>
<path d="M172.4 250.7h0M175.2 207.5h0M200 231.3h0M156.7 285.6h0M209.3 259.5h0M157.6 303.9h0M169.8 261.5h0M225.6 244.6h0M333.6 206.8h0M247 207.1h0M304 270.2h0M274.8 240.9h0M292.5 271h0M334.4 208.9h0M341.1 178.4h0M461.7 214.4h0M483.1 253.5h0M487 252.3h0M460 235.1h0M483.3 275.1h0M362.1 180.7h0M357.6 206.4h0M362.2 181.2h0M382.9 263.7h0M248.2 365.1h0M233.2 420.4h0M216.7 329.2h0M184.1 400.4h0M362.4 330.6h0M349.3 327.6h0M356 335.4h0M422 380.8h0M488.4 375.6h0M336.2 409.9h0M363.8 460.1h0M402.8 412.2h0M340 495.8h0M359.5 494.1h0M258.4 471.2h0" stroke="#fc8d62" stroke-width="3.3" stroke-linecap="round" stroke-opacity="0.85" fill="none"/>
<path d="M230.5 216.2h0M223 211.4h0M228.3 182.8h0M331.5 294.6h0M319 318.6h0M303.4 203.9h0M278.5 173.6h0M307.5 204.5h0M288.7 238.8h0M515.1 236.8h0M438.8 172.9h0M413.9 223h0M386.8 259.9h0M401.1 250.8h0M419.6 310.1h0M415.7 297.2h0M226.2 331.7h0M206.2 358.6h0M217.9 382.9h0M187.7 412.3h0M150 338.1h0M234.2 337.9h0M223.7 376.1h0M185.5 305.2h0M163 371.6h0M226 400h0M330.3 350.6h0M332.5 375.4h0M467 362.1h0M494.1 310.8h0M491.2 379h0M420.6 362.3h0" stroke="#e78ac3" stroke-width="3.3" stroke-linecap="round" stroke-opacity="0.85" fill="none"/>
<path d="M150.1 299.8h0M303.9 215.1h0M325.1 213.8h0M321.9 227.1h0M269.6 295.6h0M320.7 251.5h0M290.5 254.5h0M500.1 223.7h0M441.5 186.9h0M390.6 159.6h0M364.9 159.1h0M404.9 240.4h0M443 248h0M440.7 282.5h0M150.9 342.8h0M204.5 388.2h0M229.3 309.6h0M244.7 340.1h0M212 403.1h0M155.4 329.1h0M222.5 366.4h0M196 400.1h0M164 329.6h0M369.7 323.8h0M336.4 319h0M522.2 318.4h0M474.6 342.1h0M423.7 385.8h0M498.9 332.9h0M443.1 325.1h0M454.3 330.6h0M486.6 325.1h0M465 339.1h0M444.9 355.9h0M328 467h0M354.1 407.9h0M415 427.1h0M322.7 425.8h0" stroke="#8da0cb" stroke-width="3.3" stroke-linecap="round" stroke-opacity="0.85" fill="none"/>
<path d="M152.2 229.5h0M434.1 177.4h0M462.3 206.3h0M479.6 235.1h0M473.9 206.5h0M367.5 201.9h0M416.4 190.9h0M425.1 202h0M359 217.8h0M434.9 202.5h0M451.6 247.8h0M416.9 303.6h0M428.7 322.3h0M185.1 385.5h0M229 354.6h0M207.4 385.7h0M268.1 323.5h0M355.1 363.6h0M380.8 386.1h0M447.6 318.7h0M460.8 368.2h0M461.8 407.2h0M503.3 333.5h0M363.7 463.4h0M270.2 485.1h0M274.1 474.3h0" stroke="#e5c494" stroke-width="3.3" stroke-linecap="round" stroke-opacity="0.85" fill="none"/>
<path d="M150.9 302.9h0M273.8 269.1h0M291.2 261.5h0M281.9 246.3h0M313.9 180h0M295.5 308.9h0M483 211.2h0M446.9 176.5h0M480.9 233.5h0M463.2 182.1h0M490.6 185h0M473 177.7h0M395.9 176.1h0M387.8 182.4h0M497.1 281.9h0M376.3 325.9h0M353.4 391.4h0M378.9 324.7h0M359 373.6h0M347.5 396.8h0M469.5 290.7h0M420.5 341.9h0M468.5 312.3h0M482 293.5h0M455.2 323.1h0M498.9 351.3h0M495.7 388.7h0M329.9 457.4h0M353.1 428.2h0M377.4 422.4h0M335.9 512.3h0M269.9 489.6h0M263.6 457.7h0" stroke="#e41a1c" stroke-width="3.3" stroke-linecap="round" stroke-opacity="0.85" fill="none"/>
<path d="M303 272.4h0M300.7 293h0M252.8 257.8h0M271.2 286.3h0M336.7 275.3h0M471.6 274.4h0M418.3 257.3h0M407.4 186.9h0M391.9 252.1h0M434.8 297.6h0M185.6 364h0M247.3 326.1h0M248.7 393.2h0M181.1 321.6h0M219.9 404h0M318.8 345.8h0M330.7 359.7h0M317 397.4h0M323.4 379.3h0M367.4 394.1h0M476.2 323h0M433.6 359.2h0M484.3 295.5h0M514.3 314.3h0M319.9 417.7h0M352.5 450.5h0M302.7 425.4h0" stroke="#ff7f00" stroke-width="3.3" stroke-linecap="round" stroke-opacity="0.85" fill="none"/>
<path d="M227.3 123.2h0M243.6 122.2h0M242 117.1h0M238.1 120.8h0M238.5 116.4h0M239.5 123.4h0M236.3 116.9h0M167.9 184.8h0M168.4 190.9h0M169.2 189.2h0M169.8 178.3h0M167.2 182.8h0M235.4 178h0M220.1 255.3h0M201.1 221.8h0M188.8 257.5h0M198.6 222.7h0M216.2 262.7h0M205.2 202.9h0M221.9 195.3h0M215.1 231.5h0M218.8 237.2h0M167.4 224.8h0M206.8 192h0M233.6 245.8h0M207.8 236.2h0M161.4 272.1h0M160.7 230.4h0M229.9 183.3h0M204 179h0M209.3 184.1h0M187.5 258.2h0M200.1 216.9h0M182.3 198.7h0M147.7 294.5h0M201.7 195.5h0M180.3 279.7h0M186.5 284.4h0M224.2 210.8h0M177.8 271.3h0M162 239h0M221.5 183.2h0M184.1 218.8h0M192.9 184.4h0M215.9 231.7h0M189.5 192.9h0M194.9 200.1h0M213.2 251.3h0M184 235.1h0M167.6 278.7h0M229.1 237.5h0M184.4 211.7h0M203.3 207.7h0M198.1 247.8h0M153 261.2h0M216.7 196.7h0M187 228h0M219.9 240.6h0M177 199.7h0M192.5 226.8h0M162.2 281.6h0M226.2 177.7h0M154.6 245.4h0M174.2 212.6h0M228.5 229.4h0M182.1 231.6h0M223.5 216.7h0M211.5 195.4h0M193.3 243.9h0M225.2 185.4h0M180.3 224.7h0M190.7 278.5h0M163.9 244.8h0M228.2 210.8h0M183.3 241.8h0M194.9 189.2h0M184 245.3h0M189.4 190.2h0M169.6 268.6h0M148.7 289.2h0M187.8 273.1h0M190.8 226.2h0M170.2 227.5h0M192.3 277.8h0M219.4 252.9h0M221.4 192.7h0M201 192.2h0M154 287.4h0M180.4 235.2h0M177.2 284.8h0M167.1 233h0M184.7 199.1h0M145.7 299.3h0M200.8 275.5h0M234 196h0M214.4 229.8h0M165.8 218.2h0M168.5 247h0M227.8 247.7h0M204.6 253.5h0M214.7 215.7h0M212.2 219.2h0M154 276.6h0M195.3 249.5h0M161.9 290.3h0M162.3 269.6h0M160.4 269h0M236.7 250.6h0M172.6 239.2h0M211.2 270.7h0M224.4 182.2h0M165.3 221.3h0M151.5 248.3h0M223.4 251.2h0M190.5 240.1h0M186.9 228.5h0M192.7 208.4h0M177.5 214h0M151.3 254.1h0M230.7 203h0M153.7 255.2h0M143.8 303.5h0M188.1 284.5h0M195.2 199h0M190.9 202.7h0M193.4 201.2h0M183.4 274h0M235.2 261.5h0M231.1 233.1h0M198.9 259.8h0M228.4 184.6h0M146.6 274.3h0M220.4 182h0M186.3 207.9h0M227.6 214.6h0M221.7 233.5h0M212.6 254.1h0M201.3 268.5h0M169.6 230.9h0M212.2 267.8h0M158.1 268.2h0M178.6 215.2h0M203.5 242.2h0M175.3 251.9h0M208.8 209.6h0M228.2 240h0M192.8 196.1h0M161.6 238.1h0M175.2 263.6h0M192.6 239.2h0M164.6 231.3h0M194.6 241.8h0M165.9 253.8h0M205.3 188.3h0M235.8 179.8h0M206 198.2h0M162.2 222.1h0M205.3 186.2h0M210.9 201h0M185.3 275h0M176.1 292.4h0M156.2 263h0M201.1 228h0M190.6 277.3h0M177.7 217.8h0M214.8 174.8h0M211.3 220.9h0M207.3 189.4h0M201.6 200.6h0M194.4 269.3h0M221 241.5h0M211 201.2h0M198.1 241.3h0M223.1 187.9h0M223.5 251h0M216.3 219.6h0M166.3 223.2h0M194.5 199.7h0M149 287.1h0M214.7 253.4h0M177.5 203.4h0M190 199.3h0M168.5 293.8h0M147.8 270.4h0M169.7 221.1h0M183.5 270.8h0M215.8 203.7h0M164.8 216.5h0M147.6 302.8h0M175.8 203.6h0M228 192.8h0M225.1 230.6h0M227.7 240.2h0M153.4 304.5h0M190.3 266.9h0M213.9 189.8h0M228.7 260.6h0M150.4 279h0M169.9 221.8h0M231.4 253.6h0M196 257.2h0M177.7 240.8h0M203.6 238h0M172.4 234.6h0M170.3 235.8h0M210.3 179.6h0M205 276.1h0M229.8 259.8h0M180.8 280.2h0M218.9 184.7h0M203.4 218.2h0M157.2 248.9h0M178.7 215.2h0M179.5 292.7h0M149.3 262.7h0M174.1 295.8h0M231.5 248.2h0M186.3 274.6h0M228.2 174.1h0M216.1 244h0M224.4 266.7h0M191.7 240h0M172.2 202.8h0M168.2 293.7h0M230.2 201.8h0M175 276.7h0M156.4 242.7h0M198.2 204h0M225.1 260h0M207.2 206.3h0M237.8 257.1h0M167.4 296.8h0M211.9 208.9h0M144.9 289.2h0M174.5 287h0M142.8 288.6h0M176.1 241.8h0M225.1 247.9h0M223.5 187h0M165.8 289.9h0M179.3 264.5h0M273.2 236.5h0M316.3 232.7h0M284.6 157.1h0M279.5 257.3h0M307.9 297.1h0M276.2 282h0M306.2 205.9h0M321.6 202h0M282.1 193.3h0M259.4 195.4h0M310.7 218.3h0M317.9 271.3h0M324.1 267.2h0M300.8 254h0M292.9 195.3h0M291.5 268.3h0M262.2 201.8h0M271.6 275.1h0M303 154.7h0M327.9 234.6h0M298.6 190.3h0M267 182.4h0M292.9 242.4h0M270.5 224.1h0M305.2 195.4h0M292.5 243.4h0M277.3 168h0M302 213.6h0M257.6 267.7h0M320.9 254.7h0M306.4 236.5h0M338.1 259h0M301.1 310.2h0M275.9 250.9h0M255.7 245.5h0M269.3 213.8h0M314.8 273.7h0M264.6 203h0M287 175.2h0M314.1 277.8h0M280.7 263h0M308.6 239.6h0M336.2 243.7h0M268.1 219.5h0M292 300.8h0M326 304.5h0M273.7 290.2h0M300.8 268.2h0M317.9 194.4h0M274.6 212.9h0M281.3 225.2h0M281.6 212.7h0M277.1 267.7h0M297.3 248.3h0M336.9 231.3h0M284.1 224.5h0M307.4 199.5h0M295.8 221.8h0M271.4 221.8h0M290.8 156.8h0M273.2 289.9h0M281.8 258.1h0M290.2 260.9h0M278 225.2h0M321.2 185.1h0M318.6 282.5h0M293.2 241h0M339.9 270.7h0M289.3 155.5h0M307.1 309.3h0M338.2 253.7h0M276.3 212.2h0M317.3 182.9h0M269.6 207.9h0M291.1 202.8h0M289.2 287.8h0M335.5 248.2h0M274.4 198.2h0M325.4 270.1h0M318 296.6h0M307.2 319.1h0M296.6 156.7h0M298 180.6h0M309.6 194.9h0M311.9 176h0M292.7 175.1h0M259.5 242.5h0M258.6 270h0M307.4 270h0M309.6 272.1h0M301.9 229.1h0M297.4 211.6h0M326.5 291.9h0M331.3 298.6h0M277.5 203.9h0M299.6 250.2h0M297.4 288.5h0M322.5 317h0M329.9 218.3h0M333 279.4h0M266.4 227.6h0M284.7 172.8h0M301.6 290.4h0M289.7 165h0M323 218.8h0M275.7 184.9h0M295.2 275.1h0M315.3 267.5h0M290.9 309.5h0M262.8 285.7h0M339.6 255.9h0M298 155.5h0M302.2 212.2h0M290.9 263.7h0M329 300.7h0M302.2 234.2h0M291.5 183h0M285.2 208.9h0M318 232.3h0M274.7 226.9h0M304.4 197.7h0M303.5 316.2h0M276.9 201.7h0M287.8 175.4h0M261 215h0M269.9 237.3h0M324.6 214h0M307.7 217.5h0M266.8 189.6h0M261.7 245.9h0M278.1 299.1h0M315.6 294h0M330.6 261.1h0M306.7 306.8h0M329.5 291.3h0M269.5 289.4h0M251 215.8h0M263.9 274.6h0M336.8 257.6h0M269.6 233.9h0M321.8 285.6h0M304.1 242.9h0M292.2 296h0M316.2 189h0M312.4 263.6h0M266.9 259.4h0M266.8 243.8h0M269 202.4h0M314.6 274.6h0M299.1 179.8h0M294.1 157.6h0M330.3 295.8h0M341.5 279.9h0M324.2 239h0M302.9 188.5h0M311.4 258.2h0M281.4 245.2h0M297.9 178.5h0M293.5 252.5h0M315.7 301.8h0M331.1 274.5h0M296.2 296.5h0M293.6 209.8h0M287.9 187.6h0M291.1 168.3h0M322.6 307.5h0M285 238.4h0M308.7 315.8h0M293.1 176h0M310.9 262.6h0M263.7 279h0M265.3 198.4h0M325.1 297.3h0M308.1 233.9h0M255.7 194.1h0M283.3 290.9h0M314.6 198.2h0M288.2 300.5h0M284.2 276h0M274.3 282.7h0M275.7 241.9h0M277.8 198.9h0M253.6 195.5h0M292.3 276.7h0M276.2 224.3h0M306.6 211.6h0M278.2 231.8h0M312.2 263.7h0M299.3 302.4h0M267.1 258.7h0M316.7 181.8h0M294.2 228.7h0M253.5 277.4h0M289.7 239.3h0M319.4 183.9h0M310.8 183.3h0M264.5 183.3h0M316.8 246.6h0M290.9 186.9h0M263.1 242.1h0M286.6 180.7h0M298.8 271.8h0M308.2 163h0M293.5 310.4h0M287.5 244.1h0M327.3 213.4h0M289.9 300.8h0M254.5 214.8h0M259.7 238.5h0M267.5 233h0M253.9 197.1h0M300.8 254.5h0M278.1 262.7h0M284.6 170.2h0M300.4 213.9h0M294.9 254.6h0M337 280.9h0M304.3 292.7h0M316.3 259.6h0M283.5 207.4h0M261.1 212.6h0M329.4 309.6h0M274.4 251.7h0M332 221.8h0M297.3 299.9h0M275.9 250.2h0M297.6 290.4h0M309.3 228.5h0M305.8 311.4h0M301.7 225h0M304.7 317.3h0M263 208.3h0M249.8 259h0M273.4 200.8h0M323.3 228.2h0M316.4 265h0M336 260.5h0M307.5 273.5h0M306 276.7h0M291.6 311.3h0M269.1 252.2h0M320.1 209.2h0M265.3 202.6h0M327.3 235.1h0M299.7 302.9h0M302.2 195.8h0M331.9 273.8h0M336.1 289.2h0M329.2 235.2h0M308.8 310.9h0M276.6 185.3h0M311.3 298.7h0M286.1 230.6h0M295.5 228.6h0M276.9 275.5h0M324.5 252.3h0M304 274.3h0M320.2 222.8h0M258.7 233.6h0M260.3 243.9h0M262.8 213h0M278.8 229.4h0M291.5 289h0M300 219.1h0M333.8 221.7h0M287.4 296.6h0M308.5 230.6h0M320.9 319.8h0M278.9 168.1h0M275.6 193.3h0M269.2 260.5h0M282.1 214h0M334.6 231h0M318.2 261.9h0M259.2 236.1h0M288 264.6h0M318.5 273.4h0M288 187.9h0M260.7 203h0M275 284.9h0M292.4 210.6h0M284.8 207.6h0M309.3 193.8h0M276.5 184.6h0M319.7 240.8h0M300.3 185h0M316.5 273.7h0M254 243.2h0M292.7 222.6h0M293.9 277.2h0M326.5 281.5h0M273.9 291h0M305.7 192.3h0M297.4 300.8h0M297.9 165h0M302.9 173.6h0M334.2 248h0M257.6 232.2h0M336 293.2h0M302.4 176.2h0M317.9 188.7h0M301.2 179.4h0M304.5 256.7h0M302.7 230.4h0M312.3 188h0M294.8 210.9h0M288.4 246.7h0M258.2 273.2h0M261.1 252.7h0M269.9 199.3h0M309.8 243.9h0M348.6 173.6h0M347.5 167h0M352.1 176.9h0M341.4 164h0M339.9 161.4h0M350.6 165.2h0M348.3 161.1h0M343 179.9h0M341.8 170.5h0M342 181h0M354.6 177.4h0M342.8 178.3h0M350.4 172.7h0M353.1 175.4h0M337.8 171.4h0M350.5 168h0M449.1 206.5h0M457.8 211.5h0M437.2 161.5h0M503.7 236.9h0M501.5 247.4h0M495 270.1h0M493.6 265.6h0M477.1 246.2h0M512.1 249.7h0M512.3 253.3h0M475.5 188.4h0M490.6 228.3h0M500.4 215.1h0M449.6 196.3h0M468.9 238.8h0M476.2 191.6h0M471.8 184h0M471.6 205.5h0M468.6 250.9h0M461.7 229.9h0M489.3 265h0M489.4 212.8h0M483.2 235.3h0M486.6 239.4h0M455 188.6h0M503.4 233.9h0M488 231.1h0M476.5 204.9h0M471.2 223.8h0M470.2 213.4h0M467.9 269.1h0M469.2 262.7h0M489.7 221.1h0M492.3 250.9h0M490.4 265.6h0M491.1 248.6h0M485 242.2h0M467.7 170.3h0M489.8 261.2h0M460.2 194.6h0M503.2 235.9h0M505.4 256.9h0M442.6 156.7h0M451 204.8h0M491.9 200.4h0M464 227.3h0M512.3 240.5h0M463.5 167.2h0M434.3 163.7h0M450.4 160.9h0M453.6 190.9h0M461.5 165.6h0M481.3 184.7h0M513.5 249.7h0M460.4 196.4h0M470.8 255.5h0M455.6 160.2h0M486.9 264.1h0M468.1 192h0M470.7 216.5h0M456.9 187h0M461.4 175.9h0M495.8 209.7h0M484.7 269.9h0M467.7 258.6h0M465 271.8h0M490.5 257.9h0M472.3 205.2h0M503.4 269.5h0M460.8 223.7h0M493 217.7h0M501 246.3h0M499.7 269.9h0M452.4 168.9h0M512.4 260.5h0M465.5 174.2h0M463.6 230.8h0M472 202h0M456.5 161.6h0M472.4 237h0M489.5 193h0M501.4 231.9h0M471.3 210.9h0M485.2 218.3h0M511.5 235.9h0M461.1 205.8h0M497.3 271.6h0M456.4 215.8h0M466.5 182.2h0M507.3 232.9h0M484.7 254.1h0M463.9 219.3h0M509.6 271.8h0M511 267.2h0M485.4 227.7h0M465.7 167.9h0M460.1 219.7h0M474.6 198.4h0M504.9 252.3h0M472.1 245h0M494.6 230.9h0M504.4 246.8h0M477.2 239.9h0M471.5 171h0M472.3 250.9h0M448.8 175.2h0M456 193.5h0M503.4 243.4h0M475.9 236.8h0M479.9 227.3h0M462.6 204.6h0M485.1 263.5h0M479.3 265.2h0M462.5 227.7h0M467.2 203.9h0M500.5 232.4h0M479.2 236.3h0M487.5 257.3h0M489.3 242.3h0M488.6 270.6h0M482.6 182.4h0M445.7 164.3h0M502.9 223.2h0M469.5 252.2h0M464.2 236.4h0M468.4 249h0M492.3 201.2h0M505 268.4h0M449.1 162.7h0M460.8 271.7h0M453.3 163.9h0M485.2 181.6h0M469.3 234.7h0M495.4 252.9h0M478.1 235.4h0M444.4 161.8h0M485.5 185.4h0M446.9 180.4h0M477.8 228.1h0M446.7 159.3h0M482.9 230.8h0M463.9 232.1h0M488 243.2h0M502.8 223.2h0M486.2 225.6h0M502.1 229.9h0M438.7 165.7h0M459.6 166.4h0M479.2 247.6h0M488 213.5h0M479.8 199.8h0M484.1 179.7h0M501.6 239.3h0M506.3 236.5h0M466.7 200.9h0M481.9 243.6h0M454 208.2h0M437.7 170.3h0M514.4 272.1h0M499.2 271.2h0M443.4 186.4h0M486.4 237.3h0M417 252.3h0M423.5 266.6h0M418.5 258.3h0M414.4 257h0M415.6 259.5h0M425.3 260.8h0M420.6 266.5h0M418 268h0M418.2 268.6h0M417.8 268.2h0M421.7 267.2h0M424.2 215.9h0M373.4 223.9h0M365.3 209.2h0M389.2 251.5h0M419.9 176.3h0M374.2 154.1h0M420.1 187.6h0M410.8 227.8h0M383.3 268.5h0M394.5 203.6h0M426.2 173h0M412.5 176.1h0M369.3 172.4h0M382.9 202h0M381.5 247.6h0M403.3 224.6h0M388.7 270h0M403 243.8h0M405.6 193.2h0M388.1 167.1h0M377.9 181.3h0M427.3 215.5h0M410.1 221.4h0M379.4 184.7h0M400.7 187.1h0M415 194h0M366.5 179.5h0M429.1 221.9h0M390.1 157.1h0M425.5 224.7h0M400.4 176.3h0M381.1 220.7h0M396.6 235.8h0M422.4 223.4h0M405.5 168.7h0M380.5 223.1h0M404.8 242.7h0M381.8 165.5h0M373.5 197.2h0M401.2 173.7h0M379.4 258.1h0M375 197.9h0M383.4 180.2h0M397.5 172.7h0M414.1 188.9h0M409.2 168.2h0M391.3 192.4h0M414.4 174.9h0M379.8 185.8h0M416.8 185.5h0M377 184.4h0M422.1 200.5h0M419.3 210.1h0M410.4 163.7h0M411.4 192.8h0M359.7 212.1h0M409.9 201h0M377.8 203.6h0M420.3 199.1h0M385.9 214.7h0M377.8 261.5h0M382.9 169.4h0M403 202.4h0M356.6 205.8h0M390.3 215.3h0M374 165.3h0M425 219.4h0M399.2 179.5h0M392.5 197.1h0M402.3 237.7h0M375.9 243.4h0M376.6 219.9h0M375 210.9h0M417.9 208.2h0M372 233.2h0M377.5 216h0M407.9 166.4h0M370.4 158.8h0M402.5 201.6h0M415.4 198.4h0M372.1 162.7h0M366.3 217.6h0M370.1 218h0M432.7 216.2h0M401.7 167.9h0M400.1 189.8h0M392.7 255.4h0M385.7 193.5h0M374 181.8h0M358.5 210.6h0M381.8 185h0M383.5 201.7h0M382 181.3h0M380.3 216.4h0M396.8 213.4h0M375.4 254.4h0M387.7 203.5h0M411.6 231.4h0M407 176h0M411.6 219.4h0M359.7 192.8h0M383.2 260.1h0M403.4 215.9h0M422.9 176.6h0M419.9 190.2h0M408.6 176.7h0M369.8 154.7h0M429.5 204.4h0M426.2 177.2h0M403.4 178.2h0M392.9 233.7h0M402 238h0M378.1 272.5h0M376.9 237h0M376.6 189.3h0M393.9 201.7h0M413 208.6h0M385.7 174.4h0M416.6 186.5h0M380.8 206.7h0M421.5 216.7h0M414.8 214.5h0M389.9 212.3h0M391.6 211.6h0M387.3 268.6h0M396.9 173.7h0M390.7 234.3h0M382 179.9h0M391.5 181.6h0M392.1 223h0M392.2 166.2h0M386.3 186.1h0M384.8 168h0M395.6 184h0M409.8 223.9h0M432.9 204.9h0M401.3 189.4h0M391.6 216.5h0M419.1 181.5h0M403 204.2h0M395.4 170.6h0M386.4 225.3h0M377.6 177h0M409 185.4h0M396.2 217.4h0M414.6 166.8h0M393 172.9h0M375.2 191.7h0M426.9 196.5h0M401.4 171.5h0M363.5 178.2h0M411.8 179.4h0M418.7 209.3h0M370.5 180.6h0M368.2 214h0M373.3 199.9h0M379.3 204.7h0M390.6 237.2h0M394.9 221.4h0M367.5 224.5h0M381.6 207.6h0M382.7 259.5h0M394.4 235.9h0M380 254.3h0M421.3 212.6h0M431.7 221.8h0M404.8 232.4h0M421.5 225h0M392.8 178h0M407.2 220.2h0M406.3 213.2h0M369.3 234h0M373.4 176.7h0M393.8 220.9h0M363.9 169.2h0M392.7 214.4h0M411.8 235.8h0M387.3 189.6h0M378.9 196.9h0M452.1 263h0M437.4 271.8h0M419.4 294h0M408.2 301.3h0M399.3 303h0M428.7 267.8h0M422.5 298.8h0M438.9 277.5h0M449.1 286.2h0M405.1 313h0M422.4 315.7h0M432.5 259.8h0M417 290.8h0M433.8 270.2h0M424 326.7h0M453.9 261.5h0M436 240.7h0M408.2 329.3h0M397.3 304.5h0M424 323.2h0M404 307.5h0M427.9 278h0M407.8 301.4h0M409.7 319h0M419.9 304.5h0M436.4 278.2h0M410.8 325h0M399.4 303.7h0M449 239.9h0M436.2 277.5h0M421.9 295.2h0M437.7 309.8h0M451 268.9h0M425.1 323.6h0M405 294.8h0M432.6 255.7h0M424.3 306.1h0M435.4 312.7h0M435.2 287.7h0M429 318.1h0M447.6 291h0M400.5 307.4h0M420 326.7h0M423.3 292h0M418.5 309.7h0M436.6 314h0M447.1 289.8h0M436.9 268.6h0M414.3 299h0M433.2 246h0M408.6 321.7h0M428.1 282.6h0M430.5 316.8h0M418.4 303.2h0M451.1 242.9h0M419.8 310.5h0M442.8 304.5h0M427 288.5h0M405.7 298h0M441.3 250.4h0M411.8 300.8h0M440.6 284.8h0M406.6 298.5h0M428 296.4h0M409.9 320.6h0M418.3 305.8h0M444.9 258.9h0M406.8 311.8h0M448 248.6h0M439.2 314.2h0M411.7 323.6h0M410.7 308.3h0M435 293.2h0M440.8 306.7h0M429.1 313.7h0M443.6 289.1h0M426.1 287h0M424.8 302.6h0M430.9 244.6h0M450.2 275.3h0M435.5 304.2h0M405.9 326.2h0M432.1 255.7h0M402.3 297.6h0M413.9 331.7h0M427.5 297.2h0M430.8 319.2h0M435.5 274.4h0M408.7 316.2h0M444.8 291.2h0M397.4 302.8h0M439.3 294.8h0M499.3 287.9h0M494.5 293.8h0M496.1 290.8h0M489.7 289.1h0M495.8 287.8h0M500 286.8h0M492.3 283.5h0M490.8 283.4h0M182.5 335.6h0M209.1 407.9h0M213.3 335.6h0M205 344h0M246.6 306.9h0M206 410.4h0M237.4 389.9h0M187.4 355h0M229.5 293.3h0M228 430.3h0M187.9 420.2h0M187 308.1h0M211.7 311.4h0M164.2 345.6h0M203.1 310.1h0M243.4 377.3h0M250.4 304.7h0M197.2 326.5h0M258.3 358.7h0M213.7 413.6h0M157.6 345.5h0M209.8 349.2h0M193.8 362.9h0M255 338.5h0M231.2 410.4h0M199.5 376.4h0M254.3 366.1h0M203.2 367.5h0M210.6 374.8h0M217.7 413.3h0M254.4 305.2h0M183.7 304.8h0M233 311.3h0M234.7 376.7h0M232.5 364.6h0M256.1 363.8h0M182 362.6h0M224.3 414.1h0M171.9 310.2h0M228.6 394h0M200.1 403.3h0M156.8 324.4h0M240.2 406.7h0M170.2 374.7h0M217.2 383.7h0M258.3 299.8h0M215.5 401.5h0M193.8 338.1h0M205.1 327.7h0M223.6 389.5h0M166.1 379.8h0M240.9 345.8h0M216.9 400.1h0M253 384.5h0M241.3 360.3h0M209.2 310.3h0M211.3 310.8h0M165.3 317.8h0M216.2 368.7h0M207.6 304.7h0M254.7 317.9h0M235.8 306h0M238.1 383.6h0M160.3 358.8h0M246.6 366.5h0M179.5 314.9h0M265.1 318.7h0M274.8 319.4h0M252.3 370.5h0M165.4 358.2h0M213.9 291.8h0M168.3 326.5h0M218.2 300.7h0M234.2 409.8h0M188 326.2h0M249.6 336.8h0M227.1 302.8h0M209.8 396.8h0M190.7 395.1h0M239.9 375.3h0M227.5 408.8h0M216 337.8h0M228.6 390.2h0M203.9 377.5h0M186.4 345.7h0M194 372.4h0M255 360.3h0M273.9 338h0M193.1 367.8h0M169 354.6h0M202 359.4h0M214.5 320.1h0M246.2 357.8h0M192.9 327.8h0M203.4 421.3h0M249.3 382.9h0M194.5 411.7h0M182.7 310.8h0M256.8 378.9h0M192.3 320.7h0M224.6 341.6h0M215.7 292.3h0M208.4 401.5h0M217.9 334.6h0M177.8 393.6h0M223.8 403.6h0M225.3 419.5h0M161.8 343.9h0M169.5 371.2h0M261.8 346h0M171.3 359.5h0M193 337.5h0M160 356.5h0M190.5 319.6h0M199.2 311.8h0M227.3 393.1h0M250.3 353h0M267.3 315.7h0M234.7 288.5h0M249.2 345.2h0M255.2 367.6h0M225.1 389.7h0M177.4 396.7h0M222.8 306.2h0M252.8 304.9h0M240.2 290h0M257.5 343.7h0M226 388.4h0M207.3 314.6h0M226.2 363.3h0M186.5 339.8h0M268.6 322.7h0M204.3 396.6h0M255.3 354h0M230.5 409.9h0M176.1 370.7h0M207.2 306.8h0M260.3 328.7h0M203.5 337h0M275.1 327.3h0M163.2 316h0M239.9 290.7h0M194 346h0M246.6 392.8h0M225.3 404.7h0M241.8 310.9h0M225.3 402.5h0M200.9 356.3h0M176.2 346.8h0M197.3 303h0M168.1 361.3h0M156.8 351.8h0M178.3 328h0M163.1 338.3h0M186.3 326h0M163 361.6h0M228.9 312.8h0M205.4 406.1h0M198.3 382.6h0M191.3 406h0M164.3 338.5h0M209 382.6h0M253.8 308.3h0M231.9 396.1h0M254.2 370.5h0M274.3 342.7h0M168.2 383.4h0M205 306.7h0M187.8 383.2h0M211.8 357.9h0M172.8 356.9h0M184.3 359.5h0M220.1 300.5h0M216.3 314.9h0M184.3 352.2h0M235.6 321.4h0M256.8 386.2h0M243.9 296.2h0M267.1 346.9h0M222.1 415.2h0M212.7 417.9h0M185 389.7h0M201.1 384h0M271.2 349.9h0M265.1 356.9h0M164.8 345.8h0M257 319.4h0M262.6 332.4h0M177.6 365.1h0M245.4 336.5h0M215.2 406.5h0M259.6 341h0M222.4 362.9h0M196.5 334.4h0M237.2 361.4h0M268.1 324.5h0M255.8 351.3h0M188.4 303.8h0M233.3 400.8h0M237.4 319.9h0M228.8 370.1h0M212.5 398.6h0M153.5 344.8h0M233.5 303.4h0M187.5 350h0M171.9 311.2h0M245.9 295.9h0M190.6 418.4h0M181 384.6h0M192.5 378.9h0M197 341.9h0M200.4 400.3h0M257.7 312.6h0M242.8 321.4h0M218.5 428.5h0M236.6 405.4h0M193.7 368.9h0M213.8 312.6h0M221.5 371.7h0M210.2 306.5h0M258.2 340.9h0M244.2 391.1h0M223.5 379.9h0M205.9 343.2h0M247.8 302h0M157.4 347.8h0M229.5 399.1h0M166.6 325.2h0M159.8 345.3h0M198.4 305.7h0M154.6 358.4h0M231.4 394.6h0M224.1 339h0M181.6 334.1h0M228.2 290.6h0M164 342.6h0M209.7 341.2h0M203.1 401.5h0M183.2 317.4h0M204.8 365.8h0M268.1 343.7h0M252.7 345.2h0M253.4 320.9h0M228.6 417.5h0M218.1 370.1h0M193.9 395.8h0M175.7 350.2h0M241.4 318.9h0M232.9 425.8h0M216.7 334.2h0M240.7 305h0M260.3 337.1h0M242.1 305.7h0M209.4 344.3h0M250.7 328.7h0M270.3 313h0M253.7 310.8h0M233.3 286.6h0M252.4 352.9h0M229.8 396.2h0M203 347.8h0M202 358.9h0M231.8 338.4h0M174.4 317.7h0M219.7 296.7h0M271.5 348h0M223.7 421.1h0M250.2 366.6h0M244.3 351.1h0M217 294.2h0M270.7 317.8h0M208.9 345.6h0M178.5 371.3h0M186.4 355.5h0M173.3 386.4h0M199.3 406.3h0M250.9 296.2h0M257.4 356h0M178.2 328.5h0M161.1 372.6h0M216 396.5h0M262.9 358.3h0M232.8 356.2h0M220.6 397.3h0M160.7 369.2h0M237.2 316.7h0M180.8 390.5h0M249.1 314.4h0M234.3 302.9h0M164.9 347.5h0M182.4 346.6h0M209.5 319.3h0M262.3 373.5h0M244.8 395.7h0M207.9 309.5h0M200.7 419.4h0M182.2 331h0M213.8 309.4h0M215.6 346.9h0M223.9 299.8h0M251.9 345.1h0M154.6 352.1h0M210.2 420.4h0M182.3 350.6h0M250.3 298.9h0M225.7 384.1h0M214.7 305.9h0M175.4 318.3h0M190.5 411.5h0M253.5 364.1h0M242 369h0M201.9 309.1h0M249.1 379.8h0M235.9 364.4h0M229.5 327.2h0M225.5 420h0M237.6 364.5h0M263.2 323.6h0M218 342.8h0M178.1 356.7h0M179.8 371.7h0M232.6 298.1h0M192.5 382.7h0M215.6 331h0M212.9 349.7h0M201.5 324h0M227.9 375.9h0M159.2 330.2h0M177 391.3h0M200 312.8h0M186.6 339.3h0M247.5 370.7h0M265.5 328.1h0M350 389.3h0M368.8 363.7h0M346.5 323.3h0M359.6 396.9h0M372.2 360.7h0M347 344.5h0M333.8 346.9h0M323.8 356.7h0M324 340.6h0M338 382.1h0M371.7 386.2h0M371 359.6h0M364.4 331.1h0M368.4 327.4h0M346.8 389.1h0M348.6 383.5h0M360.6 373.8h0M392.7 387.5h0M386.9 337.9h0M357.2 379h0M361.2 396.9h0M330.3 395.6h0M340.9 340.8h0M373.6 341.3h0M336 395.5h0M357.1 391.9h0M378.3 378.7h0M377.8 359.6h0M358 342h0M335.7 389.7h0M348.4 333h0M348.7 398.6h0M342.7 351.4h0M320.5 390.8h0M363.8 374.3h0M361.4 396.1h0M339 330.6h0M351.9 371.2h0M348.5 353.9h0M387.9 386h0M357.7 367.5h0M379.4 337.6h0M311 388.7h0M334.3 398.5h0M345.7 360.7h0M367.1 372.6h0M384.2 388.1h0M357 365.3h0M347.4 323.4h0M329.1 394.2h0M345.5 351.6h0M366.2 333.2h0M314.9 382h0M313.6 388.3h0M319.3 404.9h0M353.5 326.9h0M393.8 377.9h0M373.4 351.5h0M318.9 384.6h0M388.8 343.5h0M332.2 357h0M313.6 396.6h0M373.1 379.2h0M371.7 368.5h0M352.4 346.4h0M352.4 395.7h0M346.8 370.9h0M378.9 333.1h0M314.6 385.8h0M367.2 335.3h0M390.7 371.5h0M375.4 387h0M369.2 327.9h0M355.4 361.2h0M363.5 351.9h0M344.5 339.2h0M380.8 377.7h0M321.4 380.8h0M344.9 364.4h0M388.9 355.5h0M314.9 391.3h0M379 341.1h0M344.4 373h0M366.9 326.7h0M318.8 374.6h0M392.7 370.8h0M319 388.6h0M382.5 349.2h0M393.5 372.5h0M312 386.6h0M371.2 383.1h0M345.2 388.5h0M346.9 352.5h0M374.8 333.9h0M318.9 383.9h0M374.9 364.6h0M386.8 390.4h0M328.7 352.7h0M334.7 323h0M324.6 360.5h0M315.4 380.5h0M345 352.5h0M379.9 368.1h0M353.1 391.7h0M342.1 371.2h0M325.4 346.8h0M321.2 380.4h0M400.4 380.7h0M390 369.8h0M337 376.8h0M320.3 375h0M308.7 389.7h0M349.6 350.9h0M358.9 338.6h0M353.1 355.9h0M332.4 371.4h0M325.1 386.8h0M331.5 351.2h0M369.6 378.1h0M380.2 367.8h0M346.9 361.4h0M334.7 374.2h0M359.9 325.6h0M322.9 355.5h0M352 365.8h0M346.3 333.1h0M339.3 388h0M361.2 361.3h0M343.3 360.1h0M394.4 390.2h0M318.3 379.9h0M387.5 366.6h0M336.3 327.4h0M349.7 345.3h0M342.1 340.1h0M330.6 394.8h0M338.6 372h0M375.5 341.7h0M324.3 397h0M371.7 373.6h0M395.4 389.9h0M371.3 350.5h0M359.5 387.6h0M337.4 341h0M376.1 346.7h0M363.9 367h0M319.8 347.3h0M345.1 377.3h0M309.3 388.2h0M311 402.3h0M321.3 365.8h0M314.8 398.1h0M338.9 386.4h0M358.6 328.7h0M345.5 359.1h0M320.9 366.9h0M384.3 365h0M352.6 324.8h0M345 333h0M355 379.5h0M389.6 381.3h0M356.2 350.5h0M334.2 323.6h0M372.9 340.6h0M375.6 337.9h0M331.1 381h0M391.2 367.4h0M378.1 378h0M376.8 345.7h0M376.4 366.2h0M465.4 393.7h0M441.4 373.2h0M473.7 384.1h0M440.1 327.2h0M469.1 394.8h0M471.2 308.8h0M441.8 381h0M440.4 392.4h0M491.8 389.9h0M450.9 397.5h0M483.4 342.5h0M450.1 355.4h0M473.9 378.4h0M489.8 334.8h0M441 397.2h0M488.5 386.8h0M467.7 294.9h0M476.2 385.2h0M522.7 302h0M468.3 394.7h0M436.2 366.2h0M490.5 354.9h0M441.8 380.3h0M441.7 330.3h0M479.4 340.4h0M451.3 314.7h0M437.5 357.7h0M473.1 374.1h0M446.2 356.6h0M476.2 378.1h0M504.9 310.1h0M486.4 365.7h0M450.7 367h0M431.6 376.3h0M497.9 351.4h0M456.3 387.7h0M475 398.6h0M466.4 344.1h0M457 339.3h0M437.1 346.2h0M521.6 318.4h0M514.7 307.3h0M444.8 326.9h0M464.9 296.4h0M443.8 326h0M423.9 367.8h0M490.2 377.2h0M510.9 311.3h0M477.9 393.9h0M492.9 386.5h0M458.3 389.6h0M512.6 326.3h0M461 326.3h0M484.2 325.1h0M493.5 313.9h0M465 380.9h0M448.2 368.9h0M446 383h0M473.4 348.9h0M486.5 332.6h0M443.7 385.3h0M495.9 313.7h0M430.1 335.1h0M426.6 377.7h0M480.2 354.2h0M457.7 332.6h0M492 344.6h0M494.8 330.5h0M478.1 337h0M490.4 329.2h0M443.1 346.7h0M421.9 365.6h0M483 331.6h0M448.5 400.5h0M475 355.4h0M451.4 378.7h0M469.5 327.2h0M458.4 310.3h0M471.6 397h0M461 316h0M462.7 394.6h0M475.2 383.3h0M426.5 376.6h0M485.8 383.6h0M467.9 404.1h0M509.7 310.9h0M483.9 299.9h0M440.7 390.7h0M463.9 290.1h0M464.8 311.4h0M471.2 383.2h0M426.4 339.4h0M489.5 359.5h0M471 349.8h0M473.9 331.4h0M476.8 394h0M447.1 351.2h0M446.5 368.7h0M467 342.4h0M483.5 371.1h0M452.2 342.6h0M505.9 325.3h0M430.6 341.5h0M471.4 378.9h0M424 356.7h0M445 322.2h0M461.1 329.5h0M516.2 321.8h0M492.8 331.6h0M462.9 377.3h0M493.1 351.1h0M424.5 376.2h0M482.4 383h0M472.8 351.9h0M462.8 314h0M460.1 381.9h0M492.4 325.8h0M437.6 395.6h0M447.8 394.6h0M458.9 307h0M462.2 318.4h0M451 399.8h0M441 389.3h0M516.6 313.8h0M433.1 368.1h0M465.8 401.2h0M498.7 306.7h0M493.7 385.1h0M445.8 350.3h0M483.1 356.1h0M486.9 301.7h0M484.8 337.8h0M490.9 381.4h0M466.3 375.9h0M474.3 293.7h0M446.4 370.3h0M462.2 352.6h0M488.1 364.2h0M430.5 357h0M482.8 312.9h0M443.1 383.8h0M479.5 329.8h0M474.2 356.9h0M441 386.5h0M435.2 382.5h0M456.3 357.7h0M469.8 317.3h0M473 375.3h0M458.2 339.8h0M476.3 371.6h0M471.8 287.4h0M503.6 333h0M447.5 371.1h0M470.7 335.7h0M423.9 381.4h0M441 365.9h0M477.9 304.7h0M491.9 358.6h0M474.9 381.6h0M497.6 340.8h0M462.6 401.8h0M460.3 305.5h0M469.5 314.5h0M432.6 338.8h0M461.8 347.7h0M490.2 390.6h0M500.2 306.6h0M495 307.5h0M435 359.5h0M493.1 386.2h0M458 339.7h0M501.6 306.7h0M489.2 341.8h0M515.8 293.8h0M431.1 373.7h0M428.7 371.1h0M465.3 301.3h0M475.3 333.9h0M474.1 382.5h0M456.6 394h0M444.5 344.4h0M489.3 310.9h0M493.8 345.2h0M496.9 325.2h0M450 321.2h0M428.6 356.5h0M429 377.4h0M454.2 337.9h0M472.1 332.1h0M442.9 378.9h0M439.4 387.8h0M468.1 380.6h0M487.5 327.3h0M489.5 347.4h0M470.6 302.6h0M505 324.8h0M465.3 388.4h0M499.6 329.3h0M429.9 372.6h0M472.8 348.4h0M492 361h0M430.9 350.3h0M447 386.1h0M519.1 296.3h0M457.2 382.3h0M436.6 378.8h0M459.8 353.1h0M451.9 323.5h0M429 363.4h0M487.9 371.5h0M452.1 355.3h0M496.8 309.8h0M512.6 307.9h0M328.1 456.5h0M316.6 453.5h0M380.4 423.1h0M356.6 408.9h0M324.5 418.8h0M355.4 432.7h0M407.5 411.7h0M386.4 465.7h0M353.3 422.2h0M403.5 406.4h0M395.2 447.1h0M368 420.8h0M390.3 445.3h0M357 409h0M378.3 432.4h0M331.1 462.9h0M332.1 413.3h0M386 454.6h0M348.7 470.7h0M355.3 489.3h0M374.4 457.3h0M351.8 442h0M360.5 471.7h0M331.3 456.6h0M328.4 425.4h0M397.7 438.5h0M357.8 443.4h0M357.1 432.3h0M345.3 483.5h0M365.5 432.2h0M350.2 456.4h0M359.8 420.7h0M392.4 432h0M395.3 438.8h0M398.4 404.7h0M331.4 416.6h0M345.6 425.8h0M406.5 431.2h0M349.3 459h0M341.6 432h0M364.7 446.2h0M378.3 443.5h0M384.4 433h0M347.5 440.3h0M310.7 452.2h0M316.1 480.8h0M347.2 439.1h0M351.8 455.3h0M358.8 432.5h0M357.2 424.7h0M344.3 454.7h0M376.4 459.2h0M326.5 454.1h0M362.3 418.8h0M340.7 481.1h0M318.3 478.6h0M350.9 415.8h0M315.4 446.8h0M387.7 425.5h0M342.4 442.9h0M374.8 416.5h0M344.2 445.1h0M369.3 455.3h0M328 413h0M391.3 432h0M386 416.1h0M364.1 430.4h0M335 412.9h0M328.3 442.4h0M385.3 464h0M338.2 470.8h0M405 421.3h0M322.7 432.6h0M401.7 416.8h0M333.9 459.8h0M374.3 449h0M325.1 465.8h0M411.8 411.8h0M392.2 406h0M384.1 416.2h0M335.5 477h0M360.2 419.2h0M359.2 411h0M339.7 412.2h0M312.3 450.3h0M355.1 445.1h0M327.9 450.1h0M368.3 448.2h0M334.7 465.2h0M368 427.4h0M330.3 467.6h0M368.2 462.9h0M350.4 431.2h0M332.1 415.1h0M342.4 481.8h0M338.9 450.5h0M348.6 450.4h0M355.5 421.6h0M369.9 459.7h0M333.9 450.9h0M369.4 437.4h0M360 412.6h0M358.7 470.1h0M331.7 419.3h0M343.9 409.8h0M366.5 427.9h0M397 429h0M326.9 427.1h0M390.2 457h0M352.7 464.9h0M378.6 411.3h0M357.3 418.4h0M397.4 444h0M347.4 441.8h0M373.3 434h0M388.5 427.1h0M385 452.4h0M414.8 421.9h0M339.7 417.6h0M333.2 473.9h0M328.7 475.7h0M327.6 488.2h0M338.4 468.7h0M334 440.3h0M378.5 420.4h0M330.8 477.3h0M357 435.2h0M358.9 453.2h0M336.2 483.5h0M374.9 424.9h0M325.3 449.8h0M343.6 431.7h0M351.7 470.3h0M358.8 466.4h0M356.8 425h0M362.2 421.6h0M406.9 442.7h0M400.8 409h0M382.1 458.9h0M334.9 453.3h0M327.2 445.6h0M375.3 461.2h0M328.5 425.5h0M332.5 470.9h0M354.9 416.2h0M333.9 452.3h0M311.8 456.2h0M352 414.5h0M391.2 432.7h0M400.7 403.7h0M336.8 474.3h0M401.2 445.6h0M376 418.5h0M317.5 468.3h0M383.1 466.1h0M352.4 420.8h0M338.2 484.7h0M351.6 458.1h0M318 457h0M362.5 412.4h0M328.9 411.5h0M378.1 459.7h0M382.3 429h0M321.2 459.7h0M384.5 423.5h0M320.4 476h0M334.8 431h0M336.6 420.7h0M338.4 467.8h0M335.6 432.8h0M378.5 456h0M347.9 467.6h0M400.4 439h0M364.6 482.9h0M386.2 413.2h0M376.6 412.3h0M337.6 456.6h0M407.7 434.7h0M354.5 410.8h0M331.1 443.3h0M326.9 472.4h0M387.9 442h0M366.3 475.8h0M350.2 423.5h0M375.4 434.8h0M362.4 426.6h0M331.4 485.1h0M329.9 510.9h0M328 504.7h0M343.6 509.4h0M334.2 503.8h0M333.1 502.4h0M337.3 515.5h0M340.3 497.3h0M332 516.4h0M326.4 505.4h0M326.6 501.9h0M343.6 496h0M323.7 496.7h0M350.6 502.4h0M319.5 495h0M331.7 515.9h0M323.8 491.3h0M333.8 513.5h0M330.2 512.3h0M331.3 494.4h0M353.1 497.1h0M346.2 499.9h0M362.5 496.6h0M339.2 509.9h0M332 495.4h0M349.3 495.4h0M344.7 505.8h0M325.3 499.2h0M337.1 506.8h0M330.7 523h0M329.1 508.7h0M350.1 494.5h0M336.2 517.5h0M332.9 512.5h0M283.1 474.2h0M284.5 488h0M274.1 450.5h0M280.7 435.1h0M277.7 466.1h0M268 469.2h0M283.5 462.8h0M302 449.6h0M294 479.9h0M270.1 467.6h0M257.2 476.9h0M296.8 466.8h0M281.6 443.4h0M295.9 470.2h0M275.7 448.7h0M302.3 450.9h0M300.4 453.3h0M293.6 460.2h0M279.8 434.8h0M295.7 442h0M270.9 466.5h0M273.4 485.1h0M285.7 483.4h0M291.6 450.7h0M298.6 462.4h0M293 475.9h0M300.4 474.4h0M302.7 458h0M262.6 455h0M301.8 454h0M278.4 435.1h0M288.3 479.9h0M292.9 424.2h0M280.5 441h0M296.7 437h0M298.5 420h0M271.1 477.4h0M299.4 456.8h0M300.9 472.7h0M260.4 462.4h0M297.9 453.1h0M284.3 485.2h0M283.5 474.4h0M288.8 463.9h0M292.1 480.7h0M299.2 424.7h0M283.4 443.2h0M291.9 470.4h0M281.7 459.3h0M269.2 452.3h0M291.3 486.3h0M296.5 442.1h0M288.9 445.3h0M296.3 471.5h0M273 458.5h0M282.5 466h0M282.6 482.6h0M286.9 462.7h0M267.1 452.4h0M284.9 462.3h0M269 466.7h0M299.8 457.8h0M281.1 465.4h0M291.5 451h0M290.7 441.2h0M283 444.9h0M296 459.7h0M287.9 459.5h0M289.3 422h0M281.2 443.4h0M298.3 474.3h0M296.1 437.7h0" stroke="#fff" stroke-width="1.7" stroke-linecap="round" stroke-opacity="0.85" fill="none"/>
<path d="M218.2 124h0M247.5 121.8h0M229.8 118h0M234.8 120.8h0M165.1 180h0M166.8 193.4h0M198.4 218.5h0M164.3 246.1h0M232.1 179.4h0M178.3 208.2h0M224.2 265.9h0M184.6 208.1h0M224.2 259h0M183.7 262.5h0M176.3 206.9h0M168.9 258.4h0M220.3 247.5h0M193.9 219.2h0M209.7 232.7h0M163.1 215.6h0M238 252.5h0M218.5 189.2h0M211.5 174.1h0M155.3 250h0M217.2 215.4h0M217.7 228.2h0M183.5 201.4h0M187.6 237h0M155.9 296.4h0M153.3 268h0M176.5 252.5h0M163.7 299.1h0M197.5 186.6h0M151.7 256.2h0M185.7 238h0M192.6 205.1h0M224.8 224.5h0M203.3 247h0M155.1 268.4h0M168.8 218.9h0M200 259.5h0M233.5 171.4h0M166.4 213.8h0M222.7 209.6h0M160.5 296h0M198.9 202.3h0M150.2 279.4h0M180 228h0M161.7 222h0M220.2 194h0M230.4 179h0M215.4 213.5h0M146.5 293.4h0M216.8 218.8h0M177.6 243.4h0M229.3 201.3h0M219.3 247.2h0M228.7 194.6h0M175.3 200.9h0M210.7 215.2h0M180.1 274.4h0M163.9 276.8h0M189.4 227.8h0M224.5 211.8h0M149.9 262.2h0M161.1 273.7h0M201.4 204.3h0M183 268.8h0M193 212.8h0M166.9 250.4h0M172.3 214.2h0M198.4 263.1h0M195.4 232.6h0M195 184.6h0M201.4 274.4h0M174.8 279.9h0M193 246.5h0M185.8 278.7h0M193.9 227h0M200.4 208.5h0M162.9 254.1h0M216.3 258.2h0M151.3 301.2h0M174.4 282.4h0M181.1 264.5h0M162.4 286.6h0M212.2 197.2h0M222.8 212.7h0M209.9 239.7h0M182.6 258.6h0M173.2 289h0M154.9 285.3h0M201.8 269.9h0M227.8 227.7h0M211.2 198.2h0M155 284.2h0M221.5 242.2h0M177.6 204.9h0M193 207h0M159.8 294.1h0M167.4 261.1h0M187.4 238h0M171.4 224.5h0M151.8 281.8h0M219.5 263.8h0M209.2 262.6h0M164.5 258.6h0M184.6 215.4h0M194.8 209.7h0M148.7 288.5h0M179.7 196.2h0M190.7 227h0M196.3 188.8h0M233.7 249.6h0M176.8 212.1h0M172.9 294.3h0M171.6 274.9h0M188.9 191.4h0M191.5 219h0M159.9 255.5h0M186.7 243.4h0M281.6 265.7h0M296.9 219.8h0M259.7 235.9h0M326.8 233.1h0M260.7 198h0M250.7 228.7h0M266.5 290.5h0M316.4 241.7h0M339.8 289h0M323.6 266.8h0M269.3 181.4h0M304.6 231.3h0M327.8 222.7h0M311.5 260.5h0M304.8 313.1h0M266.7 200h0M270.7 187h0M295.4 210.2h0M314.9 193.1h0M260.1 227.7h0M305.3 173.3h0M277.6 267.5h0M281.9 200.3h0M259 236.6h0M309.3 207.9h0M300.3 221.4h0M297.9 164.9h0M286.3 191.8h0M316.1 233.6h0M288 215.6h0M305.8 278.8h0M328.9 235h0M281.3 207.9h0M281.7 262.8h0M273.7 268.1h0M333.1 236.7h0M287.2 296.9h0M259.7 199.9h0M285.6 204.6h0M266.8 257.5h0M261.3 248.3h0M308.5 284h0M264.3 188.2h0M314.1 318.4h0M331.4 252.9h0M287.6 205.6h0M257.8 220.3h0M319.5 198.1h0M319.9 305.4h0M286 246.7h0M283 280.5h0M309 164.4h0M275.5 241.2h0M294.4 266.4h0M289.1 232.3h0M319.6 277.6h0M258.3 194.2h0M252.5 203.2h0M312.5 281.7h0M298 186.4h0M309.7 290.2h0M291.6 297.4h0M302.7 232.5h0M290.4 205.5h0M257.3 235.7h0M306.8 284.9h0M319.4 277.9h0M324.5 316.1h0M279.2 255.5h0M320.6 226.3h0M306.6 181.4h0M272.2 173.4h0M338.8 275.2h0M307.2 308.2h0M266.4 247.3h0M304.3 285.8h0M329.1 280.8h0M312.8 218.4h0M330.5 209.8h0M331 296.2h0M264.2 216.4h0M253.6 201h0M308.4 250h0M337.7 241.4h0M286.7 217h0M255.9 197.7h0M298.8 281.5h0M293.7 176.5h0M313.1 258.1h0M273.2 278.9h0M329.8 269.9h0M263.1 223.7h0M282.7 208.7h0M304.2 308.1h0M329 209.9h0M290.8 247.6h0M302.7 177.6h0M290.5 184.7h0M256.1 203.1h0M287.8 188.7h0M318.6 184.5h0M280.6 230.2h0M328.3 266.3h0M294 253.3h0M287.5 159.5h0M308.4 267.3h0M306.6 242.7h0M301.7 242.1h0M283.5 179.5h0M261.9 227.2h0M295.2 230.9h0M306.1 311.9h0M334.5 302.7h0M314.3 265.9h0M315 294.4h0M308.2 212.8h0M289.4 164.4h0M281.3 269.3h0M299 222.6h0M307.3 274.4h0M270.2 208.9h0M277.4 287.2h0M260.7 185.9h0M340.7 283.4h0M316 195.7h0M300.9 229.7h0M249.9 205.3h0M291.6 302.1h0M331.3 268.8h0M326.3 229.9h0M257.5 266.2h0M290.4 213.7h0M310 245.4h0M300.4 227.2h0M313.4 287.8h0M329.3 259.7h0M276.8 188.6h0M308.7 289.6h0M300.4 279.6h0M266.2 211.2h0M293.4 181.8h0M284 290.7h0M284.9 199.6h0M332.4 294.8h0M303.5 224.7h0M278.8 247h0M335.7 273.9h0M275.1 181.2h0M279.2 210.1h0M309.9 291.4h0M289.4 304.7h0M281.8 170h0M317.4 215.1h0M285 191.8h0M277.7 261.9h0M347.5 159.4h0M341.8 159.3h0M346.2 176.6h0M340 164.2h0M349 180.3h0M343.4 181h0M339.8 169.5h0M338.4 162.8h0M340.4 175.9h0M494.3 202.7h0M454.3 182.6h0M489 217.1h0M475.7 268.6h0M458.8 165.6h0M472.1 170.5h0M454.7 183h0M488.5 223.5h0M460.8 231.6h0M504.2 239.8h0M490.7 205.6h0M452.9 213h0M504.5 260h0M496.9 232.6h0M489.2 204.9h0M444.1 170.1h0M497.5 211.5h0M483.6 209.6h0M480.2 209.6h0M467.2 233.8h0M490.6 269.5h0M484.2 220.1h0M447 182.8h0M507.2 274.5h0M509.8 273h0M513.6 253h0M483.9 258.3h0M469.6 202.6h0M478.4 190.2h0M493 208.4h0M480.5 186h0M485.7 247.5h0M504.7 267h0M505.1 266.2h0M473.1 262.2h0M466 241.5h0M452.8 211.5h0M474.8 220.7h0M459.2 181.4h0M516.5 272.5h0M501.6 239.3h0M487.9 247.3h0M464.5 213.5h0M471.5 253.2h0M491.5 227.2h0M476.4 188.5h0M455 201.4h0M464.4 172.7h0M447.7 163.7h0M479.1 209.2h0M453.7 160.4h0M480.6 258.3h0M489.8 235.9h0M491.1 257.5h0M467.6 268.1h0M496.2 267.4h0M470.4 198.5h0M441.1 168.6h0M468.4 237.5h0M447.6 198.8h0M467.9 167.9h0M496.2 226.5h0M466.2 255.7h0M451.4 199.9h0M494.5 229.1h0M467.3 198.7h0M465.9 203.4h0M496 256.2h0M464.6 268.1h0M470.6 169.7h0M453.5 177.5h0M484.6 188.3h0M501.8 259.4h0M474.1 220.4h0M510.3 273.4h0M474.9 187.2h0M498 237.4h0M509.5 257.9h0M476.3 181.1h0M490.6 257.7h0M413.3 257.6h0M425.2 263.9h0M413.5 255.5h0M415.6 253.9h0M419.2 266.2h0M415 261h0M371.4 163h0M428.2 219.7h0M397.7 173.3h0M363 217.9h0M378.6 200.6h0M387.8 184.4h0M356.5 203.5h0M388 233.3h0M417.2 171h0M407.8 206h0M364.9 213.9h0M418.1 171.7h0M378.4 170.4h0M395.9 160.8h0M419.3 195.9h0M373.6 200.3h0M402.1 220.5h0M410.8 216.5h0M390.7 156.6h0M432.2 213.1h0M358 206.1h0M424.1 209.3h0M384.7 156.3h0M391.4 177.7h0M379.6 257.6h0M429.2 218.1h0M401.3 178.5h0M367.1 164h0M387.8 250.4h0M383.6 243.7h0M402.3 179.5h0M375.5 237h0M403.8 173.2h0M404 161.8h0M369.2 161.3h0M381.4 239.4h0M427.4 214.5h0M418.8 168.8h0M428 180.9h0M381 250.6h0M372.4 224.1h0M406.9 225.1h0M380.9 196.8h0M373 228.6h0M406.2 171.5h0M416.1 187.9h0M370.1 211.7h0M413.6 189.5h0M375.5 213.1h0M386 237h0M412.6 183.3h0M414.6 169.7h0M406.6 225.7h0M371.7 157.1h0M398.1 220h0M386 218.8h0M397.4 166.4h0M392.9 253.2h0M405.1 238.5h0M426.1 209.7h0M366.8 166.9h0M381.9 243.5h0M369 165.4h0M398.9 192.5h0M408.9 167h0M396.9 177.8h0M398.6 257.6h0M375.2 252.7h0M386.2 209h0M383.5 221.5h0M432.1 210.3h0M374.9 243h0M365.3 206.3h0M384.3 274.5h0M405.5 196.4h0M371.2 185.9h0M419.6 176.9h0M397.2 177.7h0M413.8 211.3h0M413.9 203.5h0M374.4 181.2h0M371.9 227.2h0M386.1 150.6h0M425.1 211.6h0M378.4 211.7h0M377.9 153.7h0M390.1 213.5h0M383.7 255.4h0M413.9 194.7h0M419.3 191.3h0M420.6 296.7h0M432.2 282.4h0M446.5 253.3h0M402.4 301.2h0M446 248.6h0M435.1 277.1h0M434.3 258h0M452.1 273.4h0M417.8 304.6h0M440.2 308.3h0M427.4 285.8h0M436.6 284.8h0M411.4 293.4h0M411.5 300.4h0M416.2 320.4h0M438.3 282.7h0M412.9 318.1h0M410.1 325.9h0M439 300.9h0M443.6 260.1h0M432 281.2h0M424.7 317.9h0M454 246.5h0M433 305.3h0M441.8 248.8h0M443.1 263h0M432.9 319.2h0M420.2 293.8h0M428.1 319h0M426.9 316.6h0M426.6 294.5h0M454.1 250.6h0M408 302.1h0M446.3 248.2h0M450.9 250.8h0M414.1 288.6h0M455.1 255.9h0M423.5 290h0M452.3 249.5h0M447 243.2h0M434.5 302.9h0M427.1 284.6h0M448.3 243.8h0M436.6 296.6h0M417.7 298.1h0M492.9 286.2h0M493.9 284h0M496.5 291h0M498.7 281.3h0M174.2 332.9h0M180.1 360.3h0M234.9 285.5h0M237.6 302.8h0M193.4 403.6h0M242.8 317.8h0M155.8 331.5h0M267.6 335h0M214 340.4h0M234.3 415.2h0M179 372.4h0M170.4 347.7h0M226.9 394.8h0M233.9 364.7h0M240 397.3h0M216.6 374.1h0M200.1 425.5h0M214.1 417.5h0M236.2 312.9h0M204.8 413.8h0M229 309.5h0M241.7 354.2h0M228.8 308.7h0M225.1 313.4h0M209.1 367.5h0M247.2 306.8h0M245.5 293.5h0M186.2 331.7h0M267 319.9h0M272.8 346.8h0M236.6 377.2h0M199.8 419.9h0M211.5 331.7h0M235 391.2h0M259 326.7h0M193.4 384.1h0M232.7 325.9h0M164 333.2h0M214.5 323.3h0M192.5 371.6h0M195.4 399.6h0M240.7 374.8h0M209.4 398.5h0M233.7 384.1h0M239.9 313.8h0M224.6 421.3h0M229.8 421.2h0M226.1 359h0M191.3 366.5h0M251.6 382.1h0M202.5 329h0M204.1 323.2h0M172.2 367.9h0M212.5 392.7h0M172.2 315.5h0M192.8 313h0M169 337.1h0M180.9 342.7h0M216.4 388.3h0M190 385.2h0M246.3 311.9h0M230.6 311.3h0M253.2 314.7h0M209.7 424.5h0M162.3 357.1h0M263.8 363.8h0M234.6 382.6h0M162.7 361.7h0M217.2 410.1h0M180.3 377.4h0M207.6 306.1h0M171 394.7h0M252.1 340.1h0M251.2 306.1h0M251.3 373.5h0M188.4 307.7h0M214.8 422.2h0M273.5 317h0M206.4 381.9h0M231.3 351.4h0M189.1 313.7h0M241.9 381.2h0M242.3 365.1h0M223.4 336.8h0M179.6 348h0M177 334h0M204.5 310.1h0M201.8 368.4h0M259.2 315.7h0M161.9 370.7h0M259.1 361.3h0M269.4 333.4h0M200.9 324.5h0M211.5 419.6h0M240.5 308.4h0M245.9 354.7h0M226.7 324.4h0M236.1 385.2h0M209.2 345.7h0M239.8 299.7h0M174.5 358.7h0M256 300h0M243.3 396.9h0M195.8 381.5h0M231.2 362.8h0M195.9 304.1h0M257.5 342.5h0M197.6 339.8h0M189 335.1h0M192.9 368.4h0M156.1 333h0M214.6 332.6h0M206.3 384.9h0M241.5 380.8h0M235.5 350.6h0M202.6 342.7h0M167.4 382.3h0M233.6 311.4h0M157.7 325.1h0M234.9 398.8h0M176.8 380h0M255.8 346.5h0M212.6 331.3h0M164.6 331.1h0M238.6 350.5h0M260.8 373.9h0M187.2 346.2h0M215.1 350.8h0M203.3 375.2h0M266.4 342.3h0M249.8 382.1h0M230.3 386.5h0M189.5 364.1h0M205.1 325.3h0M264.2 313.3h0M159 341.6h0M180.6 342.5h0M230.3 298h0M161.6 352.1h0M269.2 311.5h0M249.4 320.2h0M183.5 332.6h0M252.6 294.8h0M256.3 357h0M220.8 299.3h0M155.9 351.7h0M193 414h0M233.5 348.5h0M212.4 408h0M218 420.7h0M191.1 349.2h0M201.3 327h0M186.2 366.3h0M176 362.7h0M263.8 350.5h0M198.6 359.2h0M258.9 358.5h0M255 340.1h0M216.4 333.2h0M207.6 424.1h0M207.7 355.2h0M184.4 372.7h0M206.7 369.1h0M240.5 318.2h0M186.8 327.6h0M225.2 285.3h0M187.1 397.7h0M317.8 374.4h0M362.3 349.3h0M340.7 329.9h0M338.8 356.3h0M385.4 392h0M339.7 358.9h0M379.9 356.3h0M309.3 396.3h0M323.9 383.4h0M324.2 367h0M372 358.3h0M383.7 395.2h0M329 375.2h0M358.7 348.9h0M358.1 389.3h0M320.3 356.6h0M364 376.4h0M381.6 354.7h0M393.4 390.2h0M320.7 384h0M374.3 349.7h0M362.9 379.9h0M375.9 341.4h0M325.7 342.7h0M369 323.8h0M361.7 389.1h0M351.8 322.5h0M388.6 367.7h0M320.2 353.3h0M324.9 336.4h0M374.4 362.9h0M370.8 335.4h0M329.8 347.4h0M370.1 376h0M335.9 383.7h0M401.8 376.4h0M329.7 396.5h0M370 355.7h0M350.7 381.5h0M344.5 340.1h0M369.1 376.5h0M384.2 362.1h0M381.7 349.1h0M327.5 401.1h0M377.9 369.1h0M339.8 365.4h0M355 338.8h0M387.2 372.7h0M348.2 361.4h0M369.3 324.6h0M333.7 400.9h0M334.4 383.2h0M339 336.5h0M364.7 346.7h0M334.2 357.8h0M358 354.4h0M350 335.6h0M373.1 365.5h0M326.3 396.9h0M364.7 384.8h0M384.6 353.7h0M333.6 327.4h0M372.2 343.2h0M324.1 360.5h0M349.3 372.6h0M359.4 389h0M328.6 365.4h0M391 392h0M325.1 386.1h0M322.8 377h0M357.1 366.7h0M389 397.7h0M392.5 382.5h0M323.7 364.8h0M350.3 325.8h0M380.7 348.2h0M338.9 348.1h0M334.9 354.1h0M332.1 343.5h0M332.2 372.6h0M323.1 398.2h0M358.6 385h0M355.6 390h0M386.4 384.3h0M327.3 334.3h0M477.9 376.7h0M498.5 304.8h0M467.3 331.7h0M522.8 314.9h0M493.7 360.1h0M474.6 386.7h0M477.4 312.7h0M472.8 289h0M510.6 326.4h0M474.1 335.6h0M487.9 381.5h0M472.6 401.5h0M510.3 329.6h0M462.5 310.8h0M473.4 290.2h0M497.6 330.4h0M488.1 303.7h0M434.6 387.6h0M496.5 330.7h0M470.6 299.4h0M477.9 387.2h0M470.2 336.5h0M492.1 310.6h0M447.8 342.6h0M451.9 346.1h0M513.1 299.6h0M452.8 372.7h0M520 317h0M448.1 358.6h0M454.3 380.7h0M495.4 355.6h0M475.2 397.9h0M480.1 303.1h0M452.9 392.3h0M516.6 321.6h0M422 376.6h0M430 363h0M471.6 365.5h0M441.1 344.5h0M488.4 373.8h0M458.2 347.1h0M495 371.8h0M443.4 334.7h0M470.4 347.2h0M481.8 301.2h0M486.1 392.8h0M461.8 330.8h0M448.7 330.6h0M429.2 376.9h0M490.5 323h0M480.7 359.4h0M487.9 315.3h0M489.2 361.4h0M482 353.2h0M495.9 365.7h0M443.3 337.2h0M477.6 388.7h0M443.8 394.7h0M468.1 334.2h0M438.2 372h0M437.3 349.1h0M482.8 307.4h0M422.9 347.2h0M490.7 318.4h0M486.7 380.5h0M426.2 347.6h0M519 299.6h0M506.8 329.4h0M432.2 375.6h0M520 320.3h0M445.4 355.3h0M513.4 327.6h0M461.8 344.9h0M463.3 353.6h0M467.3 288.4h0M464.4 300.5h0M506.7 310.7h0M506.6 325.5h0M472.7 385.3h0M478.4 361.9h0M473.3 379.3h0M423.8 363.4h0M451.3 309.6h0M510.4 331h0M463.9 390.4h0M458.7 351.6h0M431.2 336.4h0M449 329h0M438.4 346.5h0M475.9 402h0M428.3 356.2h0M493.7 344.4h0M477 327.3h0M468.6 339.8h0M459.4 353.9h0M509.5 301.1h0M467.3 345.7h0M511.8 316.2h0M464.3 312.9h0M439.9 327.1h0M470.7 286.4h0M515.8 316.3h0M484.6 337.2h0M521.2 303.5h0M459.5 389.3h0M456.7 391.8h0M425.7 349.9h0M346.4 476.4h0M390.7 453.6h0M317.1 443.8h0M389.8 459.8h0M364.5 437.6h0M410.1 435.4h0M347.7 463.3h0M411.3 410.7h0M376 461.5h0M341.7 490.3h0M360.9 471.8h0M403.4 440h0M316.9 434.9h0M354.4 434.7h0M375.2 446.2h0M355 451.1h0M322.2 474.9h0M385.4 452.8h0M328.4 415.2h0M333.9 456.6h0M349.6 485.2h0M314.5 461.5h0M397.9 415h0M348.8 414.9h0M375.1 467.4h0M334.7 461.5h0M326.7 447.4h0M347.1 422.3h0M362.1 448.9h0M377.7 420h0M333.4 435.6h0M404.1 447.9h0M317.4 438.1h0M404.4 419h0M323.8 483.8h0M333.1 449.7h0M324.1 469.8h0M358.5 461.2h0M350.7 447.4h0M323.3 431.3h0M328.6 475.7h0M379.2 437.4h0M407.1 404.9h0M358 486h0M378.7 414.9h0M355.1 489.4h0M395.6 418.7h0M323.1 460.7h0M318.5 463.3h0M361.1 484.5h0M403.5 441h0M357.1 432.5h0M398.4 430.6h0M375.3 432.7h0M345.3 476.5h0M365.5 408.7h0M394.3 409.8h0M334.8 442.1h0M340.8 413.7h0M344.4 481.5h0M344.6 434.8h0M331 421.3h0M405.1 435h0M358.7 483h0M336.5 439h0M356.7 463.3h0M410.5 422.1h0M398.4 446.3h0M335.5 435.4h0M405.5 446.5h0M397.9 404.5h0M362.4 441.9h0M376.1 431h0M391.5 422.9h0M409.7 443.8h0M357.2 442h0M323.2 485.5h0M336.2 409.3h0M402.8 415.1h0M386.7 463.7h0M361.7 408.5h0M403.2 428.7h0M348.4 455.5h0M357.2 476.5h0M400.2 413.8h0M369.8 450h0M330.9 485.2h0M316.5 474.2h0M405 445.3h0M393.3 439.2h0M323.1 430.1h0M392.4 411.4h0M358.5 434.5h0M324.5 505.2h0M347 506.1h0M338.1 513.4h0M354.3 502.8h0M359.5 502.5h0M333.1 499.5h0M337.5 510h0M342.3 496.4h0M355.7 502.5h0M323.1 500.2h0M349.7 497.3h0M339.2 505.7h0M333.2 519.7h0M359.6 495.6h0M357.6 497.7h0M323.7 509.5h0M294 482h0M295.8 461.8h0M282.5 462h0M297 461.5h0M296.4 451.2h0M292.1 458.6h0M299.5 446.8h0M279.8 450.1h0M298.2 454.8h0M300.2 475.4h0M283.1 475h0M274.6 483.9h0M297 479.6h0M268.8 486.9h0M301.6 421.1h0M293.4 428.6h0M282 468.9h0M292.2 424.9h0M273.9 444.6h0M294.1 463.4h0M289.4 423.6h0M298.5 444.9h0M277.6 459.8h0M283.4 453.2h0M261.2 470.4h0M283.9 444.2h0M301.9 425.5h0M302 429.1h0M285.1 464.1h0M276 444.9h0M293.9 482h0M293.8 476.2h0M285.8 442.3h0M290.7 469h0M280.8 488h0M294.8 463.7h0" stroke="#fff" stroke-width="2.7" stroke-linecap="round" stroke-opacity="0.8" fill="none"/>
<text x="234.5" y="131.7" font-size="28.5" font-weight="normal" text-anchor="middle" fill="#333" fill-opacity="0.72">9</text>
<text x="281.3" y="134.4" font-size="28.5" font-weight="normal" text-anchor="middle" fill="#333" fill-opacity="0.72">4</text>
<text x="338.2" y="149.6" font-size="28.5" font-weight="normal" text-anchor="middle" fill="#333" fill-opacity="0.72">12</text>
<text x="169.1" y="198.5" font-size="28.5" font-weight="normal" text-anchor="middle" fill="#333" fill-opacity="0.72">15</text>
<text x="196.3" y="251.9" font-size="28.5" font-weight="normal" text-anchor="middle" fill="#333" fill-opacity="0.72">5</text>
<text x="303.2" y="262.6" font-size="28.5" font-weight="normal" text-anchor="middle" fill="#333" fill-opacity="0.72">16</text>
<text x="390" y="217.2" font-size="28.5" font-weight="normal" text-anchor="middle" fill="#333" fill-opacity="0.72">3</text>
<text x="466.9" y="243.4" font-size="28.5" font-weight="normal" text-anchor="middle" fill="#333" fill-opacity="0.72">6</text>
<text x="433.5" y="302.7" font-size="28.5" font-weight="normal" text-anchor="middle" fill="#333" fill-opacity="0.72">11</text>
<text x="301.3" y="349.4" font-size="28.5" font-weight="normal" text-anchor="middle" fill="#333" fill-opacity="0.72">2</text>
<text x="221.2" y="364.1" font-size="28.5" font-weight="normal" text-anchor="middle" fill="#333" fill-opacity="0.72">1</text>
<text x="349.4" y="378.8" font-size="28.5" font-weight="normal" text-anchor="middle" fill="#333" fill-opacity="0.72">10</text>
<text x="458.9" y="352.1" font-size="28.5" font-weight="normal" text-anchor="middle" fill="#333" fill-opacity="0.72">7</text>
<text x="354.7" y="445.6" font-size="28.5" font-weight="normal" text-anchor="middle" fill="#333" fill-opacity="0.72">13</text>
<text x="288" y="465.6" font-size="28.5" font-weight="normal" text-anchor="middle" fill="#333" fill-opacity="0.72">14</text>
<text x="333.9" y="512.3" font-size="28.5" font-weight="normal" text-anchor="middle" fill="#333" fill-opacity="0.72">8</text>
</g>
<text x="574" y="120" font-size="20.5" font-weight="bold" text-anchor="start" fill="#000">Cluster</text>
<circle cx="585.3" cy="149.7" r="9.3" fill="#e8474c"/>
<text x="602.5" y="159.3" font-size="19.5" font-weight="normal" text-anchor="start" fill="#000">1</text>
<circle cx="585.3" cy="174.6" r="9.3" fill="#5b9bd5"/>
<text x="602.5" y="184.2" font-size="19.5" font-weight="normal" text-anchor="start" fill="#000">2</text>
<circle cx="585.3" cy="199.6" r="9.3" fill="#6dbb6a"/>
<text x="602.5" y="209.2" font-size="19.5" font-weight="normal" text-anchor="start" fill="#000">3</text>
<circle cx="585.3" cy="224.5" r="9.3" fill="#b07cc6"/>
<text x="602.5" y="234.1" font-size="19.5" font-weight="normal" text-anchor="start" fill="#000">4</text>
<circle cx="585.3" cy="249.4" r="9.3" fill="#ff9933"/>
<text x="602.5" y="259" font-size="19.5" font-weight="normal" text-anchor="start" fill="#000">5</text>
<circle cx="585.3" cy="274.3" r="9.3" fill="#ffff66"/>
<text x="602.5" y="283.9" font-size="19.5" font-weight="normal" text-anchor="start" fill="#000">6</text>
<circle cx="585.3" cy="299.3" r="9.3" fill="#b87850"/>
<text x="602.5" y="308.9" font-size="19.5" font-weight="normal" text-anchor="start" fill="#000">7</text>
<circle cx="585.3" cy="324.2" r="9.3" fill="#f99ccb"/>
<text x="602.5" y="333.8" font-size="19.5" font-weight="normal" text-anchor="start" fill="#000">8</text>
<circle cx="585.3" cy="349.1" r="9.3" fill="#b0b0b0"/>
<text x="602.5" y="358.7" font-size="19.5" font-weight="normal" text-anchor="start" fill="#000">9</text>
<circle cx="585.3" cy="374.1" r="9.3" fill="#80cdb5"/>
<text x="602.5" y="383.7" font-size="19.5" font-weight="normal" text-anchor="start" fill="#000">10</text>
<circle cx="585.3" cy="399" r="9.3" fill="#fca07c"/>
<text x="602.5" y="408.6" font-size="19.5" font-weight="normal" text-anchor="start" fill="#000">11</text>
<circle cx="585.3" cy="423.9" r="9.3" fill="#a3b3d9"/>
<text x="602.5" y="433.5" font-size="19.5" font-weight="normal" text-anchor="start" fill="#000">12</text>
<circle cx="585.3" cy="448.9" r="9.3" fill="#e9a0d0"/>
<text x="602.5" y="458.5" font-size="19.5" font-weight="normal" text-anchor="start" fill="#000">13</text>
<circle cx="585.3" cy="473.8" r="9.3" fill="#b0dc6a"/>
<text x="602.5" y="483.4" font-size="19.5" font-weight="normal" text-anchor="start" fill="#000">14</text>
<circle cx="585.3" cy="498.7" r="9.3" fill="#ffe04e"/>
<text x="602.5" y="508.3" font-size="19.5" font-weight="normal" text-anchor="start" fill="#000">15</text>
<circle cx="585.3" cy="523.7" r="9.3" fill="#e8cfa5"/>
<text x="602.5" y="533.2" font-size="19.5" font-weight="normal" text-anchor="start" fill="#000">16</text>
<path d="M49 502V600H146" fill="none" stroke="#000" stroke-width="3"/>
<path d="M42 512L49 501L56 512M136 593L147 600L136 607" fill="none" stroke="#000" stroke-width="3" stroke-linejoin="miter"/>
<text x="58" y="441" font-size="23.7" font-weight="normal" text-anchor="middle" fill="#222" transform="rotate(-90 58 441)">tSNE-2</text>
<text x="166" y="609" font-size="23.7" font-weight="normal" text-anchor="start" fill="#222">tSNE-1</text>
</g>
</svg>
</body></html>
